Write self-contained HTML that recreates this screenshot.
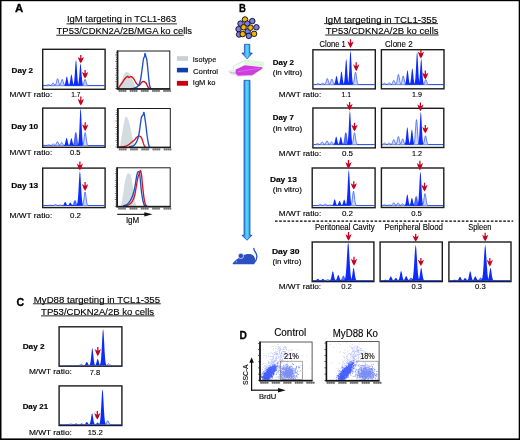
<!DOCTYPE html>
<html><head><meta charset="utf-8"><style>html,body{margin:0;padding:0;background:#fff;}svg{display:block;will-change:transform;}</style></head>
<body>
<svg width="520" height="440" viewBox="0 0 520 440" font-family='"Liberation Sans", sans-serif'>
<rect x="0" y="0" width="520" height="440" fill="#fff"/>
<text x="15.00" y="12.30" font-size="11.6" font-weight="bold" textLength="8.20" lengthAdjust="spacingAndGlyphs" fill="#000" stroke="#000" stroke-width="0.3">A</text>
<text x="67.00" y="22.30" font-size="8.5" font-weight="normal" textLength="109.20" lengthAdjust="spacingAndGlyphs" fill="#000" stroke="#000" stroke-width="0.12">IgM targeting in TCL1-863</text>
<rect x="66.50" y="23.47" width="110.40" height="0.85" fill="#000"/>
<text x="56.60" y="33.90" font-size="8.8" font-weight="normal" textLength="135.50" lengthAdjust="spacingAndGlyphs" fill="#000" stroke="#000" stroke-width="0.12">TP53/CDKN2A/2B/MGA ko cells</text>
<rect x="56.30" y="34.78" width="127.50" height="0.85" fill="#000"/>
<text x="11.60" y="73.30" font-size="7.6" font-weight="bold" textLength="21.50" lengthAdjust="spacingAndGlyphs" fill="#000" stroke="#000" stroke-width="0.15">Day 2</text>
<rect x="42.00" y="48.60" width="63.80" height="41.40" fill="#fff"/>
<clipPath id="c1"><rect x="43.40" y="50.00" width="61.00" height="38.60"/></clipPath><g clip-path="url(#c1)">
<rect x="42.00" y="86" width="63.80" height="1" fill="#e8eedc"/>
<rect x="42.00" y="85" width="63.80" height="1" fill="#3355ff"/>
<path d="M40.48,85.50 L40.91,85.50 L41.34,85.49 L41.76,85.48 L42.19,85.46 L42.62,85.42 L43.05,85.37 L43.47,85.32 L43.90,85.30 L44.33,85.32 L44.75,85.37 L45.18,85.42 L45.61,85.46 L46.04,85.48 L46.46,85.49 L46.89,85.50 L47.32,85.50 Z" fill="#cdd5ff"/>
<path d="M40.48,85.50 L40.91,85.50 L41.34,85.49 L41.76,85.48 L42.19,85.46 L42.62,85.42 L43.05,85.37 L43.47,85.32 L43.90,85.30 L44.33,85.32 L44.75,85.37 L45.18,85.42 L45.61,85.46 L46.04,85.48 L46.46,85.49 L46.89,85.50 L47.32,85.50" fill="none" stroke="#3a5cff" stroke-width="0.75"/>
<path d="M45.08,85.50 L45.51,85.49 L45.94,85.47 L46.36,85.42 L46.79,85.30 L47.22,85.10 L47.65,84.83 L48.07,84.60 L48.50,84.50 L48.93,84.60 L49.36,84.83 L49.78,85.10 L50.21,85.30 L50.64,85.42 L51.06,85.47 L51.49,85.49 L51.92,85.50 Z" fill="#cdd5ff"/>
<path d="M45.08,85.50 L45.51,85.49 L45.94,85.47 L46.36,85.42 L46.79,85.30 L47.22,85.10 L47.65,84.83 L48.07,84.60 L48.50,84.50 L48.93,84.60 L49.36,84.83 L49.78,85.10 L50.21,85.30 L50.64,85.42 L51.06,85.47 L51.49,85.49 L51.92,85.50" fill="none" stroke="#3a5cff" stroke-width="0.75"/>
<path d="M49.68,85.50 L50.11,85.48 L50.54,85.43 L50.96,85.30 L51.39,85.01 L51.82,84.49 L52.25,83.83 L52.67,83.24 L53.10,83.00 L53.53,83.24 L53.95,83.83 L54.38,84.49 L54.81,85.01 L55.24,85.30 L55.66,85.43 L56.09,85.48 L56.52,85.50 Z" fill="#cdd5ff"/>
<path d="M49.68,85.50 L50.11,85.48 L50.54,85.43 L50.96,85.30 L51.39,85.01 L51.82,84.49 L52.25,83.83 L52.67,83.24 L53.10,83.00 L53.53,83.24 L53.95,83.83 L54.38,84.49 L54.81,85.01 L55.24,85.30 L55.66,85.43 L56.09,85.48 L56.52,85.50" fill="none" stroke="#3a5cff" stroke-width="0.75"/>
<path d="M54.18,85.49 L54.61,85.45 L55.04,85.32 L55.46,84.95 L55.89,84.13 L56.32,82.73 L56.75,80.90 L57.17,79.26 L57.60,78.60 L58.03,79.26 L58.45,80.90 L58.88,82.73 L59.31,84.13 L59.74,84.95 L60.16,85.32 L60.59,85.45 L61.02,85.49 Z" fill="#cdd5ff"/>
<path d="M54.18,85.49 L54.61,85.45 L55.04,85.32 L55.46,84.95 L55.89,84.13 L56.32,82.73 L56.75,80.90 L57.17,79.26 L57.60,78.60 L58.03,79.26 L58.45,80.90 L58.88,82.73 L59.31,84.13 L59.74,84.95 L60.16,85.32 L60.59,85.45 L61.02,85.49" fill="none" stroke="#3a5cff" stroke-width="0.75"/>
<path d="M58.78,85.49 L59.21,85.46 L59.64,85.34 L60.06,85.01 L60.49,84.27 L60.92,83.01 L61.35,81.36 L61.77,79.90 L62.20,79.30 L62.63,79.90 L63.06,81.36 L63.48,83.01 L63.91,84.27 L64.34,85.01 L64.77,85.34 L65.19,85.46 L65.62,85.49 Z" fill="#cdd5ff"/>
<path d="M58.78,85.49 L59.21,85.46 L59.64,85.34 L60.06,85.01 L60.49,84.27 L60.92,83.01 L61.35,81.36 L61.77,79.90 L62.20,79.30 L62.63,79.90 L63.06,81.36 L63.48,83.01 L63.91,84.27 L64.34,85.01 L64.77,85.34 L65.19,85.46 L65.62,85.49" fill="none" stroke="#3a5cff" stroke-width="0.75"/>
<path d="M63.38,85.49 L63.81,85.44 L64.23,85.26 L64.66,84.78 L65.09,83.70 L65.52,81.84 L65.94,79.43 L66.37,77.28 L66.80,76.40 L67.23,77.28 L67.66,79.43 L68.08,81.84 L68.51,83.70 L68.94,84.78 L69.36,85.26 L69.79,85.44 L70.22,85.49 Z" fill="#0c2cff"/>
<path d="M67.98,85.48 L68.41,85.42 L68.84,85.21 L69.26,84.61 L69.69,83.28 L70.12,81.00 L70.55,78.03 L70.97,75.38 L71.40,74.30 L71.83,75.38 L72.26,78.03 L72.68,81.00 L73.11,83.28 L73.54,84.61 L73.97,85.21 L74.39,85.42 L74.82,85.48 Z" fill="#0c2cff"/>
<path d="M72.58,85.46 L73.01,85.32 L73.44,84.83 L73.86,83.45 L74.29,80.39 L74.72,75.13 L75.14,68.29 L75.57,62.18 L76.00,59.70 L76.43,62.18 L76.86,68.29 L77.28,75.13 L77.71,80.39 L78.14,83.45 L78.56,84.83 L78.99,85.32 L79.42,85.46 Z" fill="#0c2cff"/>
<path d="M77.08,85.47 L77.51,85.34 L77.94,84.92 L78.36,83.73 L78.79,81.11 L79.22,76.58 L79.64,70.69 L80.07,65.44 L80.50,63.30 L80.93,65.44 L81.36,70.69 L81.78,76.58 L82.21,81.11 L82.64,83.73 L83.06,84.92 L83.49,85.34 L83.92,85.47 Z" fill="#0c2cff"/>
<path d="M81.68,85.49 L82.11,85.46 L82.53,85.34 L82.96,85.01 L83.39,84.27 L83.82,83.01 L84.24,81.36 L84.67,79.90 L85.10,79.30 L85.53,79.90 L85.95,81.36 L86.38,83.01 L86.81,84.27 L87.24,85.01 L87.66,85.34 L88.09,85.46 L88.52,85.49 Z" fill="#cdd5ff"/>
<path d="M81.68,85.49 L82.11,85.46 L82.53,85.34 L82.96,85.01 L83.39,84.27 L83.82,83.01 L84.24,81.36 L84.67,79.90 L85.10,79.30 L85.53,79.90 L85.95,81.36 L86.38,83.01 L86.81,84.27 L87.24,85.01 L87.66,85.34 L88.09,85.46 L88.52,85.49" fill="none" stroke="#3a5cff" stroke-width="0.75"/>
</g>
<rect x="42.70" y="49.30" width="62.40" height="40.00" fill="none" stroke="#1c1c1c" stroke-width="1.4"/>
<path d="M80.17,55.10 L81.42,55.10 L81.42,58.54 L83.90,56.99 Q82.50,61.25 80.80,63.30 Q79.09,61.25 77.70,56.99 L80.17,58.54 Z" fill="#c8001e"/>
<path d="M84.47,69.90 L85.72,69.90 L85.72,73.55 L88.20,71.90 Q86.80,76.42 85.10,78.60 Q83.39,76.42 82.00,71.90 L84.47,73.55 Z" fill="#c8001e"/>
<text x="9.60" y="97.30" font-size="7.0" font-weight="normal" textLength="42.60" lengthAdjust="spacingAndGlyphs" fill="#000" stroke="#000" stroke-width="0.12">M/WT ratio:</text>
<text x="71.30" y="97.30" font-size="7.0" font-weight="normal" textLength="9.20" lengthAdjust="spacingAndGlyphs" fill="#000" stroke="#000" stroke-width="0.12">1.7</text>
<text x="11.25" y="129.30" font-size="7.6" font-weight="bold" textLength="27.00" lengthAdjust="spacingAndGlyphs" fill="#000" stroke="#000" stroke-width="0.15">Day 10</text>
<rect x="42.00" y="107.40" width="63.80" height="40.60" fill="#fff"/>
<clipPath id="c2"><rect x="43.40" y="108.80" width="61.00" height="37.80"/></clipPath><g clip-path="url(#c2)">
<rect x="42.00" y="146" width="63.80" height="1" fill="#e8eedc"/>
<rect x="42.00" y="145" width="63.80" height="1" fill="#3355ff"/>
<path d="M40.58,145.50 L41.01,145.50 L41.44,145.49 L41.86,145.48 L42.29,145.44 L42.72,145.38 L43.15,145.30 L43.57,145.23 L44.00,145.20 L44.43,145.23 L44.86,145.30 L45.28,145.38 L45.71,145.44 L46.14,145.48 L46.56,145.49 L46.99,145.50 L47.42,145.50 Z" fill="#cdd5ff"/>
<path d="M40.58,145.50 L41.01,145.50 L41.44,145.49 L41.86,145.48 L42.29,145.44 L42.72,145.38 L43.15,145.30 L43.57,145.23 L44.00,145.20 L44.43,145.23 L44.86,145.30 L45.28,145.38 L45.71,145.44 L46.14,145.48 L46.56,145.49 L46.99,145.50 L47.42,145.50" fill="none" stroke="#3a5cff" stroke-width="0.75"/>
<path d="M45.18,145.50 L45.61,145.50 L46.04,145.48 L46.46,145.44 L46.89,145.36 L47.32,145.22 L47.75,145.03 L48.17,144.87 L48.60,144.80 L49.03,144.87 L49.45,145.03 L49.88,145.22 L50.31,145.36 L50.74,145.44 L51.16,145.48 L51.59,145.50 L52.02,145.50 Z" fill="#cdd5ff"/>
<path d="M45.18,145.50 L45.61,145.50 L46.04,145.48 L46.46,145.44 L46.89,145.36 L47.32,145.22 L47.75,145.03 L48.17,144.87 L48.60,144.80 L49.03,144.87 L49.45,145.03 L49.88,145.22 L50.31,145.36 L50.74,145.44 L51.16,145.48 L51.59,145.50 L52.02,145.50" fill="none" stroke="#3a5cff" stroke-width="0.75"/>
<path d="M49.78,145.50 L50.21,145.49 L50.64,145.46 L51.06,145.38 L51.49,145.20 L51.92,144.90 L52.35,144.50 L52.77,144.14 L53.20,144.00 L53.63,144.14 L54.06,144.50 L54.48,144.90 L54.91,145.20 L55.34,145.38 L55.77,145.46 L56.19,145.49 L56.62,145.50 Z" fill="#cdd5ff"/>
<path d="M49.78,145.50 L50.21,145.49 L50.64,145.46 L51.06,145.38 L51.49,145.20 L51.92,144.90 L52.35,144.50 L52.77,144.14 L53.20,144.00 L53.63,144.14 L54.06,144.50 L54.48,144.90 L54.91,145.20 L55.34,145.38 L55.77,145.46 L56.19,145.49 L56.62,145.50" fill="none" stroke="#3a5cff" stroke-width="0.75"/>
<path d="M53.98,145.49 L54.41,145.47 L54.84,145.40 L55.26,145.20 L55.69,144.75 L56.12,143.97 L56.55,142.97 L56.97,142.07 L57.40,141.70 L57.83,142.07 L58.25,142.97 L58.68,143.97 L59.11,144.75 L59.54,145.20 L59.96,145.40 L60.39,145.47 L60.82,145.49 Z" fill="#cdd5ff"/>
<path d="M53.98,145.49 L54.41,145.47 L54.84,145.40 L55.26,145.20 L55.69,144.75 L56.12,143.97 L56.55,142.97 L56.97,142.07 L57.40,141.70 L57.83,142.07 L58.25,142.97 L58.68,143.97 L59.11,144.75 L59.54,145.20 L59.96,145.40 L60.39,145.47 L60.82,145.49" fill="none" stroke="#3a5cff" stroke-width="0.75"/>
<path d="M58.28,145.50 L58.71,145.48 L59.14,145.42 L59.56,145.26 L59.99,144.91 L60.42,144.29 L60.85,143.50 L61.27,142.79 L61.70,142.50 L62.13,142.79 L62.56,143.50 L62.98,144.29 L63.41,144.91 L63.84,145.26 L64.27,145.42 L64.69,145.48 L65.12,145.50 Z" fill="#cdd5ff"/>
<path d="M58.28,145.50 L58.71,145.48 L59.14,145.42 L59.56,145.26 L59.99,144.91 L60.42,144.29 L60.85,143.50 L61.27,142.79 L61.70,142.50 L62.13,142.79 L62.56,143.50 L62.98,144.29 L63.41,144.91 L63.84,145.26 L64.27,145.42 L64.69,145.48 L65.12,145.50" fill="none" stroke="#3a5cff" stroke-width="0.75"/>
<path d="M63.18,145.49 L63.61,145.45 L64.03,145.30 L64.46,144.88 L64.89,143.96 L65.32,142.36 L65.74,140.30 L66.17,138.45 L66.60,137.70 L67.03,138.45 L67.45,140.30 L67.88,142.36 L68.31,143.96 L68.74,144.88 L69.16,145.30 L69.59,145.45 L70.02,145.49 Z" fill="#0c2cff"/>
<path d="M67.98,145.49 L68.41,145.45 L68.84,145.31 L69.26,144.91 L69.69,144.04 L70.12,142.53 L70.55,140.56 L70.97,138.81 L71.40,138.10 L71.83,138.81 L72.26,140.56 L72.68,142.53 L73.11,144.04 L73.54,144.91 L73.97,145.31 L74.39,145.45 L74.82,145.49 Z" fill="#0c2cff"/>
<path d="M72.38,145.48 L72.81,145.41 L73.23,145.16 L73.66,144.47 L74.09,142.93 L74.52,140.27 L74.94,136.83 L75.37,133.75 L75.80,132.50 L76.23,133.75 L76.66,136.83 L77.08,140.27 L77.51,142.93 L77.94,144.47 L78.36,145.16 L78.79,145.41 L79.22,145.48 Z" fill="#5a70ff" stroke="#0c2cff" stroke-width="0.6"/>
<path d="M77.18,145.44 L77.61,145.24 L78.03,144.52 L78.46,142.50 L78.89,138.04 L79.32,130.34 L79.74,120.35 L80.17,111.43 L80.60,107.80 L81.03,111.43 L81.45,120.35 L81.88,130.34 L82.31,138.04 L82.74,142.50 L83.16,144.52 L83.59,145.24 L84.02,145.44 Z" fill="#0c2cff"/>
<path d="M81.78,145.48 L82.21,145.41 L82.64,145.16 L83.06,144.47 L83.49,142.93 L83.92,140.27 L84.34,136.83 L84.77,133.75 L85.20,132.50 L85.63,133.75 L86.06,136.83 L86.48,140.27 L86.91,142.93 L87.34,144.47 L87.77,145.16 L88.19,145.41 L88.62,145.48 Z" fill="#cdd5ff"/>
<path d="M81.78,145.48 L82.21,145.41 L82.64,145.16 L83.06,144.47 L83.49,142.93 L83.92,140.27 L84.34,136.83 L84.77,133.75 L85.20,132.50 L85.63,133.75 L86.06,136.83 L86.48,140.27 L86.91,142.93 L87.34,144.47 L87.77,145.16 L88.19,145.41 L88.62,145.48" fill="none" stroke="#3a5cff" stroke-width="0.75"/>
</g>
<rect x="42.70" y="108.10" width="62.40" height="39.20" fill="none" stroke="#1c1c1c" stroke-width="1.4"/>
<path d="M80.17,96.60 L81.42,96.60 L81.42,100.38 L83.90,98.67 Q82.50,103.35 80.80,105.60 Q79.09,103.35 77.70,98.67 L80.17,100.38 Z" fill="#c8001e"/>
<path d="M84.58,122.30 L85.83,122.30 L85.83,126.04 L88.30,124.35 Q86.91,128.97 85.20,131.20 Q83.50,128.97 82.10,124.35 L84.58,126.04 Z" fill="#c8001e"/>
<text x="9.60" y="155.00" font-size="7.0" font-weight="normal" textLength="42.60" lengthAdjust="spacingAndGlyphs" fill="#000" stroke="#000" stroke-width="0.12">M/WT ratio:</text>
<text x="70.00" y="155.00" font-size="7.0" font-weight="normal" textLength="10.50" lengthAdjust="spacingAndGlyphs" fill="#000" stroke="#000" stroke-width="0.12">0.5</text>
<text x="11.25" y="187.50" font-size="7.6" font-weight="bold" textLength="27.00" lengthAdjust="spacingAndGlyphs" fill="#000" stroke="#000" stroke-width="0.15">Day 13</text>
<rect x="42.00" y="167.40" width="63.80" height="40.90" fill="#fff"/>
<clipPath id="c3"><rect x="43.40" y="168.80" width="61.00" height="38.10"/></clipPath><g clip-path="url(#c3)">
<rect x="42.00" y="206" width="63.80" height="1" fill="#e8eedc"/>
<rect x="42.00" y="205" width="63.80" height="1" fill="#3355ff"/>
<path d="M47.08,205.50 L47.51,205.50 L47.94,205.49 L48.36,205.48 L48.79,205.44 L49.22,205.38 L49.65,205.30 L50.07,205.23 L50.50,205.20 L50.93,205.23 L51.36,205.30 L51.78,205.38 L52.21,205.44 L52.64,205.48 L53.06,205.49 L53.49,205.50 L53.92,205.50 Z" fill="#cdd5ff"/>
<path d="M47.08,205.50 L47.51,205.50 L47.94,205.49 L48.36,205.48 L48.79,205.44 L49.22,205.38 L49.65,205.30 L50.07,205.23 L50.50,205.20 L50.93,205.23 L51.36,205.30 L51.78,205.38 L52.21,205.44 L52.64,205.48 L53.06,205.49 L53.49,205.50 L53.92,205.50" fill="none" stroke="#3a5cff" stroke-width="0.75"/>
<path d="M51.98,205.50 L52.41,205.49 L52.84,205.47 L53.26,205.41 L53.69,205.28 L54.12,205.06 L54.55,204.77 L54.97,204.51 L55.40,204.40 L55.83,204.51 L56.25,204.77 L56.68,205.06 L57.11,205.28 L57.54,205.41 L57.96,205.47 L58.39,205.49 L58.82,205.50 Z" fill="#cdd5ff"/>
<path d="M51.98,205.50 L52.41,205.49 L52.84,205.47 L53.26,205.41 L53.69,205.28 L54.12,205.06 L54.55,204.77 L54.97,204.51 L55.40,204.40 L55.83,204.51 L56.25,204.77 L56.68,205.06 L57.11,205.28 L57.54,205.41 L57.96,205.47 L58.39,205.49 L58.82,205.50" fill="none" stroke="#3a5cff" stroke-width="0.75"/>
<path d="M56.88,205.50 L57.31,205.50 L57.73,205.49 L58.16,205.46 L58.59,205.40 L59.02,205.30 L59.45,205.17 L59.87,205.05 L60.30,205.00 L60.73,205.05 L61.16,205.17 L61.58,205.30 L62.01,205.40 L62.44,205.46 L62.86,205.49 L63.29,205.50 L63.72,205.50 Z" fill="#cdd5ff"/>
<path d="M56.88,205.50 L57.31,205.50 L57.73,205.49 L58.16,205.46 L58.59,205.40 L59.02,205.30 L59.45,205.17 L59.87,205.05 L60.30,205.00 L60.73,205.05 L61.16,205.17 L61.58,205.30 L62.01,205.40 L62.44,205.46 L62.86,205.49 L63.29,205.50 L63.72,205.50" fill="none" stroke="#3a5cff" stroke-width="0.75"/>
<path d="M61.78,205.49 L62.21,205.47 L62.64,205.40 L63.06,205.21 L63.49,204.77 L63.92,204.01 L64.34,203.03 L64.77,202.16 L65.20,201.80 L65.63,202.16 L66.06,203.03 L66.48,204.01 L66.91,204.77 L67.34,205.21 L67.77,205.40 L68.19,205.47 L68.62,205.49 Z" fill="#0c2cff"/>
<path d="M66.88,205.50 L67.31,205.48 L67.73,205.42 L68.16,205.25 L68.59,204.89 L69.02,204.25 L69.44,203.43 L69.87,202.70 L70.30,202.40 L70.73,202.70 L71.16,203.43 L71.58,204.25 L72.01,204.89 L72.44,205.25 L72.86,205.42 L73.29,205.48 L73.72,205.50 Z" fill="#0c2cff"/>
<path d="M71.58,205.49 L72.01,205.46 L72.44,205.37 L72.86,205.09 L73.29,204.49 L73.72,203.45 L74.14,202.10 L74.57,200.89 L75.00,200.40 L75.43,200.89 L75.86,202.10 L76.28,203.45 L76.71,204.49 L77.14,205.09 L77.56,205.37 L77.99,205.46 L78.42,205.49 Z" fill="#5a70ff" stroke="#0c2cff" stroke-width="0.6"/>
<path d="M75.94,205.45 L76.44,205.26 L76.93,204.60 L77.43,202.76 L77.92,198.67 L78.42,191.63 L78.91,182.49 L79.41,174.32 L79.90,171.00 L80.40,174.32 L80.89,182.49 L81.39,191.63 L81.88,198.67 L82.38,202.76 L82.87,204.60 L83.37,205.26 L83.86,205.45 Z" fill="#0c2cff"/>
<path d="M81.68,205.48 L82.11,205.41 L82.53,205.15 L82.96,204.43 L83.39,202.83 L83.82,200.07 L84.24,196.50 L84.67,193.30 L85.10,192.00 L85.53,193.30 L85.95,196.50 L86.38,200.07 L86.81,202.83 L87.24,204.43 L87.66,205.15 L88.09,205.41 L88.52,205.48 Z" fill="#cdd5ff"/>
<path d="M81.68,205.48 L82.11,205.41 L82.53,205.15 L82.96,204.43 L83.39,202.83 L83.82,200.07 L84.24,196.50 L84.67,193.30 L85.10,192.00 L85.53,193.30 L85.95,196.50 L86.38,200.07 L86.81,202.83 L87.24,204.43 L87.66,205.15 L88.09,205.41 L88.52,205.48" fill="none" stroke="#3a5cff" stroke-width="0.75"/>
</g>
<rect x="42.70" y="168.10" width="62.40" height="39.50" fill="none" stroke="#1c1c1c" stroke-width="1.4"/>
<path d="M79.28,161.50 L80.53,161.50 L80.53,165.24 L83.00,163.55 Q81.61,168.18 79.90,170.40 Q78.20,168.18 76.80,163.55 L79.28,165.24 Z" fill="#c8001e"/>
<path d="M84.47,181.90 L85.72,181.90 L85.72,185.72 L88.20,183.99 Q86.80,188.72 85.10,191.00 Q83.39,188.72 82.00,183.99 L84.47,185.72 Z" fill="#c8001e"/>
<text x="9.60" y="217.50" font-size="7.0" font-weight="normal" textLength="42.60" lengthAdjust="spacingAndGlyphs" fill="#000" stroke="#000" stroke-width="0.12">M/WT ratio:</text>
<text x="70.00" y="217.50" font-size="7.0" font-weight="normal" textLength="11.00" lengthAdjust="spacingAndGlyphs" fill="#000" stroke="#000" stroke-width="0.12">0.2</text>
<rect x="117.00" y="50.50" width="53.30" height="39.00" fill="#fff"/>
<path d="M118.00,88.60 C118.50,87.50 119.92,84.52 121.00,82.00 C122.08,79.48 123.47,75.17 124.50,73.50 C125.53,71.83 126.28,71.83 127.20,72.00 C128.12,72.17 129.03,73.08 130.00,74.50 C130.97,75.92 132.08,78.42 133.00,80.50 C133.92,82.58 134.92,85.65 135.50,87.00 C136.08,88.35 136.33,88.33 136.50,88.60 Z" fill="#d3dde0"/>
<path d="M118.00,88.80 C118.67,87.83 120.83,84.72 122.00,83.00 C123.17,81.28 124.08,79.58 125.00,78.50 C125.92,77.42 126.83,76.67 127.50,76.50 C128.17,76.33 128.42,77.50 129.00,77.50 C129.58,77.50 130.25,76.33 131.00,76.50 C131.75,76.67 132.58,77.33 133.50,78.50 C134.42,79.67 135.58,82.33 136.50,83.50 C137.42,84.67 138.17,85.67 139.00,85.50 C139.83,85.33 140.75,83.17 141.50,82.50 C142.25,81.83 142.75,81.42 143.50,81.50 C144.25,81.58 145.25,82.08 146.00,83.00 C146.75,83.92 147.33,86.03 148.00,87.00 C148.67,87.97 149.67,88.50 150.00,88.80" fill="none" stroke="#d8141e" stroke-width="1.35" stroke-linejoin="round"/>
<path d="M130.00,88.90 C130.83,88.75 133.58,88.57 135.00,88.00 C136.42,87.43 137.58,86.83 138.50,85.50 C139.42,84.17 139.92,82.58 140.50,80.00 C141.08,77.42 141.50,73.50 142.00,70.00 C142.50,66.50 143.08,61.25 143.50,59.00 C143.92,56.75 144.25,57.42 144.50,56.50 C144.75,55.58 144.75,53.42 145.00,53.50 C145.25,53.58 145.67,55.75 146.00,57.00 C146.33,58.25 146.58,57.83 147.00,61.00 C147.42,64.17 148.08,72.00 148.50,76.00 C148.92,80.00 149.08,82.85 149.50,85.00 C149.92,87.15 150.75,88.25 151.00,88.90" fill="none" stroke="#1f4fc8" stroke-width="1.35" stroke-linejoin="round"/>
<rect x="117.50" y="51.00" width="52.30" height="38.00" fill="none" stroke="#1c1c1c" stroke-width="1"/>
<rect x="116.70" y="50.50" width="1.7" height="39.00" fill="#1c1c1c"/>
<rect x="116.70" y="88.10" width="53.60" height="1.6" fill="#1c1c1c"/>
<rect x="115.20" y="88.20" width="1.80" height="0.6" fill="#1c1c1c"/>
<rect x="115.90" y="85.96" width="1.10" height="0.6" fill="#1c1c1c"/>
<rect x="115.90" y="83.73" width="1.10" height="0.6" fill="#1c1c1c"/>
<rect x="115.20" y="81.49" width="1.80" height="0.6" fill="#1c1c1c"/>
<rect x="115.90" y="79.26" width="1.10" height="0.6" fill="#1c1c1c"/>
<rect x="115.90" y="77.02" width="1.10" height="0.6" fill="#1c1c1c"/>
<rect x="115.20" y="74.79" width="1.80" height="0.6" fill="#1c1c1c"/>
<rect x="115.90" y="72.55" width="1.10" height="0.6" fill="#1c1c1c"/>
<rect x="115.90" y="70.32" width="1.10" height="0.6" fill="#1c1c1c"/>
<rect x="115.20" y="68.08" width="1.80" height="0.6" fill="#1c1c1c"/>
<rect x="115.90" y="65.85" width="1.10" height="0.6" fill="#1c1c1c"/>
<rect x="115.90" y="63.61" width="1.10" height="0.6" fill="#1c1c1c"/>
<rect x="115.20" y="61.38" width="1.80" height="0.6" fill="#1c1c1c"/>
<rect x="115.90" y="59.14" width="1.10" height="0.6" fill="#1c1c1c"/>
<rect x="115.90" y="56.91" width="1.10" height="0.6" fill="#1c1c1c"/>
<rect x="115.20" y="54.67" width="1.80" height="0.6" fill="#1c1c1c"/>
<rect x="115.90" y="52.44" width="1.10" height="0.6" fill="#1c1c1c"/>
<rect x="118.50" y="90.00" width="8" height="1.8" fill="#333" opacity="0.55"/>
<rect x="119.00" y="89.70" width="0.8" height="2.4" fill="#222" opacity="0.35"/>
<rect x="121.00" y="89.70" width="0.8" height="2.4" fill="#222" opacity="0.35"/>
<rect x="123.00" y="89.70" width="0.8" height="2.4" fill="#222" opacity="0.35"/>
<rect x="125.00" y="89.70" width="0.8" height="2.4" fill="#222" opacity="0.35"/>
<rect x="129.65" y="90.00" width="8" height="1.8" fill="#333" opacity="0.55"/>
<rect x="130.15" y="89.70" width="0.8" height="2.4" fill="#222" opacity="0.35"/>
<rect x="132.15" y="89.70" width="0.8" height="2.4" fill="#222" opacity="0.35"/>
<rect x="134.15" y="89.70" width="0.8" height="2.4" fill="#222" opacity="0.35"/>
<rect x="136.15" y="89.70" width="0.8" height="2.4" fill="#222" opacity="0.35"/>
<rect x="140.80" y="90.00" width="8" height="1.8" fill="#333" opacity="0.55"/>
<rect x="141.30" y="89.70" width="0.8" height="2.4" fill="#222" opacity="0.35"/>
<rect x="143.30" y="89.70" width="0.8" height="2.4" fill="#222" opacity="0.35"/>
<rect x="145.30" y="89.70" width="0.8" height="2.4" fill="#222" opacity="0.35"/>
<rect x="147.30" y="89.70" width="0.8" height="2.4" fill="#222" opacity="0.35"/>
<rect x="151.96" y="90.00" width="8" height="1.8" fill="#333" opacity="0.55"/>
<rect x="152.46" y="89.70" width="0.8" height="2.4" fill="#222" opacity="0.35"/>
<rect x="154.46" y="89.70" width="0.8" height="2.4" fill="#222" opacity="0.35"/>
<rect x="156.46" y="89.70" width="0.8" height="2.4" fill="#222" opacity="0.35"/>
<rect x="158.46" y="89.70" width="0.8" height="2.4" fill="#222" opacity="0.35"/>
<rect x="163.11" y="90.00" width="8" height="1.8" fill="#333" opacity="0.55"/>
<rect x="163.61" y="89.70" width="0.8" height="2.4" fill="#222" opacity="0.35"/>
<rect x="165.61" y="89.70" width="0.8" height="2.4" fill="#222" opacity="0.35"/>
<rect x="167.61" y="89.70" width="0.8" height="2.4" fill="#222" opacity="0.35"/>
<rect x="169.61" y="89.70" width="0.8" height="2.4" fill="#222" opacity="0.35"/>
<rect x="117.30" y="108.00" width="53.50" height="40.00" fill="#fff"/>
<path d="M120.00,146.60 C120.42,144.00 121.67,135.77 122.50,131.00 C123.33,126.23 124.42,120.33 125.00,118.00 C125.58,115.67 125.50,116.92 126.00,117.00 C126.50,117.08 127.33,117.00 128.00,118.50 C128.67,120.00 129.33,123.08 130.00,126.00 C130.67,128.92 131.42,133.33 132.00,136.00 C132.58,138.67 133.00,140.23 133.50,142.00 C134.00,143.77 134.75,145.83 135.00,146.60 Z" fill="#d3dde0"/>
<path d="M119.00,147.00 C120.00,146.92 123.33,146.92 125.00,146.50 C126.67,146.08 127.83,145.25 129.00,144.50 C130.17,143.75 131.08,142.75 132.00,142.00 C132.92,141.25 133.75,140.75 134.50,140.00 C135.25,139.25 135.75,138.13 136.50,137.50 C137.25,136.87 138.33,136.37 139.00,136.20 C139.67,136.03 140.00,136.03 140.50,136.50 C141.00,136.97 141.42,137.58 142.00,139.00 C142.58,140.42 143.42,143.67 144.00,145.00 C144.58,146.33 145.25,146.67 145.50,147.00" fill="none" stroke="#d8141e" stroke-width="1.35" stroke-linejoin="round"/>
<path d="M129.00,147.00 C129.83,146.75 132.67,146.50 134.00,145.50 C135.33,144.50 136.17,142.92 137.00,141.00 C137.83,139.08 138.42,136.92 139.00,134.00 C139.58,131.08 140.08,126.33 140.50,123.50 C140.92,120.67 141.08,118.42 141.50,117.00 C141.92,115.58 142.58,115.75 143.00,115.00 C143.42,114.25 143.67,111.83 144.00,112.50 C144.33,113.17 144.67,116.75 145.00,119.00 C145.33,121.25 145.67,123.33 146.00,126.00 C146.33,128.67 146.58,132.00 147.00,135.00 C147.42,138.00 148.08,142.00 148.50,144.00 C148.92,146.00 149.33,146.50 149.50,147.00" fill="none" stroke="#1f4fc8" stroke-width="1.35" stroke-linejoin="round"/>
<rect x="117.80" y="108.50" width="52.50" height="39.00" fill="none" stroke="#1c1c1c" stroke-width="1"/>
<rect x="117.00" y="108.00" width="1.7" height="40.00" fill="#1c1c1c"/>
<rect x="117.00" y="146.60" width="53.80" height="1.6" fill="#1c1c1c"/>
<rect x="115.50" y="146.70" width="1.80" height="0.6" fill="#1c1c1c"/>
<rect x="116.20" y="144.53" width="1.10" height="0.6" fill="#1c1c1c"/>
<rect x="116.20" y="142.37" width="1.10" height="0.6" fill="#1c1c1c"/>
<rect x="115.50" y="140.20" width="1.80" height="0.6" fill="#1c1c1c"/>
<rect x="116.20" y="138.03" width="1.10" height="0.6" fill="#1c1c1c"/>
<rect x="116.20" y="135.87" width="1.10" height="0.6" fill="#1c1c1c"/>
<rect x="115.50" y="133.70" width="1.80" height="0.6" fill="#1c1c1c"/>
<rect x="116.20" y="131.53" width="1.10" height="0.6" fill="#1c1c1c"/>
<rect x="116.20" y="129.37" width="1.10" height="0.6" fill="#1c1c1c"/>
<rect x="115.50" y="127.20" width="1.80" height="0.6" fill="#1c1c1c"/>
<rect x="116.20" y="125.03" width="1.10" height="0.6" fill="#1c1c1c"/>
<rect x="116.20" y="122.87" width="1.10" height="0.6" fill="#1c1c1c"/>
<rect x="115.50" y="120.70" width="1.80" height="0.6" fill="#1c1c1c"/>
<rect x="116.20" y="118.53" width="1.10" height="0.6" fill="#1c1c1c"/>
<rect x="116.20" y="116.37" width="1.10" height="0.6" fill="#1c1c1c"/>
<rect x="115.50" y="114.20" width="1.80" height="0.6" fill="#1c1c1c"/>
<rect x="116.20" y="112.03" width="1.10" height="0.6" fill="#1c1c1c"/>
<rect x="116.20" y="109.87" width="1.10" height="0.6" fill="#1c1c1c"/>
<rect x="118.80" y="148.50" width="8" height="1.8" fill="#333" opacity="0.55"/>
<rect x="119.30" y="148.20" width="0.8" height="2.4" fill="#222" opacity="0.35"/>
<rect x="121.30" y="148.20" width="0.8" height="2.4" fill="#222" opacity="0.35"/>
<rect x="123.30" y="148.20" width="0.8" height="2.4" fill="#222" opacity="0.35"/>
<rect x="125.30" y="148.20" width="0.8" height="2.4" fill="#222" opacity="0.35"/>
<rect x="130.00" y="148.50" width="8" height="1.8" fill="#333" opacity="0.55"/>
<rect x="130.50" y="148.20" width="0.8" height="2.4" fill="#222" opacity="0.35"/>
<rect x="132.50" y="148.20" width="0.8" height="2.4" fill="#222" opacity="0.35"/>
<rect x="134.50" y="148.20" width="0.8" height="2.4" fill="#222" opacity="0.35"/>
<rect x="136.50" y="148.20" width="0.8" height="2.4" fill="#222" opacity="0.35"/>
<rect x="141.19" y="148.50" width="8" height="1.8" fill="#333" opacity="0.55"/>
<rect x="141.69" y="148.20" width="0.8" height="2.4" fill="#222" opacity="0.35"/>
<rect x="143.69" y="148.20" width="0.8" height="2.4" fill="#222" opacity="0.35"/>
<rect x="145.69" y="148.20" width="0.8" height="2.4" fill="#222" opacity="0.35"/>
<rect x="147.69" y="148.20" width="0.8" height="2.4" fill="#222" opacity="0.35"/>
<rect x="152.39" y="148.50" width="8" height="1.8" fill="#333" opacity="0.55"/>
<rect x="152.89" y="148.20" width="0.8" height="2.4" fill="#222" opacity="0.35"/>
<rect x="154.89" y="148.20" width="0.8" height="2.4" fill="#222" opacity="0.35"/>
<rect x="156.89" y="148.20" width="0.8" height="2.4" fill="#222" opacity="0.35"/>
<rect x="158.89" y="148.20" width="0.8" height="2.4" fill="#222" opacity="0.35"/>
<rect x="163.58" y="148.50" width="8" height="1.8" fill="#333" opacity="0.55"/>
<rect x="164.08" y="148.20" width="0.8" height="2.4" fill="#222" opacity="0.35"/>
<rect x="166.08" y="148.20" width="0.8" height="2.4" fill="#222" opacity="0.35"/>
<rect x="168.08" y="148.20" width="0.8" height="2.4" fill="#222" opacity="0.35"/>
<rect x="170.08" y="148.20" width="0.8" height="2.4" fill="#222" opacity="0.35"/>
<rect x="116.60" y="167.30" width="54.10" height="39.90" fill="#fff"/>
<path d="M121.00,205.80 C121.33,204.00 122.33,199.13 123.00,195.00 C123.67,190.87 124.33,184.42 125.00,181.00 C125.67,177.58 126.33,175.75 127.00,174.50 C127.67,173.25 128.33,173.25 129.00,173.50 C129.67,173.75 130.42,174.08 131.00,176.00 C131.58,177.92 132.00,181.83 132.50,185.00 C133.00,188.17 133.50,192.00 134.00,195.00 C134.50,198.00 135.08,201.20 135.50,203.00 C135.92,204.80 136.33,205.33 136.50,205.80 Z" fill="#d3dde0"/>
<path d="M126.00,206.00 C126.67,205.67 128.83,205.00 130.00,204.00 C131.17,203.00 132.17,201.67 133.00,200.00 C133.83,198.33 134.42,196.50 135.00,194.00 C135.58,191.50 136.00,187.83 136.50,185.00 C137.00,182.17 137.50,179.00 138.00,177.00 C138.50,175.00 139.08,174.08 139.50,173.00 C139.92,171.92 140.17,170.25 140.50,170.50 C140.83,170.75 141.17,172.08 141.50,174.50 C141.83,176.92 142.08,181.08 142.50,185.00 C142.92,188.92 143.50,194.75 144.00,198.00 C144.50,201.25 145.00,203.17 145.50,204.50 C146.00,205.83 146.75,205.75 147.00,206.00" fill="none" stroke="#d8141e" stroke-width="1.35" stroke-linejoin="round"/>
<path d="M123.00,206.00 C123.67,205.75 125.83,205.33 127.00,204.50 C128.17,203.67 129.08,202.42 130.00,201.00 C130.92,199.58 131.75,198.00 132.50,196.00 C133.25,194.00 133.92,191.67 134.50,189.00 C135.08,186.33 135.58,182.42 136.00,180.00 C136.42,177.58 136.67,175.87 137.00,174.50 C137.33,173.13 137.58,172.05 138.00,171.80 C138.42,171.55 139.08,171.30 139.50,173.00 C139.92,174.70 140.17,178.83 140.50,182.00 C140.83,185.17 141.08,188.83 141.50,192.00 C141.92,195.17 142.50,198.73 143.00,201.00 C143.50,203.27 144.08,204.77 144.50,205.60 C144.92,206.43 145.33,205.93 145.50,206.00" fill="none" stroke="#1f4fc8" stroke-width="1.35" stroke-linejoin="round"/>
<rect x="117.10" y="167.80" width="53.10" height="38.90" fill="none" stroke="#1c1c1c" stroke-width="1"/>
<rect x="116.30" y="167.30" width="1.7" height="39.90" fill="#1c1c1c"/>
<rect x="116.30" y="205.80" width="54.40" height="1.6" fill="#1c1c1c"/>
<rect x="114.80" y="205.90" width="1.80" height="0.6" fill="#1c1c1c"/>
<rect x="115.50" y="203.74" width="1.10" height="0.6" fill="#1c1c1c"/>
<rect x="115.50" y="201.58" width="1.10" height="0.6" fill="#1c1c1c"/>
<rect x="114.80" y="199.42" width="1.80" height="0.6" fill="#1c1c1c"/>
<rect x="115.50" y="197.26" width="1.10" height="0.6" fill="#1c1c1c"/>
<rect x="115.50" y="195.09" width="1.10" height="0.6" fill="#1c1c1c"/>
<rect x="114.80" y="192.93" width="1.80" height="0.6" fill="#1c1c1c"/>
<rect x="115.50" y="190.77" width="1.10" height="0.6" fill="#1c1c1c"/>
<rect x="115.50" y="188.61" width="1.10" height="0.6" fill="#1c1c1c"/>
<rect x="114.80" y="186.45" width="1.80" height="0.6" fill="#1c1c1c"/>
<rect x="115.50" y="184.29" width="1.10" height="0.6" fill="#1c1c1c"/>
<rect x="115.50" y="182.13" width="1.10" height="0.6" fill="#1c1c1c"/>
<rect x="114.80" y="179.97" width="1.80" height="0.6" fill="#1c1c1c"/>
<rect x="115.50" y="177.81" width="1.10" height="0.6" fill="#1c1c1c"/>
<rect x="115.50" y="175.64" width="1.10" height="0.6" fill="#1c1c1c"/>
<rect x="114.80" y="173.48" width="1.80" height="0.6" fill="#1c1c1c"/>
<rect x="115.50" y="171.32" width="1.10" height="0.6" fill="#1c1c1c"/>
<rect x="115.50" y="169.16" width="1.10" height="0.6" fill="#1c1c1c"/>
<rect x="118.10" y="207.70" width="8" height="1.8" fill="#333" opacity="0.55"/>
<rect x="118.60" y="207.40" width="0.8" height="2.4" fill="#222" opacity="0.35"/>
<rect x="120.60" y="207.40" width="0.8" height="2.4" fill="#222" opacity="0.35"/>
<rect x="122.60" y="207.40" width="0.8" height="2.4" fill="#222" opacity="0.35"/>
<rect x="124.60" y="207.40" width="0.8" height="2.4" fill="#222" opacity="0.35"/>
<rect x="129.43" y="207.70" width="8" height="1.8" fill="#333" opacity="0.55"/>
<rect x="129.93" y="207.40" width="0.8" height="2.4" fill="#222" opacity="0.35"/>
<rect x="131.93" y="207.40" width="0.8" height="2.4" fill="#222" opacity="0.35"/>
<rect x="133.93" y="207.40" width="0.8" height="2.4" fill="#222" opacity="0.35"/>
<rect x="135.93" y="207.40" width="0.8" height="2.4" fill="#222" opacity="0.35"/>
<rect x="140.75" y="207.70" width="8" height="1.8" fill="#333" opacity="0.55"/>
<rect x="141.25" y="207.40" width="0.8" height="2.4" fill="#222" opacity="0.35"/>
<rect x="143.25" y="207.40" width="0.8" height="2.4" fill="#222" opacity="0.35"/>
<rect x="145.25" y="207.40" width="0.8" height="2.4" fill="#222" opacity="0.35"/>
<rect x="147.25" y="207.40" width="0.8" height="2.4" fill="#222" opacity="0.35"/>
<rect x="152.08" y="207.70" width="8" height="1.8" fill="#333" opacity="0.55"/>
<rect x="152.58" y="207.40" width="0.8" height="2.4" fill="#222" opacity="0.35"/>
<rect x="154.58" y="207.40" width="0.8" height="2.4" fill="#222" opacity="0.35"/>
<rect x="156.58" y="207.40" width="0.8" height="2.4" fill="#222" opacity="0.35"/>
<rect x="158.58" y="207.40" width="0.8" height="2.4" fill="#222" opacity="0.35"/>
<rect x="163.40" y="207.70" width="8" height="1.8" fill="#333" opacity="0.55"/>
<rect x="163.90" y="207.40" width="0.8" height="2.4" fill="#222" opacity="0.35"/>
<rect x="165.90" y="207.40" width="0.8" height="2.4" fill="#222" opacity="0.35"/>
<rect x="167.90" y="207.40" width="0.8" height="2.4" fill="#222" opacity="0.35"/>
<rect x="169.90" y="207.40" width="0.8" height="2.4" fill="#222" opacity="0.35"/>
<rect x="117.2" y="213.8" width="28" height="1.1" fill="#111"/>
<path d="M144.3,212.2 L152.6,214.35 L144.3,216.5 Z" fill="#111"/>
<text x="125.90" y="222.90" font-size="8.2" font-weight="normal" textLength="13.40" lengthAdjust="spacingAndGlyphs" fill="#000" stroke="#000" stroke-width="0.12">IgM</text>
<rect x="176.9" y="56.2" width="11.1" height="4.6" fill="#c8d0d6"/>
<rect x="176.9" y="67.8" width="11.1" height="4.6" fill="#0e3fb0"/>
<rect x="176.9" y="80.9" width="11.1" height="4.8" fill="#c8000f"/>
<text x="192.80" y="61.60" font-size="7.4" font-weight="normal" textLength="23.40" lengthAdjust="spacingAndGlyphs" fill="#000" stroke="#000" stroke-width="0.12">Isotype</text>
<text x="193.00" y="73.50" font-size="7.4" font-weight="normal" textLength="25.00" lengthAdjust="spacingAndGlyphs" fill="#000" stroke="#000" stroke-width="0.12">Control</text>
<text x="192.80" y="85.30" font-size="7.4" font-weight="normal" textLength="22.60" lengthAdjust="spacingAndGlyphs" fill="#000" stroke="#000" stroke-width="0.12">IgM ko</text>
<text x="239.00" y="12.30" font-size="11.6" font-weight="bold" textLength="6.90" lengthAdjust="spacingAndGlyphs" fill="#000" stroke="#000" stroke-width="0.3">B</text>
<text x="325.20" y="22.60" font-size="8.5" font-weight="normal" textLength="111.90" lengthAdjust="spacingAndGlyphs" fill="#000" stroke="#000" stroke-width="0.12">IgM targeting in TCL1-355</text>
<rect x="324.00" y="23.27" width="114.00" height="0.85" fill="#000"/>
<text x="325.80" y="33.85" font-size="8.8" font-weight="normal" textLength="112.80" lengthAdjust="spacingAndGlyphs" fill="#000" stroke="#000" stroke-width="0.12">TP53/CDKN2A/2B ko cells</text>
<rect x="325.20" y="34.58" width="113.40" height="0.85" fill="#000"/>
<text x="319.60" y="46.50" font-size="8.4" font-weight="normal" textLength="26.10" lengthAdjust="spacingAndGlyphs" fill="#000" stroke="#000" stroke-width="0.12">Clone 1</text>
<text x="385.10" y="46.60" font-size="8.4" font-weight="normal" textLength="27.50" lengthAdjust="spacingAndGlyphs" fill="#000" stroke="#000" stroke-width="0.12">Clone 2</text>
<text x="272.80" y="65.00" font-size="7.6" font-weight="bold" textLength="21.20" lengthAdjust="spacingAndGlyphs" fill="#000" stroke="#000" stroke-width="0.15">Day 2</text>
<text x="272.80" y="75.30" font-size="7.0" font-weight="normal" textLength="29.40" lengthAdjust="spacingAndGlyphs" fill="#000" stroke="#000" stroke-width="0.12">(in vitro)</text>
<text x="278.80" y="97.30" font-size="7.0" font-weight="normal" textLength="42.40" lengthAdjust="spacingAndGlyphs" fill="#000" stroke="#000" stroke-width="0.12">M/WT ratio:</text>
<rect x="312.20" y="49.10" width="63.80" height="40.50" fill="#fff"/>
<clipPath id="c4"><rect x="313.60" y="50.50" width="61.00" height="37.70"/></clipPath><g clip-path="url(#c4)">
<rect x="312.20" y="85" width="63.80" height="1" fill="#e8eedc"/>
<rect x="312.20" y="84" width="63.80" height="1" fill="#3355ff"/>
<path d="M314.68,84.50 L315.11,84.49 L315.54,84.48 L315.96,84.43 L316.39,84.32 L316.82,84.14 L317.25,83.90 L317.67,83.69 L318.10,83.60 L318.53,83.69 L318.96,83.90 L319.38,84.14 L319.81,84.32 L320.24,84.43 L320.67,84.48 L321.09,84.49 L321.52,84.50 Z" fill="#cdd5ff"/>
<path d="M314.68,84.50 L315.11,84.49 L315.54,84.48 L315.96,84.43 L316.39,84.32 L316.82,84.14 L317.25,83.90 L317.67,83.69 L318.10,83.60 L318.53,83.69 L318.96,83.90 L319.38,84.14 L319.81,84.32 L320.24,84.43 L320.67,84.48 L321.09,84.49 L321.52,84.50" fill="none" stroke="#3a5cff" stroke-width="0.75"/>
<path d="M319.28,84.50 L319.71,84.49 L320.13,84.47 L320.56,84.40 L320.99,84.24 L321.42,83.98 L321.84,83.63 L322.27,83.33 L322.70,83.20 L323.13,83.33 L323.56,83.63 L323.98,83.98 L324.41,84.24 L324.84,84.40 L325.26,84.47 L325.69,84.49 L326.12,84.50 Z" fill="#cdd5ff"/>
<path d="M319.28,84.50 L319.71,84.49 L320.13,84.47 L320.56,84.40 L320.99,84.24 L321.42,83.98 L321.84,83.63 L322.27,83.33 L322.70,83.20 L323.13,83.33 L323.56,83.63 L323.98,83.98 L324.41,84.24 L324.84,84.40 L325.26,84.47 L325.69,84.49 L326.12,84.50" fill="none" stroke="#3a5cff" stroke-width="0.75"/>
<path d="M323.88,84.49 L324.31,84.46 L324.74,84.34 L325.16,84.02 L325.59,83.31 L326.02,82.09 L326.44,80.50 L326.87,79.08 L327.30,78.50 L327.73,79.08 L328.16,80.50 L328.58,82.09 L329.01,83.31 L329.44,84.02 L329.87,84.34 L330.29,84.46 L330.72,84.49 Z" fill="#cdd5ff"/>
<path d="M323.88,84.49 L324.31,84.46 L324.74,84.34 L325.16,84.02 L325.59,83.31 L326.02,82.09 L326.44,80.50 L326.87,79.08 L327.30,78.50 L327.73,79.08 L328.16,80.50 L328.58,82.09 L329.01,83.31 L329.44,84.02 L329.87,84.34 L330.29,84.46 L330.72,84.49" fill="none" stroke="#3a5cff" stroke-width="0.75"/>
<path d="M328.48,84.49 L328.91,84.46 L329.33,84.36 L329.76,84.06 L330.19,83.41 L330.62,82.29 L331.04,80.83 L331.47,79.53 L331.90,79.00 L332.33,79.53 L332.75,80.83 L333.18,82.29 L333.61,83.41 L334.04,84.06 L334.46,84.36 L334.89,84.46 L335.32,84.49 Z" fill="#cdd5ff"/>
<path d="M328.48,84.49 L328.91,84.46 L329.33,84.36 L329.76,84.06 L330.19,83.41 L330.62,82.29 L331.04,80.83 L331.47,79.53 L331.90,79.00 L332.33,79.53 L332.75,80.83 L333.18,82.29 L333.61,83.41 L334.04,84.06 L334.46,84.36 L334.89,84.46 L335.32,84.49" fill="none" stroke="#3a5cff" stroke-width="0.75"/>
<path d="M333.08,84.49 L333.51,84.44 L333.94,84.27 L334.36,83.81 L334.79,82.78 L335.22,81.00 L335.64,78.70 L336.07,76.64 L336.50,75.80 L336.93,76.64 L337.36,78.70 L337.78,81.00 L338.21,82.78 L338.64,83.81 L339.06,84.27 L339.49,84.44 L339.92,84.49 Z" fill="#0c2cff"/>
<path d="M338.08,84.48 L338.51,84.41 L338.94,84.15 L339.36,83.44 L339.79,81.87 L340.22,79.15 L340.64,75.63 L341.07,72.48 L341.50,71.20 L341.93,72.48 L342.36,75.63 L342.78,79.15 L343.21,81.87 L343.64,83.44 L344.06,84.15 L344.49,84.41 L344.92,84.48 Z" fill="#0c2cff"/>
<path d="M342.78,84.46 L343.21,84.32 L343.63,83.83 L344.06,82.46 L344.49,79.41 L344.92,74.17 L345.34,67.36 L345.77,61.27 L346.20,58.80 L346.63,61.27 L347.06,67.36 L347.48,74.17 L347.91,79.41 L348.34,82.46 L348.76,83.83 L349.19,84.32 L349.62,84.46 Z" fill="#0c2cff"/>
<path d="M347.08,84.45 L347.51,84.26 L347.94,83.61 L348.36,81.79 L348.79,77.75 L349.22,70.79 L349.64,61.76 L350.07,53.68 L350.50,50.40 L350.93,53.68 L351.36,61.76 L351.78,70.79 L352.21,77.75 L352.64,81.79 L353.06,83.61 L353.49,84.26 L353.92,84.45 Z" fill="#0c2cff"/>
<path d="M352.08,84.48 L352.51,84.41 L352.94,84.17 L353.36,83.51 L353.79,82.03 L354.22,79.47 L354.64,76.16 L355.07,73.20 L355.50,72.00 L355.93,73.20 L356.36,76.16 L356.78,79.47 L357.21,82.03 L357.64,83.51 L358.06,84.17 L358.49,84.41 L358.92,84.48 Z" fill="#cdd5ff"/>
<path d="M352.08,84.48 L352.51,84.41 L352.94,84.17 L353.36,83.51 L353.79,82.03 L354.22,79.47 L354.64,76.16 L355.07,73.20 L355.50,72.00 L355.93,73.20 L356.36,76.16 L356.78,79.47 L357.21,82.03 L357.64,83.51 L358.06,84.17 L358.49,84.41 L358.92,84.48" fill="none" stroke="#3a5cff" stroke-width="0.75"/>
</g>
<rect x="312.90" y="49.80" width="62.40" height="39.10" fill="none" stroke="#1c1c1c" stroke-width="1.4"/>
<path d="M349.88,39.30 L351.12,39.30 L351.12,43.00 L353.60,41.32 Q352.20,45.90 350.50,48.10 Q348.80,45.90 347.40,41.32 L349.88,43.00 Z" fill="#c8001e"/>
<path d="M355.57,62.30 L356.82,62.30 L356.82,66.04 L359.30,64.35 Q357.90,68.97 356.20,71.20 Q354.50,68.97 353.10,64.35 L355.57,66.04 Z" fill="#c8001e"/>
<text x="341.50" y="97.30" font-size="7.0" font-weight="normal" textLength="9.50" lengthAdjust="spacingAndGlyphs" fill="#000" stroke="#000" stroke-width="0.12">1.1</text>
<rect x="380.70" y="49.00" width="64.00" height="40.50" fill="#fff"/>
<clipPath id="c5"><rect x="382.10" y="50.40" width="61.20" height="37.70"/></clipPath><g clip-path="url(#c5)">
<rect x="380.70" y="85" width="64.00" height="1" fill="#e8eedc"/>
<rect x="380.70" y="84" width="64.00" height="1" fill="#3355ff"/>
<path d="M381.08,84.50 L381.51,84.49 L381.94,84.47 L382.36,84.40 L382.79,84.24 L383.22,83.98 L383.64,83.63 L384.07,83.33 L384.50,83.20 L384.93,83.33 L385.36,83.63 L385.78,83.98 L386.21,84.24 L386.64,84.40 L387.06,84.47 L387.49,84.49 L387.92,84.50 Z" fill="#cdd5ff"/>
<path d="M381.08,84.50 L381.51,84.49 L381.94,84.47 L382.36,84.40 L382.79,84.24 L383.22,83.98 L383.64,83.63 L384.07,83.33 L384.50,83.20 L384.93,83.33 L385.36,83.63 L385.78,83.98 L386.21,84.24 L386.64,84.40 L387.06,84.47 L387.49,84.49 L387.92,84.50" fill="none" stroke="#3a5cff" stroke-width="0.75"/>
<path d="M385.78,84.50 L386.21,84.49 L386.63,84.46 L387.06,84.36 L387.49,84.16 L387.92,83.82 L388.34,83.37 L388.77,82.96 L389.20,82.80 L389.63,82.96 L390.06,83.37 L390.48,83.82 L390.91,84.16 L391.34,84.36 L391.76,84.46 L392.19,84.49 L392.62,84.50 Z" fill="#cdd5ff"/>
<path d="M385.78,84.50 L386.21,84.49 L386.63,84.46 L387.06,84.36 L387.49,84.16 L387.92,83.82 L388.34,83.37 L388.77,82.96 L389.20,82.80 L389.63,82.96 L390.06,83.37 L390.48,83.82 L390.91,84.16 L391.34,84.36 L391.76,84.46 L392.19,84.49 L392.62,84.50" fill="none" stroke="#3a5cff" stroke-width="0.75"/>
<path d="M390.38,84.49 L390.81,84.47 L391.24,84.39 L391.66,84.17 L392.09,83.67 L392.52,82.81 L392.94,81.70 L393.37,80.70 L393.80,80.30 L394.23,80.70 L394.66,81.70 L395.08,82.81 L395.51,83.67 L395.94,84.17 L396.37,84.39 L396.79,84.47 L397.22,84.49 Z" fill="#cdd5ff"/>
<path d="M390.38,84.49 L390.81,84.47 L391.24,84.39 L391.66,84.17 L392.09,83.67 L392.52,82.81 L392.94,81.70 L393.37,80.70 L393.80,80.30 L394.23,80.70 L394.66,81.70 L395.08,82.81 L395.51,83.67 L395.94,84.17 L396.37,84.39 L396.79,84.47 L397.22,84.49" fill="none" stroke="#3a5cff" stroke-width="0.75"/>
<path d="M394.98,84.48 L395.41,84.43 L395.83,84.24 L396.26,83.70 L396.69,82.50 L397.12,80.44 L397.54,77.76 L397.97,75.37 L398.40,74.40 L398.83,75.37 L399.25,77.76 L399.68,80.44 L400.11,82.50 L400.54,83.70 L400.96,84.24 L401.39,84.43 L401.82,84.48 Z" fill="#cdd5ff"/>
<path d="M394.98,84.48 L395.41,84.43 L395.83,84.24 L396.26,83.70 L396.69,82.50 L397.12,80.44 L397.54,77.76 L397.97,75.37 L398.40,74.40 L398.83,75.37 L399.25,77.76 L399.68,80.44 L400.11,82.50 L400.54,83.70 L400.96,84.24 L401.39,84.43 L401.82,84.48" fill="none" stroke="#3a5cff" stroke-width="0.75"/>
<path d="M399.78,84.49 L400.21,84.44 L400.63,84.28 L401.06,83.82 L401.49,82.80 L401.92,81.04 L402.34,78.76 L402.77,76.73 L403.20,75.90 L403.63,76.73 L404.06,78.76 L404.48,81.04 L404.91,82.80 L405.34,83.82 L405.76,84.28 L406.19,84.44 L406.62,84.49 Z" fill="#cdd5ff"/>
<path d="M399.78,84.49 L400.21,84.44 L400.63,84.28 L401.06,83.82 L401.49,82.80 L401.92,81.04 L402.34,78.76 L402.77,76.73 L403.20,75.90 L403.63,76.73 L404.06,78.76 L404.48,81.04 L404.91,82.80 L405.34,83.82 L405.76,84.28 L406.19,84.44 L406.62,84.49" fill="none" stroke="#3a5cff" stroke-width="0.75"/>
<path d="M404.08,84.48 L404.51,84.40 L404.94,84.12 L405.36,83.35 L405.79,81.65 L406.22,78.71 L406.64,74.90 L407.07,71.49 L407.50,70.10 L407.93,71.49 L408.36,74.90 L408.78,78.71 L409.21,81.65 L409.64,83.35 L410.06,84.12 L410.49,84.40 L410.92,84.48 Z" fill="#0c2cff"/>
<path d="M408.88,84.47 L409.31,84.39 L409.74,84.07 L410.16,83.20 L410.59,81.27 L411.02,77.95 L411.44,73.63 L411.87,69.77 L412.30,68.20 L412.73,69.77 L413.16,73.63 L413.58,77.95 L414.01,81.27 L414.44,83.20 L414.87,84.07 L415.29,84.39 L415.72,84.47 Z" fill="#0c2cff"/>
<path d="M413.68,84.45 L414.11,84.27 L414.54,83.65 L414.96,81.90 L415.39,78.03 L415.82,71.35 L416.25,62.69 L416.67,54.95 L417.10,51.80 L417.53,54.95 L417.96,62.69 L418.38,71.35 L418.81,78.03 L419.24,81.90 L419.67,83.65 L420.09,84.27 L420.52,84.45 Z" fill="#0c2cff"/>
<path d="M417.78,84.46 L418.21,84.32 L418.63,83.82 L419.06,82.44 L419.49,79.37 L419.92,74.09 L420.34,67.23 L420.77,61.09 L421.20,58.60 L421.63,61.09 L422.06,67.23 L422.48,74.09 L422.91,79.37 L423.34,82.44 L423.76,83.82 L424.19,84.32 L424.62,84.46 Z" fill="#0c2cff"/>
<path d="M422.38,84.49 L422.81,84.47 L423.24,84.37 L423.66,84.12 L424.09,83.55 L424.52,82.57 L424.94,81.30 L425.37,80.16 L425.80,79.70 L426.23,80.16 L426.66,81.30 L427.08,82.57 L427.51,83.55 L427.94,84.12 L428.37,84.37 L428.79,84.47 L429.22,84.49 Z" fill="#cdd5ff"/>
<path d="M422.38,84.49 L422.81,84.47 L423.24,84.37 L423.66,84.12 L424.09,83.55 L424.52,82.57 L424.94,81.30 L425.37,80.16 L425.80,79.70 L426.23,80.16 L426.66,81.30 L427.08,82.57 L427.51,83.55 L427.94,84.12 L428.37,84.37 L428.79,84.47 L429.22,84.49" fill="none" stroke="#3a5cff" stroke-width="0.75"/>
</g>
<rect x="381.40" y="49.70" width="62.60" height="39.10" fill="none" stroke="#1c1c1c" stroke-width="1.4"/>
<path d="M420.27,49.60 L421.52,49.60 L421.52,53.34 L424.00,51.65 Q422.60,56.27 420.90,58.50 Q419.19,56.27 417.80,51.65 L420.27,53.34 Z" fill="#c8001e"/>
<path d="M424.68,70.60 L425.93,70.60 L425.93,74.34 L428.40,72.65 Q427.00,77.28 425.30,79.50 Q423.60,77.28 422.20,72.65 L424.68,74.34 Z" fill="#c8001e"/>
<text x="412.10" y="97.30" font-size="7.0" font-weight="normal" textLength="10.00" lengthAdjust="spacingAndGlyphs" fill="#000" stroke="#000" stroke-width="0.12">1.9</text>
<text x="272.80" y="120.30" font-size="7.6" font-weight="bold" textLength="21.00" lengthAdjust="spacingAndGlyphs" fill="#000" stroke="#000" stroke-width="0.15">Day 7</text>
<text x="272.80" y="130.50" font-size="7.0" font-weight="normal" textLength="29.30" lengthAdjust="spacingAndGlyphs" fill="#000" stroke="#000" stroke-width="0.12">(in vitro)</text>
<text x="278.80" y="156.20" font-size="7.0" font-weight="normal" textLength="42.40" lengthAdjust="spacingAndGlyphs" fill="#000" stroke="#000" stroke-width="0.12">M/WT ratio:</text>
<rect x="312.20" y="107.30" width="63.80" height="41.30" fill="#fff"/>
<clipPath id="c6"><rect x="313.60" y="108.70" width="61.00" height="38.50"/></clipPath><g clip-path="url(#c6)">
<rect x="312.20" y="145" width="63.80" height="1" fill="#e8eedc"/>
<rect x="312.20" y="144" width="63.80" height="1" fill="#3355ff"/>
<path d="M314.08,144.50 L314.51,144.49 L314.94,144.48 L315.36,144.43 L315.79,144.32 L316.22,144.14 L316.64,143.90 L317.07,143.69 L317.50,143.60 L317.93,143.69 L318.36,143.90 L318.78,144.14 L319.21,144.32 L319.64,144.43 L320.06,144.48 L320.49,144.49 L320.92,144.50 Z" fill="#cdd5ff"/>
<path d="M314.08,144.50 L314.51,144.49 L314.94,144.48 L315.36,144.43 L315.79,144.32 L316.22,144.14 L316.64,143.90 L317.07,143.69 L317.50,143.60 L317.93,143.69 L318.36,143.90 L318.78,144.14 L319.21,144.32 L319.64,144.43 L320.06,144.48 L320.49,144.49 L320.92,144.50" fill="none" stroke="#3a5cff" stroke-width="0.75"/>
<path d="M318.78,144.50 L319.21,144.48 L319.63,144.43 L320.06,144.29 L320.49,143.99 L320.92,143.45 L321.34,142.77 L321.77,142.15 L322.20,141.90 L322.63,142.15 L323.06,142.77 L323.48,143.45 L323.91,143.99 L324.34,144.29 L324.76,144.43 L325.19,144.48 L325.62,144.50 Z" fill="#cdd5ff"/>
<path d="M318.78,144.50 L319.21,144.48 L319.63,144.43 L320.06,144.29 L320.49,143.99 L320.92,143.45 L321.34,142.77 L321.77,142.15 L322.20,141.90 L322.63,142.15 L323.06,142.77 L323.48,143.45 L323.91,143.99 L324.34,144.29 L324.76,144.43 L325.19,144.48 L325.62,144.50" fill="none" stroke="#3a5cff" stroke-width="0.75"/>
<path d="M323.58,144.49 L324.01,144.47 L324.44,144.40 L324.86,144.21 L325.29,143.77 L325.72,143.01 L326.14,142.03 L326.57,141.16 L327.00,140.80 L327.43,141.16 L327.86,142.03 L328.28,143.01 L328.71,143.77 L329.14,144.21 L329.56,144.40 L329.99,144.47 L330.42,144.49 Z" fill="#cdd5ff"/>
<path d="M323.58,144.49 L324.01,144.47 L324.44,144.40 L324.86,144.21 L325.29,143.77 L325.72,143.01 L326.14,142.03 L326.57,141.16 L327.00,140.80 L327.43,141.16 L327.86,142.03 L328.28,143.01 L328.71,143.77 L329.14,144.21 L329.56,144.40 L329.99,144.47 L330.42,144.49" fill="none" stroke="#3a5cff" stroke-width="0.75"/>
<path d="M328.08,144.50 L328.51,144.48 L328.94,144.43 L329.36,144.29 L329.79,143.99 L330.22,143.45 L330.64,142.77 L331.07,142.15 L331.50,141.90 L331.93,142.15 L332.36,142.77 L332.78,143.45 L333.21,143.99 L333.64,144.29 L334.06,144.43 L334.49,144.48 L334.92,144.50 Z" fill="#cdd5ff"/>
<path d="M328.08,144.50 L328.51,144.48 L328.94,144.43 L329.36,144.29 L329.79,143.99 L330.22,143.45 L330.64,142.77 L331.07,142.15 L331.50,141.90 L331.93,142.15 L332.36,142.77 L332.78,143.45 L333.21,143.99 L333.64,144.29 L334.06,144.43 L334.49,144.48 L334.92,144.50" fill="none" stroke="#3a5cff" stroke-width="0.75"/>
<path d="M332.78,144.49 L333.21,144.44 L333.63,144.29 L334.06,143.86 L334.49,142.92 L334.92,141.28 L335.34,139.16 L335.77,137.27 L336.20,136.50 L336.63,137.27 L337.06,139.16 L337.48,141.28 L337.91,142.92 L338.34,143.86 L338.76,144.29 L339.19,144.44 L339.62,144.49 Z" fill="#0c2cff"/>
<path d="M337.38,144.49 L337.81,144.45 L338.24,144.30 L338.66,143.89 L339.09,142.98 L339.52,141.40 L339.94,139.36 L340.37,137.54 L340.80,136.80 L341.23,137.54 L341.66,139.36 L342.08,141.40 L342.51,142.98 L342.94,143.89 L343.37,144.30 L343.79,144.45 L344.22,144.49 Z" fill="#0c2cff"/>
<path d="M342.38,144.48 L342.81,144.42 L343.24,144.19 L343.66,143.56 L344.09,142.16 L344.52,139.76 L344.94,136.63 L345.37,133.84 L345.80,132.70 L346.23,133.84 L346.66,136.63 L347.08,139.76 L347.51,142.16 L347.94,143.56 L348.37,144.19 L348.79,144.42 L349.22,144.48 Z" fill="#5a70ff" stroke="#0c2cff" stroke-width="0.6"/>
<path d="M346.48,144.45 L346.91,144.26 L347.33,143.61 L347.76,141.79 L348.19,137.75 L348.62,130.79 L349.04,121.76 L349.47,113.68 L349.90,110.40 L350.33,113.68 L350.75,121.76 L351.18,130.79 L351.61,137.75 L352.04,141.79 L352.46,143.61 L352.89,144.26 L353.32,144.45 Z" fill="#0c2cff"/>
<path d="M351.08,144.48 L351.51,144.42 L351.94,144.19 L352.36,143.56 L352.79,142.16 L353.22,139.76 L353.64,136.63 L354.07,133.84 L354.50,132.70 L354.93,133.84 L355.36,136.63 L355.78,139.76 L356.21,142.16 L356.64,143.56 L357.06,144.19 L357.49,144.42 L357.92,144.48 Z" fill="#cdd5ff"/>
<path d="M351.08,144.48 L351.51,144.42 L351.94,144.19 L352.36,143.56 L352.79,142.16 L353.22,139.76 L353.64,136.63 L354.07,133.84 L354.50,132.70 L354.93,133.84 L355.36,136.63 L355.78,139.76 L356.21,142.16 L356.64,143.56 L357.06,144.19 L357.49,144.42 L357.92,144.48" fill="none" stroke="#3a5cff" stroke-width="0.75"/>
</g>
<rect x="312.90" y="108.00" width="62.40" height="39.90" fill="none" stroke="#1c1c1c" stroke-width="1.4"/>
<path d="M348.98,101.90 L350.23,101.90 L350.23,105.47 L352.70,103.86 Q351.31,108.28 349.60,110.40 Q347.90,108.28 346.50,103.86 L348.98,105.47 Z" fill="#c8001e"/>
<path d="M353.88,122.70 L355.12,122.70 L355.12,126.27 L357.60,124.66 Q356.20,129.07 354.50,131.20 Q352.80,129.07 351.40,124.66 L353.88,126.27 Z" fill="#c8001e"/>
<text x="341.90" y="156.20" font-size="7.0" font-weight="normal" textLength="11.10" lengthAdjust="spacingAndGlyphs" fill="#000" stroke="#000" stroke-width="0.12">0.5</text>
<rect x="380.80" y="107.60" width="63.70" height="40.60" fill="#fff"/>
<clipPath id="c7"><rect x="382.20" y="109.00" width="60.90" height="37.80"/></clipPath><g clip-path="url(#c7)">
<rect x="380.80" y="145" width="63.70" height="1" fill="#e8eedc"/>
<rect x="380.80" y="144" width="63.70" height="1" fill="#3355ff"/>
<path d="M381.08,144.50 L381.51,144.49 L381.94,144.46 L382.36,144.38 L382.79,144.20 L383.22,143.90 L383.64,143.50 L384.07,143.14 L384.50,143.00 L384.93,143.14 L385.36,143.50 L385.78,143.90 L386.21,144.20 L386.64,144.38 L387.06,144.46 L387.49,144.49 L387.92,144.50 Z" fill="#cdd5ff"/>
<path d="M381.08,144.50 L381.51,144.49 L381.94,144.46 L382.36,144.38 L382.79,144.20 L383.22,143.90 L383.64,143.50 L384.07,143.14 L384.50,143.00 L384.93,143.14 L385.36,143.50 L385.78,143.90 L386.21,144.20 L386.64,144.38 L387.06,144.46 L387.49,144.49 L387.92,144.50" fill="none" stroke="#3a5cff" stroke-width="0.75"/>
<path d="M385.78,144.50 L386.21,144.49 L386.63,144.46 L387.06,144.38 L387.49,144.20 L387.92,143.90 L388.34,143.50 L388.77,143.14 L389.20,143.00 L389.63,143.14 L390.06,143.50 L390.48,143.90 L390.91,144.20 L391.34,144.38 L391.76,144.46 L392.19,144.49 L392.62,144.50 Z" fill="#cdd5ff"/>
<path d="M385.78,144.50 L386.21,144.49 L386.63,144.46 L387.06,144.38 L387.49,144.20 L387.92,143.90 L388.34,143.50 L388.77,143.14 L389.20,143.00 L389.63,143.14 L390.06,143.50 L390.48,143.90 L390.91,144.20 L391.34,144.38 L391.76,144.46 L392.19,144.49 L392.62,144.50" fill="none" stroke="#3a5cff" stroke-width="0.75"/>
<path d="M390.38,144.49 L390.81,144.47 L391.24,144.37 L391.66,144.11 L392.09,143.53 L392.52,142.53 L392.94,141.23 L393.37,140.07 L393.80,139.60 L394.23,140.07 L394.66,141.23 L395.08,142.53 L395.51,143.53 L395.94,144.11 L396.37,144.37 L396.79,144.47 L397.22,144.49 Z" fill="#cdd5ff"/>
<path d="M390.38,144.49 L390.81,144.47 L391.24,144.37 L391.66,144.11 L392.09,143.53 L392.52,142.53 L392.94,141.23 L393.37,140.07 L393.80,139.60 L394.23,140.07 L394.66,141.23 L395.08,142.53 L395.51,143.53 L395.94,144.11 L396.37,144.37 L396.79,144.47 L397.22,144.49" fill="none" stroke="#3a5cff" stroke-width="0.75"/>
<path d="M394.98,144.49 L395.41,144.44 L395.83,144.29 L396.26,143.86 L396.69,142.92 L397.12,141.28 L397.54,139.16 L397.97,137.27 L398.40,136.50 L398.83,137.27 L399.25,139.16 L399.68,141.28 L400.11,142.92 L400.54,143.86 L400.96,144.29 L401.39,144.44 L401.82,144.49 Z" fill="#cdd5ff"/>
<path d="M394.98,144.49 L395.41,144.44 L395.83,144.29 L396.26,143.86 L396.69,142.92 L397.12,141.28 L397.54,139.16 L397.97,137.27 L398.40,136.50 L398.83,137.27 L399.25,139.16 L399.68,141.28 L400.11,142.92 L400.54,143.86 L400.96,144.29 L401.39,144.44 L401.82,144.49" fill="none" stroke="#3a5cff" stroke-width="0.75"/>
<path d="M399.28,144.49 L399.71,144.46 L400.13,144.35 L400.56,144.05 L400.99,143.37 L401.42,142.21 L401.84,140.70 L402.27,139.35 L402.70,138.80 L403.13,139.35 L403.56,140.70 L403.98,142.21 L404.41,143.37 L404.84,144.05 L405.26,144.35 L405.69,144.46 L406.12,144.49 Z" fill="#cdd5ff"/>
<path d="M399.28,144.49 L399.71,144.46 L400.13,144.35 L400.56,144.05 L400.99,143.37 L401.42,142.21 L401.84,140.70 L402.27,139.35 L402.70,138.80 L403.13,139.35 L403.56,140.70 L403.98,142.21 L404.41,143.37 L404.84,144.05 L405.26,144.35 L405.69,144.46 L406.12,144.49" fill="none" stroke="#3a5cff" stroke-width="0.75"/>
<path d="M403.88,144.47 L404.31,144.38 L404.74,144.04 L405.16,143.11 L405.59,141.04 L406.02,137.46 L406.44,132.83 L406.87,128.69 L407.30,127.00 L407.73,128.69 L408.16,132.83 L408.58,137.46 L409.01,141.04 L409.44,143.11 L409.87,144.04 L410.29,144.38 L410.72,144.47 Z" fill="#0c2cff"/>
<path d="M408.48,144.48 L408.91,144.39 L409.33,144.10 L409.76,143.28 L410.19,141.47 L410.62,138.35 L411.04,134.30 L411.47,130.67 L411.90,129.20 L412.33,130.67 L412.75,134.30 L413.18,138.35 L413.61,141.47 L414.04,143.28 L414.46,144.10 L414.89,144.39 L415.32,144.48 Z" fill="#0c2cff"/>
<path d="M413.08,144.46 L413.51,144.33 L413.94,143.85 L414.36,142.52 L414.79,139.57 L415.22,134.49 L415.64,127.89 L416.07,122.00 L416.50,119.60 L416.93,122.00 L417.36,127.89 L417.78,134.49 L418.21,139.57 L418.64,142.52 L419.06,143.85 L419.49,144.33 L419.92,144.46 Z" fill="#cdd5ff"/>
<path d="M413.08,144.46 L413.51,144.33 L413.94,143.85 L414.36,142.52 L414.79,139.57 L415.22,134.49 L415.64,127.89 L416.07,122.00 L416.50,119.60 L416.93,122.00 L417.36,127.89 L417.78,134.49 L418.21,139.57 L418.64,142.52 L419.06,143.85 L419.49,144.33 L419.92,144.46" fill="none" stroke="#3a5cff" stroke-width="0.75"/>
<path d="M417.38,144.45 L417.81,144.27 L418.24,143.64 L418.66,141.88 L419.09,137.99 L419.52,131.27 L419.94,122.56 L420.37,114.77 L420.80,111.60 L421.23,114.77 L421.66,122.56 L422.08,131.27 L422.51,137.99 L422.94,141.88 L423.37,143.64 L423.79,144.27 L424.22,144.45 Z" fill="#0c2cff"/>
<path d="M422.08,144.49 L422.51,144.44 L422.94,144.27 L423.36,143.81 L423.79,142.78 L424.22,141.00 L424.64,138.70 L425.07,136.64 L425.50,135.80 L425.93,136.64 L426.36,138.70 L426.78,141.00 L427.21,142.78 L427.64,143.81 L428.06,144.27 L428.49,144.44 L428.92,144.49 Z" fill="#cdd5ff"/>
<path d="M422.08,144.49 L422.51,144.44 L422.94,144.27 L423.36,143.81 L423.79,142.78 L424.22,141.00 L424.64,138.70 L425.07,136.64 L425.50,135.80 L425.93,136.64 L426.36,138.70 L426.78,141.00 L427.21,142.78 L427.64,143.81 L428.06,144.27 L428.49,144.44 L428.92,144.49" fill="none" stroke="#3a5cff" stroke-width="0.75"/>
</g>
<rect x="381.50" y="108.30" width="62.30" height="39.20" fill="none" stroke="#1c1c1c" stroke-width="1.4"/>
<path d="M419.77,102.40 L421.02,102.40 L421.02,106.10 L423.50,104.42 Q422.10,109.00 420.40,111.20 Q418.69,109.00 417.30,104.42 L419.77,106.10 Z" fill="#c8001e"/>
<path d="M424.68,125.00 L425.93,125.00 L425.93,128.44 L428.40,126.89 Q427.00,131.15 425.30,133.20 Q423.60,131.15 422.20,126.89 L424.68,128.44 Z" fill="#c8001e"/>
<text x="411.90" y="156.20" font-size="7.0" font-weight="normal" textLength="10.00" lengthAdjust="spacingAndGlyphs" fill="#000" stroke="#000" stroke-width="0.12">1.2</text>
<text x="269.90" y="181.80" font-size="7.6" font-weight="bold" textLength="27.00" lengthAdjust="spacingAndGlyphs" fill="#000" stroke="#000" stroke-width="0.15">Day 13</text>
<text x="272.70" y="192.40" font-size="7.0" font-weight="normal" textLength="29.40" lengthAdjust="spacingAndGlyphs" fill="#000" stroke="#000" stroke-width="0.12">(in vitro)</text>
<text x="278.80" y="216.20" font-size="7.0" font-weight="normal" textLength="42.40" lengthAdjust="spacingAndGlyphs" fill="#000" stroke="#000" stroke-width="0.12">M/WT ratio:</text>
<rect x="311.50" y="167.30" width="64.30" height="41.10" fill="#fff"/>
<clipPath id="c8"><rect x="312.90" y="168.70" width="61.50" height="38.30"/></clipPath><g clip-path="url(#c8)">
<rect x="311.50" y="206" width="64.30" height="1" fill="#e8eedc"/>
<rect x="311.50" y="205" width="64.30" height="1" fill="#3355ff"/>
<path d="M316.98,205.50 L317.41,205.49 L317.83,205.47 L318.26,205.42 L318.69,205.30 L319.12,205.10 L319.54,204.83 L319.97,204.60 L320.40,204.50 L320.83,204.60 L321.25,204.83 L321.68,205.10 L322.11,205.30 L322.54,205.42 L322.96,205.47 L323.39,205.49 L323.82,205.50 Z" fill="#cdd5ff"/>
<path d="M316.98,205.50 L317.41,205.49 L317.83,205.47 L318.26,205.42 L318.69,205.30 L319.12,205.10 L319.54,204.83 L319.97,204.60 L320.40,204.50 L320.83,204.60 L321.25,204.83 L321.68,205.10 L322.11,205.30 L322.54,205.42 L322.96,205.47 L323.39,205.49 L323.82,205.50" fill="none" stroke="#3a5cff" stroke-width="0.75"/>
<path d="M321.88,205.50 L322.31,205.49 L322.74,205.46 L323.16,205.38 L323.59,205.20 L324.02,204.90 L324.44,204.50 L324.87,204.14 L325.30,204.00 L325.73,204.14 L326.16,204.50 L326.58,204.90 L327.01,205.20 L327.44,205.38 L327.87,205.46 L328.29,205.49 L328.72,205.50 Z" fill="#cdd5ff"/>
<path d="M321.88,205.50 L322.31,205.49 L322.74,205.46 L323.16,205.38 L323.59,205.20 L324.02,204.90 L324.44,204.50 L324.87,204.14 L325.30,204.00 L325.73,204.14 L326.16,204.50 L326.58,204.90 L327.01,205.20 L327.44,205.38 L327.87,205.46 L328.29,205.49 L328.72,205.50" fill="none" stroke="#3a5cff" stroke-width="0.75"/>
<path d="M326.48,205.50 L326.91,205.50 L327.33,205.49 L327.76,205.46 L328.19,205.40 L328.62,205.30 L329.04,205.17 L329.47,205.05 L329.90,205.00 L330.33,205.05 L330.75,205.17 L331.18,205.30 L331.61,205.40 L332.04,205.46 L332.46,205.49 L332.89,205.50 L333.32,205.50 Z" fill="#cdd5ff"/>
<path d="M326.48,205.50 L326.91,205.50 L327.33,205.49 L327.76,205.46 L328.19,205.40 L328.62,205.30 L329.04,205.17 L329.47,205.05 L329.90,205.00 L330.33,205.05 L330.75,205.17 L331.18,205.30 L331.61,205.40 L332.04,205.46 L332.46,205.49 L332.89,205.50 L333.32,205.50" fill="none" stroke="#3a5cff" stroke-width="0.75"/>
<path d="M331.28,205.49 L331.71,205.46 L332.13,205.34 L332.56,205.00 L332.99,204.25 L333.42,202.97 L333.84,201.30 L334.27,199.81 L334.70,199.20 L335.13,199.81 L335.56,201.30 L335.98,202.97 L336.41,204.25 L336.84,205.00 L337.26,205.34 L337.69,205.46 L338.12,205.49 Z" fill="#0c2cff"/>
<path d="M336.18,205.49 L336.61,205.47 L337.04,205.37 L337.46,205.12 L337.89,204.55 L338.32,203.57 L338.75,202.30 L339.17,201.16 L339.60,200.70 L340.03,201.16 L340.46,202.30 L340.88,203.57 L341.31,204.55 L341.74,205.12 L342.17,205.37 L342.59,205.47 L343.02,205.49 Z" fill="#0c2cff"/>
<path d="M340.78,205.49 L341.21,205.46 L341.63,205.35 L342.06,205.03 L342.49,204.33 L342.92,203.13 L343.34,201.56 L343.77,200.17 L344.20,199.60 L344.63,200.17 L345.06,201.56 L345.48,203.13 L345.91,204.33 L346.34,205.03 L346.76,205.35 L347.19,205.46 L347.62,205.49 Z" fill="#0c2cff"/>
<path d="M345.20,205.44 L345.65,205.25 L346.10,204.56 L346.55,202.64 L347.00,198.40 L347.45,191.07 L347.90,181.56 L348.35,173.06 L348.80,169.60 L349.25,173.06 L349.70,181.56 L350.15,191.07 L350.60,198.40 L351.05,202.64 L351.50,204.56 L351.95,205.25 L352.40,205.44 Z" fill="#0c2cff"/>
<path d="M350.08,205.48 L350.51,205.40 L350.94,205.13 L351.36,204.36 L351.79,202.67 L352.22,199.75 L352.64,195.96 L353.07,192.58 L353.50,191.20 L353.93,192.58 L354.36,195.96 L354.78,199.75 L355.21,202.67 L355.64,204.36 L356.06,205.13 L356.49,205.40 L356.92,205.48 Z" fill="#cdd5ff"/>
<path d="M350.08,205.48 L350.51,205.40 L350.94,205.13 L351.36,204.36 L351.79,202.67 L352.22,199.75 L352.64,195.96 L353.07,192.58 L353.50,191.20 L353.93,192.58 L354.36,195.96 L354.78,199.75 L355.21,202.67 L355.64,204.36 L356.06,205.13 L356.49,205.40 L356.92,205.48" fill="none" stroke="#3a5cff" stroke-width="0.75"/>
</g>
<rect x="312.20" y="168.00" width="62.90" height="39.70" fill="none" stroke="#1c1c1c" stroke-width="1.4"/>
<path d="M347.88,159.90 L349.12,159.90 L349.12,163.64 L351.60,161.95 Q350.20,166.58 348.50,168.80 Q346.80,166.58 345.40,161.95 L347.88,163.64 Z" fill="#c8001e"/>
<path d="M353.18,181.20 L354.43,181.20 L354.43,184.73 L356.90,183.13 Q355.50,187.50 353.80,189.60 Q352.10,187.50 350.70,183.13 L353.18,184.73 Z" fill="#c8001e"/>
<text x="341.90" y="216.20" font-size="7.0" font-weight="normal" textLength="11.10" lengthAdjust="spacingAndGlyphs" fill="#000" stroke="#000" stroke-width="0.12">0.2</text>
<rect x="380.70" y="167.30" width="63.80" height="40.90" fill="#fff"/>
<clipPath id="c9"><rect x="382.10" y="168.70" width="61.00" height="38.10"/></clipPath><g clip-path="url(#c9)">
<rect x="380.70" y="206" width="63.80" height="1" fill="#e8eedc"/>
<rect x="380.70" y="205" width="63.80" height="1" fill="#3355ff"/>
<path d="M381.08,205.50 L381.51,205.50 L381.94,205.48 L382.36,205.44 L382.79,205.36 L383.22,205.22 L383.64,205.03 L384.07,204.87 L384.50,204.80 L384.93,204.87 L385.36,205.03 L385.78,205.22 L386.21,205.36 L386.64,205.44 L387.06,205.48 L387.49,205.50 L387.92,205.50 Z" fill="#cdd5ff"/>
<path d="M381.08,205.50 L381.51,205.50 L381.94,205.48 L382.36,205.44 L382.79,205.36 L383.22,205.22 L383.64,205.03 L384.07,204.87 L384.50,204.80 L384.93,204.87 L385.36,205.03 L385.78,205.22 L386.21,205.36 L386.64,205.44 L387.06,205.48 L387.49,205.50 L387.92,205.50" fill="none" stroke="#3a5cff" stroke-width="0.75"/>
<path d="M385.78,205.50 L386.21,205.50 L386.63,205.49 L387.06,205.46 L387.49,205.40 L387.92,205.30 L388.34,205.17 L388.77,205.05 L389.20,205.00 L389.63,205.05 L390.06,205.17 L390.48,205.30 L390.91,205.40 L391.34,205.46 L391.76,205.49 L392.19,205.50 L392.62,205.50 Z" fill="#cdd5ff"/>
<path d="M385.78,205.50 L386.21,205.50 L386.63,205.49 L387.06,205.46 L387.49,205.40 L387.92,205.30 L388.34,205.17 L388.77,205.05 L389.20,205.00 L389.63,205.05 L390.06,205.17 L390.48,205.30 L390.91,205.40 L391.34,205.46 L391.76,205.49 L392.19,205.50 L392.62,205.50" fill="none" stroke="#3a5cff" stroke-width="0.75"/>
<path d="M390.38,205.50 L390.81,205.48 L391.24,205.43 L391.66,205.28 L392.09,204.95 L392.52,204.37 L392.94,203.63 L393.37,202.97 L393.80,202.70 L394.23,202.97 L394.66,203.63 L395.08,204.37 L395.51,204.95 L395.94,205.28 L396.37,205.43 L396.79,205.48 L397.22,205.50 Z" fill="#cdd5ff"/>
<path d="M390.38,205.50 L390.81,205.48 L391.24,205.43 L391.66,205.28 L392.09,204.95 L392.52,204.37 L392.94,203.63 L393.37,202.97 L393.80,202.70 L394.23,202.97 L394.66,203.63 L395.08,204.37 L395.51,204.95 L395.94,205.28 L396.37,205.43 L396.79,205.48 L397.22,205.50" fill="none" stroke="#3a5cff" stroke-width="0.75"/>
<path d="M394.68,205.50 L395.11,205.48 L395.54,205.43 L395.96,205.30 L396.39,205.01 L396.82,204.49 L397.25,203.83 L397.67,203.24 L398.10,203.00 L398.53,203.24 L398.96,203.83 L399.38,204.49 L399.81,205.01 L400.24,205.30 L400.67,205.43 L401.09,205.48 L401.52,205.50 Z" fill="#cdd5ff"/>
<path d="M394.68,205.50 L395.11,205.48 L395.54,205.43 L395.96,205.30 L396.39,205.01 L396.82,204.49 L397.25,203.83 L397.67,203.24 L398.10,203.00 L398.53,203.24 L398.96,203.83 L399.38,204.49 L399.81,205.01 L400.24,205.30 L400.67,205.43 L401.09,205.48 L401.52,205.50" fill="none" stroke="#3a5cff" stroke-width="0.75"/>
<path d="M399.28,205.50 L399.71,205.49 L400.13,205.46 L400.56,205.36 L400.99,205.16 L401.42,204.82 L401.84,204.37 L402.27,203.96 L402.70,203.80 L403.13,203.96 L403.56,204.37 L403.98,204.82 L404.41,205.16 L404.84,205.36 L405.26,205.46 L405.69,205.49 L406.12,205.50 Z" fill="#cdd5ff"/>
<path d="M399.28,205.50 L399.71,205.49 L400.13,205.46 L400.56,205.36 L400.99,205.16 L401.42,204.82 L401.84,204.37 L402.27,203.96 L402.70,203.80 L403.13,203.96 L403.56,204.37 L403.98,204.82 L404.41,205.16 L404.84,205.36 L405.26,205.46 L405.69,205.49 L406.12,205.50" fill="none" stroke="#3a5cff" stroke-width="0.75"/>
<path d="M403.88,205.48 L404.31,205.42 L404.74,205.20 L405.16,204.60 L405.59,203.26 L406.02,200.96 L406.44,197.96 L406.87,195.29 L407.30,194.20 L407.73,195.29 L408.16,197.96 L408.58,200.96 L409.01,203.26 L409.44,204.60 L409.87,205.20 L410.29,205.42 L410.72,205.48 Z" fill="#0c2cff"/>
<path d="M408.48,205.49 L408.91,205.45 L409.33,205.30 L409.76,204.89 L410.19,203.98 L410.62,202.40 L411.04,200.36 L411.47,198.54 L411.90,197.80 L412.33,198.54 L412.75,200.36 L413.18,202.40 L413.61,203.98 L414.04,204.89 L414.46,205.30 L414.89,205.45 L415.32,205.49 Z" fill="#0c2cff"/>
<path d="M412.78,205.49 L413.21,205.44 L413.63,205.26 L414.06,204.78 L414.49,203.72 L414.92,201.88 L415.34,199.50 L415.77,197.37 L416.20,196.50 L416.63,197.37 L417.06,199.50 L417.48,201.88 L417.91,203.72 L418.34,204.78 L418.76,205.26 L419.19,205.44 L419.62,205.49 Z" fill="#5a70ff" stroke="#0c2cff" stroke-width="0.6"/>
<path d="M416.80,205.45 L417.25,205.26 L417.70,204.60 L418.15,202.77 L418.60,198.71 L419.05,191.71 L419.50,182.62 L419.95,174.50 L420.40,171.20 L420.85,174.50 L421.30,182.62 L421.75,191.71 L422.20,198.71 L422.65,202.77 L423.10,204.60 L423.55,205.26 L424.00,205.45 Z" fill="#0c2cff"/>
<path d="M421.58,205.48 L422.01,205.42 L422.44,205.19 L422.86,204.55 L423.29,203.13 L423.72,200.68 L424.14,197.50 L424.57,194.66 L425.00,193.50 L425.43,194.66 L425.86,197.50 L426.28,200.68 L426.71,203.13 L427.14,204.55 L427.56,205.19 L427.99,205.42 L428.42,205.48 Z" fill="#cdd5ff"/>
<path d="M421.58,205.48 L422.01,205.42 L422.44,205.19 L422.86,204.55 L423.29,203.13 L423.72,200.68 L424.14,197.50 L424.57,194.66 L425.00,193.50 L425.43,194.66 L425.86,197.50 L426.28,200.68 L426.71,203.13 L427.14,204.55 L427.56,205.19 L427.99,205.42 L428.42,205.48" fill="none" stroke="#3a5cff" stroke-width="0.75"/>
</g>
<rect x="381.40" y="168.00" width="62.40" height="39.50" fill="none" stroke="#1c1c1c" stroke-width="1.4"/>
<path d="M419.27,160.80 L420.52,160.80 L420.52,164.83 L423.00,163.01 Q421.60,168.00 419.90,170.40 Q418.19,168.00 416.80,163.01 L419.27,164.83 Z" fill="#c8001e"/>
<path d="M423.88,182.70 L425.12,182.70 L425.12,186.44 L427.60,184.75 Q426.20,189.38 424.50,191.60 Q422.80,189.38 421.40,184.75 L423.88,186.44 Z" fill="#c8001e"/>
<text x="411.20" y="216.20" font-size="7.0" font-weight="normal" textLength="10.70" lengthAdjust="spacingAndGlyphs" fill="#000" stroke="#000" stroke-width="0.12">0.5</text>
<line x1="275.0" y1="221.1" x2="513.2" y2="221.1" stroke="#000" stroke-width="1.15" stroke-dasharray="2.6,1.55"/>
<text x="314.90" y="230.00" font-size="8.4" font-weight="normal" textLength="59.70" lengthAdjust="spacingAndGlyphs" fill="#000" stroke="#000" stroke-width="0.12">Peritoneal Cavity</text>
<text x="384.50" y="230.00" font-size="8.4" font-weight="normal" textLength="58.50" lengthAdjust="spacingAndGlyphs" fill="#000" stroke="#000" stroke-width="0.12">Peripheral Blood</text>
<text x="468.20" y="230.00" font-size="8.4" font-weight="normal" textLength="23.30" lengthAdjust="spacingAndGlyphs" fill="#000" stroke="#000" stroke-width="0.12">Spleen</text>
<text x="271.90" y="254.40" font-size="7.6" font-weight="bold" textLength="27.50" lengthAdjust="spacingAndGlyphs" fill="#000" stroke="#000" stroke-width="0.15">Day 30</text>
<text x="272.50" y="264.40" font-size="7.0" font-weight="normal" textLength="28.80" lengthAdjust="spacingAndGlyphs" fill="#000" stroke="#000" stroke-width="0.12">(in vitro)</text>
<text x="278.70" y="289.40" font-size="7.0" font-weight="normal" textLength="42.40" lengthAdjust="spacingAndGlyphs" fill="#000" stroke="#000" stroke-width="0.12">M/WT ratio:</text>
<rect x="311.50" y="241.30" width="63.10" height="41.00" fill="#fff"/>
<clipPath id="c10"><rect x="312.90" y="242.70" width="60.30" height="38.20"/></clipPath><g clip-path="url(#c10)">
<rect x="311.50" y="280" width="63.10" height="1" fill="#3355ff"/>
<path d="M314.20,280.50 L314.65,280.49 L315.10,280.46 L315.55,280.37 L316.00,280.18 L316.45,279.86 L316.90,279.43 L317.35,279.05 L317.80,278.90 L318.25,279.05 L318.70,279.43 L319.15,279.86 L319.60,280.18 L320.05,280.37 L320.50,280.46 L320.95,280.49 L321.40,280.50 Z" fill="#0c2cff"/>
<path d="M319.30,280.50 L319.75,280.49 L320.20,280.46 L320.65,280.37 L321.10,280.18 L321.55,279.86 L322.00,279.43 L322.45,279.05 L322.90,278.90 L323.35,279.05 L323.80,279.43 L324.25,279.86 L324.70,280.18 L325.15,280.37 L325.60,280.46 L326.05,280.49 L326.50,280.50 Z" fill="#0c2cff"/>
<path d="M324.10,280.50 L324.55,280.49 L325.00,280.48 L325.45,280.43 L325.90,280.32 L326.35,280.14 L326.80,279.90 L327.25,279.69 L327.70,279.60 L328.15,279.69 L328.60,279.90 L329.05,280.14 L329.50,280.32 L329.95,280.43 L330.40,280.48 L330.85,280.49 L331.30,280.50 Z" fill="#cdd5ff"/>
<path d="M324.10,280.50 L324.55,280.49 L325.00,280.48 L325.45,280.43 L325.90,280.32 L326.35,280.14 L326.80,279.90 L327.25,279.69 L327.70,279.60 L328.15,279.69 L328.60,279.90 L329.05,280.14 L329.50,280.32 L329.95,280.43 L330.40,280.48 L330.85,280.49 L331.30,280.50" fill="none" stroke="#3a5cff" stroke-width="0.75"/>
<path d="M329.02,280.49 L329.49,280.43 L329.97,280.26 L330.44,279.76 L330.91,278.66 L331.38,276.76 L331.86,274.30 L332.33,272.10 L332.80,271.20 L333.27,272.10 L333.75,274.30 L334.22,276.76 L334.69,278.66 L335.16,279.76 L335.63,280.26 L336.11,280.43 L336.58,280.49 Z" fill="#0c2cff"/>
<path d="M334.52,280.49 L334.99,280.46 L335.47,280.36 L335.94,280.06 L336.41,279.41 L336.88,278.29 L337.36,276.83 L337.83,275.53 L338.30,275.00 L338.77,275.53 L339.25,276.83 L339.72,278.29 L340.19,279.41 L340.66,280.06 L341.13,280.36 L341.61,280.46 L342.08,280.49 Z" fill="#0c2cff"/>
<path d="M339.62,280.49 L340.09,280.47 L340.56,280.38 L341.04,280.14 L341.51,279.61 L341.98,278.69 L342.45,277.50 L342.93,276.43 L343.40,276.00 L343.87,276.43 L344.34,277.50 L344.82,278.69 L345.29,279.61 L345.76,280.14 L346.23,280.38 L346.71,280.47 L347.18,280.49 Z" fill="#5a70ff" stroke="#0c2cff" stroke-width="0.6"/>
<path d="M343.70,280.44 L344.26,280.23 L344.82,279.49 L345.39,277.42 L345.95,272.84 L346.51,264.94 L347.07,254.69 L347.64,245.53 L348.20,241.80 L348.76,245.53 L349.32,254.69 L349.89,264.94 L350.45,272.84 L351.01,277.42 L351.57,279.49 L352.14,280.23 L352.70,280.44 Z" fill="#0c2cff"/>
<path d="M349.82,280.48 L350.29,280.41 L350.77,280.17 L351.24,279.49 L351.71,277.99 L352.18,275.39 L352.66,272.03 L353.13,269.02 L353.60,267.80 L354.07,269.02 L354.55,272.03 L355.02,275.39 L355.49,277.99 L355.96,279.49 L356.44,280.17 L356.91,280.41 L357.38,280.48 Z" fill="#0c2cff"/>
</g>
<rect x="312.20" y="242.00" width="61.70" height="39.60" fill="none" stroke="#1c1c1c" stroke-width="1.4"/>
<path d="M347.88,232.00 L349.12,232.00 L349.12,235.70 L351.60,234.02 Q350.20,238.60 348.50,240.80 Q346.80,238.60 345.40,234.02 L347.88,235.70 Z" fill="#c8001e"/>
<path d="M353.38,256.70 L354.62,256.70 L354.62,260.48 L357.10,258.77 Q355.70,263.45 354.00,265.70 Q352.30,263.45 350.90,258.77 L353.38,260.48 Z" fill="#c8001e"/>
<text x="341.20" y="289.40" font-size="7.0" font-weight="normal" textLength="10.70" lengthAdjust="spacingAndGlyphs" fill="#000" stroke="#000" stroke-width="0.12">0.2</text>
<rect x="379.40" y="241.30" width="63.60" height="41.00" fill="#fff"/>
<clipPath id="c11"><rect x="380.80" y="242.70" width="60.80" height="38.20"/></clipPath><g clip-path="url(#c11)">
<rect x="379.40" y="280" width="63.60" height="1" fill="#3355ff"/>
<path d="M381.80,280.50 L382.25,280.50 L382.70,280.48 L383.15,280.44 L383.60,280.36 L384.05,280.22 L384.50,280.03 L384.95,279.87 L385.40,279.80 L385.85,279.87 L386.30,280.03 L386.75,280.22 L387.20,280.36 L387.65,280.44 L388.10,280.48 L388.55,280.50 L389.00,280.50 Z" fill="#0c2cff"/>
<path d="M387.02,280.49 L387.49,280.47 L387.97,280.39 L388.44,280.17 L388.91,279.67 L389.38,278.81 L389.86,277.70 L390.33,276.70 L390.80,276.30 L391.27,276.70 L391.75,277.70 L392.22,278.81 L392.69,279.67 L393.16,280.17 L393.63,280.39 L394.11,280.47 L394.58,280.49 Z" fill="#0c2cff"/>
<path d="M392.12,280.50 L392.59,280.48 L393.06,280.43 L393.54,280.30 L394.01,280.01 L394.48,279.49 L394.95,278.83 L395.43,278.24 L395.90,278.00 L396.37,278.24 L396.84,278.83 L397.32,279.49 L397.79,280.01 L398.26,280.30 L398.73,280.43 L399.21,280.48 L399.68,280.50 Z" fill="#0c2cff"/>
<path d="M397.32,280.49 L397.79,280.43 L398.27,280.25 L398.74,279.74 L399.21,278.60 L399.68,276.64 L400.16,274.10 L400.63,271.82 L401.10,270.90 L401.57,271.82 L402.05,274.10 L402.52,276.64 L402.99,278.60 L403.46,279.74 L403.94,280.25 L404.41,280.43 L404.88,280.49 Z" fill="#0c2cff"/>
<path d="M402.42,280.49 L402.89,280.47 L403.37,280.38 L403.84,280.14 L404.31,279.61 L404.78,278.69 L405.25,277.50 L405.73,276.43 L406.20,276.00 L406.67,276.43 L407.14,277.50 L407.62,278.69 L408.09,279.61 L408.56,280.14 L409.03,280.38 L409.51,280.47 L409.98,280.49 Z" fill="#0c2cff"/>
<path d="M407.40,280.50 L407.85,280.48 L408.30,280.43 L408.75,280.30 L409.20,280.01 L409.65,279.49 L410.10,278.83 L410.55,278.24 L411.00,278.00 L411.45,278.24 L411.90,278.83 L412.35,279.49 L412.80,280.01 L413.25,280.30 L413.70,280.43 L414.15,280.48 L414.60,280.50 Z" fill="#5a70ff" stroke="#0c2cff" stroke-width="0.6"/>
<path d="M411.20,280.45 L411.76,280.25 L412.32,279.56 L412.89,277.65 L413.45,273.42 L414.01,266.11 L414.57,256.62 L415.14,248.15 L415.70,244.70 L416.26,248.15 L416.82,256.62 L417.39,266.11 L417.95,273.42 L418.51,277.65 L419.07,279.56 L419.64,280.25 L420.20,280.45 Z" fill="#0c2cff"/>
<path d="M417.42,280.48 L417.89,280.41 L418.37,280.17 L418.84,279.49 L419.31,277.99 L419.78,275.39 L420.25,272.03 L420.73,269.02 L421.20,267.80 L421.67,269.02 L422.14,272.03 L422.62,275.39 L423.09,277.99 L423.56,279.49 L424.03,280.17 L424.51,280.41 L424.98,280.48 Z" fill="#0c2cff"/>
</g>
<rect x="380.10" y="242.00" width="62.20" height="39.60" fill="none" stroke="#1c1c1c" stroke-width="1.4"/>
<path d="M415.07,233.70 L416.32,233.70 L416.32,237.10 L418.80,235.56 Q417.40,239.78 415.70,241.80 Q414.00,239.78 412.60,235.56 L415.07,237.10 Z" fill="#c8001e"/>
<path d="M420.27,257.90 L421.52,257.90 L421.52,261.34 L424.00,259.79 Q422.60,264.05 420.90,266.10 Q419.19,264.05 417.80,259.79 L420.27,261.34 Z" fill="#c8001e"/>
<text x="411.50" y="289.40" font-size="7.0" font-weight="normal" textLength="10.50" lengthAdjust="spacingAndGlyphs" fill="#000" stroke="#000" stroke-width="0.12">0.3</text>
<rect x="448.20" y="241.30" width="63.50" height="41.00" fill="#fff"/>
<clipPath id="c12"><rect x="449.60" y="242.70" width="60.70" height="38.20"/></clipPath><g clip-path="url(#c12)">
<rect x="448.20" y="280" width="63.50" height="1" fill="#3355ff"/>
<path d="M450.90,280.50 L451.35,280.50 L451.80,280.48 L452.25,280.44 L452.70,280.36 L453.15,280.22 L453.60,280.03 L454.05,279.87 L454.50,279.80 L454.95,279.87 L455.40,280.03 L455.85,280.22 L456.30,280.36 L456.75,280.44 L457.20,280.48 L457.65,280.50 L458.10,280.50 Z" fill="#0c2cff"/>
<path d="M456.22,280.49 L456.69,280.47 L457.17,280.40 L457.64,280.20 L458.11,279.75 L458.58,278.97 L459.06,277.97 L459.53,277.07 L460.00,276.70 L460.47,277.07 L460.94,277.97 L461.42,278.97 L461.89,279.75 L462.36,280.20 L462.83,280.40 L463.31,280.47 L463.78,280.49 Z" fill="#0c2cff"/>
<path d="M461.32,280.50 L461.79,280.48 L462.27,280.43 L462.74,280.30 L463.21,280.01 L463.68,279.49 L464.16,278.83 L464.63,278.24 L465.10,278.00 L465.57,278.24 L466.05,278.83 L466.52,279.49 L466.99,280.01 L467.46,280.30 L467.94,280.43 L468.41,280.48 L468.88,280.50 Z" fill="#0c2cff"/>
<path d="M466.42,280.49 L466.89,280.43 L467.37,280.26 L467.84,279.76 L468.31,278.66 L468.78,276.76 L469.25,274.30 L469.73,272.10 L470.20,271.20 L470.67,272.10 L471.14,274.30 L471.62,276.76 L472.09,278.66 L472.56,279.76 L473.03,280.26 L473.51,280.43 L473.98,280.49 Z" fill="#0c2cff"/>
<path d="M471.52,280.49 L471.99,280.47 L472.47,280.39 L472.94,280.17 L473.41,279.67 L473.88,278.81 L474.36,277.70 L474.83,276.70 L475.30,276.30 L475.77,276.70 L476.25,277.70 L476.72,278.81 L477.19,279.67 L477.66,280.17 L478.13,280.39 L478.61,280.47 L479.08,280.49 Z" fill="#0c2cff"/>
<path d="M477.00,280.50 L477.45,280.48 L477.90,280.43 L478.35,280.30 L478.80,280.01 L479.25,279.49 L479.70,278.83 L480.15,278.24 L480.60,278.00 L481.05,278.24 L481.50,278.83 L481.95,279.49 L482.40,280.01 L482.85,280.30 L483.30,280.43 L483.75,280.48 L484.20,280.50 Z" fill="#5a70ff" stroke="#0c2cff" stroke-width="0.6"/>
<path d="M480.70,280.45 L481.26,280.25 L481.82,279.56 L482.39,277.65 L482.95,273.42 L483.51,266.11 L484.07,256.62 L484.64,248.15 L485.20,244.70 L485.76,248.15 L486.32,256.62 L486.89,266.11 L487.45,273.42 L488.01,277.65 L488.57,279.56 L489.14,280.25 L489.70,280.45 Z" fill="#0c2cff"/>
<path d="M486.72,280.48 L487.19,280.41 L487.67,280.17 L488.14,279.49 L488.61,277.99 L489.08,275.39 L489.56,272.03 L490.03,269.02 L490.50,267.80 L490.97,269.02 L491.44,272.03 L491.92,275.39 L492.39,277.99 L492.86,279.49 L493.33,280.17 L493.81,280.41 L494.28,280.48 Z" fill="#0c2cff"/>
</g>
<rect x="448.90" y="242.00" width="62.10" height="39.60" fill="none" stroke="#1c1c1c" stroke-width="1.4"/>
<path d="M484.57,232.80 L485.82,232.80 L485.82,236.37 L488.30,234.76 Q486.90,239.18 485.20,241.30 Q483.50,239.18 482.10,234.76 L484.57,236.37 Z" fill="#c8001e"/>
<path d="M489.18,257.90 L490.43,257.90 L490.43,261.47 L492.90,259.85 Q491.50,264.27 489.80,266.40 Q488.10,264.27 486.70,259.85 L489.18,261.47 Z" fill="#c8001e"/>
<text x="475.00" y="289.40" font-size="7.0" font-weight="normal" textLength="10.70" lengthAdjust="spacingAndGlyphs" fill="#000" stroke="#000" stroke-width="0.12">0.3</text>
<text x="16.60" y="306.30" font-size="11.6" font-weight="bold" textLength="7.70" lengthAdjust="spacingAndGlyphs" fill="#000" stroke="#000" stroke-width="0.3">C</text>
<text x="33.80" y="302.50" font-size="8.5" font-weight="normal" textLength="126.30" lengthAdjust="spacingAndGlyphs" fill="#000" stroke="#000" stroke-width="0.12">MyD88 targeting in TCL1-355</text>
<rect x="32.90" y="303.38" width="127.90" height="0.85" fill="#000"/>
<text x="41.10" y="314.60" font-size="8.8" font-weight="normal" textLength="113.00" lengthAdjust="spacingAndGlyphs" fill="#000" stroke="#000" stroke-width="0.12">TP53/CDKN2A/2B ko cells</text>
<rect x="41.00" y="315.47" width="113.40" height="0.85" fill="#000"/>
<text x="22.70" y="349.00" font-size="7.6" font-weight="bold" textLength="21.90" lengthAdjust="spacingAndGlyphs" fill="#000" stroke="#000" stroke-width="0.15">Day 2</text>
<rect x="58.40" y="326.10" width="64.20" height="40.80" fill="#fff"/>
<clipPath id="c13"><rect x="59.80" y="327.50" width="61.40" height="38.00"/></clipPath><g clip-path="url(#c13)">
<rect x="58.40" y="365" width="64.20" height="1" fill="#3355ff"/>
<path d="M66.38,365.50 L66.81,365.50 L67.23,365.49 L67.66,365.46 L68.09,365.40 L68.52,365.30 L68.94,365.17 L69.37,365.05 L69.80,365.00 L70.23,365.05 L70.66,365.17 L71.08,365.30 L71.51,365.40 L71.94,365.46 L72.36,365.49 L72.79,365.50 L73.22,365.50 Z" fill="#0c2cff"/>
<path d="M72.48,365.50 L72.91,365.50 L73.34,365.49 L73.76,365.46 L74.19,365.40 L74.62,365.30 L75.05,365.17 L75.47,365.05 L75.90,365.00 L76.33,365.05 L76.76,365.17 L77.18,365.30 L77.61,365.40 L78.04,365.46 L78.47,365.49 L78.89,365.50 L79.32,365.50 Z" fill="#0c2cff"/>
<path d="M77.78,365.50 L78.21,365.49 L78.64,365.47 L79.06,365.40 L79.49,365.24 L79.92,364.98 L80.34,364.63 L80.77,364.33 L81.20,364.20 L81.63,364.33 L82.06,364.63 L82.48,364.98 L82.91,365.24 L83.34,365.40 L83.77,365.47 L84.19,365.49 L84.62,365.50 Z" fill="#cdd5ff"/>
<path d="M77.78,365.50 L78.21,365.49 L78.64,365.47 L79.06,365.40 L79.49,365.24 L79.92,364.98 L80.34,364.63 L80.77,364.33 L81.20,364.20 L81.63,364.33 L82.06,364.63 L82.48,364.98 L82.91,365.24 L83.34,365.40 L83.77,365.47 L84.19,365.49 L84.62,365.50" fill="none" stroke="#3a5cff" stroke-width="0.75"/>
<path d="M83.20,365.49 L83.65,365.47 L84.10,365.41 L84.55,365.21 L85.00,364.79 L85.45,364.05 L85.90,363.10 L86.35,362.25 L86.80,361.90 L87.25,362.25 L87.70,363.10 L88.15,364.05 L88.60,364.79 L89.05,365.21 L89.50,365.41 L89.95,365.47 L90.40,365.49 Z" fill="#0c2cff"/>
<path d="M88.70,365.47 L89.15,365.38 L89.60,365.05 L90.05,364.12 L90.50,362.06 L90.95,358.50 L91.40,353.89 L91.85,349.78 L92.30,348.10 L92.75,349.78 L93.20,353.89 L93.65,358.50 L94.10,362.06 L94.55,364.12 L95.00,365.05 L95.45,365.38 L95.90,365.47 Z" fill="#0c2cff"/>
<path d="M94.10,365.49 L94.55,365.45 L95.00,365.32 L95.45,364.97 L95.90,364.17 L96.35,362.81 L96.80,361.03 L97.25,359.45 L97.70,358.80 L98.15,359.45 L98.60,361.03 L99.05,362.81 L99.50,364.17 L99.95,364.97 L100.40,365.32 L100.85,365.45 L101.30,365.49 Z" fill="#0c2cff"/>
<path d="M99.14,365.44 L99.63,365.24 L100.13,364.54 L100.62,362.57 L101.12,358.22 L101.61,350.71 L102.11,340.96 L102.60,332.24 L103.10,328.70 L103.59,332.24 L104.09,340.96 L104.58,350.71 L105.08,358.22 L105.57,362.57 L106.07,364.54 L106.56,365.24 L107.06,365.44 Z" fill="#0c2cff"/>
<path d="M105.18,365.50 L105.61,365.49 L106.03,365.45 L106.46,365.36 L106.89,365.14 L107.32,364.78 L107.74,364.30 L108.17,363.87 L108.60,363.70 L109.03,363.87 L109.45,364.30 L109.88,364.78 L110.31,365.14 L110.74,365.36 L111.16,365.45 L111.59,365.49 L112.02,365.50 Z" fill="#cdd5ff"/>
<path d="M105.18,365.50 L105.61,365.49 L106.03,365.45 L106.46,365.36 L106.89,365.14 L107.32,364.78 L107.74,364.30 L108.17,363.87 L108.60,363.70 L109.03,363.87 L109.45,364.30 L109.88,364.78 L110.31,365.14 L110.74,365.36 L111.16,365.45 L111.59,365.49 L112.02,365.50" fill="none" stroke="#3a5cff" stroke-width="0.75"/>
</g>
<rect x="59.10" y="326.80" width="62.80" height="39.40" fill="none" stroke="#1c1c1c" stroke-width="1.4"/>
<path d="M97.17,346.90 L98.42,346.90 L98.42,350.81 L100.90,349.04 Q99.50,353.88 97.80,356.20 Q96.09,353.88 94.70,349.04 L97.17,350.81 Z" fill="#c8001e"/>
<text x="28.90" y="373.90" font-size="7.0" font-weight="normal" textLength="43.00" lengthAdjust="spacingAndGlyphs" fill="#000" stroke="#000" stroke-width="0.12">M/WT ratio:</text>
<text x="89.70" y="374.80" font-size="7.0" font-weight="normal" textLength="10.40" lengthAdjust="spacingAndGlyphs" fill="#000" stroke="#000" stroke-width="0.12">7.8</text>
<text x="22.70" y="409.00" font-size="7.6" font-weight="bold" textLength="25.40" lengthAdjust="spacingAndGlyphs" fill="#000" stroke="#000" stroke-width="0.15">Day 21</text>
<rect x="58.40" y="385.20" width="64.20" height="41.00" fill="#fff"/>
<clipPath id="c14"><rect x="59.80" y="386.60" width="61.40" height="38.20"/></clipPath><g clip-path="url(#c14)">
<rect x="58.40" y="424" width="64.20" height="1" fill="#3355ff"/>
<path d="M57.68,424.50 L58.11,424.50 L58.54,424.49 L58.96,424.48 L59.39,424.46 L59.82,424.42 L60.25,424.37 L60.67,424.32 L61.10,424.30 L61.53,424.32 L61.95,424.37 L62.38,424.42 L62.81,424.46 L63.24,424.48 L63.66,424.49 L64.09,424.50 L64.52,424.50 Z" fill="#0c2cff"/>
<path d="M62.48,424.50 L62.91,424.50 L63.34,424.49 L63.76,424.48 L64.19,424.46 L64.62,424.42 L65.05,424.37 L65.47,424.32 L65.90,424.30 L66.33,424.32 L66.76,424.37 L67.18,424.42 L67.61,424.46 L68.04,424.48 L68.47,424.49 L68.89,424.50 L69.32,424.50 Z" fill="#0c2cff"/>
<path d="M67.28,424.50 L67.71,424.50 L68.14,424.49 L68.56,424.46 L68.99,424.40 L69.42,424.30 L69.84,424.17 L70.27,424.05 L70.70,424.00 L71.13,424.05 L71.56,424.17 L71.98,424.30 L72.41,424.40 L72.84,424.46 L73.27,424.49 L73.69,424.50 L74.12,424.50 Z" fill="#cdd5ff"/>
<path d="M67.28,424.50 L67.71,424.50 L68.14,424.49 L68.56,424.46 L68.99,424.40 L69.42,424.30 L69.84,424.17 L70.27,424.05 L70.70,424.00 L71.13,424.05 L71.56,424.17 L71.98,424.30 L72.41,424.40 L72.84,424.46 L73.27,424.49 L73.69,424.50 L74.12,424.50" fill="none" stroke="#3a5cff" stroke-width="0.75"/>
<path d="M72.68,424.50 L73.11,424.49 L73.53,424.47 L73.96,424.41 L74.39,424.28 L74.82,424.06 L75.24,423.77 L75.67,423.51 L76.10,423.40 L76.53,423.51 L76.95,423.77 L77.38,424.06 L77.81,424.28 L78.24,424.41 L78.66,424.47 L79.09,424.49 L79.52,424.50 Z" fill="#0c2cff"/>
<path d="M78.18,424.50 L78.61,424.49 L79.03,424.47 L79.46,424.41 L79.89,424.28 L80.32,424.06 L80.74,423.77 L81.17,423.51 L81.60,423.40 L82.03,423.51 L82.45,423.77 L82.88,424.06 L83.31,424.28 L83.74,424.41 L84.16,424.47 L84.59,424.49 L85.02,424.50 Z" fill="#0c2cff"/>
<path d="M83.38,424.50 L83.81,424.48 L84.23,424.43 L84.66,424.30 L85.09,424.01 L85.52,423.49 L85.94,422.83 L86.37,422.24 L86.80,422.00 L87.23,422.24 L87.66,422.83 L88.08,423.49 L88.51,424.01 L88.94,424.30 L89.36,424.43 L89.79,424.48 L90.22,424.50 Z" fill="#0c2cff"/>
<path d="M88.50,424.48 L88.95,424.42 L89.40,424.20 L89.85,423.60 L90.30,422.26 L90.75,419.96 L91.20,416.96 L91.65,414.29 L92.10,413.20 L92.55,414.29 L93.00,416.96 L93.45,419.96 L93.90,422.26 L94.35,423.60 L94.80,424.20 L95.25,424.42 L95.70,424.48 Z" fill="#0c2cff"/>
<path d="M94.18,424.50 L94.61,424.49 L95.03,424.45 L95.46,424.35 L95.89,424.12 L96.32,423.74 L96.74,423.23 L97.17,422.78 L97.60,422.60 L98.03,422.78 L98.45,423.23 L98.88,423.74 L99.31,424.12 L99.74,424.35 L100.16,424.45 L100.59,424.49 L101.02,424.50 Z" fill="#0c2cff"/>
<path d="M98.54,424.45 L99.03,424.25 L99.53,423.57 L100.03,421.67 L100.52,417.45 L101.02,410.19 L101.51,400.76 L102.00,392.33 L102.50,388.90 L103.00,392.33 L103.49,400.76 L103.98,410.19 L104.48,417.45 L104.97,421.67 L105.47,423.57 L105.97,424.25 L106.46,424.45 Z" fill="#0c2cff"/>
<path d="M104.38,424.49 L104.81,424.47 L105.23,424.40 L105.66,424.20 L106.09,423.75 L106.52,422.97 L106.94,421.97 L107.37,421.07 L107.80,420.70 L108.23,421.07 L108.66,421.97 L109.08,422.97 L109.51,423.75 L109.94,424.20 L110.36,424.40 L110.79,424.47 L111.22,424.49 Z" fill="#cdd5ff"/>
<path d="M104.38,424.49 L104.81,424.47 L105.23,424.40 L105.66,424.20 L106.09,423.75 L106.52,422.97 L106.94,421.97 L107.37,421.07 L107.80,420.70 L108.23,421.07 L108.66,421.97 L109.08,422.97 L109.51,423.75 L109.94,424.20 L110.36,424.40 L110.79,424.47 L111.22,424.49" fill="none" stroke="#3a5cff" stroke-width="0.75"/>
</g>
<rect x="59.10" y="385.90" width="62.80" height="39.60" fill="none" stroke="#1c1c1c" stroke-width="1.4"/>
<path d="M96.67,411.10 L97.92,411.10 L97.92,414.67 L100.40,413.06 Q99.00,417.48 97.30,419.60 Q95.59,417.48 94.20,413.06 L96.67,414.67 Z" fill="#c8001e"/>
<text x="28.90" y="434.60" font-size="7.0" font-weight="normal" textLength="43.00" lengthAdjust="spacingAndGlyphs" fill="#000" stroke="#000" stroke-width="0.12">M/WT ratio:</text>
<text x="87.70" y="434.60" font-size="7.0" font-weight="normal" textLength="15.00" lengthAdjust="spacingAndGlyphs" fill="#000" stroke="#000" stroke-width="0.12">15.2</text>
<text x="239.50" y="339.10" font-size="11.6" font-weight="bold" textLength="7.40" lengthAdjust="spacingAndGlyphs" fill="#000" stroke="#000" stroke-width="0.3">D</text>
<text x="274.20" y="336.40" font-size="10.0" font-weight="normal" textLength="32.00" lengthAdjust="spacingAndGlyphs" fill="#000" stroke="#000" stroke-width="0.12">Control</text>
<text x="332.80" y="337.00" font-size="10.0" font-weight="normal" textLength="45.20" lengthAdjust="spacingAndGlyphs" fill="#000" stroke="#000" stroke-width="0.12">MyD88 Ko</text>
<rect x="260.00" y="342.00" width="52.10" height="38.80" fill="#fff" stroke="#333" stroke-width="0.8"/>
<path d="M263.3 377.2h0.7v0.7h-0.7zM266.1 369.8h0.7v0.7h-0.7zM279.9 363.7h0.7v0.7h-0.7zM264.0 366.1h0.7v0.7h-0.7zM270.8 365.9h0.7v0.7h-0.7zM273.2 365.0h0.7v0.7h-0.7zM279.7 359.0h0.7v0.7h-0.7zM271.8 364.1h0.7v0.7h-0.7zM279.9 355.9h0.7v0.7h-0.7zM272.2 371.0h0.7v0.7h-0.7zM277.6 361.2h0.7v0.7h-0.7zM271.8 361.6h0.7v0.7h-0.7zM291.1 352.5h0.7v0.7h-0.7zM268.1 368.6h0.7v0.7h-0.7zM272.2 356.6h0.7v0.7h-0.7zM269.2 371.5h0.7v0.7h-0.7zM284.8 346.4h0.7v0.7h-0.7zM261.2 376.0h0.7v0.7h-0.7zM268.9 372.8h0.7v0.7h-0.7zM280.2 350.6h0.7v0.7h-0.7zM273.3 370.6h0.7v0.7h-0.7zM281.1 356.8h0.7v0.7h-0.7zM270.4 369.0h0.7v0.7h-0.7zM264.9 371.3h0.7v0.7h-0.7zM263.1 375.6h0.7v0.7h-0.7zM284.7 353.0h0.7v0.7h-0.7zM278.6 347.3h0.7v0.7h-0.7zM282.1 367.6h0.7v0.7h-0.7zM277.3 361.8h0.7v0.7h-0.7zM269.9 379.1h0.7v0.7h-0.7zM269.8 371.1h0.7v0.7h-0.7zM263.7 375.6h0.7v0.7h-0.7zM275.6 351.3h0.7v0.7h-0.7zM271.2 361.3h0.7v0.7h-0.7zM285.9 347.1h0.7v0.7h-0.7zM295.1 355.8h0.7v0.7h-0.7zM282.4 359.7h0.7v0.7h-0.7zM267.7 374.7h0.7v0.7h-0.7zM269.8 359.1h0.7v0.7h-0.7zM278.8 350.5h0.7v0.7h-0.7zM278.8 368.1h0.7v0.7h-0.7zM270.2 371.4h0.7v0.7h-0.7zM273.4 363.5h0.7v0.7h-0.7zM287.3 357.8h0.7v0.7h-0.7zM274.6 367.4h0.7v0.7h-0.7zM270.8 363.6h0.7v0.7h-0.7zM269.6 379.1h0.7v0.7h-0.7zM268.7 365.6h0.7v0.7h-0.7zM268.7 376.8h0.7v0.7h-0.7zM277.0 368.2h0.7v0.7h-0.7zM274.1 363.9h0.7v0.7h-0.7zM264.3 375.7h0.7v0.7h-0.7zM283.8 356.1h0.7v0.7h-0.7zM266.2 369.2h0.7v0.7h-0.7zM293.9 358.1h0.7v0.7h-0.7zM270.9 360.3h0.7v0.7h-0.7zM265.2 377.7h0.7v0.7h-0.7zM276.5 364.4h0.7v0.7h-0.7zM264.1 368.7h0.7v0.7h-0.7zM266.7 378.4h0.7v0.7h-0.7zM264.8 378.3h0.7v0.7h-0.7zM270.6 376.9h0.7v0.7h-0.7zM277.8 346.2h0.7v0.7h-0.7zM271.1 366.0h0.7v0.7h-0.7zM262.4 376.3h0.7v0.7h-0.7zM273.1 356.7h0.7v0.7h-0.7zM270.6 373.5h0.7v0.7h-0.7zM275.8 354.9h0.7v0.7h-0.7zM262.9 373.9h0.7v0.7h-0.7zM280.1 354.4h0.7v0.7h-0.7zM263.8 373.2h0.7v0.7h-0.7zM262.7 371.7h0.7v0.7h-0.7zM278.2 348.8h0.7v0.7h-0.7zM267.6 369.7h0.7v0.7h-0.7zM268.2 377.5h0.7v0.7h-0.7zM262.0 372.4h0.7v0.7h-0.7zM266.1 378.7h0.7v0.7h-0.7zM271.1 372.7h0.7v0.7h-0.7zM283.3 349.1h0.7v0.7h-0.7zM279.4 349.5h0.7v0.7h-0.7zM288.5 350.9h0.7v0.7h-0.7zM274.0 360.9h0.7v0.7h-0.7zM287.8 354.0h0.7v0.7h-0.7zM276.3 378.9h0.7v0.7h-0.7zM268.8 371.7h0.7v0.7h-0.7zM282.8 361.6h0.7v0.7h-0.7zM268.3 375.8h0.7v0.7h-0.7zM291.2 362.5h0.7v0.7h-0.7zM268.8 374.8h0.7v0.7h-0.7zM265.8 366.3h0.7v0.7h-0.7zM282.9 348.6h0.7v0.7h-0.7zM279.1 348.1h0.7v0.7h-0.7zM269.5 371.7h0.7v0.7h-0.7zM266.4 367.6h0.7v0.7h-0.7zM262.9 373.2h0.7v0.7h-0.7zM267.7 372.3h0.7v0.7h-0.7zM263.9 372.8h0.7v0.7h-0.7zM271.8 364.7h0.7v0.7h-0.7zM282.0 359.3h0.7v0.7h-0.7zM272.3 362.1h0.7v0.7h-0.7zM265.7 377.7h0.7v0.7h-0.7zM275.7 367.2h0.7v0.7h-0.7zM261.9 372.3h0.7v0.7h-0.7zM275.9 358.1h0.7v0.7h-0.7zM275.5 349.5h0.7v0.7h-0.7zM271.5 359.5h0.7v0.7h-0.7zM262.5 375.5h0.7v0.7h-0.7zM264.4 371.0h0.7v0.7h-0.7zM274.1 352.2h0.7v0.7h-0.7zM287.0 355.4h0.7v0.7h-0.7zM270.6 369.8h0.7v0.7h-0.7zM264.1 374.3h0.7v0.7h-0.7zM285.7 356.0h0.7v0.7h-0.7zM280.3 359.5h0.7v0.7h-0.7zM271.4 367.1h0.7v0.7h-0.7zM270.2 370.7h0.7v0.7h-0.7zM267.6 368.8h0.7v0.7h-0.7zM267.9 373.6h0.7v0.7h-0.7zM268.1 375.6h0.7v0.7h-0.7zM284.0 353.7h0.7v0.7h-0.7zM275.5 348.3h0.7v0.7h-0.7zM272.9 362.0h0.7v0.7h-0.7zM268.8 360.9h0.7v0.7h-0.7zM270.3 371.7h0.7v0.7h-0.7zM268.3 372.8h0.7v0.7h-0.7zM281.2 359.8h0.7v0.7h-0.7zM265.3 378.5h0.7v0.7h-0.7zM269.8 356.2h0.7v0.7h-0.7zM277.5 362.3h0.7v0.7h-0.7zM267.3 377.6h0.7v0.7h-0.7zM268.7 364.9h0.7v0.7h-0.7zM285.9 347.7h0.7v0.7h-0.7zM271.6 370.7h0.7v0.7h-0.7zM264.5 374.0h0.7v0.7h-0.7zM266.4 368.6h0.7v0.7h-0.7zM266.7 378.5h0.7v0.7h-0.7zM276.5 362.9h0.7v0.7h-0.7zM279.1 354.4h0.7v0.7h-0.7zM273.0 373.1h0.7v0.7h-0.7zM288.6 350.4h0.7v0.7h-0.7zM279.3 359.7h0.7v0.7h-0.7zM272.8 349.8h0.7v0.7h-0.7zM269.6 367.1h0.7v0.7h-0.7zM278.0 357.2h0.7v0.7h-0.7zM291.4 356.4h0.7v0.7h-0.7zM268.6 366.8h0.7v0.7h-0.7zM272.6 353.7h0.7v0.7h-0.7zM269.5 377.8h0.7v0.7h-0.7zM265.3 378.1h0.7v0.7h-0.7zM267.9 377.1h0.7v0.7h-0.7zM271.4 366.8h0.7v0.7h-0.7zM277.5 346.9h0.7v0.7h-0.7zM267.8 377.7h0.7v0.7h-0.7zM276.5 359.7h0.7v0.7h-0.7zM268.1 377.0h0.7v0.7h-0.7zM282.4 351.1h0.7v0.7h-0.7zM268.6 374.0h0.7v0.7h-0.7zM274.1 368.0h0.7v0.7h-0.7zM275.3 353.0h0.7v0.7h-0.7zM265.2 365.1h0.7v0.7h-0.7zM266.6 375.3h0.7v0.7h-0.7zM275.1 363.7h0.7v0.7h-0.7zM266.5 371.0h0.7v0.7h-0.7zM266.5 379.2h0.7v0.7h-0.7zM270.4 370.8h0.7v0.7h-0.7zM283.8 352.1h0.7v0.7h-0.7zM264.9 375.1h0.7v0.7h-0.7zM265.5 369.8h0.7v0.7h-0.7zM265.8 374.6h0.7v0.7h-0.7zM272.9 365.5h0.7v0.7h-0.7zM269.9 376.5h0.7v0.7h-0.7zM269.6 367.2h0.7v0.7h-0.7zM275.9 376.8h0.7v0.7h-0.7zM270.2 366.3h0.7v0.7h-0.7zM273.5 368.6h0.7v0.7h-0.7zM268.0 376.9h0.7v0.7h-0.7zM268.3 361.6h0.7v0.7h-0.7zM280.6 363.6h0.7v0.7h-0.7zM278.3 354.4h0.7v0.7h-0.7zM269.1 365.9h0.7v0.7h-0.7zM267.3 371.1h0.7v0.7h-0.7zM281.3 352.9h0.7v0.7h-0.7zM286.2 349.1h0.7v0.7h-0.7zM264.0 377.5h0.7v0.7h-0.7zM273.6 369.4h0.7v0.7h-0.7zM271.3 359.2h0.7v0.7h-0.7zM272.7 368.6h0.7v0.7h-0.7zM267.6 366.2h0.7v0.7h-0.7zM270.3 370.3h0.7v0.7h-0.7zM264.6 376.9h0.7v0.7h-0.7zM266.8 378.3h0.7v0.7h-0.7zM266.8 367.0h0.7v0.7h-0.7zM271.1 352.7h0.7v0.7h-0.7zM277.2 354.1h0.7v0.7h-0.7zM268.8 378.8h0.7v0.7h-0.7zM266.5 371.7h0.7v0.7h-0.7zM289.7 350.0h0.7v0.7h-0.7zM265.4 378.6h0.7v0.7h-0.7zM280.8 360.8h0.7v0.7h-0.7zM280.3 353.4h0.7v0.7h-0.7zM283.3 349.3h0.7v0.7h-0.7zM263.3 375.9h0.7v0.7h-0.7zM266.3 377.1h0.7v0.7h-0.7zM273.0 357.2h0.7v0.7h-0.7zM268.4 371.7h0.7v0.7h-0.7zM283.0 351.0h0.7v0.7h-0.7zM279.3 352.8h0.7v0.7h-0.7zM266.1 376.3h0.7v0.7h-0.7zM278.2 364.9h0.7v0.7h-0.7zM279.6 369.7h0.7v0.7h-0.7zM284.5 361.0h0.7v0.7h-0.7zM285.7 370.1h0.7v0.7h-0.7zM271.7 362.4h0.7v0.7h-0.7zM267.1 366.9h0.7v0.7h-0.7zM261.2 376.0h0.7v0.7h-0.7zM271.7 356.3h0.7v0.7h-0.7zM265.8 376.9h0.7v0.7h-0.7zM262.4 376.6h0.7v0.7h-0.7zM278.6 354.4h0.7v0.7h-0.7zM264.3 372.3h0.7v0.7h-0.7zM267.2 370.7h0.7v0.7h-0.7zM262.0 364.0h0.7v0.7h-0.7zM269.2 371.0h0.7v0.7h-0.7zM271.4 377.0h0.7v0.7h-0.7zM263.7 377.0h0.7v0.7h-0.7zM265.8 373.1h0.7v0.7h-0.7zM272.2 376.1h0.7v0.7h-0.7zM280.5 348.2h0.7v0.7h-0.7zM273.0 348.3h0.7v0.7h-0.7zM268.3 355.6h0.7v0.7h-0.7zM265.0 374.6h0.7v0.7h-0.7zM270.6 362.6h0.7v0.7h-0.7zM272.5 364.6h0.7v0.7h-0.7zM265.7 374.2h0.7v0.7h-0.7zM275.3 357.5h0.7v0.7h-0.7zM279.3 365.0h0.7v0.7h-0.7zM275.4 358.2h0.7v0.7h-0.7zM274.9 363.6h0.7v0.7h-0.7zM277.9 343.8h0.7v0.7h-0.7zM281.6 351.5h0.7v0.7h-0.7zM263.9 377.0h0.7v0.7h-0.7zM280.6 357.1h0.7v0.7h-0.7zM278.8 352.5h0.7v0.7h-0.7zM262.6 377.1h0.7v0.7h-0.7zM283.5 351.3h0.7v0.7h-0.7zM261.6 374.7h0.7v0.7h-0.7zM278.5 366.1h0.7v0.7h-0.7zM279.0 351.7h0.7v0.7h-0.7zM267.8 372.3h0.7v0.7h-0.7zM263.8 355.0h0.7v0.7h-0.7zM275.2 366.0h0.7v0.7h-0.7zM267.9 367.5h0.7v0.7h-0.7zM266.8 370.6h0.7v0.7h-0.7zM261.9 369.4h0.7v0.7h-0.7zM273.3 373.8h0.7v0.7h-0.7zM276.9 351.1h0.7v0.7h-0.7zM285.0 351.2h0.7v0.7h-0.7zM275.3 359.1h0.7v0.7h-0.7zM284.3 351.3h0.7v0.7h-0.7zM268.7 373.1h0.7v0.7h-0.7zM263.0 367.0h0.7v0.7h-0.7zM273.0 373.9h0.7v0.7h-0.7zM267.4 378.0h0.7v0.7h-0.7zM276.9 362.7h0.7v0.7h-0.7zM277.7 358.3h0.7v0.7h-0.7zM268.5 374.7h0.7v0.7h-0.7zM267.1 374.6h0.7v0.7h-0.7zM285.1 347.2h0.7v0.7h-0.7zM267.7 376.3h0.7v0.7h-0.7zM267.5 369.9h0.7v0.7h-0.7zM274.6 370.6h0.7v0.7h-0.7zM272.8 363.9h0.7v0.7h-0.7zM263.7 375.4h0.7v0.7h-0.7zM263.6 373.3h0.7v0.7h-0.7zM278.1 348.3h0.7v0.7h-0.7zM269.6 364.9h0.7v0.7h-0.7zM280.8 349.0h0.7v0.7h-0.7zM270.7 356.1h0.7v0.7h-0.7zM268.8 362.1h0.7v0.7h-0.7zM283.2 351.2h0.7v0.7h-0.7zM275.2 365.9h0.7v0.7h-0.7zM280.5 357.3h0.7v0.7h-0.7zM267.2 374.8h0.7v0.7h-0.7zM280.0 358.6h0.7v0.7h-0.7zM281.8 359.7h0.7v0.7h-0.7zM276.4 351.8h0.7v0.7h-0.7zM264.6 373.4h0.7v0.7h-0.7zM273.0 357.7h0.7v0.7h-0.7zM288.1 354.2h0.7v0.7h-0.7zM281.8 366.8h0.7v0.7h-0.7zM261.5 374.6h0.7v0.7h-0.7zM285.7 349.4h0.7v0.7h-0.7zM275.1 352.2h0.7v0.7h-0.7zM263.3 371.9h0.7v0.7h-0.7zM284.4 352.4h0.7v0.7h-0.7zM287.0 356.6h0.7v0.7h-0.7zM279.8 361.7h0.7v0.7h-0.7zM270.5 365.1h0.7v0.7h-0.7zM277.2 368.2h0.7v0.7h-0.7zM274.1 361.3h0.7v0.7h-0.7zM273.2 367.9h0.7v0.7h-0.7zM279.3 361.2h0.7v0.7h-0.7zM279.4 365.9h0.7v0.7h-0.7zM284.7 351.1h0.7v0.7h-0.7zM268.9 363.4h0.7v0.7h-0.7zM263.1 363.2h0.7v0.7h-0.7zM261.5 376.3h0.7v0.7h-0.7zM269.6 372.0h0.7v0.7h-0.7zM266.3 376.1h0.7v0.7h-0.7zM271.4 363.0h0.7v0.7h-0.7zM274.6 359.9h0.7v0.7h-0.7zM279.5 346.3h0.7v0.7h-0.7zM281.0 352.8h0.7v0.7h-0.7zM280.4 349.0h0.7v0.7h-0.7zM281.0 352.4h0.7v0.7h-0.7zM275.7 367.4h0.7v0.7h-0.7zM270.9 374.9h0.7v0.7h-0.7zM270.6 362.6h0.7v0.7h-0.7zM268.7 363.1h0.7v0.7h-0.7zM268.5 367.6h0.7v0.7h-0.7zM272.0 353.2h0.7v0.7h-0.7zM274.4 367.0h0.7v0.7h-0.7zM272.8 363.1h0.7v0.7h-0.7zM283.0 355.3h0.7v0.7h-0.7zM280.9 354.6h0.7v0.7h-0.7zM281.0 352.1h0.7v0.7h-0.7zM268.4 353.2h0.7v0.7h-0.7zM280.3 354.7h0.7v0.7h-0.7zM276.1 357.4h0.7v0.7h-0.7zM277.7 344.3h0.7v0.7h-0.7zM271.1 362.6h0.7v0.7h-0.7zM273.5 366.0h0.7v0.7h-0.7zM263.8 377.0h0.7v0.7h-0.7zM273.6 358.5h0.7v0.7h-0.7zM273.9 353.8h0.7v0.7h-0.7zM274.7 374.2h0.7v0.7h-0.7zM267.6 378.1h0.7v0.7h-0.7zM269.2 369.5h0.7v0.7h-0.7zM266.2 366.4h0.7v0.7h-0.7zM264.9 367.3h0.7v0.7h-0.7zM271.9 361.0h0.7v0.7h-0.7zM282.6 360.0h0.7v0.7h-0.7zM290.9 350.1h0.7v0.7h-0.7zM263.8 377.8h0.7v0.7h-0.7zM269.6 368.3h0.7v0.7h-0.7zM269.6 372.3h0.7v0.7h-0.7zM276.2 353.1h0.7v0.7h-0.7zM281.9 362.9h0.7v0.7h-0.7zM273.2 361.5h0.7v0.7h-0.7zM267.2 375.5h0.7v0.7h-0.7zM281.9 358.5h0.7v0.7h-0.7zM276.3 358.8h0.7v0.7h-0.7zM277.7 361.8h0.7v0.7h-0.7zM277.1 355.9h0.7v0.7h-0.7zM273.6 362.0h0.7v0.7h-0.7zM270.9 362.8h0.7v0.7h-0.7zM271.0 366.4h0.7v0.7h-0.7zM269.1 367.6h0.7v0.7h-0.7zM283.5 347.0h0.7v0.7h-0.7zM267.5 371.9h0.7v0.7h-0.7zM263.9 373.1h0.7v0.7h-0.7zM263.7 376.5h0.7v0.7h-0.7zM278.7 357.0h0.7v0.7h-0.7zM284.7 346.4h0.7v0.7h-0.7zM271.1 375.0h0.7v0.7h-0.7zM261.3 376.2h0.7v0.7h-0.7zM266.5 368.8h0.7v0.7h-0.7zM266.9 367.0h0.7v0.7h-0.7zM271.1 367.6h0.7v0.7h-0.7zM266.6 373.8h0.7v0.7h-0.7zM267.7 360.4h0.7v0.7h-0.7zM266.5 378.8h0.7v0.7h-0.7zM266.9 378.0h0.7v0.7h-0.7zM267.9 374.2h0.7v0.7h-0.7zM267.5 371.1h0.7v0.7h-0.7zM266.2 368.3h0.7v0.7h-0.7zM270.1 352.6h0.7v0.7h-0.7zM272.8 360.1h0.7v0.7h-0.7zM264.9 372.5h0.7v0.7h-0.7zM275.3 360.0h0.7v0.7h-0.7zM276.2 360.5h0.7v0.7h-0.7zM275.4 367.4h0.7v0.7h-0.7zM266.2 377.8h0.7v0.7h-0.7zM286.1 361.4h0.7v0.7h-0.7zM266.8 365.5h0.7v0.7h-0.7zM269.1 369.6h0.7v0.7h-0.7zM267.7 373.6h0.7v0.7h-0.7zM274.6 353.7h0.7v0.7h-0.7zM278.8 356.4h0.7v0.7h-0.7zM266.8 376.4h0.7v0.7h-0.7zM269.9 374.9h0.7v0.7h-0.7zM287.8 352.4h0.7v0.7h-0.7zM268.7 369.0h0.7v0.7h-0.7zM267.6 377.8h0.7v0.7h-0.7zM274.8 361.1h0.7v0.7h-0.7zM277.5 366.3h0.7v0.7h-0.7zM268.3 373.5h0.7v0.7h-0.7zM276.0 370.3h0.7v0.7h-0.7zM276.2 354.6h0.7v0.7h-0.7zM273.6 354.5h0.7v0.7h-0.7zM274.7 369.1h0.7v0.7h-0.7zM280.3 355.0h0.7v0.7h-0.7zM264.8 371.2h0.7v0.7h-0.7zM279.4 350.2h0.7v0.7h-0.7zM268.9 375.6h0.7v0.7h-0.7zM284.2 349.3h0.7v0.7h-0.7zM264.6 375.6h0.7v0.7h-0.7zM264.4 363.4h0.7v0.7h-0.7zM267.2 369.2h0.7v0.7h-0.7zM271.6 365.5h0.7v0.7h-0.7zM275.6 366.9h0.7v0.7h-0.7zM267.7 369.5h0.7v0.7h-0.7zM291.8 353.1h0.7v0.7h-0.7zM273.6 364.5h0.7v0.7h-0.7zM270.7 363.1h0.7v0.7h-0.7zM287.8 355.6h0.7v0.7h-0.7zM279.3 350.8h0.7v0.7h-0.7zM268.7 367.9h0.7v0.7h-0.7zM262.0 373.3h0.7v0.7h-0.7zM265.8 371.8h0.7v0.7h-0.7zM275.2 346.6h0.7v0.7h-0.7zM273.1 366.5h0.7v0.7h-0.7zM285.1 353.8h0.7v0.7h-0.7zM263.8 372.5h0.7v0.7h-0.7zM266.1 378.5h0.7v0.7h-0.7zM272.9 359.6h0.7v0.7h-0.7zM275.3 363.6h0.7v0.7h-0.7zM270.1 379.0h0.7v0.7h-0.7zM283.1 356.3h0.7v0.7h-0.7zM282.3 353.1h0.7v0.7h-0.7zM274.0 362.3h0.7v0.7h-0.7zM271.3 369.1h0.7v0.7h-0.7zM284.4 346.8h0.7v0.7h-0.7zM271.0 363.4h0.7v0.7h-0.7zM277.5 353.6h0.7v0.7h-0.7zM273.2 356.0h0.7v0.7h-0.7zM270.1 374.2h0.7v0.7h-0.7zM276.2 368.3h0.7v0.7h-0.7zM279.8 359.8h0.7v0.7h-0.7zM265.6 366.2h0.7v0.7h-0.7zM269.3 376.0h0.7v0.7h-0.7zM282.5 348.7h0.7v0.7h-0.7zM268.0 371.1h0.7v0.7h-0.7zM272.6 358.2h0.7v0.7h-0.7zM275.1 360.6h0.7v0.7h-0.7zM272.3 363.8h0.7v0.7h-0.7zM278.7 347.2h0.7v0.7h-0.7zM264.6 377.1h0.7v0.7h-0.7zM265.1 377.1h0.7v0.7h-0.7zM266.1 369.0h0.7v0.7h-0.7zM270.1 368.7h0.7v0.7h-0.7zM271.4 361.3h0.7v0.7h-0.7zM270.9 367.4h0.7v0.7h-0.7zM261.4 372.8h0.7v0.7h-0.7zM266.2 355.6h0.7v0.7h-0.7zM266.1 378.4h0.7v0.7h-0.7zM265.9 374.4h0.7v0.7h-0.7zM271.1 375.6h0.7v0.7h-0.7zM279.1 366.4h0.7v0.7h-0.7zM264.5 378.3h0.7v0.7h-0.7zM279.9 348.6h0.7v0.7h-0.7zM269.8 371.2h0.7v0.7h-0.7zM263.6 375.1h0.7v0.7h-0.7zM268.1 379.0h0.7v0.7h-0.7zM276.9 353.0h0.7v0.7h-0.7zM268.2 368.2h0.7v0.7h-0.7zM279.1 359.8h0.7v0.7h-0.7zM274.0 369.9h0.7v0.7h-0.7zM283.8 353.1h0.7v0.7h-0.7zM275.1 363.9h0.7v0.7h-0.7zM265.4 376.5h0.7v0.7h-0.7zM283.6 354.4h0.7v0.7h-0.7zM265.1 368.8h0.7v0.7h-0.7zM265.6 375.1h0.7v0.7h-0.7zM283.1 354.0h0.7v0.7h-0.7zM276.7 352.9h0.7v0.7h-0.7zM264.5 377.7h0.7v0.7h-0.7zM266.8 376.6h0.7v0.7h-0.7zM265.9 366.3h0.7v0.7h-0.7zM271.9 365.1h0.7v0.7h-0.7zM288.5 355.0h0.7v0.7h-0.7zM275.8 353.8h0.7v0.7h-0.7zM266.2 374.1h0.7v0.7h-0.7zM270.7 364.0h0.7v0.7h-0.7zM281.5 360.3h0.7v0.7h-0.7zM265.9 367.2h0.7v0.7h-0.7zM280.7 349.3h0.7v0.7h-0.7zM277.6 355.6h0.7v0.7h-0.7zM271.0 367.5h0.7v0.7h-0.7zM268.6 376.7h0.7v0.7h-0.7zM276.8 363.4h0.7v0.7h-0.7zM277.8 346.0h0.7v0.7h-0.7zM278.1 357.1h0.7v0.7h-0.7zM269.6 368.0h0.7v0.7h-0.7zM275.7 355.7h0.7v0.7h-0.7zM272.1 359.3h0.7v0.7h-0.7zM277.3 349.2h0.7v0.7h-0.7zM265.7 379.1h0.7v0.7h-0.7zM265.3 367.9h0.7v0.7h-0.7zM276.3 353.0h0.7v0.7h-0.7zM273.0 364.4h0.7v0.7h-0.7zM274.5 354.1h0.7v0.7h-0.7zM268.0 369.9h0.7v0.7h-0.7zM270.4 370.8h0.7v0.7h-0.7zM269.0 371.6h0.7v0.7h-0.7zM273.2 355.7h0.7v0.7h-0.7zM265.2 378.4h0.7v0.7h-0.7zM285.5 348.1h0.7v0.7h-0.7zM285.6 352.2h0.7v0.7h-0.7zM271.9 375.6h0.7v0.7h-0.7zM265.2 373.1h0.7v0.7h-0.7zM280.5 361.9h0.7v0.7h-0.7zM279.4 367.4h0.7v0.7h-0.7zM278.4 361.5h0.7v0.7h-0.7zM263.2 375.9h0.7v0.7h-0.7zM272.9 357.7h0.7v0.7h-0.7zM281.4 355.6h0.7v0.7h-0.7zM268.1 375.8h0.7v0.7h-0.7zM278.5 365.0h0.7v0.7h-0.7zM273.4 369.5h0.7v0.7h-0.7zM283.4 353.7h0.7v0.7h-0.7zM279.8 358.4h0.7v0.7h-0.7zM277.9 367.2h0.7v0.7h-0.7zM279.8 346.6h0.7v0.7h-0.7zM275.8 367.6h0.7v0.7h-0.7zM277.1 353.1h0.7v0.7h-0.7zM268.1 369.8h0.7v0.7h-0.7zM274.0 362.6h0.7v0.7h-0.7zM286.2 349.5h0.7v0.7h-0.7zM279.5 356.4h0.7v0.7h-0.7zM268.3 377.3h0.7v0.7h-0.7zM284.4 345.8h0.7v0.7h-0.7zM281.9 354.8h0.7v0.7h-0.7zM277.9 363.2h0.7v0.7h-0.7zM265.7 376.5h0.7v0.7h-0.7zM270.2 361.9h0.7v0.7h-0.7zM263.1 375.5h0.7v0.7h-0.7zM276.7 362.0h0.7v0.7h-0.7zM283.9 358.6h0.7v0.7h-0.7zM275.1 357.5h0.7v0.7h-0.7zM274.1 360.2h0.7v0.7h-0.7zM271.4 379.0h0.7v0.7h-0.7zM263.6 376.0h0.7v0.7h-0.7zM275.7 365.3h0.7v0.7h-0.7zM263.3 377.5h0.7v0.7h-0.7zM273.4 360.9h0.7v0.7h-0.7zM262.1 369.2h0.7v0.7h-0.7zM270.2 364.0h0.7v0.7h-0.7zM266.6 377.4h0.7v0.7h-0.7zM279.6 350.4h0.7v0.7h-0.7zM269.7 367.4h0.7v0.7h-0.7zM271.8 372.2h0.7v0.7h-0.7zM266.7 377.8h0.7v0.7h-0.7zM270.9 378.8h0.7v0.7h-0.7zM276.8 352.9h0.7v0.7h-0.7zM276.5 356.9h0.7v0.7h-0.7zM279.6 361.4h0.7v0.7h-0.7zM278.8 362.6h0.7v0.7h-0.7zM268.0 362.6h0.7v0.7h-0.7zM276.6 362.6h0.7v0.7h-0.7zM264.5 372.2h0.7v0.7h-0.7zM276.1 368.0h0.7v0.7h-0.7zM264.6 373.2h0.7v0.7h-0.7zM277.1 361.8h0.7v0.7h-0.7zM273.6 352.4h0.7v0.7h-0.7zM264.9 378.0h0.7v0.7h-0.7zM271.6 346.5h0.7v0.7h-0.7zM281.4 362.3h0.7v0.7h-0.7zM265.9 378.6h0.7v0.7h-0.7zM288.5 348.9h0.7v0.7h-0.7zM281.4 353.4h0.7v0.7h-0.7zM266.5 376.4h0.7v0.7h-0.7zM281.6 356.0h0.7v0.7h-0.7zM279.5 364.4h0.7v0.7h-0.7zM275.5 363.5h0.7v0.7h-0.7zM278.2 364.5h0.7v0.7h-0.7zM268.2 364.9h0.7v0.7h-0.7zM272.2 360.7h0.7v0.7h-0.7zM283.3 346.9h0.7v0.7h-0.7zM268.6 375.6h0.7v0.7h-0.7zM267.3 376.8h0.7v0.7h-0.7zM305.9 361.4h0.7v0.7h-0.7zM280.5 355.8h0.7v0.7h-0.7zM306.4 355.4h0.7v0.7h-0.7zM283.0 360.0h0.7v0.7h-0.7zM297.0 349.3h0.7v0.7h-0.7zM264.6 367.9h0.7v0.7h-0.7zM277.7 363.3h0.7v0.7h-0.7zM263.1 348.9h0.7v0.7h-0.7zM271.2 372.2h0.7v0.7h-0.7zM291.4 359.8h0.7v0.7h-0.7zM272.7 345.7h0.7v0.7h-0.7zM291.7 349.3h0.7v0.7h-0.7zM283.8 363.7h0.7v0.7h-0.7zM305.2 343.6h0.7v0.7h-0.7zM263.9 365.1h0.7v0.7h-0.7zM265.2 368.0h0.7v0.7h-0.7zM281.3 374.4h0.7v0.7h-0.7zM300.4 367.4h0.7v0.7h-0.7zM301.7 355.3h0.7v0.7h-0.7zM266.6 357.1h0.7v0.7h-0.7zM277.1 364.3h0.7v0.7h-0.7zM271.5 377.4h0.7v0.7h-0.7zM310.2 367.7h0.7v0.7h-0.7zM293.2 364.1h0.7v0.7h-0.7zM276.6 353.7h0.7v0.7h-0.7z" fill="#6f80f4" opacity="0.55"/>
<path d="M283.6 366.7h0.75v0.75h-0.75zM283.7 366.9h0.75v0.75h-0.75zM289.3 374.9h0.75v0.75h-0.75zM289.4 369.8h0.75v0.75h-0.75zM287.4 367.8h0.75v0.75h-0.75zM289.3 374.6h0.75v0.75h-0.75zM295.5 368.9h0.75v0.75h-0.75zM286.9 372.1h0.75v0.75h-0.75zM297.3 373.4h0.75v0.75h-0.75zM289.5 367.2h0.75v0.75h-0.75zM293.2 374.9h0.75v0.75h-0.75zM286.0 369.3h0.75v0.75h-0.75zM288.5 370.3h0.75v0.75h-0.75zM297.0 370.5h0.75v0.75h-0.75zM285.5 375.2h0.75v0.75h-0.75zM288.6 369.3h0.75v0.75h-0.75zM282.0 369.6h0.75v0.75h-0.75zM294.1 370.5h0.75v0.75h-0.75zM286.9 375.8h0.75v0.75h-0.75zM294.3 375.5h0.75v0.75h-0.75zM289.2 370.4h0.75v0.75h-0.75zM283.7 373.1h0.75v0.75h-0.75zM287.3 373.4h0.75v0.75h-0.75zM279.0 367.6h0.75v0.75h-0.75zM290.8 377.8h0.75v0.75h-0.75zM288.2 368.1h0.75v0.75h-0.75zM290.0 369.4h0.75v0.75h-0.75zM286.4 371.6h0.75v0.75h-0.75zM290.7 376.4h0.75v0.75h-0.75zM290.1 369.1h0.75v0.75h-0.75zM292.0 370.8h0.75v0.75h-0.75zM281.3 375.9h0.75v0.75h-0.75zM295.4 368.8h0.75v0.75h-0.75zM285.9 370.4h0.75v0.75h-0.75zM285.6 376.8h0.75v0.75h-0.75zM290.9 373.2h0.75v0.75h-0.75zM288.3 369.8h0.75v0.75h-0.75zM285.4 370.0h0.75v0.75h-0.75zM290.0 374.9h0.75v0.75h-0.75zM286.0 375.1h0.75v0.75h-0.75zM283.1 370.6h0.75v0.75h-0.75zM287.2 375.5h0.75v0.75h-0.75zM288.7 369.4h0.75v0.75h-0.75zM290.0 375.4h0.75v0.75h-0.75zM282.9 364.9h0.75v0.75h-0.75zM289.9 368.9h0.75v0.75h-0.75zM291.8 379.0h0.75v0.75h-0.75zM292.9 373.7h0.75v0.75h-0.75zM291.1 371.9h0.75v0.75h-0.75zM284.0 372.1h0.75v0.75h-0.75zM285.8 373.4h0.75v0.75h-0.75zM282.7 368.7h0.75v0.75h-0.75zM287.9 372.9h0.75v0.75h-0.75zM287.7 375.9h0.75v0.75h-0.75zM281.4 374.8h0.75v0.75h-0.75zM286.4 372.4h0.75v0.75h-0.75zM292.0 373.0h0.75v0.75h-0.75zM291.2 378.2h0.75v0.75h-0.75zM287.3 366.0h0.75v0.75h-0.75zM285.4 370.8h0.75v0.75h-0.75zM288.4 369.6h0.75v0.75h-0.75zM288.1 373.4h0.75v0.75h-0.75zM279.4 378.2h0.75v0.75h-0.75zM285.0 367.7h0.75v0.75h-0.75zM284.2 375.1h0.75v0.75h-0.75zM300.6 365.3h0.75v0.75h-0.75zM284.7 376.6h0.75v0.75h-0.75zM284.7 372.7h0.75v0.75h-0.75zM285.7 372.4h0.75v0.75h-0.75zM288.7 369.0h0.75v0.75h-0.75zM283.4 367.3h0.75v0.75h-0.75zM292.3 372.2h0.75v0.75h-0.75zM292.9 374.8h0.75v0.75h-0.75zM286.2 370.2h0.75v0.75h-0.75zM288.1 369.6h0.75v0.75h-0.75zM287.4 374.0h0.75v0.75h-0.75zM282.3 368.4h0.75v0.75h-0.75zM286.3 369.6h0.75v0.75h-0.75zM287.1 373.6h0.75v0.75h-0.75zM289.0 375.0h0.75v0.75h-0.75zM287.8 373.5h0.75v0.75h-0.75zM287.0 372.8h0.75v0.75h-0.75zM287.2 372.5h0.75v0.75h-0.75zM286.1 373.6h0.75v0.75h-0.75zM290.9 377.2h0.75v0.75h-0.75zM294.1 375.3h0.75v0.75h-0.75zM285.0 367.8h0.75v0.75h-0.75zM280.9 371.4h0.75v0.75h-0.75zM288.3 376.1h0.75v0.75h-0.75zM287.9 372.5h0.75v0.75h-0.75zM282.5 375.0h0.75v0.75h-0.75zM295.3 371.0h0.75v0.75h-0.75zM296.4 375.1h0.75v0.75h-0.75zM284.1 374.8h0.75v0.75h-0.75zM288.5 373.8h0.75v0.75h-0.75zM282.5 373.8h0.75v0.75h-0.75zM291.2 368.2h0.75v0.75h-0.75zM289.5 377.0h0.75v0.75h-0.75zM288.9 370.0h0.75v0.75h-0.75zM286.6 375.2h0.75v0.75h-0.75zM289.8 372.1h0.75v0.75h-0.75zM284.8 370.0h0.75v0.75h-0.75zM286.7 368.3h0.75v0.75h-0.75zM286.6 372.3h0.75v0.75h-0.75zM288.0 374.6h0.75v0.75h-0.75zM286.4 374.4h0.75v0.75h-0.75zM284.0 368.6h0.75v0.75h-0.75zM285.0 374.3h0.75v0.75h-0.75zM284.8 369.9h0.75v0.75h-0.75zM288.4 365.4h0.75v0.75h-0.75zM285.6 364.1h0.75v0.75h-0.75zM284.9 379.2h0.75v0.75h-0.75zM280.6 376.5h0.75v0.75h-0.75zM284.9 370.5h0.75v0.75h-0.75zM285.1 372.7h0.75v0.75h-0.75zM285.5 371.5h0.75v0.75h-0.75zM290.5 373.5h0.75v0.75h-0.75zM287.9 370.1h0.75v0.75h-0.75zM288.3 371.7h0.75v0.75h-0.75zM287.3 372.8h0.75v0.75h-0.75zM285.3 367.9h0.75v0.75h-0.75zM289.2 366.0h0.75v0.75h-0.75zM291.2 370.4h0.75v0.75h-0.75zM283.7 376.2h0.75v0.75h-0.75zM284.8 372.7h0.75v0.75h-0.75zM283.7 374.0h0.75v0.75h-0.75zM288.8 371.5h0.75v0.75h-0.75zM286.5 366.9h0.75v0.75h-0.75zM292.2 370.1h0.75v0.75h-0.75zM286.9 370.7h0.75v0.75h-0.75zM288.5 371.7h0.75v0.75h-0.75zM285.9 371.4h0.75v0.75h-0.75zM288.3 377.9h0.75v0.75h-0.75zM282.7 376.2h0.75v0.75h-0.75zM287.9 374.1h0.75v0.75h-0.75zM284.6 376.0h0.75v0.75h-0.75zM290.6 365.8h0.75v0.75h-0.75zM280.2 378.5h0.75v0.75h-0.75zM285.0 371.6h0.75v0.75h-0.75zM281.2 372.4h0.75v0.75h-0.75zM287.7 370.7h0.75v0.75h-0.75zM292.8 371.7h0.75v0.75h-0.75zM290.9 372.6h0.75v0.75h-0.75zM288.2 371.5h0.75v0.75h-0.75zM285.1 377.5h0.75v0.75h-0.75zM292.2 376.6h0.75v0.75h-0.75zM284.7 371.0h0.75v0.75h-0.75zM288.1 371.2h0.75v0.75h-0.75zM290.0 378.2h0.75v0.75h-0.75zM285.1 371.0h0.75v0.75h-0.75zM281.1 376.9h0.75v0.75h-0.75zM288.2 373.7h0.75v0.75h-0.75zM284.7 372.5h0.75v0.75h-0.75zM286.2 370.0h0.75v0.75h-0.75zM289.7 377.1h0.75v0.75h-0.75zM292.6 371.4h0.75v0.75h-0.75zM300.2 370.2h0.75v0.75h-0.75zM287.6 367.8h0.75v0.75h-0.75zM286.3 373.6h0.75v0.75h-0.75zM284.9 372.1h0.75v0.75h-0.75zM283.4 370.9h0.75v0.75h-0.75zM282.3 370.9h0.75v0.75h-0.75zM278.6 369.5h0.75v0.75h-0.75zM285.5 371.9h0.75v0.75h-0.75zM292.7 368.6h0.75v0.75h-0.75zM284.4 375.4h0.75v0.75h-0.75zM283.6 371.1h0.75v0.75h-0.75zM280.3 361.3h0.75v0.75h-0.75zM296.4 375.1h0.75v0.75h-0.75zM295.9 372.1h0.75v0.75h-0.75zM281.5 373.7h0.75v0.75h-0.75zM283.5 373.2h0.75v0.75h-0.75zM289.1 374.5h0.75v0.75h-0.75zM284.1 372.9h0.75v0.75h-0.75zM289.0 377.3h0.75v0.75h-0.75zM285.9 379.2h0.75v0.75h-0.75zM290.1 373.9h0.75v0.75h-0.75zM284.9 373.6h0.75v0.75h-0.75zM290.0 368.9h0.75v0.75h-0.75zM290.1 373.4h0.75v0.75h-0.75zM286.4 369.6h0.75v0.75h-0.75zM286.6 374.9h0.75v0.75h-0.75zM294.6 373.0h0.75v0.75h-0.75zM286.1 374.9h0.75v0.75h-0.75zM291.4 375.1h0.75v0.75h-0.75zM286.8 363.8h0.75v0.75h-0.75zM288.2 372.2h0.75v0.75h-0.75zM282.7 372.6h0.75v0.75h-0.75zM283.3 371.3h0.75v0.75h-0.75zM292.6 370.4h0.75v0.75h-0.75zM277.6 376.1h0.75v0.75h-0.75zM287.0 372.4h0.75v0.75h-0.75zM279.9 365.8h0.75v0.75h-0.75zM285.9 370.5h0.75v0.75h-0.75zM288.1 371.7h0.75v0.75h-0.75zM288.8 370.9h0.75v0.75h-0.75zM288.9 370.6h0.75v0.75h-0.75zM289.4 374.7h0.75v0.75h-0.75zM281.1 372.4h0.75v0.75h-0.75zM285.9 372.4h0.75v0.75h-0.75zM295.1 370.3h0.75v0.75h-0.75zM286.7 373.2h0.75v0.75h-0.75zM278.4 377.5h0.75v0.75h-0.75zM289.9 371.9h0.75v0.75h-0.75zM284.1 377.2h0.75v0.75h-0.75zM294.6 369.6h0.75v0.75h-0.75zM289.4 367.8h0.75v0.75h-0.75zM288.6 370.0h0.75v0.75h-0.75zM289.9 371.1h0.75v0.75h-0.75zM292.6 376.8h0.75v0.75h-0.75zM294.6 372.2h0.75v0.75h-0.75zM286.2 371.4h0.75v0.75h-0.75zM284.9 372.1h0.75v0.75h-0.75zM283.3 371.6h0.75v0.75h-0.75zM290.8 376.0h0.75v0.75h-0.75zM289.2 367.0h0.75v0.75h-0.75zM293.8 379.0h0.75v0.75h-0.75zM291.1 371.1h0.75v0.75h-0.75zM290.2 372.2h0.75v0.75h-0.75zM281.0 376.5h0.75v0.75h-0.75zM291.1 374.4h0.75v0.75h-0.75zM290.4 372.7h0.75v0.75h-0.75zM282.6 377.9h0.75v0.75h-0.75zM286.2 371.4h0.75v0.75h-0.75zM289.5 366.7h0.75v0.75h-0.75zM286.6 374.6h0.75v0.75h-0.75zM286.6 364.1h0.75v0.75h-0.75zM288.2 375.7h0.75v0.75h-0.75zM288.3 372.7h0.75v0.75h-0.75zM289.4 376.1h0.75v0.75h-0.75zM288.6 372.3h0.75v0.75h-0.75zM289.0 368.3h0.75v0.75h-0.75zM295.9 366.6h0.75v0.75h-0.75zM286.9 369.8h0.75v0.75h-0.75zM288.0 372.2h0.75v0.75h-0.75zM291.8 372.2h0.75v0.75h-0.75zM283.4 372.5h0.75v0.75h-0.75zM286.0 376.0h0.75v0.75h-0.75zM287.6 376.8h0.75v0.75h-0.75zM284.5 373.6h0.75v0.75h-0.75zM289.9 372.6h0.75v0.75h-0.75zM288.8 367.0h0.75v0.75h-0.75zM289.6 371.6h0.75v0.75h-0.75zM295.4 369.1h0.75v0.75h-0.75zM295.6 371.8h0.75v0.75h-0.75zM279.5 369.9h0.75v0.75h-0.75zM288.8 374.1h0.75v0.75h-0.75zM291.7 376.7h0.75v0.75h-0.75zM290.2 371.9h0.75v0.75h-0.75zM293.2 378.2h0.75v0.75h-0.75zM289.1 371.2h0.75v0.75h-0.75zM290.8 373.1h0.75v0.75h-0.75zM287.4 372.9h0.75v0.75h-0.75zM292.4 377.9h0.75v0.75h-0.75zM291.8 374.0h0.75v0.75h-0.75zM286.1 366.9h0.75v0.75h-0.75zM286.7 374.3h0.75v0.75h-0.75zM284.0 374.0h0.75v0.75h-0.75zM284.2 373.5h0.75v0.75h-0.75zM276.3 374.0h0.75v0.75h-0.75zM290.5 372.6h0.75v0.75h-0.75zM290.4 369.1h0.75v0.75h-0.75zM287.9 371.1h0.75v0.75h-0.75zM287.8 372.5h0.75v0.75h-0.75zM288.2 369.9h0.75v0.75h-0.75zM285.7 366.2h0.75v0.75h-0.75zM286.5 363.6h0.75v0.75h-0.75zM285.5 371.0h0.75v0.75h-0.75zM287.9 374.0h0.75v0.75h-0.75zM290.6 370.6h0.75v0.75h-0.75zM286.3 374.0h0.75v0.75h-0.75zM289.3 368.2h0.75v0.75h-0.75zM289.6 378.7h0.75v0.75h-0.75zM280.2 371.1h0.75v0.75h-0.75zM286.3 368.8h0.75v0.75h-0.75zM282.0 378.5h0.75v0.75h-0.75zM288.3 374.0h0.75v0.75h-0.75zM291.5 368.2h0.75v0.75h-0.75zM292.7 370.3h0.75v0.75h-0.75zM292.0 372.5h0.75v0.75h-0.75zM293.2 374.6h0.75v0.75h-0.75zM287.5 376.1h0.75v0.75h-0.75zM285.0 374.9h0.75v0.75h-0.75zM281.9 372.0h0.75v0.75h-0.75zM295.5 375.8h0.75v0.75h-0.75zM283.5 377.3h0.75v0.75h-0.75zM286.3 374.0h0.75v0.75h-0.75zM286.1 374.8h0.75v0.75h-0.75zM285.4 377.5h0.75v0.75h-0.75zM286.3 370.4h0.75v0.75h-0.75zM285.9 367.7h0.75v0.75h-0.75zM290.4 376.5h0.75v0.75h-0.75zM293.3 374.4h0.75v0.75h-0.75zM286.9 377.3h0.75v0.75h-0.75zM293.6 370.4h0.75v0.75h-0.75zM282.4 370.8h0.75v0.75h-0.75zM287.6 376.5h0.75v0.75h-0.75zM292.1 373.9h0.75v0.75h-0.75zM292.4 371.7h0.75v0.75h-0.75zM287.2 364.7h0.75v0.75h-0.75zM285.5 371.7h0.75v0.75h-0.75zM292.5 372.2h0.75v0.75h-0.75zM286.1 373.1h0.75v0.75h-0.75zM286.1 365.6h0.75v0.75h-0.75zM284.9 372.0h0.75v0.75h-0.75zM286.8 370.3h0.75v0.75h-0.75zM285.7 374.7h0.75v0.75h-0.75zM281.5 371.6h0.75v0.75h-0.75zM285.1 371.7h0.75v0.75h-0.75zM287.8 375.0h0.75v0.75h-0.75zM276.7 371.9h0.75v0.75h-0.75zM282.9 366.6h0.75v0.75h-0.75zM288.3 372.9h0.75v0.75h-0.75zM284.6 371.8h0.75v0.75h-0.75zM284.1 377.6h0.75v0.75h-0.75zM294.7 376.6h0.75v0.75h-0.75zM282.7 375.0h0.75v0.75h-0.75zM289.0 372.8h0.75v0.75h-0.75zM287.0 371.6h0.75v0.75h-0.75zM285.1 370.1h0.75v0.75h-0.75zM289.8 370.2h0.75v0.75h-0.75zM284.9 374.5h0.75v0.75h-0.75zM295.1 378.6h0.75v0.75h-0.75zM283.6 367.9h0.75v0.75h-0.75zM284.9 373.6h0.75v0.75h-0.75zM285.4 370.5h0.75v0.75h-0.75zM296.2 368.0h0.75v0.75h-0.75zM290.4 372.0h0.75v0.75h-0.75zM282.3 373.5h0.75v0.75h-0.75zM286.9 370.1h0.75v0.75h-0.75zM285.8 372.8h0.75v0.75h-0.75zM298.3 374.3h0.75v0.75h-0.75zM286.5 367.6h0.75v0.75h-0.75zM288.5 375.4h0.75v0.75h-0.75zM299.2 366.9h0.75v0.75h-0.75zM281.5 366.1h0.75v0.75h-0.75zM281.1 376.8h0.75v0.75h-0.75zM287.1 370.0h0.75v0.75h-0.75zM288.1 372.2h0.75v0.75h-0.75zM286.9 376.7h0.75v0.75h-0.75zM291.1 371.2h0.75v0.75h-0.75zM292.7 376.2h0.75v0.75h-0.75zM286.5 370.9h0.75v0.75h-0.75zM285.9 369.2h0.75v0.75h-0.75zM278.7 376.6h0.75v0.75h-0.75zM293.2 363.9h0.75v0.75h-0.75zM286.3 369.1h0.75v0.75h-0.75zM285.9 373.9h0.75v0.75h-0.75zM292.1 374.3h0.75v0.75h-0.75zM290.5 376.5h0.75v0.75h-0.75zM288.7 376.6h0.75v0.75h-0.75zM291.3 370.1h0.75v0.75h-0.75zM290.7 371.1h0.75v0.75h-0.75zM291.9 376.7h0.75v0.75h-0.75zM281.8 374.7h0.75v0.75h-0.75zM283.5 370.7h0.75v0.75h-0.75zM285.6 374.4h0.75v0.75h-0.75zM290.3 372.4h0.75v0.75h-0.75zM278.9 374.3h0.75v0.75h-0.75zM292.3 363.1h0.75v0.75h-0.75zM285.0 370.4h0.75v0.75h-0.75zM288.5 371.5h0.75v0.75h-0.75zM291.8 371.1h0.75v0.75h-0.75zM283.8 365.6h0.75v0.75h-0.75zM279.8 371.7h0.75v0.75h-0.75zM290.1 368.9h0.75v0.75h-0.75zM290.2 371.1h0.75v0.75h-0.75zM291.1 377.2h0.75v0.75h-0.75zM289.4 369.2h0.75v0.75h-0.75zM291.9 373.2h0.75v0.75h-0.75zM287.8 373.9h0.75v0.75h-0.75zM290.4 376.7h0.75v0.75h-0.75zM282.1 376.9h0.75v0.75h-0.75zM288.6 377.3h0.75v0.75h-0.75zM287.1 375.4h0.75v0.75h-0.75zM291.6 377.3h0.75v0.75h-0.75zM286.3 377.8h0.75v0.75h-0.75zM285.5 368.3h0.75v0.75h-0.75zM284.2 367.9h0.75v0.75h-0.75zM293.4 376.1h0.75v0.75h-0.75zM279.8 371.7h0.75v0.75h-0.75zM288.6 373.3h0.75v0.75h-0.75zM285.3 370.0h0.75v0.75h-0.75zM291.1 372.2h0.75v0.75h-0.75zM283.8 373.5h0.75v0.75h-0.75zM284.8 371.6h0.75v0.75h-0.75zM290.8 371.8h0.75v0.75h-0.75zM298.1 367.5h0.75v0.75h-0.75zM283.4 378.1h0.75v0.75h-0.75zM288.4 371.9h0.75v0.75h-0.75zM291.6 371.9h0.75v0.75h-0.75zM283.5 378.0h0.75v0.75h-0.75zM288.0 373.2h0.75v0.75h-0.75zM288.3 372.4h0.75v0.75h-0.75zM284.0 368.9h0.75v0.75h-0.75zM280.6 375.7h0.75v0.75h-0.75zM287.9 371.8h0.75v0.75h-0.75zM281.4 367.7h0.75v0.75h-0.75zM285.8 373.7h0.75v0.75h-0.75zM286.8 372.2h0.75v0.75h-0.75zM283.8 375.3h0.75v0.75h-0.75zM288.7 377.2h0.75v0.75h-0.75zM289.7 368.9h0.75v0.75h-0.75zM284.9 371.9h0.75v0.75h-0.75zM292.2 372.7h0.75v0.75h-0.75zM287.5 377.6h0.75v0.75h-0.75zM291.2 374.8h0.75v0.75h-0.75zM280.2 371.9h0.75v0.75h-0.75zM295.8 374.9h0.75v0.75h-0.75zM292.8 379.1h0.75v0.75h-0.75zM290.8 365.5h0.75v0.75h-0.75zM289.1 371.8h0.75v0.75h-0.75zM283.9 376.2h0.75v0.75h-0.75zM284.5 377.1h0.75v0.75h-0.75zM289.4 370.7h0.75v0.75h-0.75zM284.0 379.1h0.75v0.75h-0.75zM286.7 373.8h0.75v0.75h-0.75zM287.4 369.5h0.75v0.75h-0.75zM286.2 371.8h0.75v0.75h-0.75zM280.4 369.9h0.75v0.75h-0.75zM283.7 373.7h0.75v0.75h-0.75zM288.1 368.1h0.75v0.75h-0.75zM284.9 372.8h0.75v0.75h-0.75zM284.1 366.4h0.75v0.75h-0.75zM291.1 372.5h0.75v0.75h-0.75zM286.1 370.8h0.75v0.75h-0.75zM288.9 371.0h0.75v0.75h-0.75zM287.7 376.5h0.75v0.75h-0.75zM293.4 378.5h0.75v0.75h-0.75zM283.3 372.4h0.75v0.75h-0.75zM282.2 368.7h0.75v0.75h-0.75zM281.7 371.1h0.75v0.75h-0.75zM285.6 369.0h0.75v0.75h-0.75zM287.1 374.3h0.75v0.75h-0.75zM285.4 369.5h0.75v0.75h-0.75zM290.7 371.7h0.75v0.75h-0.75zM288.4 368.7h0.75v0.75h-0.75zM289.8 375.5h0.75v0.75h-0.75zM283.1 368.6h0.75v0.75h-0.75zM285.8 374.6h0.75v0.75h-0.75zM290.6 376.5h0.75v0.75h-0.75zM283.6 365.5h0.75v0.75h-0.75zM283.7 372.7h0.75v0.75h-0.75zM289.3 367.6h0.75v0.75h-0.75zM287.3 371.2h0.75v0.75h-0.75zM289.4 369.3h0.75v0.75h-0.75zM286.7 371.3h0.75v0.75h-0.75zM288.5 372.5h0.75v0.75h-0.75zM289.1 373.2h0.75v0.75h-0.75zM290.9 369.0h0.75v0.75h-0.75zM301.8 377.5h0.75v0.75h-0.75zM281.7 374.8h0.75v0.75h-0.75zM285.4 369.6h0.75v0.75h-0.75zM292.5 364.1h0.75v0.75h-0.75zM284.2 374.3h0.75v0.75h-0.75zM280.5 375.7h0.75v0.75h-0.75zM285.6 372.5h0.75v0.75h-0.75zM293.7 372.8h0.75v0.75h-0.75zM291.8 377.4h0.75v0.75h-0.75zM285.2 371.0h0.75v0.75h-0.75zM293.2 374.7h0.75v0.75h-0.75zM283.8 372.2h0.75v0.75h-0.75zM289.4 367.8h0.75v0.75h-0.75zM283.5 367.2h0.75v0.75h-0.75zM286.3 372.8h0.75v0.75h-0.75zM286.8 371.9h0.75v0.75h-0.75zM288.7 373.9h0.75v0.75h-0.75zM287.2 377.7h0.75v0.75h-0.75zM292.4 370.4h0.75v0.75h-0.75zM278.0 372.5h0.75v0.75h-0.75zM293.6 378.1h0.75v0.75h-0.75zM285.6 370.4h0.75v0.75h-0.75zM287.8 370.3h0.75v0.75h-0.75zM283.6 370.3h0.75v0.75h-0.75zM295.2 377.8h0.75v0.75h-0.75zM288.8 375.7h0.75v0.75h-0.75zM285.3 370.3h0.75v0.75h-0.75zM290.4 374.2h0.75v0.75h-0.75zM282.1 377.1h0.75v0.75h-0.75zM278.4 370.2h0.75v0.75h-0.75zM292.5 377.7h0.75v0.75h-0.75zM299.5 371.6h0.75v0.75h-0.75zM286.9 374.1h0.75v0.75h-0.75zM287.9 368.6h0.75v0.75h-0.75zM286.3 371.2h0.75v0.75h-0.75zM291.6 371.7h0.75v0.75h-0.75zM288.0 372.4h0.75v0.75h-0.75zM286.2 376.4h0.75v0.75h-0.75zM285.5 374.3h0.75v0.75h-0.75zM292.8 371.9h0.75v0.75h-0.75zM292.2 370.8h0.75v0.75h-0.75zM288.9 367.5h0.75v0.75h-0.75zM291.7 376.7h0.75v0.75h-0.75zM287.4 366.8h0.75v0.75h-0.75zM286.2 372.6h0.75v0.75h-0.75zM292.8 364.2h0.75v0.75h-0.75zM288.6 372.9h0.75v0.75h-0.75zM281.3 374.9h0.75v0.75h-0.75zM280.1 374.6h0.75v0.75h-0.75zM291.6 369.2h0.75v0.75h-0.75zM283.0 369.0h0.75v0.75h-0.75zM285.5 374.3h0.75v0.75h-0.75zM290.3 371.0h0.75v0.75h-0.75zM289.8 368.6h0.75v0.75h-0.75zM287.0 366.2h0.75v0.75h-0.75zM293.5 367.9h0.75v0.75h-0.75zM283.8 378.5h0.75v0.75h-0.75zM291.6 368.7h0.75v0.75h-0.75zM288.8 369.1h0.75v0.75h-0.75zM285.0 378.7h0.75v0.75h-0.75zM285.3 369.6h0.75v0.75h-0.75zM298.1 366.5h0.75v0.75h-0.75zM284.1 366.4h0.75v0.75h-0.75zM284.6 370.7h0.75v0.75h-0.75zM289.5 367.2h0.75v0.75h-0.75zM290.3 370.2h0.75v0.75h-0.75zM293.5 370.4h0.75v0.75h-0.75zM287.5 365.6h0.75v0.75h-0.75zM279.8 374.4h0.75v0.75h-0.75zM296.2 366.4h0.75v0.75h-0.75zM286.3 371.7h0.75v0.75h-0.75zM287.7 374.9h0.75v0.75h-0.75zM290.1 375.2h0.75v0.75h-0.75zM276.7 366.8h0.75v0.75h-0.75zM296.7 377.0h0.75v0.75h-0.75zM280.3 370.6h0.75v0.75h-0.75zM289.3 369.5h0.75v0.75h-0.75zM285.5 366.8h0.75v0.75h-0.75zM288.0 372.1h0.75v0.75h-0.75zM290.0 369.7h0.75v0.75h-0.75zM288.9 372.2h0.75v0.75h-0.75zM290.3 368.9h0.75v0.75h-0.75zM286.7 376.6h0.75v0.75h-0.75zM289.7 369.2h0.75v0.75h-0.75zM279.1 374.6h0.75v0.75h-0.75zM289.1 370.4h0.75v0.75h-0.75zM283.3 372.2h0.75v0.75h-0.75zM288.5 374.8h0.75v0.75h-0.75zM289.4 373.9h0.75v0.75h-0.75zM284.7 373.8h0.75v0.75h-0.75zM287.2 370.9h0.75v0.75h-0.75zM285.1 371.5h0.75v0.75h-0.75zM287.8 371.9h0.75v0.75h-0.75zM286.7 374.3h0.75v0.75h-0.75zM283.5 374.6h0.75v0.75h-0.75zM291.7 370.4h0.75v0.75h-0.75zM296.0 367.1h0.75v0.75h-0.75zM289.4 373.0h0.75v0.75h-0.75zM288.8 369.7h0.75v0.75h-0.75zM281.5 373.7h0.75v0.75h-0.75zM279.9 375.7h0.75v0.75h-0.75zM290.7 373.0h0.75v0.75h-0.75zM290.5 373.6h0.75v0.75h-0.75zM288.5 372.4h0.75v0.75h-0.75zM284.7 371.8h0.75v0.75h-0.75zM287.4 370.3h0.75v0.75h-0.75zM287.3 368.1h0.75v0.75h-0.75zM289.2 372.2h0.75v0.75h-0.75zM278.4 371.3h0.75v0.75h-0.75zM283.1 372.0h0.75v0.75h-0.75zM294.5 369.4h0.75v0.75h-0.75zM288.3 368.9h0.75v0.75h-0.75zM285.9 375.1h0.75v0.75h-0.75zM289.2 372.3h0.75v0.75h-0.75zM291.4 376.3h0.75v0.75h-0.75zM296.2 365.8h0.75v0.75h-0.75zM281.0 368.0h0.75v0.75h-0.75zM284.2 375.8h0.75v0.75h-0.75zM287.8 370.3h0.75v0.75h-0.75zM286.2 368.9h0.75v0.75h-0.75zM291.3 373.5h0.75v0.75h-0.75zM287.1 366.1h0.75v0.75h-0.75zM284.8 367.2h0.75v0.75h-0.75zM285.0 374.8h0.75v0.75h-0.75zM283.9 374.8h0.75v0.75h-0.75zM283.5 379.2h0.75v0.75h-0.75zM286.8 370.5h0.75v0.75h-0.75zM290.7 375.5h0.75v0.75h-0.75zM283.3 368.3h0.75v0.75h-0.75zM282.6 374.6h0.75v0.75h-0.75zM284.7 370.7h0.75v0.75h-0.75zM288.8 369.4h0.75v0.75h-0.75zM289.1 374.0h0.75v0.75h-0.75zM284.7 369.2h0.75v0.75h-0.75zM292.3 366.4h0.75v0.75h-0.75zM288.3 378.7h0.75v0.75h-0.75zM285.3 368.3h0.75v0.75h-0.75zM290.1 372.4h0.75v0.75h-0.75zM283.7 374.3h0.75v0.75h-0.75zM286.8 377.4h0.75v0.75h-0.75zM290.5 369.3h0.75v0.75h-0.75zM290.4 373.9h0.75v0.75h-0.75zM286.6 368.6h0.75v0.75h-0.75zM290.6 373.3h0.75v0.75h-0.75zM283.9 371.9h0.75v0.75h-0.75zM288.6 375.9h0.75v0.75h-0.75zM294.2 377.3h0.75v0.75h-0.75zM285.5 376.2h0.75v0.75h-0.75zM283.0 372.0h0.75v0.75h-0.75zM289.6 371.5h0.75v0.75h-0.75zM285.1 372.6h0.75v0.75h-0.75zM293.6 374.6h0.75v0.75h-0.75zM284.0 377.6h0.75v0.75h-0.75zM286.4 372.6h0.75v0.75h-0.75zM288.4 372.9h0.75v0.75h-0.75zM283.7 370.8h0.75v0.75h-0.75zM286.6 375.4h0.75v0.75h-0.75zM279.9 375.5h0.75v0.75h-0.75zM293.6 368.3h0.75v0.75h-0.75zM287.4 370.7h0.75v0.75h-0.75zM282.1 377.3h0.75v0.75h-0.75zM289.5 378.0h0.75v0.75h-0.75zM293.5 376.7h0.75v0.75h-0.75zM287.3 375.3h0.75v0.75h-0.75zM289.5 372.1h0.75v0.75h-0.75zM290.3 370.7h0.75v0.75h-0.75zM287.1 374.5h0.75v0.75h-0.75zM291.3 373.7h0.75v0.75h-0.75zM284.1 373.6h0.75v0.75h-0.75zM296.3 372.8h0.75v0.75h-0.75zM290.7 368.3h0.75v0.75h-0.75zM289.1 374.1h0.75v0.75h-0.75zM284.9 372.7h0.75v0.75h-0.75zM286.9 375.0h0.75v0.75h-0.75zM288.3 367.2h0.75v0.75h-0.75zM281.6 368.6h0.75v0.75h-0.75zM285.3 369.0h0.75v0.75h-0.75zM283.1 373.2h0.75v0.75h-0.75zM296.6 376.1h0.75v0.75h-0.75zM286.7 373.5h0.75v0.75h-0.75zM290.8 374.7h0.75v0.75h-0.75zM286.4 368.4h0.75v0.75h-0.75zM290.5 373.7h0.75v0.75h-0.75zM291.0 369.8h0.75v0.75h-0.75zM285.8 372.8h0.75v0.75h-0.75zM281.9 369.2h0.75v0.75h-0.75zM288.6 371.0h0.75v0.75h-0.75zM280.5 369.6h0.75v0.75h-0.75zM288.9 371.5h0.75v0.75h-0.75zM293.1 378.7h0.75v0.75h-0.75zM284.2 375.0h0.75v0.75h-0.75zM287.2 370.0h0.75v0.75h-0.75zM290.8 376.2h0.75v0.75h-0.75zM280.2 366.8h0.75v0.75h-0.75zM292.4 375.6h0.75v0.75h-0.75zM291.4 375.9h0.75v0.75h-0.75zM284.8 369.6h0.75v0.75h-0.75zM284.1 374.8h0.75v0.75h-0.75zM291.1 366.2h0.75v0.75h-0.75zM280.9 374.3h0.75v0.75h-0.75zM283.3 374.0h0.75v0.75h-0.75zM283.4 369.1h0.75v0.75h-0.75zM282.9 373.6h0.75v0.75h-0.75zM289.9 370.0h0.75v0.75h-0.75zM285.9 371.1h0.75v0.75h-0.75zM288.7 372.4h0.75v0.75h-0.75zM288.0 370.4h0.75v0.75h-0.75zM287.3 372.2h0.75v0.75h-0.75zM286.9 373.4h0.75v0.75h-0.75zM282.4 374.9h0.75v0.75h-0.75zM292.8 373.0h0.75v0.75h-0.75zM280.5 376.7h0.75v0.75h-0.75zM286.7 373.0h0.75v0.75h-0.75zM283.3 372.8h0.75v0.75h-0.75zM286.1 375.2h0.75v0.75h-0.75zM291.0 376.1h0.75v0.75h-0.75zM289.0 374.0h0.75v0.75h-0.75zM289.4 374.6h0.75v0.75h-0.75zM289.7 371.0h0.75v0.75h-0.75zM297.6 374.2h0.75v0.75h-0.75zM276.4 373.1h0.75v0.75h-0.75zM288.6 368.6h0.75v0.75h-0.75zM287.4 372.5h0.75v0.75h-0.75zM284.8 373.8h0.75v0.75h-0.75zM281.5 377.4h0.75v0.75h-0.75zM280.1 366.7h0.75v0.75h-0.75zM288.5 365.5h0.75v0.75h-0.75zM291.4 375.2h0.75v0.75h-0.75zM290.7 366.9h0.75v0.75h-0.75zM289.4 369.0h0.75v0.75h-0.75zM291.0 375.7h0.75v0.75h-0.75zM281.0 370.0h0.75v0.75h-0.75zM281.5 378.2h0.75v0.75h-0.75zM292.5 368.3h0.75v0.75h-0.75zM287.1 361.6h0.75v0.75h-0.75zM290.8 374.3h0.75v0.75h-0.75zM283.4 373.8h0.75v0.75h-0.75zM285.5 369.0h0.75v0.75h-0.75zM286.8 373.1h0.75v0.75h-0.75zM292.1 373.7h0.75v0.75h-0.75zM286.2 374.8h0.75v0.75h-0.75zM289.2 372.7h0.75v0.75h-0.75zM289.5 376.2h0.75v0.75h-0.75zM288.1 376.5h0.75v0.75h-0.75zM287.4 371.1h0.75v0.75h-0.75zM282.6 368.1h0.75v0.75h-0.75zM298.6 366.0h0.75v0.75h-0.75zM288.0 373.5h0.75v0.75h-0.75zM284.4 368.9h0.75v0.75h-0.75zM292.2 369.8h0.75v0.75h-0.75zM287.8 372.0h0.75v0.75h-0.75zM284.8 372.9h0.75v0.75h-0.75zM288.2 373.8h0.75v0.75h-0.75zM291.4 371.3h0.75v0.75h-0.75zM289.6 366.6h0.75v0.75h-0.75zM288.8 369.6h0.75v0.75h-0.75zM288.0 368.6h0.75v0.75h-0.75zM293.3 370.3h0.75v0.75h-0.75zM295.8 367.2h0.75v0.75h-0.75zM285.0 375.1h0.75v0.75h-0.75zM295.4 372.6h0.75v0.75h-0.75zM285.6 371.0h0.75v0.75h-0.75zM280.3 366.5h0.75v0.75h-0.75zM299.0 367.5h0.75v0.75h-0.75zM285.8 374.8h0.75v0.75h-0.75zM289.8 372.5h0.75v0.75h-0.75zM287.2 377.5h0.75v0.75h-0.75zM297.2 372.8h0.75v0.75h-0.75zM282.6 366.8h0.75v0.75h-0.75zM286.4 376.8h0.75v0.75h-0.75zM289.2 371.6h0.75v0.75h-0.75zM289.6 373.5h0.75v0.75h-0.75zM288.3 374.7h0.75v0.75h-0.75zM289.9 372.9h0.75v0.75h-0.75zM284.1 373.7h0.75v0.75h-0.75zM282.8 373.9h0.75v0.75h-0.75zM286.0 367.9h0.75v0.75h-0.75zM297.4 370.9h0.75v0.75h-0.75zM291.6 369.9h0.75v0.75h-0.75zM287.7 376.4h0.75v0.75h-0.75zM282.5 372.7h0.75v0.75h-0.75zM293.3 370.5h0.75v0.75h-0.75zM289.7 371.7h0.75v0.75h-0.75zM285.4 370.3h0.75v0.75h-0.75zM287.9 372.5h0.75v0.75h-0.75zM285.7 374.2h0.75v0.75h-0.75zM286.9 373.4h0.75v0.75h-0.75zM290.6 373.0h0.75v0.75h-0.75zM286.8 368.4h0.75v0.75h-0.75zM285.9 364.6h0.75v0.75h-0.75zM281.9 372.5h0.75v0.75h-0.75zM288.7 375.7h0.75v0.75h-0.75zM287.4 366.2h0.75v0.75h-0.75zM289.2 374.4h0.75v0.75h-0.75zM283.1 373.4h0.75v0.75h-0.75zM281.2 367.7h0.75v0.75h-0.75zM287.5 374.1h0.75v0.75h-0.75zM290.6 374.1h0.75v0.75h-0.75zM286.0 373.8h0.75v0.75h-0.75zM289.5 369.5h0.75v0.75h-0.75zM287.5 375.4h0.75v0.75h-0.75zM291.9 369.1h0.75v0.75h-0.75zM288.3 370.8h0.75v0.75h-0.75zM289.6 375.7h0.75v0.75h-0.75zM285.3 372.9h0.75v0.75h-0.75zM288.1 373.9h0.75v0.75h-0.75zM289.7 373.4h0.75v0.75h-0.75zM287.6 375.5h0.75v0.75h-0.75zM275.1 364.6h0.75v0.75h-0.75zM283.2 370.7h0.75v0.75h-0.75zM286.0 373.6h0.75v0.75h-0.75zM285.0 369.2h0.75v0.75h-0.75zM285.2 369.5h0.75v0.75h-0.75zM288.4 375.7h0.75v0.75h-0.75zM289.4 374.8h0.75v0.75h-0.75zM290.2 371.8h0.75v0.75h-0.75zM279.7 367.8h0.75v0.75h-0.75zM284.5 374.3h0.75v0.75h-0.75zM289.2 373.7h0.75v0.75h-0.75zM291.8 370.7h0.75v0.75h-0.75zM286.9 373.5h0.75v0.75h-0.75zM286.9 370.6h0.75v0.75h-0.75zM280.5 372.5h0.75v0.75h-0.75zM290.2 365.8h0.75v0.75h-0.75zM287.4 374.6h0.75v0.75h-0.75zM290.2 374.6h0.75v0.75h-0.75zM286.0 374.5h0.75v0.75h-0.75zM290.6 375.1h0.75v0.75h-0.75zM285.5 373.4h0.75v0.75h-0.75zM288.3 371.1h0.75v0.75h-0.75zM284.3 374.8h0.75v0.75h-0.75zM282.9 375.6h0.75v0.75h-0.75zM281.8 372.0h0.75v0.75h-0.75zM287.3 370.9h0.75v0.75h-0.75zM292.5 371.6h0.75v0.75h-0.75zM287.6 370.1h0.75v0.75h-0.75zM280.4 373.5h0.75v0.75h-0.75zM285.3 376.7h0.75v0.75h-0.75zM291.1 369.3h0.75v0.75h-0.75zM281.1 371.7h0.75v0.75h-0.75zM290.4 371.2h0.75v0.75h-0.75zM294.3 371.6h0.75v0.75h-0.75zM285.5 373.9h0.75v0.75h-0.75zM287.2 376.2h0.75v0.75h-0.75zM286.3 369.0h0.75v0.75h-0.75zM289.1 373.0h0.75v0.75h-0.75zM289.1 372.0h0.75v0.75h-0.75zM295.1 367.9h0.75v0.75h-0.75zM282.8 369.1h0.75v0.75h-0.75zM292.3 367.1h0.75v0.75h-0.75zM285.9 366.6h0.75v0.75h-0.75zM290.3 371.2h0.75v0.75h-0.75zM281.6 375.7h0.75v0.75h-0.75zM285.8 369.2h0.75v0.75h-0.75zM288.8 372.5h0.75v0.75h-0.75zM288.4 374.4h0.75v0.75h-0.75zM294.7 372.2h0.75v0.75h-0.75zM279.0 376.5h0.75v0.75h-0.75zM284.9 376.4h0.75v0.75h-0.75zM286.7 369.2h0.75v0.75h-0.75zM285.0 364.8h0.75v0.75h-0.75zM283.2 377.5h0.75v0.75h-0.75zM295.8 375.9h0.75v0.75h-0.75zM283.6 373.2h0.75v0.75h-0.75zM289.3 372.1h0.75v0.75h-0.75zM277.1 371.6h0.75v0.75h-0.75zM285.1 374.5h0.75v0.75h-0.75zM281.5 373.9h0.75v0.75h-0.75zM293.8 369.3h0.75v0.75h-0.75zM283.2 371.8h0.75v0.75h-0.75zM287.8 375.8h0.75v0.75h-0.75zM283.8 373.2h0.75v0.75h-0.75zM286.9 372.4h0.75v0.75h-0.75zM290.0 366.8h0.75v0.75h-0.75zM287.9 370.9h0.75v0.75h-0.75zM287.1 375.0h0.75v0.75h-0.75zM277.6 368.8h0.75v0.75h-0.75zM282.5 377.8h0.75v0.75h-0.75z" fill="#2a48f2" opacity="0.62"/>
<path d="M274.1 370.4h0.8v0.8h-0.8zM268.2 371.8h0.8v0.8h-0.8zM266.1 376.2h0.8v0.8h-0.8zM264.3 374.3h0.8v0.8h-0.8zM269.7 372.4h0.8v0.8h-0.8zM269.4 370.2h0.8v0.8h-0.8zM268.9 372.8h0.8v0.8h-0.8zM265.7 378.1h0.8v0.8h-0.8zM272.8 374.4h0.8v0.8h-0.8zM269.4 372.1h0.8v0.8h-0.8zM272.5 369.3h0.8v0.8h-0.8zM271.0 369.7h0.8v0.8h-0.8zM270.8 373.3h0.8v0.8h-0.8zM271.0 370.9h0.8v0.8h-0.8zM266.7 376.7h0.8v0.8h-0.8zM270.1 373.4h0.8v0.8h-0.8zM270.9 373.4h0.8v0.8h-0.8zM269.1 373.2h0.8v0.8h-0.8zM269.5 369.7h0.8v0.8h-0.8zM267.3 373.5h0.8v0.8h-0.8zM274.2 366.7h0.8v0.8h-0.8zM271.5 371.5h0.8v0.8h-0.8zM266.3 372.0h0.8v0.8h-0.8zM271.1 369.5h0.8v0.8h-0.8zM269.4 369.3h0.8v0.8h-0.8zM269.4 375.6h0.8v0.8h-0.8zM271.4 367.2h0.8v0.8h-0.8zM265.4 376.9h0.8v0.8h-0.8zM271.1 370.8h0.8v0.8h-0.8zM268.6 370.9h0.8v0.8h-0.8zM271.9 372.2h0.8v0.8h-0.8zM266.0 372.6h0.8v0.8h-0.8zM268.0 376.1h0.8v0.8h-0.8zM264.2 378.0h0.8v0.8h-0.8zM266.2 375.7h0.8v0.8h-0.8zM268.4 373.6h0.8v0.8h-0.8zM273.5 368.7h0.8v0.8h-0.8zM272.4 368.7h0.8v0.8h-0.8zM268.2 374.8h0.8v0.8h-0.8zM267.9 371.0h0.8v0.8h-0.8zM269.6 370.9h0.8v0.8h-0.8zM265.7 375.2h0.8v0.8h-0.8zM270.2 374.7h0.8v0.8h-0.8zM269.2 372.5h0.8v0.8h-0.8zM267.9 369.8h0.8v0.8h-0.8zM271.1 368.0h0.8v0.8h-0.8zM268.8 370.3h0.8v0.8h-0.8zM265.8 375.4h0.8v0.8h-0.8zM274.8 367.7h0.8v0.8h-0.8zM267.0 374.4h0.8v0.8h-0.8zM265.9 376.3h0.8v0.8h-0.8zM268.4 375.4h0.8v0.8h-0.8zM264.9 376.6h0.8v0.8h-0.8zM265.8 374.6h0.8v0.8h-0.8zM271.1 370.8h0.8v0.8h-0.8zM272.0 372.3h0.8v0.8h-0.8zM270.5 368.0h0.8v0.8h-0.8zM268.4 369.4h0.8v0.8h-0.8zM271.2 375.2h0.8v0.8h-0.8zM268.0 373.0h0.8v0.8h-0.8zM269.5 372.4h0.8v0.8h-0.8zM268.1 372.0h0.8v0.8h-0.8zM272.9 370.5h0.8v0.8h-0.8zM268.8 373.9h0.8v0.8h-0.8zM272.0 371.9h0.8v0.8h-0.8zM270.9 372.4h0.8v0.8h-0.8zM266.9 372.5h0.8v0.8h-0.8zM269.0 375.5h0.8v0.8h-0.8zM271.8 370.0h0.8v0.8h-0.8zM267.9 374.9h0.8v0.8h-0.8zM274.9 369.1h0.8v0.8h-0.8zM267.1 374.9h0.8v0.8h-0.8zM263.5 375.9h0.8v0.8h-0.8zM269.5 372.3h0.8v0.8h-0.8zM273.1 371.2h0.8v0.8h-0.8zM272.8 371.7h0.8v0.8h-0.8zM266.1 373.2h0.8v0.8h-0.8zM273.5 374.2h0.8v0.8h-0.8zM268.6 370.6h0.8v0.8h-0.8zM271.4 373.7h0.8v0.8h-0.8zM267.3 377.0h0.8v0.8h-0.8zM269.0 376.2h0.8v0.8h-0.8zM271.5 370.8h0.8v0.8h-0.8zM274.0 366.4h0.8v0.8h-0.8zM269.6 377.1h0.8v0.8h-0.8zM269.6 378.1h0.8v0.8h-0.8zM267.6 371.8h0.8v0.8h-0.8zM269.2 373.0h0.8v0.8h-0.8zM269.3 372.0h0.8v0.8h-0.8zM269.3 367.2h0.8v0.8h-0.8zM267.2 374.3h0.8v0.8h-0.8zM271.8 365.5h0.8v0.8h-0.8zM266.6 372.6h0.8v0.8h-0.8zM268.1 375.6h0.8v0.8h-0.8zM271.8 373.1h0.8v0.8h-0.8zM267.7 375.0h0.8v0.8h-0.8zM273.2 370.2h0.8v0.8h-0.8zM269.5 375.2h0.8v0.8h-0.8zM268.9 377.8h0.8v0.8h-0.8zM269.3 372.3h0.8v0.8h-0.8zM270.8 373.0h0.8v0.8h-0.8zM273.5 367.4h0.8v0.8h-0.8zM268.8 374.7h0.8v0.8h-0.8zM264.4 373.5h0.8v0.8h-0.8zM270.8 369.9h0.8v0.8h-0.8zM270.9 368.4h0.8v0.8h-0.8zM271.4 374.1h0.8v0.8h-0.8zM270.8 371.6h0.8v0.8h-0.8zM270.1 370.7h0.8v0.8h-0.8zM267.5 371.2h0.8v0.8h-0.8zM269.4 370.4h0.8v0.8h-0.8zM268.7 375.0h0.8v0.8h-0.8zM270.3 369.1h0.8v0.8h-0.8zM273.8 366.2h0.8v0.8h-0.8zM272.4 371.3h0.8v0.8h-0.8zM269.8 372.4h0.8v0.8h-0.8zM274.8 368.2h0.8v0.8h-0.8zM268.0 369.6h0.8v0.8h-0.8zM268.5 376.5h0.8v0.8h-0.8zM268.4 371.2h0.8v0.8h-0.8zM266.9 374.5h0.8v0.8h-0.8zM271.3 371.2h0.8v0.8h-0.8zM270.8 369.0h0.8v0.8h-0.8zM271.1 369.4h0.8v0.8h-0.8zM270.4 375.7h0.8v0.8h-0.8zM269.0 372.5h0.8v0.8h-0.8zM268.0 373.1h0.8v0.8h-0.8zM274.7 369.4h0.8v0.8h-0.8zM271.1 370.9h0.8v0.8h-0.8zM271.7 369.6h0.8v0.8h-0.8zM270.7 371.9h0.8v0.8h-0.8zM271.3 374.4h0.8v0.8h-0.8zM275.1 368.8h0.8v0.8h-0.8zM270.4 370.3h0.8v0.8h-0.8zM270.4 374.2h0.8v0.8h-0.8zM273.1 370.1h0.8v0.8h-0.8zM269.4 372.5h0.8v0.8h-0.8zM271.1 370.2h0.8v0.8h-0.8zM265.8 374.9h0.8v0.8h-0.8zM269.0 373.7h0.8v0.8h-0.8zM273.7 364.7h0.8v0.8h-0.8zM270.2 371.3h0.8v0.8h-0.8zM271.5 373.4h0.8v0.8h-0.8zM272.2 368.9h0.8v0.8h-0.8zM265.7 373.0h0.8v0.8h-0.8zM270.4 374.5h0.8v0.8h-0.8zM269.2 374.5h0.8v0.8h-0.8zM271.4 371.1h0.8v0.8h-0.8zM271.8 369.4h0.8v0.8h-0.8zM265.2 374.0h0.8v0.8h-0.8zM271.1 369.7h0.8v0.8h-0.8zM269.2 374.8h0.8v0.8h-0.8zM269.2 377.3h0.8v0.8h-0.8zM270.2 370.3h0.8v0.8h-0.8zM268.7 376.0h0.8v0.8h-0.8zM264.9 375.7h0.8v0.8h-0.8zM269.3 373.1h0.8v0.8h-0.8zM269.5 373.2h0.8v0.8h-0.8zM267.9 373.8h0.8v0.8h-0.8zM273.1 369.6h0.8v0.8h-0.8zM270.0 376.2h0.8v0.8h-0.8zM263.8 379.0h0.8v0.8h-0.8zM271.9 371.8h0.8v0.8h-0.8zM268.8 372.1h0.8v0.8h-0.8zM270.3 370.9h0.8v0.8h-0.8zM266.9 368.4h0.8v0.8h-0.8zM269.1 370.9h0.8v0.8h-0.8zM272.4 370.8h0.8v0.8h-0.8zM270.5 370.2h0.8v0.8h-0.8zM269.8 371.2h0.8v0.8h-0.8zM269.4 372.1h0.8v0.8h-0.8zM269.3 377.8h0.8v0.8h-0.8zM268.5 368.5h0.8v0.8h-0.8zM269.8 368.7h0.8v0.8h-0.8zM267.6 372.9h0.8v0.8h-0.8zM267.9 374.8h0.8v0.8h-0.8zM266.3 372.2h0.8v0.8h-0.8zM269.4 373.3h0.8v0.8h-0.8zM273.3 367.1h0.8v0.8h-0.8zM265.3 376.0h0.8v0.8h-0.8zM269.7 370.0h0.8v0.8h-0.8zM267.8 375.7h0.8v0.8h-0.8zM269.3 373.1h0.8v0.8h-0.8zM266.2 373.8h0.8v0.8h-0.8zM267.9 373.7h0.8v0.8h-0.8zM268.7 374.4h0.8v0.8h-0.8zM271.1 371.8h0.8v0.8h-0.8zM269.2 370.5h0.8v0.8h-0.8zM267.1 377.2h0.8v0.8h-0.8zM269.2 373.0h0.8v0.8h-0.8zM265.6 376.1h0.8v0.8h-0.8zM266.2 373.8h0.8v0.8h-0.8zM265.4 373.1h0.8v0.8h-0.8zM270.7 373.9h0.8v0.8h-0.8zM267.2 375.1h0.8v0.8h-0.8zM267.0 377.0h0.8v0.8h-0.8zM272.7 366.0h0.8v0.8h-0.8zM270.2 375.2h0.8v0.8h-0.8zM270.1 371.9h0.8v0.8h-0.8zM263.3 378.9h0.8v0.8h-0.8zM273.1 371.5h0.8v0.8h-0.8zM270.0 370.3h0.8v0.8h-0.8zM264.8 372.8h0.8v0.8h-0.8zM267.6 377.5h0.8v0.8h-0.8zM267.0 371.7h0.8v0.8h-0.8zM270.7 367.2h0.8v0.8h-0.8zM272.0 368.7h0.8v0.8h-0.8zM270.7 372.6h0.8v0.8h-0.8zM271.3 373.4h0.8v0.8h-0.8zM268.6 372.5h0.8v0.8h-0.8zM265.3 373.2h0.8v0.8h-0.8zM268.4 376.1h0.8v0.8h-0.8zM272.8 371.8h0.8v0.8h-0.8zM277.0 365.2h0.8v0.8h-0.8zM268.8 370.0h0.8v0.8h-0.8zM271.1 376.1h0.8v0.8h-0.8zM270.3 371.1h0.8v0.8h-0.8zM267.5 369.9h0.8v0.8h-0.8zM265.0 373.9h0.8v0.8h-0.8zM271.4 369.7h0.8v0.8h-0.8zM268.7 370.7h0.8v0.8h-0.8zM271.1 372.3h0.8v0.8h-0.8zM274.8 369.7h0.8v0.8h-0.8zM270.2 371.2h0.8v0.8h-0.8zM266.0 374.7h0.8v0.8h-0.8zM271.3 371.6h0.8v0.8h-0.8zM271.1 374.6h0.8v0.8h-0.8zM270.8 370.9h0.8v0.8h-0.8zM268.6 373.5h0.8v0.8h-0.8zM265.1 374.6h0.8v0.8h-0.8zM269.2 371.2h0.8v0.8h-0.8zM269.8 375.1h0.8v0.8h-0.8zM270.1 374.9h0.8v0.8h-0.8zM270.9 374.6h0.8v0.8h-0.8zM268.1 369.6h0.8v0.8h-0.8zM272.1 368.9h0.8v0.8h-0.8zM263.9 379.0h0.8v0.8h-0.8zM267.8 371.0h0.8v0.8h-0.8zM268.1 375.3h0.8v0.8h-0.8zM274.1 369.7h0.8v0.8h-0.8zM273.5 370.2h0.8v0.8h-0.8zM266.2 369.4h0.8v0.8h-0.8zM272.1 371.4h0.8v0.8h-0.8zM266.4 374.8h0.8v0.8h-0.8zM266.5 375.7h0.8v0.8h-0.8zM268.9 373.0h0.8v0.8h-0.8zM266.8 376.4h0.8v0.8h-0.8zM269.3 375.0h0.8v0.8h-0.8zM268.0 370.3h0.8v0.8h-0.8zM265.2 377.3h0.8v0.8h-0.8zM268.3 374.9h0.8v0.8h-0.8zM271.2 370.4h0.8v0.8h-0.8zM262.8 376.5h0.8v0.8h-0.8zM269.3 370.0h0.8v0.8h-0.8zM271.9 369.4h0.8v0.8h-0.8zM269.3 370.4h0.8v0.8h-0.8zM265.0 369.9h0.8v0.8h-0.8zM269.2 374.1h0.8v0.8h-0.8zM265.5 374.6h0.8v0.8h-0.8zM268.9 373.1h0.8v0.8h-0.8zM267.7 376.1h0.8v0.8h-0.8zM264.1 376.1h0.8v0.8h-0.8zM271.5 367.8h0.8v0.8h-0.8zM264.7 378.0h0.8v0.8h-0.8zM265.0 374.3h0.8v0.8h-0.8zM266.1 374.1h0.8v0.8h-0.8zM265.0 374.6h0.8v0.8h-0.8zM272.6 367.3h0.8v0.8h-0.8zM270.0 368.5h0.8v0.8h-0.8zM269.0 369.9h0.8v0.8h-0.8zM268.6 375.0h0.8v0.8h-0.8zM265.0 372.2h0.8v0.8h-0.8zM267.3 374.4h0.8v0.8h-0.8zM269.4 370.1h0.8v0.8h-0.8zM268.3 373.8h0.8v0.8h-0.8zM264.4 377.8h0.8v0.8h-0.8zM267.4 375.9h0.8v0.8h-0.8zM268.5 373.0h0.8v0.8h-0.8zM266.8 372.9h0.8v0.8h-0.8zM266.0 373.0h0.8v0.8h-0.8zM270.3 373.0h0.8v0.8h-0.8zM270.0 370.5h0.8v0.8h-0.8zM274.4 368.6h0.8v0.8h-0.8zM266.3 375.6h0.8v0.8h-0.8zM264.5 377.7h0.8v0.8h-0.8zM272.4 372.0h0.8v0.8h-0.8zM265.6 372.1h0.8v0.8h-0.8zM270.3 374.9h0.8v0.8h-0.8zM271.0 373.8h0.8v0.8h-0.8zM273.0 371.9h0.8v0.8h-0.8zM269.8 370.3h0.8v0.8h-0.8zM273.2 374.2h0.8v0.8h-0.8zM265.2 372.3h0.8v0.8h-0.8zM275.1 366.8h0.8v0.8h-0.8zM266.5 374.1h0.8v0.8h-0.8zM265.9 378.4h0.8v0.8h-0.8zM268.6 371.7h0.8v0.8h-0.8zM267.3 373.7h0.8v0.8h-0.8zM271.7 369.4h0.8v0.8h-0.8zM271.8 367.8h0.8v0.8h-0.8zM266.7 374.2h0.8v0.8h-0.8zM267.4 374.4h0.8v0.8h-0.8zM273.1 371.0h0.8v0.8h-0.8zM267.9 377.7h0.8v0.8h-0.8zM271.2 374.3h0.8v0.8h-0.8zM267.5 372.4h0.8v0.8h-0.8zM271.9 371.1h0.8v0.8h-0.8zM267.8 374.3h0.8v0.8h-0.8zM269.7 372.8h0.8v0.8h-0.8zM262.7 376.6h0.8v0.8h-0.8zM269.5 373.0h0.8v0.8h-0.8zM265.3 372.4h0.8v0.8h-0.8zM272.3 368.5h0.8v0.8h-0.8zM268.3 378.0h0.8v0.8h-0.8zM273.2 370.4h0.8v0.8h-0.8zM271.9 370.9h0.8v0.8h-0.8zM266.4 375.9h0.8v0.8h-0.8zM270.7 372.5h0.8v0.8h-0.8zM269.1 370.4h0.8v0.8h-0.8zM266.9 374.3h0.8v0.8h-0.8zM267.4 372.5h0.8v0.8h-0.8zM262.4 376.9h0.8v0.8h-0.8zM269.8 371.9h0.8v0.8h-0.8zM268.3 369.1h0.8v0.8h-0.8zM269.0 375.1h0.8v0.8h-0.8zM262.2 377.5h0.8v0.8h-0.8zM268.4 372.1h0.8v0.8h-0.8zM269.3 372.3h0.8v0.8h-0.8zM272.8 371.3h0.8v0.8h-0.8zM271.9 370.4h0.8v0.8h-0.8zM272.0 371.4h0.8v0.8h-0.8zM270.1 367.5h0.8v0.8h-0.8zM270.0 371.9h0.8v0.8h-0.8zM269.1 372.1h0.8v0.8h-0.8zM269.4 373.6h0.8v0.8h-0.8zM269.7 372.4h0.8v0.8h-0.8zM264.4 374.6h0.8v0.8h-0.8zM264.6 373.1h0.8v0.8h-0.8zM266.5 373.5h0.8v0.8h-0.8zM261.4 375.9h0.8v0.8h-0.8zM267.0 373.6h0.8v0.8h-0.8zM275.7 367.0h0.8v0.8h-0.8zM266.2 374.7h0.8v0.8h-0.8zM265.2 375.0h0.8v0.8h-0.8zM268.0 373.9h0.8v0.8h-0.8zM268.4 375.7h0.8v0.8h-0.8zM273.0 372.9h0.8v0.8h-0.8zM266.4 377.7h0.8v0.8h-0.8zM265.9 372.2h0.8v0.8h-0.8zM266.1 371.9h0.8v0.8h-0.8zM272.3 376.0h0.8v0.8h-0.8zM274.5 370.7h0.8v0.8h-0.8zM270.5 367.7h0.8v0.8h-0.8zM270.3 371.8h0.8v0.8h-0.8zM268.9 370.4h0.8v0.8h-0.8zM272.6 369.5h0.8v0.8h-0.8zM267.9 374.6h0.8v0.8h-0.8zM267.0 377.8h0.8v0.8h-0.8zM269.3 372.2h0.8v0.8h-0.8zM267.8 374.1h0.8v0.8h-0.8zM268.9 372.0h0.8v0.8h-0.8zM271.8 370.1h0.8v0.8h-0.8zM267.7 372.2h0.8v0.8h-0.8zM273.7 370.4h0.8v0.8h-0.8zM268.7 368.9h0.8v0.8h-0.8zM269.3 375.0h0.8v0.8h-0.8zM270.7 374.2h0.8v0.8h-0.8zM268.9 375.1h0.8v0.8h-0.8zM267.5 368.7h0.8v0.8h-0.8zM267.6 373.8h0.8v0.8h-0.8zM266.1 373.7h0.8v0.8h-0.8zM273.1 367.9h0.8v0.8h-0.8zM269.6 369.1h0.8v0.8h-0.8zM262.7 378.6h0.8v0.8h-0.8zM269.2 370.9h0.8v0.8h-0.8zM271.4 372.1h0.8v0.8h-0.8zM267.7 374.2h0.8v0.8h-0.8zM268.4 376.4h0.8v0.8h-0.8zM274.3 367.9h0.8v0.8h-0.8zM266.7 373.6h0.8v0.8h-0.8zM269.4 374.7h0.8v0.8h-0.8zM268.9 376.9h0.8v0.8h-0.8zM265.7 376.6h0.8v0.8h-0.8zM274.5 370.6h0.8v0.8h-0.8zM268.9 375.0h0.8v0.8h-0.8zM277.0 366.2h0.8v0.8h-0.8zM274.2 364.6h0.8v0.8h-0.8zM269.1 368.0h0.8v0.8h-0.8zM272.4 367.2h0.8v0.8h-0.8zM272.2 371.3h0.8v0.8h-0.8zM268.0 370.2h0.8v0.8h-0.8zM267.8 371.9h0.8v0.8h-0.8zM272.0 368.3h0.8v0.8h-0.8zM267.4 376.4h0.8v0.8h-0.8zM272.1 369.0h0.8v0.8h-0.8zM270.4 372.5h0.8v0.8h-0.8zM266.1 373.0h0.8v0.8h-0.8zM270.0 370.9h0.8v0.8h-0.8zM266.5 378.1h0.8v0.8h-0.8zM270.3 371.7h0.8v0.8h-0.8zM266.7 374.9h0.8v0.8h-0.8zM271.2 371.5h0.8v0.8h-0.8zM265.6 374.3h0.8v0.8h-0.8zM270.1 372.0h0.8v0.8h-0.8zM269.9 369.1h0.8v0.8h-0.8zM273.5 371.8h0.8v0.8h-0.8zM271.7 370.1h0.8v0.8h-0.8zM270.0 368.8h0.8v0.8h-0.8zM270.5 376.6h0.8v0.8h-0.8zM263.0 376.4h0.8v0.8h-0.8zM270.5 369.7h0.8v0.8h-0.8zM266.0 373.3h0.8v0.8h-0.8zM272.9 367.2h0.8v0.8h-0.8zM265.9 371.7h0.8v0.8h-0.8zM271.1 370.5h0.8v0.8h-0.8zM272.2 373.0h0.8v0.8h-0.8zM267.9 371.1h0.8v0.8h-0.8zM266.4 376.1h0.8v0.8h-0.8zM271.2 367.7h0.8v0.8h-0.8zM268.2 373.5h0.8v0.8h-0.8zM269.7 369.9h0.8v0.8h-0.8zM270.8 372.8h0.8v0.8h-0.8zM268.8 372.9h0.8v0.8h-0.8zM271.4 371.6h0.8v0.8h-0.8zM271.2 368.0h0.8v0.8h-0.8zM272.1 368.9h0.8v0.8h-0.8zM265.2 375.7h0.8v0.8h-0.8zM265.4 376.4h0.8v0.8h-0.8zM269.2 367.5h0.8v0.8h-0.8zM266.9 377.4h0.8v0.8h-0.8zM269.2 374.7h0.8v0.8h-0.8zM265.4 376.8h0.8v0.8h-0.8zM272.4 371.9h0.8v0.8h-0.8zM273.3 367.8h0.8v0.8h-0.8zM266.1 375.1h0.8v0.8h-0.8zM271.1 368.4h0.8v0.8h-0.8zM272.5 366.0h0.8v0.8h-0.8zM269.5 370.3h0.8v0.8h-0.8zM264.9 378.7h0.8v0.8h-0.8zM267.5 377.8h0.8v0.8h-0.8zM266.7 375.7h0.8v0.8h-0.8zM267.9 374.5h0.8v0.8h-0.8zM268.4 375.7h0.8v0.8h-0.8zM270.7 371.1h0.8v0.8h-0.8zM271.1 375.4h0.8v0.8h-0.8zM266.6 374.5h0.8v0.8h-0.8zM271.1 370.5h0.8v0.8h-0.8zM264.4 377.7h0.8v0.8h-0.8zM266.7 372.9h0.8v0.8h-0.8zM268.1 371.0h0.8v0.8h-0.8zM266.9 372.4h0.8v0.8h-0.8zM272.9 367.8h0.8v0.8h-0.8zM270.5 371.8h0.8v0.8h-0.8zM270.7 370.6h0.8v0.8h-0.8zM271.2 370.7h0.8v0.8h-0.8zM266.8 378.0h0.8v0.8h-0.8zM269.1 371.8h0.8v0.8h-0.8zM265.3 376.0h0.8v0.8h-0.8zM270.1 371.4h0.8v0.8h-0.8zM265.9 375.5h0.8v0.8h-0.8zM267.8 373.1h0.8v0.8h-0.8zM269.8 374.0h0.8v0.8h-0.8zM264.6 378.5h0.8v0.8h-0.8zM270.4 368.1h0.8v0.8h-0.8zM268.0 373.0h0.8v0.8h-0.8zM267.2 377.5h0.8v0.8h-0.8zM269.6 375.2h0.8v0.8h-0.8zM269.8 371.3h0.8v0.8h-0.8zM269.3 371.6h0.8v0.8h-0.8zM271.4 373.0h0.8v0.8h-0.8zM271.2 370.3h0.8v0.8h-0.8zM267.0 374.7h0.8v0.8h-0.8zM268.0 371.7h0.8v0.8h-0.8zM268.7 373.3h0.8v0.8h-0.8zM272.8 368.3h0.8v0.8h-0.8zM274.1 364.7h0.8v0.8h-0.8zM270.2 374.7h0.8v0.8h-0.8zM265.7 378.4h0.8v0.8h-0.8zM269.3 371.0h0.8v0.8h-0.8zM270.3 375.3h0.8v0.8h-0.8zM268.2 374.6h0.8v0.8h-0.8zM271.6 372.8h0.8v0.8h-0.8zM261.3 377.3h0.8v0.8h-0.8zM265.0 376.6h0.8v0.8h-0.8zM271.6 371.9h0.8v0.8h-0.8zM270.2 375.4h0.8v0.8h-0.8zM269.7 373.9h0.8v0.8h-0.8zM268.1 376.2h0.8v0.8h-0.8zM268.6 376.4h0.8v0.8h-0.8zM273.5 372.1h0.8v0.8h-0.8zM266.4 372.8h0.8v0.8h-0.8zM271.6 370.7h0.8v0.8h-0.8zM265.8 372.9h0.8v0.8h-0.8zM268.9 368.4h0.8v0.8h-0.8zM269.1 375.5h0.8v0.8h-0.8zM268.9 374.1h0.8v0.8h-0.8zM271.0 372.0h0.8v0.8h-0.8zM272.6 370.3h0.8v0.8h-0.8zM266.4 372.6h0.8v0.8h-0.8zM267.4 373.0h0.8v0.8h-0.8zM271.6 372.9h0.8v0.8h-0.8zM270.3 369.8h0.8v0.8h-0.8zM269.6 372.3h0.8v0.8h-0.8zM269.4 375.8h0.8v0.8h-0.8zM271.1 371.4h0.8v0.8h-0.8zM262.1 373.4h0.8v0.8h-0.8zM268.5 376.4h0.8v0.8h-0.8zM268.4 373.5h0.8v0.8h-0.8zM268.9 374.2h0.8v0.8h-0.8zM271.1 374.8h0.8v0.8h-0.8zM268.3 372.9h0.8v0.8h-0.8zM273.6 369.3h0.8v0.8h-0.8zM271.5 371.3h0.8v0.8h-0.8zM269.3 373.3h0.8v0.8h-0.8zM270.6 371.3h0.8v0.8h-0.8zM267.0 373.7h0.8v0.8h-0.8zM267.2 373.1h0.8v0.8h-0.8zM266.5 375.4h0.8v0.8h-0.8zM271.0 369.9h0.8v0.8h-0.8zM268.7 370.0h0.8v0.8h-0.8zM269.7 369.4h0.8v0.8h-0.8zM270.0 370.0h0.8v0.8h-0.8zM265.7 373.2h0.8v0.8h-0.8zM265.3 376.5h0.8v0.8h-0.8zM266.1 375.6h0.8v0.8h-0.8zM271.1 368.6h0.8v0.8h-0.8zM268.0 373.7h0.8v0.8h-0.8zM267.3 374.7h0.8v0.8h-0.8zM270.9 373.3h0.8v0.8h-0.8zM266.8 374.8h0.8v0.8h-0.8zM270.1 374.7h0.8v0.8h-0.8zM266.5 376.1h0.8v0.8h-0.8zM271.8 371.1h0.8v0.8h-0.8zM265.7 373.8h0.8v0.8h-0.8zM263.3 377.8h0.8v0.8h-0.8zM266.4 372.0h0.8v0.8h-0.8zM271.5 370.5h0.8v0.8h-0.8zM267.7 373.0h0.8v0.8h-0.8zM269.9 371.1h0.8v0.8h-0.8zM269.8 370.8h0.8v0.8h-0.8zM270.0 368.0h0.8v0.8h-0.8zM268.6 378.3h0.8v0.8h-0.8zM273.7 371.3h0.8v0.8h-0.8zM267.8 376.1h0.8v0.8h-0.8zM272.7 370.7h0.8v0.8h-0.8zM270.4 375.1h0.8v0.8h-0.8zM268.6 370.2h0.8v0.8h-0.8zM275.8 365.5h0.8v0.8h-0.8zM271.6 368.4h0.8v0.8h-0.8zM267.7 376.8h0.8v0.8h-0.8zM270.3 369.6h0.8v0.8h-0.8zM268.0 370.7h0.8v0.8h-0.8zM266.9 377.2h0.8v0.8h-0.8zM272.3 370.0h0.8v0.8h-0.8zM273.5 368.6h0.8v0.8h-0.8zM269.8 372.0h0.8v0.8h-0.8zM270.6 372.0h0.8v0.8h-0.8zM266.4 375.7h0.8v0.8h-0.8zM271.6 377.2h0.8v0.8h-0.8zM271.4 368.3h0.8v0.8h-0.8zM268.5 369.2h0.8v0.8h-0.8zM271.4 374.7h0.8v0.8h-0.8zM270.8 374.0h0.8v0.8h-0.8zM268.6 374.5h0.8v0.8h-0.8zM267.4 369.4h0.8v0.8h-0.8zM269.4 377.5h0.8v0.8h-0.8zM268.4 376.8h0.8v0.8h-0.8zM273.6 367.6h0.8v0.8h-0.8zM272.1 370.2h0.8v0.8h-0.8zM268.2 375.4h0.8v0.8h-0.8zM269.0 370.5h0.8v0.8h-0.8zM266.1 372.7h0.8v0.8h-0.8zM268.0 373.8h0.8v0.8h-0.8zM263.9 373.6h0.8v0.8h-0.8zM272.3 372.1h0.8v0.8h-0.8zM266.7 375.7h0.8v0.8h-0.8zM263.7 371.9h0.8v0.8h-0.8zM275.0 366.7h0.8v0.8h-0.8zM267.0 378.7h0.8v0.8h-0.8zM272.6 372.1h0.8v0.8h-0.8zM271.6 371.2h0.8v0.8h-0.8zM272.6 368.2h0.8v0.8h-0.8zM268.3 371.0h0.8v0.8h-0.8zM266.2 376.6h0.8v0.8h-0.8zM267.7 370.4h0.8v0.8h-0.8zM271.2 372.8h0.8v0.8h-0.8zM265.2 376.3h0.8v0.8h-0.8zM272.7 366.8h0.8v0.8h-0.8zM271.5 371.9h0.8v0.8h-0.8zM269.7 372.5h0.8v0.8h-0.8zM270.9 371.4h0.8v0.8h-0.8zM267.6 370.8h0.8v0.8h-0.8zM268.7 371.3h0.8v0.8h-0.8zM275.4 370.4h0.8v0.8h-0.8zM269.6 367.3h0.8v0.8h-0.8zM271.8 369.9h0.8v0.8h-0.8zM264.4 374.7h0.8v0.8h-0.8zM271.1 369.0h0.8v0.8h-0.8zM268.9 373.2h0.8v0.8h-0.8zM268.5 367.3h0.8v0.8h-0.8zM271.4 368.3h0.8v0.8h-0.8zM268.7 374.8h0.8v0.8h-0.8zM267.2 369.3h0.8v0.8h-0.8zM270.4 370.9h0.8v0.8h-0.8zM265.4 375.3h0.8v0.8h-0.8zM265.8 378.7h0.8v0.8h-0.8zM272.3 367.8h0.8v0.8h-0.8zM265.9 372.6h0.8v0.8h-0.8zM265.8 373.8h0.8v0.8h-0.8zM271.2 374.7h0.8v0.8h-0.8zM272.9 370.6h0.8v0.8h-0.8zM267.5 376.8h0.8v0.8h-0.8zM265.9 374.0h0.8v0.8h-0.8zM270.9 370.5h0.8v0.8h-0.8zM275.9 365.5h0.8v0.8h-0.8zM269.1 374.6h0.8v0.8h-0.8zM266.8 377.2h0.8v0.8h-0.8zM273.1 368.0h0.8v0.8h-0.8zM269.1 375.7h0.8v0.8h-0.8zM266.5 376.7h0.8v0.8h-0.8zM268.0 374.8h0.8v0.8h-0.8zM267.7 376.0h0.8v0.8h-0.8zM272.6 373.0h0.8v0.8h-0.8zM268.6 374.5h0.8v0.8h-0.8zM263.1 377.2h0.8v0.8h-0.8zM268.1 370.6h0.8v0.8h-0.8zM267.6 372.2h0.8v0.8h-0.8zM271.0 372.0h0.8v0.8h-0.8zM268.6 375.1h0.8v0.8h-0.8zM267.7 374.7h0.8v0.8h-0.8zM271.1 371.9h0.8v0.8h-0.8zM272.6 372.8h0.8v0.8h-0.8zM267.1 374.7h0.8v0.8h-0.8zM265.2 375.6h0.8v0.8h-0.8zM268.2 374.9h0.8v0.8h-0.8zM267.9 373.4h0.8v0.8h-0.8zM268.8 372.3h0.8v0.8h-0.8zM267.7 371.9h0.8v0.8h-0.8zM265.9 373.1h0.8v0.8h-0.8zM272.3 371.2h0.8v0.8h-0.8zM271.2 371.2h0.8v0.8h-0.8zM268.1 375.3h0.8v0.8h-0.8zM261.3 374.5h0.8v0.8h-0.8zM267.9 378.3h0.8v0.8h-0.8zM271.6 373.8h0.8v0.8h-0.8zM268.4 376.2h0.8v0.8h-0.8zM274.4 369.0h0.8v0.8h-0.8zM271.1 373.2h0.8v0.8h-0.8zM270.1 376.3h0.8v0.8h-0.8zM264.9 375.5h0.8v0.8h-0.8zM268.1 372.0h0.8v0.8h-0.8zM274.4 368.2h0.8v0.8h-0.8zM269.2 377.1h0.8v0.8h-0.8zM272.2 368.4h0.8v0.8h-0.8zM274.5 369.2h0.8v0.8h-0.8zM266.9 373.8h0.8v0.8h-0.8zM271.2 373.1h0.8v0.8h-0.8zM274.9 369.5h0.8v0.8h-0.8zM265.4 372.3h0.8v0.8h-0.8zM273.2 370.8h0.8v0.8h-0.8zM269.1 373.0h0.8v0.8h-0.8zM270.9 371.9h0.8v0.8h-0.8zM268.0 371.6h0.8v0.8h-0.8zM265.5 377.2h0.8v0.8h-0.8zM270.4 374.9h0.8v0.8h-0.8zM263.4 373.7h0.8v0.8h-0.8zM263.7 378.8h0.8v0.8h-0.8zM273.1 367.4h0.8v0.8h-0.8zM267.6 375.4h0.8v0.8h-0.8zM274.3 369.2h0.8v0.8h-0.8zM272.4 371.1h0.8v0.8h-0.8zM268.3 373.8h0.8v0.8h-0.8zM272.3 373.5h0.8v0.8h-0.8zM262.3 378.9h0.8v0.8h-0.8zM269.7 371.5h0.8v0.8h-0.8zM268.3 373.0h0.8v0.8h-0.8zM267.1 376.4h0.8v0.8h-0.8zM272.1 368.6h0.8v0.8h-0.8zM271.5 372.7h0.8v0.8h-0.8zM267.1 374.8h0.8v0.8h-0.8zM267.7 378.8h0.8v0.8h-0.8zM273.4 367.4h0.8v0.8h-0.8zM275.3 367.6h0.8v0.8h-0.8zM264.8 379.1h0.8v0.8h-0.8zM270.3 372.6h0.8v0.8h-0.8zM270.3 370.3h0.8v0.8h-0.8zM272.4 369.7h0.8v0.8h-0.8zM274.0 367.0h0.8v0.8h-0.8zM268.3 369.2h0.8v0.8h-0.8zM266.3 373.8h0.8v0.8h-0.8zM270.8 369.4h0.8v0.8h-0.8zM271.6 368.8h0.8v0.8h-0.8zM270.9 369.3h0.8v0.8h-0.8zM266.6 377.2h0.8v0.8h-0.8zM269.0 374.2h0.8v0.8h-0.8zM263.1 376.6h0.8v0.8h-0.8zM270.6 376.2h0.8v0.8h-0.8zM268.1 369.9h0.8v0.8h-0.8zM268.4 370.5h0.8v0.8h-0.8zM272.6 370.7h0.8v0.8h-0.8zM275.0 366.5h0.8v0.8h-0.8zM268.7 375.3h0.8v0.8h-0.8zM264.7 376.4h0.8v0.8h-0.8zM265.5 375.2h0.8v0.8h-0.8zM263.5 375.0h0.8v0.8h-0.8zM266.5 376.7h0.8v0.8h-0.8zM269.0 372.7h0.8v0.8h-0.8zM271.2 372.2h0.8v0.8h-0.8zM272.8 373.6h0.8v0.8h-0.8zM270.2 372.4h0.8v0.8h-0.8zM269.1 375.6h0.8v0.8h-0.8zM269.6 365.6h0.8v0.8h-0.8zM269.9 369.2h0.8v0.8h-0.8zM270.1 371.9h0.8v0.8h-0.8zM263.8 375.1h0.8v0.8h-0.8zM271.7 376.6h0.8v0.8h-0.8zM265.1 376.2h0.8v0.8h-0.8zM267.9 373.4h0.8v0.8h-0.8zM274.4 371.5h0.8v0.8h-0.8zM269.4 373.5h0.8v0.8h-0.8zM270.1 375.6h0.8v0.8h-0.8zM269.7 373.8h0.8v0.8h-0.8zM269.9 374.7h0.8v0.8h-0.8zM267.8 372.1h0.8v0.8h-0.8zM272.1 365.2h0.8v0.8h-0.8zM269.0 372.0h0.8v0.8h-0.8zM269.4 378.1h0.8v0.8h-0.8zM269.4 371.4h0.8v0.8h-0.8zM267.1 376.0h0.8v0.8h-0.8zM268.7 372.6h0.8v0.8h-0.8zM269.2 376.7h0.8v0.8h-0.8zM269.4 372.0h0.8v0.8h-0.8zM264.6 375.7h0.8v0.8h-0.8zM270.1 369.9h0.8v0.8h-0.8zM270.6 370.8h0.8v0.8h-0.8zM270.5 372.0h0.8v0.8h-0.8zM267.5 373.9h0.8v0.8h-0.8zM269.6 373.8h0.8v0.8h-0.8zM276.3 366.3h0.8v0.8h-0.8zM267.8 372.5h0.8v0.8h-0.8zM269.3 372.4h0.8v0.8h-0.8zM269.7 372.1h0.8v0.8h-0.8zM270.5 374.3h0.8v0.8h-0.8zM273.7 367.8h0.8v0.8h-0.8zM274.3 368.9h0.8v0.8h-0.8zM272.5 369.5h0.8v0.8h-0.8zM270.5 373.1h0.8v0.8h-0.8zM266.5 375.9h0.8v0.8h-0.8zM267.2 377.4h0.8v0.8h-0.8zM270.3 372.9h0.8v0.8h-0.8zM267.1 373.0h0.8v0.8h-0.8zM271.1 369.5h0.8v0.8h-0.8zM268.5 373.6h0.8v0.8h-0.8zM270.3 371.5h0.8v0.8h-0.8zM264.8 374.8h0.8v0.8h-0.8zM271.4 369.5h0.8v0.8h-0.8zM267.2 372.6h0.8v0.8h-0.8zM272.1 370.5h0.8v0.8h-0.8zM265.3 372.5h0.8v0.8h-0.8zM273.3 366.8h0.8v0.8h-0.8zM265.2 375.8h0.8v0.8h-0.8zM265.9 376.3h0.8v0.8h-0.8zM266.0 373.2h0.8v0.8h-0.8zM269.8 369.9h0.8v0.8h-0.8zM264.5 379.0h0.8v0.8h-0.8zM266.1 373.3h0.8v0.8h-0.8zM263.5 377.1h0.8v0.8h-0.8zM266.7 374.2h0.8v0.8h-0.8zM269.3 375.8h0.8v0.8h-0.8zM272.2 369.9h0.8v0.8h-0.8zM270.0 370.7h0.8v0.8h-0.8zM265.8 378.0h0.8v0.8h-0.8zM271.9 368.0h0.8v0.8h-0.8zM266.2 374.2h0.8v0.8h-0.8zM266.2 377.6h0.8v0.8h-0.8zM268.0 377.8h0.8v0.8h-0.8zM273.6 367.9h0.8v0.8h-0.8zM267.8 372.1h0.8v0.8h-0.8zM271.5 370.2h0.8v0.8h-0.8zM263.7 376.3h0.8v0.8h-0.8zM269.7 370.9h0.8v0.8h-0.8zM270.5 371.8h0.8v0.8h-0.8zM272.8 368.4h0.8v0.8h-0.8zM273.1 370.7h0.8v0.8h-0.8zM272.2 368.5h0.8v0.8h-0.8zM272.9 374.7h0.8v0.8h-0.8zM267.7 372.8h0.8v0.8h-0.8zM267.9 371.2h0.8v0.8h-0.8zM266.1 375.0h0.8v0.8h-0.8zM269.5 374.9h0.8v0.8h-0.8zM265.8 376.0h0.8v0.8h-0.8zM269.4 371.8h0.8v0.8h-0.8zM273.6 372.9h0.8v0.8h-0.8zM264.9 375.1h0.8v0.8h-0.8zM266.9 373.8h0.8v0.8h-0.8zM268.1 375.0h0.8v0.8h-0.8zM276.3 369.9h0.8v0.8h-0.8zM266.2 370.8h0.8v0.8h-0.8zM273.2 368.1h0.8v0.8h-0.8zM269.3 375.4h0.8v0.8h-0.8zM268.4 373.0h0.8v0.8h-0.8zM267.9 376.6h0.8v0.8h-0.8zM270.3 369.4h0.8v0.8h-0.8zM269.1 376.0h0.8v0.8h-0.8zM266.5 374.6h0.8v0.8h-0.8zM266.6 374.9h0.8v0.8h-0.8zM271.4 370.3h0.8v0.8h-0.8zM272.4 370.4h0.8v0.8h-0.8zM263.6 379.0h0.8v0.8h-0.8zM266.9 371.1h0.8v0.8h-0.8zM271.0 370.4h0.8v0.8h-0.8zM268.3 375.0h0.8v0.8h-0.8zM272.4 370.7h0.8v0.8h-0.8zM267.5 374.4h0.8v0.8h-0.8zM274.3 364.3h0.8v0.8h-0.8zM269.2 372.7h0.8v0.8h-0.8zM273.7 368.9h0.8v0.8h-0.8zM269.2 371.9h0.8v0.8h-0.8zM272.4 369.2h0.8v0.8h-0.8zM269.0 373.3h0.8v0.8h-0.8zM270.9 370.8h0.8v0.8h-0.8zM270.7 372.9h0.8v0.8h-0.8zM266.7 374.8h0.8v0.8h-0.8zM270.0 373.4h0.8v0.8h-0.8zM269.9 370.7h0.8v0.8h-0.8zM265.7 375.6h0.8v0.8h-0.8zM268.8 375.4h0.8v0.8h-0.8zM270.8 371.0h0.8v0.8h-0.8zM264.3 374.6h0.8v0.8h-0.8zM270.1 373.2h0.8v0.8h-0.8zM269.7 371.4h0.8v0.8h-0.8zM268.2 369.1h0.8v0.8h-0.8zM273.8 370.9h0.8v0.8h-0.8zM269.8 372.6h0.8v0.8h-0.8zM269.6 374.5h0.8v0.8h-0.8zM265.8 375.0h0.8v0.8h-0.8zM268.4 370.1h0.8v0.8h-0.8zM270.9 371.8h0.8v0.8h-0.8zM268.4 372.4h0.8v0.8h-0.8zM273.1 367.0h0.8v0.8h-0.8zM270.4 373.3h0.8v0.8h-0.8zM270.3 374.1h0.8v0.8h-0.8zM269.3 373.1h0.8v0.8h-0.8zM269.8 373.6h0.8v0.8h-0.8zM268.4 375.9h0.8v0.8h-0.8zM270.6 368.7h0.8v0.8h-0.8zM263.1 375.8h0.8v0.8h-0.8zM267.8 376.1h0.8v0.8h-0.8zM271.5 374.7h0.8v0.8h-0.8zM271.6 366.6h0.8v0.8h-0.8zM267.6 373.7h0.8v0.8h-0.8zM274.2 368.7h0.8v0.8h-0.8zM270.6 369.2h0.8v0.8h-0.8zM273.3 365.7h0.8v0.8h-0.8zM267.9 371.7h0.8v0.8h-0.8zM266.9 375.9h0.8v0.8h-0.8zM267.5 376.4h0.8v0.8h-0.8zM270.5 371.3h0.8v0.8h-0.8zM272.0 372.1h0.8v0.8h-0.8zM270.6 368.4h0.8v0.8h-0.8zM271.8 371.8h0.8v0.8h-0.8zM267.5 373.6h0.8v0.8h-0.8zM273.0 369.8h0.8v0.8h-0.8zM271.1 374.0h0.8v0.8h-0.8zM273.5 371.8h0.8v0.8h-0.8zM269.2 375.2h0.8v0.8h-0.8zM262.7 378.1h0.8v0.8h-0.8zM272.5 366.9h0.8v0.8h-0.8zM268.2 372.9h0.8v0.8h-0.8zM271.7 372.6h0.8v0.8h-0.8zM273.1 367.8h0.8v0.8h-0.8zM271.0 372.8h0.8v0.8h-0.8zM271.8 369.1h0.8v0.8h-0.8zM271.1 367.3h0.8v0.8h-0.8zM268.1 370.5h0.8v0.8h-0.8zM266.7 373.4h0.8v0.8h-0.8zM275.5 369.0h0.8v0.8h-0.8zM271.3 370.7h0.8v0.8h-0.8zM261.3 376.7h0.8v0.8h-0.8zM270.4 373.1h0.8v0.8h-0.8zM269.5 370.5h0.8v0.8h-0.8zM267.6 375.9h0.8v0.8h-0.8zM275.8 366.6h0.8v0.8h-0.8zM268.8 372.9h0.8v0.8h-0.8zM270.6 371.8h0.8v0.8h-0.8zM267.3 379.1h0.8v0.8h-0.8zM270.9 372.1h0.8v0.8h-0.8zM269.2 375.5h0.8v0.8h-0.8zM270.9 369.1h0.8v0.8h-0.8zM271.0 369.0h0.8v0.8h-0.8zM265.6 375.2h0.8v0.8h-0.8zM266.4 375.6h0.8v0.8h-0.8zM268.2 374.1h0.8v0.8h-0.8zM272.2 373.2h0.8v0.8h-0.8zM270.8 372.0h0.8v0.8h-0.8zM271.3 372.2h0.8v0.8h-0.8zM271.8 370.4h0.8v0.8h-0.8zM264.6 375.3h0.8v0.8h-0.8zM269.4 371.7h0.8v0.8h-0.8zM267.2 373.5h0.8v0.8h-0.8zM268.5 376.3h0.8v0.8h-0.8zM269.6 369.2h0.8v0.8h-0.8zM269.5 372.3h0.8v0.8h-0.8zM269.1 375.5h0.8v0.8h-0.8zM270.0 372.0h0.8v0.8h-0.8zM268.0 376.6h0.8v0.8h-0.8zM270.0 372.4h0.8v0.8h-0.8zM269.1 376.7h0.8v0.8h-0.8zM262.7 376.3h0.8v0.8h-0.8zM265.6 375.4h0.8v0.8h-0.8zM268.4 374.1h0.8v0.8h-0.8zM273.3 369.3h0.8v0.8h-0.8zM269.2 372.3h0.8v0.8h-0.8zM271.0 372.6h0.8v0.8h-0.8zM269.3 377.1h0.8v0.8h-0.8zM270.0 373.8h0.8v0.8h-0.8zM269.7 375.6h0.8v0.8h-0.8zM272.1 370.1h0.8v0.8h-0.8zM270.3 370.6h0.8v0.8h-0.8zM268.1 377.0h0.8v0.8h-0.8zM265.1 375.9h0.8v0.8h-0.8zM264.6 375.3h0.8v0.8h-0.8zM269.0 375.1h0.8v0.8h-0.8zM267.4 376.7h0.8v0.8h-0.8zM262.8 377.5h0.8v0.8h-0.8zM267.6 376.3h0.8v0.8h-0.8zM270.0 366.6h0.8v0.8h-0.8zM271.2 374.4h0.8v0.8h-0.8zM271.1 374.6h0.8v0.8h-0.8zM272.4 369.6h0.8v0.8h-0.8zM264.3 376.3h0.8v0.8h-0.8zM272.2 367.3h0.8v0.8h-0.8zM265.5 375.6h0.8v0.8h-0.8zM272.5 369.1h0.8v0.8h-0.8zM264.0 376.7h0.8v0.8h-0.8zM272.2 372.0h0.8v0.8h-0.8zM273.7 368.7h0.8v0.8h-0.8zM269.1 370.4h0.8v0.8h-0.8zM265.7 373.0h0.8v0.8h-0.8zM269.1 373.7h0.8v0.8h-0.8zM268.0 371.7h0.8v0.8h-0.8zM271.6 372.1h0.8v0.8h-0.8zM269.9 367.0h0.8v0.8h-0.8zM271.7 372.3h0.8v0.8h-0.8zM271.0 370.7h0.8v0.8h-0.8zM269.4 371.8h0.8v0.8h-0.8zM265.9 373.8h0.8v0.8h-0.8zM277.3 363.0h0.8v0.8h-0.8zM271.1 371.7h0.8v0.8h-0.8zM271.4 370.1h0.8v0.8h-0.8zM273.8 372.0h0.8v0.8h-0.8zM266.5 374.1h0.8v0.8h-0.8zM265.9 375.5h0.8v0.8h-0.8zM266.2 377.0h0.8v0.8h-0.8zM272.2 372.1h0.8v0.8h-0.8zM272.0 368.6h0.8v0.8h-0.8zM268.5 371.4h0.8v0.8h-0.8zM269.3 372.8h0.8v0.8h-0.8zM270.3 371.3h0.8v0.8h-0.8zM267.5 377.3h0.8v0.8h-0.8zM266.9 371.7h0.8v0.8h-0.8zM265.4 378.9h0.8v0.8h-0.8zM265.2 379.1h0.8v0.8h-0.8zM273.6 368.8h0.8v0.8h-0.8zM271.8 371.0h0.8v0.8h-0.8zM267.7 374.9h0.8v0.8h-0.8zM270.9 371.1h0.8v0.8h-0.8zM271.7 369.4h0.8v0.8h-0.8zM268.5 371.9h0.8v0.8h-0.8zM267.1 374.0h0.8v0.8h-0.8zM268.0 370.9h0.8v0.8h-0.8zM268.9 372.1h0.8v0.8h-0.8zM270.4 370.6h0.8v0.8h-0.8zM269.7 370.0h0.8v0.8h-0.8zM269.6 371.5h0.8v0.8h-0.8zM272.3 370.0h0.8v0.8h-0.8zM271.2 369.3h0.8v0.8h-0.8zM267.4 374.7h0.8v0.8h-0.8zM265.9 375.7h0.8v0.8h-0.8zM271.2 368.0h0.8v0.8h-0.8zM267.6 374.7h0.8v0.8h-0.8zM275.6 369.9h0.8v0.8h-0.8zM266.9 374.0h0.8v0.8h-0.8zM268.9 371.4h0.8v0.8h-0.8zM270.3 372.0h0.8v0.8h-0.8zM270.7 371.4h0.8v0.8h-0.8zM268.2 375.5h0.8v0.8h-0.8zM269.1 373.1h0.8v0.8h-0.8zM266.2 376.3h0.8v0.8h-0.8zM267.8 372.1h0.8v0.8h-0.8zM266.4 374.7h0.8v0.8h-0.8zM268.3 372.2h0.8v0.8h-0.8zM266.2 376.3h0.8v0.8h-0.8zM266.2 376.9h0.8v0.8h-0.8zM266.5 375.2h0.8v0.8h-0.8zM269.5 367.3h0.8v0.8h-0.8zM264.7 376.3h0.8v0.8h-0.8zM267.5 372.3h0.8v0.8h-0.8zM265.7 375.0h0.8v0.8h-0.8zM266.5 376.0h0.8v0.8h-0.8zM267.0 374.8h0.8v0.8h-0.8zM269.9 373.5h0.8v0.8h-0.8zM266.8 374.3h0.8v0.8h-0.8zM267.6 369.3h0.8v0.8h-0.8zM268.0 371.7h0.8v0.8h-0.8zM270.9 369.9h0.8v0.8h-0.8zM268.0 376.7h0.8v0.8h-0.8zM266.4 373.5h0.8v0.8h-0.8zM267.9 369.5h0.8v0.8h-0.8zM269.4 374.2h0.8v0.8h-0.8zM267.0 377.8h0.8v0.8h-0.8zM267.5 373.2h0.8v0.8h-0.8zM272.2 368.5h0.8v0.8h-0.8zM267.7 369.8h0.8v0.8h-0.8zM269.6 373.1h0.8v0.8h-0.8zM266.1 374.4h0.8v0.8h-0.8zM267.4 372.6h0.8v0.8h-0.8zM265.6 378.9h0.8v0.8h-0.8zM272.0 370.8h0.8v0.8h-0.8zM272.1 371.8h0.8v0.8h-0.8zM264.4 370.5h0.8v0.8h-0.8zM268.3 372.2h0.8v0.8h-0.8zM266.6 377.0h0.8v0.8h-0.8zM264.7 374.5h0.8v0.8h-0.8zM274.9 365.3h0.8v0.8h-0.8zM270.1 373.0h0.8v0.8h-0.8zM270.4 371.0h0.8v0.8h-0.8zM270.2 371.3h0.8v0.8h-0.8zM267.4 373.9h0.8v0.8h-0.8zM271.4 371.7h0.8v0.8h-0.8zM268.3 370.0h0.8v0.8h-0.8zM269.0 374.1h0.8v0.8h-0.8zM268.6 374.6h0.8v0.8h-0.8zM270.7 373.8h0.8v0.8h-0.8zM272.6 370.3h0.8v0.8h-0.8zM267.3 374.2h0.8v0.8h-0.8zM268.6 374.4h0.8v0.8h-0.8zM270.3 370.1h0.8v0.8h-0.8zM272.3 370.1h0.8v0.8h-0.8zM262.9 378.6h0.8v0.8h-0.8zM267.8 372.5h0.8v0.8h-0.8zM269.2 372.5h0.8v0.8h-0.8zM268.4 372.9h0.8v0.8h-0.8zM269.0 371.4h0.8v0.8h-0.8zM268.4 369.4h0.8v0.8h-0.8zM268.6 372.1h0.8v0.8h-0.8zM268.3 374.3h0.8v0.8h-0.8zM263.2 371.2h0.8v0.8h-0.8zM264.9 377.0h0.8v0.8h-0.8zM267.6 373.2h0.8v0.8h-0.8zM268.2 375.6h0.8v0.8h-0.8zM267.7 371.7h0.8v0.8h-0.8zM268.0 376.6h0.8v0.8h-0.8zM269.7 372.9h0.8v0.8h-0.8zM269.3 373.0h0.8v0.8h-0.8zM266.3 373.4h0.8v0.8h-0.8zM265.3 374.8h0.8v0.8h-0.8zM274.3 368.2h0.8v0.8h-0.8zM269.0 372.6h0.8v0.8h-0.8zM265.8 378.6h0.8v0.8h-0.8zM265.9 372.8h0.8v0.8h-0.8zM271.8 367.5h0.8v0.8h-0.8zM268.1 373.5h0.8v0.8h-0.8zM265.7 377.9h0.8v0.8h-0.8zM265.2 376.6h0.8v0.8h-0.8zM268.1 378.2h0.8v0.8h-0.8zM270.9 374.3h0.8v0.8h-0.8zM267.9 374.7h0.8v0.8h-0.8zM270.5 371.3h0.8v0.8h-0.8zM269.7 374.9h0.8v0.8h-0.8zM270.1 371.8h0.8v0.8h-0.8zM268.0 367.7h0.8v0.8h-0.8zM266.9 376.5h0.8v0.8h-0.8zM267.7 373.7h0.8v0.8h-0.8zM264.6 376.9h0.8v0.8h-0.8zM272.1 368.3h0.8v0.8h-0.8zM266.0 375.5h0.8v0.8h-0.8zM271.1 369.1h0.8v0.8h-0.8zM265.0 378.1h0.8v0.8h-0.8zM268.3 374.1h0.8v0.8h-0.8zM262.9 376.6h0.8v0.8h-0.8zM268.6 374.2h0.8v0.8h-0.8zM275.0 368.9h0.8v0.8h-0.8zM273.1 370.4h0.8v0.8h-0.8zM272.5 370.4h0.8v0.8h-0.8zM270.2 370.6h0.8v0.8h-0.8zM269.4 375.8h0.8v0.8h-0.8zM265.1 375.7h0.8v0.8h-0.8zM268.6 373.8h0.8v0.8h-0.8zM266.6 374.4h0.8v0.8h-0.8zM265.9 374.4h0.8v0.8h-0.8zM272.2 377.8h0.8v0.8h-0.8zM266.0 376.8h0.8v0.8h-0.8zM269.6 373.8h0.8v0.8h-0.8zM266.8 372.6h0.8v0.8h-0.8zM267.1 374.2h0.8v0.8h-0.8zM264.9 377.2h0.8v0.8h-0.8zM267.4 371.0h0.8v0.8h-0.8zM266.6 377.8h0.8v0.8h-0.8zM265.6 374.9h0.8v0.8h-0.8zM266.6 373.9h0.8v0.8h-0.8zM270.7 371.5h0.8v0.8h-0.8zM274.2 366.2h0.8v0.8h-0.8zM269.1 371.0h0.8v0.8h-0.8zM269.8 368.5h0.8v0.8h-0.8zM266.5 375.1h0.8v0.8h-0.8zM278.5 366.4h0.8v0.8h-0.8zM274.2 366.9h0.8v0.8h-0.8zM265.7 378.2h0.8v0.8h-0.8zM271.1 369.0h0.8v0.8h-0.8zM276.2 368.8h0.8v0.8h-0.8zM264.0 377.4h0.8v0.8h-0.8zM268.0 373.4h0.8v0.8h-0.8zM268.6 373.4h0.8v0.8h-0.8zM271.5 376.5h0.8v0.8h-0.8zM266.2 372.9h0.8v0.8h-0.8zM273.2 370.3h0.8v0.8h-0.8zM264.8 375.2h0.8v0.8h-0.8zM263.8 373.0h0.8v0.8h-0.8zM266.1 377.4h0.8v0.8h-0.8zM265.1 376.6h0.8v0.8h-0.8zM267.5 373.1h0.8v0.8h-0.8zM270.5 371.6h0.8v0.8h-0.8zM272.7 369.5h0.8v0.8h-0.8zM269.6 376.6h0.8v0.8h-0.8zM270.4 372.5h0.8v0.8h-0.8zM269.4 371.6h0.8v0.8h-0.8zM268.2 377.1h0.8v0.8h-0.8zM266.6 374.7h0.8v0.8h-0.8zM272.5 371.2h0.8v0.8h-0.8zM271.5 375.0h0.8v0.8h-0.8zM271.4 376.1h0.8v0.8h-0.8zM272.9 368.9h0.8v0.8h-0.8zM269.8 374.8h0.8v0.8h-0.8zM265.5 378.9h0.8v0.8h-0.8zM272.7 372.4h0.8v0.8h-0.8zM273.1 368.9h0.8v0.8h-0.8zM269.1 370.4h0.8v0.8h-0.8zM269.6 370.4h0.8v0.8h-0.8zM267.8 379.1h0.8v0.8h-0.8zM273.6 367.4h0.8v0.8h-0.8zM272.7 374.5h0.8v0.8h-0.8zM267.5 378.8h0.8v0.8h-0.8zM269.0 374.5h0.8v0.8h-0.8zM270.7 374.8h0.8v0.8h-0.8zM272.1 369.0h0.8v0.8h-0.8zM273.3 370.2h0.8v0.8h-0.8zM271.6 367.6h0.8v0.8h-0.8zM271.3 370.2h0.8v0.8h-0.8zM267.8 370.4h0.8v0.8h-0.8zM274.7 366.3h0.8v0.8h-0.8zM268.5 369.9h0.8v0.8h-0.8zM268.7 373.7h0.8v0.8h-0.8zM268.0 371.3h0.8v0.8h-0.8zM269.5 371.4h0.8v0.8h-0.8zM270.1 369.0h0.8v0.8h-0.8zM271.0 368.3h0.8v0.8h-0.8zM266.7 376.8h0.8v0.8h-0.8zM271.1 371.5h0.8v0.8h-0.8zM267.1 374.2h0.8v0.8h-0.8zM268.1 376.9h0.8v0.8h-0.8zM262.6 376.7h0.8v0.8h-0.8zM266.6 377.0h0.8v0.8h-0.8zM266.1 378.3h0.8v0.8h-0.8zM262.0 375.9h0.8v0.8h-0.8zM270.4 372.3h0.8v0.8h-0.8zM269.7 375.5h0.8v0.8h-0.8zM267.2 373.6h0.8v0.8h-0.8zM270.2 374.9h0.8v0.8h-0.8zM270.9 375.5h0.8v0.8h-0.8zM273.9 369.7h0.8v0.8h-0.8zM272.9 371.4h0.8v0.8h-0.8zM267.5 368.9h0.8v0.8h-0.8zM269.3 372.2h0.8v0.8h-0.8zM263.3 374.2h0.8v0.8h-0.8zM268.0 371.3h0.8v0.8h-0.8zM268.0 372.0h0.8v0.8h-0.8zM268.7 370.8h0.8v0.8h-0.8zM269.6 372.1h0.8v0.8h-0.8zM267.4 374.0h0.8v0.8h-0.8zM266.5 369.2h0.8v0.8h-0.8zM264.0 378.8h0.8v0.8h-0.8zM269.4 373.0h0.8v0.8h-0.8zM268.7 370.8h0.8v0.8h-0.8zM273.3 369.7h0.8v0.8h-0.8zM269.6 371.6h0.8v0.8h-0.8zM266.3 374.3h0.8v0.8h-0.8zM270.1 371.8h0.8v0.8h-0.8zM271.5 370.6h0.8v0.8h-0.8zM269.3 375.5h0.8v0.8h-0.8zM263.3 375.5h0.8v0.8h-0.8zM269.4 371.2h0.8v0.8h-0.8zM263.1 375.4h0.8v0.8h-0.8zM270.7 374.4h0.8v0.8h-0.8zM272.7 368.5h0.8v0.8h-0.8zM267.3 372.7h0.8v0.8h-0.8zM274.0 367.0h0.8v0.8h-0.8zM269.0 374.9h0.8v0.8h-0.8zM272.1 369.4h0.8v0.8h-0.8zM270.9 367.9h0.8v0.8h-0.8zM270.9 372.1h0.8v0.8h-0.8zM270.9 372.3h0.8v0.8h-0.8zM270.2 372.9h0.8v0.8h-0.8zM262.3 378.3h0.8v0.8h-0.8zM270.0 369.1h0.8v0.8h-0.8zM269.3 377.9h0.8v0.8h-0.8zM269.5 373.0h0.8v0.8h-0.8zM272.1 373.6h0.8v0.8h-0.8zM267.3 372.7h0.8v0.8h-0.8zM271.4 373.5h0.8v0.8h-0.8zM264.1 378.1h0.8v0.8h-0.8zM268.1 374.2h0.8v0.8h-0.8zM271.1 371.2h0.8v0.8h-0.8zM264.5 377.4h0.8v0.8h-0.8zM268.6 373.2h0.8v0.8h-0.8zM271.5 369.3h0.8v0.8h-0.8zM267.1 374.6h0.8v0.8h-0.8zM269.9 373.5h0.8v0.8h-0.8zM262.5 376.4h0.8v0.8h-0.8zM269.9 374.1h0.8v0.8h-0.8zM269.1 373.3h0.8v0.8h-0.8zM273.8 367.7h0.8v0.8h-0.8zM269.7 371.9h0.8v0.8h-0.8zM272.2 370.4h0.8v0.8h-0.8zM269.2 374.4h0.8v0.8h-0.8zM269.6 371.0h0.8v0.8h-0.8zM273.4 372.7h0.8v0.8h-0.8zM264.6 374.9h0.8v0.8h-0.8zM268.5 373.0h0.8v0.8h-0.8zM269.6 372.1h0.8v0.8h-0.8zM270.8 373.6h0.8v0.8h-0.8zM270.1 366.9h0.8v0.8h-0.8zM270.5 371.2h0.8v0.8h-0.8zM270.5 371.3h0.8v0.8h-0.8zM269.7 371.5h0.8v0.8h-0.8zM267.1 374.6h0.8v0.8h-0.8zM271.2 370.4h0.8v0.8h-0.8zM270.4 374.5h0.8v0.8h-0.8zM270.3 369.3h0.8v0.8h-0.8zM266.7 375.1h0.8v0.8h-0.8zM271.5 372.5h0.8v0.8h-0.8zM269.4 372.9h0.8v0.8h-0.8zM271.6 370.6h0.8v0.8h-0.8zM270.7 373.3h0.8v0.8h-0.8zM270.9 368.2h0.8v0.8h-0.8zM263.3 376.4h0.8v0.8h-0.8zM269.4 371.8h0.8v0.8h-0.8zM267.8 372.9h0.8v0.8h-0.8zM267.4 376.1h0.8v0.8h-0.8zM269.3 373.3h0.8v0.8h-0.8zM272.2 372.8h0.8v0.8h-0.8zM274.1 365.9h0.8v0.8h-0.8zM272.7 369.1h0.8v0.8h-0.8zM271.5 372.7h0.8v0.8h-0.8zM267.3 374.5h0.8v0.8h-0.8zM272.3 370.5h0.8v0.8h-0.8zM274.5 367.9h0.8v0.8h-0.8zM269.2 372.3h0.8v0.8h-0.8zM268.5 369.1h0.8v0.8h-0.8zM272.8 369.3h0.8v0.8h-0.8zM267.5 374.8h0.8v0.8h-0.8zM269.1 370.0h0.8v0.8h-0.8zM268.9 367.9h0.8v0.8h-0.8zM272.6 368.2h0.8v0.8h-0.8zM269.4 371.8h0.8v0.8h-0.8zM268.7 375.8h0.8v0.8h-0.8zM266.3 375.7h0.8v0.8h-0.8zM269.0 370.0h0.8v0.8h-0.8zM269.6 370.1h0.8v0.8h-0.8zM271.0 369.9h0.8v0.8h-0.8zM272.4 368.9h0.8v0.8h-0.8zM267.6 377.1h0.8v0.8h-0.8zM273.3 370.2h0.8v0.8h-0.8zM263.6 376.0h0.8v0.8h-0.8zM272.0 370.5h0.8v0.8h-0.8zM268.0 373.6h0.8v0.8h-0.8zM266.8 370.0h0.8v0.8h-0.8zM264.1 375.1h0.8v0.8h-0.8zM271.4 369.3h0.8v0.8h-0.8zM263.2 379.0h0.8v0.8h-0.8zM267.1 373.1h0.8v0.8h-0.8zM263.9 376.2h0.8v0.8h-0.8zM269.3 371.5h0.8v0.8h-0.8zM272.6 371.9h0.8v0.8h-0.8zM266.1 372.1h0.8v0.8h-0.8zM266.5 375.9h0.8v0.8h-0.8zM270.8 370.4h0.8v0.8h-0.8zM269.1 373.3h0.8v0.8h-0.8zM273.0 369.9h0.8v0.8h-0.8zM267.2 373.3h0.8v0.8h-0.8zM268.1 372.3h0.8v0.8h-0.8zM267.7 377.1h0.8v0.8h-0.8zM268.2 371.1h0.8v0.8h-0.8zM268.8 370.5h0.8v0.8h-0.8zM264.2 373.9h0.8v0.8h-0.8zM265.1 375.9h0.8v0.8h-0.8zM269.5 372.0h0.8v0.8h-0.8zM269.8 372.1h0.8v0.8h-0.8zM269.2 375.6h0.8v0.8h-0.8zM264.6 375.0h0.8v0.8h-0.8zM274.7 366.9h0.8v0.8h-0.8zM272.7 375.1h0.8v0.8h-0.8zM268.2 378.1h0.8v0.8h-0.8zM268.6 372.8h0.8v0.8h-0.8zM266.2 375.8h0.8v0.8h-0.8zM270.9 370.6h0.8v0.8h-0.8zM268.2 374.8h0.8v0.8h-0.8zM272.4 369.1h0.8v0.8h-0.8zM267.3 373.7h0.8v0.8h-0.8zM269.3 371.1h0.8v0.8h-0.8zM272.1 368.1h0.8v0.8h-0.8zM271.6 369.5h0.8v0.8h-0.8zM269.6 369.5h0.8v0.8h-0.8zM267.1 372.4h0.8v0.8h-0.8zM266.8 375.2h0.8v0.8h-0.8zM268.5 378.8h0.8v0.8h-0.8zM274.4 368.6h0.8v0.8h-0.8zM268.3 372.2h0.8v0.8h-0.8zM265.5 379.1h0.8v0.8h-0.8zM265.7 376.4h0.8v0.8h-0.8zM267.3 374.7h0.8v0.8h-0.8zM273.4 367.7h0.8v0.8h-0.8zM269.6 374.5h0.8v0.8h-0.8zM265.0 372.3h0.8v0.8h-0.8zM266.6 374.9h0.8v0.8h-0.8zM268.2 376.4h0.8v0.8h-0.8zM271.0 368.3h0.8v0.8h-0.8zM269.3 373.0h0.8v0.8h-0.8zM267.0 373.4h0.8v0.8h-0.8zM269.6 371.1h0.8v0.8h-0.8zM273.8 367.4h0.8v0.8h-0.8zM269.2 373.1h0.8v0.8h-0.8zM269.0 371.8h0.8v0.8h-0.8zM271.5 372.0h0.8v0.8h-0.8zM270.0 372.7h0.8v0.8h-0.8zM264.7 376.6h0.8v0.8h-0.8zM268.8 372.3h0.8v0.8h-0.8zM272.3 370.0h0.8v0.8h-0.8zM268.1 372.2h0.8v0.8h-0.8zM267.6 373.8h0.8v0.8h-0.8zM272.1 366.7h0.8v0.8h-0.8zM271.0 369.7h0.8v0.8h-0.8zM274.3 368.9h0.8v0.8h-0.8zM267.1 375.9h0.8v0.8h-0.8zM266.2 378.0h0.8v0.8h-0.8zM267.3 372.1h0.8v0.8h-0.8zM269.6 373.7h0.8v0.8h-0.8zM276.3 366.2h0.8v0.8h-0.8zM269.9 371.7h0.8v0.8h-0.8zM273.1 371.2h0.8v0.8h-0.8zM269.2 371.6h0.8v0.8h-0.8zM273.6 373.2h0.8v0.8h-0.8zM271.1 373.9h0.8v0.8h-0.8zM271.7 368.0h0.8v0.8h-0.8zM268.3 371.6h0.8v0.8h-0.8zM269.3 371.4h0.8v0.8h-0.8zM267.4 376.5h0.8v0.8h-0.8zM268.5 372.8h0.8v0.8h-0.8zM271.8 370.7h0.8v0.8h-0.8zM274.3 370.9h0.8v0.8h-0.8zM266.3 377.2h0.8v0.8h-0.8zM273.1 366.1h0.8v0.8h-0.8zM273.0 369.9h0.8v0.8h-0.8zM267.4 369.4h0.8v0.8h-0.8zM265.6 375.6h0.8v0.8h-0.8zM269.3 372.8h0.8v0.8h-0.8zM271.3 370.6h0.8v0.8h-0.8zM267.2 372.3h0.8v0.8h-0.8zM266.7 375.0h0.8v0.8h-0.8zM274.6 365.8h0.8v0.8h-0.8zM270.0 374.2h0.8v0.8h-0.8zM271.8 371.1h0.8v0.8h-0.8zM271.2 374.4h0.8v0.8h-0.8zM269.3 376.3h0.8v0.8h-0.8zM273.4 368.4h0.8v0.8h-0.8zM266.7 373.8h0.8v0.8h-0.8zM267.3 369.9h0.8v0.8h-0.8zM271.5 368.1h0.8v0.8h-0.8zM266.4 377.2h0.8v0.8h-0.8zM268.1 371.7h0.8v0.8h-0.8zM271.2 367.7h0.8v0.8h-0.8zM265.4 372.8h0.8v0.8h-0.8zM274.3 368.1h0.8v0.8h-0.8zM265.8 377.9h0.8v0.8h-0.8zM266.2 373.8h0.8v0.8h-0.8zM266.0 371.2h0.8v0.8h-0.8zM269.5 372.3h0.8v0.8h-0.8zM272.0 367.5h0.8v0.8h-0.8zM263.9 376.0h0.8v0.8h-0.8zM268.5 375.6h0.8v0.8h-0.8zM275.6 366.6h0.8v0.8h-0.8zM268.8 370.4h0.8v0.8h-0.8zM263.5 375.7h0.8v0.8h-0.8zM272.1 372.0h0.8v0.8h-0.8zM266.8 372.1h0.8v0.8h-0.8zM270.9 370.4h0.8v0.8h-0.8zM264.9 373.3h0.8v0.8h-0.8zM268.1 374.7h0.8v0.8h-0.8zM271.3 372.3h0.8v0.8h-0.8zM274.8 366.0h0.8v0.8h-0.8zM271.2 368.4h0.8v0.8h-0.8zM265.1 377.2h0.8v0.8h-0.8zM261.5 376.9h0.8v0.8h-0.8zM267.7 376.0h0.8v0.8h-0.8zM266.1 371.6h0.8v0.8h-0.8zM268.2 372.3h0.8v0.8h-0.8zM266.8 373.8h0.8v0.8h-0.8zM269.6 374.1h0.8v0.8h-0.8zM270.4 371.4h0.8v0.8h-0.8zM264.6 373.6h0.8v0.8h-0.8zM275.7 368.5h0.8v0.8h-0.8zM264.9 378.5h0.8v0.8h-0.8zM270.2 371.8h0.8v0.8h-0.8zM269.0 371.9h0.8v0.8h-0.8zM273.2 368.9h0.8v0.8h-0.8zM272.0 370.1h0.8v0.8h-0.8zM269.0 371.8h0.8v0.8h-0.8zM270.2 367.4h0.8v0.8h-0.8zM272.4 368.5h0.8v0.8h-0.8zM269.0 371.5h0.8v0.8h-0.8zM262.8 377.3h0.8v0.8h-0.8zM269.5 371.1h0.8v0.8h-0.8zM269.2 370.5h0.8v0.8h-0.8zM264.0 378.1h0.8v0.8h-0.8zM266.8 373.3h0.8v0.8h-0.8zM270.8 366.8h0.8v0.8h-0.8zM268.9 372.2h0.8v0.8h-0.8zM272.6 369.0h0.8v0.8h-0.8zM270.2 372.1h0.8v0.8h-0.8zM269.3 372.0h0.8v0.8h-0.8zM269.6 374.3h0.8v0.8h-0.8zM273.9 365.2h0.8v0.8h-0.8zM268.3 371.0h0.8v0.8h-0.8zM276.0 368.7h0.8v0.8h-0.8zM271.4 373.7h0.8v0.8h-0.8zM268.1 371.0h0.8v0.8h-0.8zM272.1 366.0h0.8v0.8h-0.8zM267.8 377.5h0.8v0.8h-0.8zM272.1 370.8h0.8v0.8h-0.8zM267.1 373.2h0.8v0.8h-0.8zM267.5 377.9h0.8v0.8h-0.8zM273.1 373.5h0.8v0.8h-0.8zM270.9 372.1h0.8v0.8h-0.8zM266.9 374.0h0.8v0.8h-0.8zM269.4 370.5h0.8v0.8h-0.8zM273.0 370.8h0.8v0.8h-0.8zM266.5 377.4h0.8v0.8h-0.8zM269.9 372.3h0.8v0.8h-0.8zM269.6 375.2h0.8v0.8h-0.8zM270.4 372.9h0.8v0.8h-0.8zM269.3 371.0h0.8v0.8h-0.8zM268.2 378.4h0.8v0.8h-0.8zM273.6 367.6h0.8v0.8h-0.8zM273.4 370.9h0.8v0.8h-0.8zM274.1 369.2h0.8v0.8h-0.8zM269.6 374.0h0.8v0.8h-0.8zM268.0 374.7h0.8v0.8h-0.8z" fill="#1a38ff" opacity="0.75"/>
<rect x="280.30" y="361.20" width="22.40" height="18.40" fill="none" stroke="#707070" stroke-width="0.6"/>
<rect x="259.20" y="341.60" width="1.6" height="39.60" fill="#111"/>
<rect x="259.20" y="379.80" width="53.30" height="1.6" fill="#111"/>
<rect x="258.00" y="379.90" width="1.6" height="0.6" fill="#111"/>
<rect x="258.00" y="373.77" width="1.6" height="0.6" fill="#111"/>
<rect x="258.00" y="367.65" width="1.6" height="0.6" fill="#111"/>
<rect x="258.00" y="361.52" width="1.6" height="0.6" fill="#111"/>
<rect x="258.00" y="355.39" width="1.6" height="0.6" fill="#111"/>
<rect x="258.00" y="349.27" width="1.6" height="0.6" fill="#111"/>
<rect x="258.00" y="343.14" width="1.6" height="0.6" fill="#111"/>
<rect x="260.10" y="381.80" width="8.5" height="1.8" fill="#333" opacity="0.6"/>
<rect x="260.60" y="381.50" width="0.8" height="2.5" fill="#222" opacity="0.35"/>
<rect x="262.70" y="381.50" width="0.8" height="2.5" fill="#222" opacity="0.35"/>
<rect x="264.80" y="381.50" width="0.8" height="2.5" fill="#222" opacity="0.35"/>
<rect x="266.90" y="381.50" width="0.8" height="2.5" fill="#222" opacity="0.35"/>
<rect x="271.63" y="381.80" width="8.5" height="1.8" fill="#333" opacity="0.6"/>
<rect x="272.13" y="381.50" width="0.8" height="2.5" fill="#222" opacity="0.35"/>
<rect x="274.23" y="381.50" width="0.8" height="2.5" fill="#222" opacity="0.35"/>
<rect x="276.33" y="381.50" width="0.8" height="2.5" fill="#222" opacity="0.35"/>
<rect x="278.43" y="381.50" width="0.8" height="2.5" fill="#222" opacity="0.35"/>
<rect x="283.17" y="381.80" width="8.5" height="1.8" fill="#333" opacity="0.6"/>
<rect x="283.67" y="381.50" width="0.8" height="2.5" fill="#222" opacity="0.35"/>
<rect x="285.77" y="381.50" width="0.8" height="2.5" fill="#222" opacity="0.35"/>
<rect x="287.87" y="381.50" width="0.8" height="2.5" fill="#222" opacity="0.35"/>
<rect x="289.97" y="381.50" width="0.8" height="2.5" fill="#222" opacity="0.35"/>
<rect x="294.70" y="381.80" width="8.5" height="1.8" fill="#333" opacity="0.6"/>
<rect x="295.20" y="381.50" width="0.8" height="2.5" fill="#222" opacity="0.35"/>
<rect x="297.30" y="381.50" width="0.8" height="2.5" fill="#222" opacity="0.35"/>
<rect x="299.40" y="381.50" width="0.8" height="2.5" fill="#222" opacity="0.35"/>
<rect x="301.50" y="381.50" width="0.8" height="2.5" fill="#222" opacity="0.35"/>
<rect x="306.23" y="381.80" width="8.5" height="1.8" fill="#333" opacity="0.6"/>
<rect x="306.73" y="381.50" width="0.8" height="2.5" fill="#222" opacity="0.35"/>
<rect x="308.83" y="381.50" width="0.8" height="2.5" fill="#222" opacity="0.35"/>
<rect x="310.93" y="381.50" width="0.8" height="2.5" fill="#222" opacity="0.35"/>
<rect x="313.03" y="381.50" width="0.8" height="2.5" fill="#222" opacity="0.35"/>
<text x="284.10" y="358.90" font-size="8.5" font-weight="normal" textLength="14.90" lengthAdjust="spacingAndGlyphs" fill="#000" stroke="#000" stroke-width="0.12">21%</text>
<rect x="326.40" y="341.60" width="52.70" height="39.30" fill="#fff" stroke="#333" stroke-width="0.8"/>
<path d="M340.3 373.1h0.7v0.7h-0.7zM345.9 366.3h0.7v0.7h-0.7zM359.5 352.4h0.7v0.7h-0.7zM341.4 379.2h0.7v0.7h-0.7zM353.6 365.0h0.7v0.7h-0.7zM351.8 344.1h0.7v0.7h-0.7zM344.4 377.4h0.7v0.7h-0.7zM355.7 360.9h0.7v0.7h-0.7zM354.3 352.1h0.7v0.7h-0.7zM343.5 368.9h0.7v0.7h-0.7zM347.8 365.6h0.7v0.7h-0.7zM349.0 345.6h0.7v0.7h-0.7zM353.5 348.4h0.7v0.7h-0.7zM341.6 367.7h0.7v0.7h-0.7zM346.0 356.7h0.7v0.7h-0.7zM347.4 376.1h0.7v0.7h-0.7zM345.2 365.3h0.7v0.7h-0.7zM354.0 363.5h0.7v0.7h-0.7zM339.0 372.4h0.7v0.7h-0.7zM351.9 361.5h0.7v0.7h-0.7zM348.5 363.8h0.7v0.7h-0.7zM344.1 368.4h0.7v0.7h-0.7zM349.4 369.0h0.7v0.7h-0.7zM338.7 373.6h0.7v0.7h-0.7zM343.7 375.2h0.7v0.7h-0.7zM344.0 375.0h0.7v0.7h-0.7zM344.5 357.3h0.7v0.7h-0.7zM350.4 369.3h0.7v0.7h-0.7zM349.1 353.3h0.7v0.7h-0.7zM338.7 368.4h0.7v0.7h-0.7zM346.1 374.2h0.7v0.7h-0.7zM342.0 367.4h0.7v0.7h-0.7zM354.8 355.1h0.7v0.7h-0.7zM350.6 365.9h0.7v0.7h-0.7zM353.4 355.7h0.7v0.7h-0.7zM348.6 364.5h0.7v0.7h-0.7zM355.5 351.4h0.7v0.7h-0.7zM343.3 372.3h0.7v0.7h-0.7zM357.1 346.1h0.7v0.7h-0.7zM345.1 378.9h0.7v0.7h-0.7zM348.7 361.7h0.7v0.7h-0.7zM358.9 347.2h0.7v0.7h-0.7zM339.7 374.2h0.7v0.7h-0.7zM351.0 360.7h0.7v0.7h-0.7zM346.2 378.0h0.7v0.7h-0.7zM363.6 350.7h0.7v0.7h-0.7zM342.6 376.0h0.7v0.7h-0.7zM356.9 348.4h0.7v0.7h-0.7zM342.8 378.5h0.7v0.7h-0.7zM352.5 368.3h0.7v0.7h-0.7zM347.2 369.6h0.7v0.7h-0.7zM344.1 349.8h0.7v0.7h-0.7zM345.4 377.7h0.7v0.7h-0.7zM344.3 353.0h0.7v0.7h-0.7zM353.0 365.0h0.7v0.7h-0.7zM357.0 350.1h0.7v0.7h-0.7zM353.2 357.0h0.7v0.7h-0.7zM340.3 370.7h0.7v0.7h-0.7zM353.3 354.1h0.7v0.7h-0.7zM343.1 376.0h0.7v0.7h-0.7zM353.3 359.7h0.7v0.7h-0.7zM351.3 360.7h0.7v0.7h-0.7zM347.1 369.7h0.7v0.7h-0.7zM346.5 369.3h0.7v0.7h-0.7zM361.8 359.5h0.7v0.7h-0.7zM356.4 348.2h0.7v0.7h-0.7zM349.8 369.3h0.7v0.7h-0.7zM344.1 370.0h0.7v0.7h-0.7zM350.1 369.5h0.7v0.7h-0.7zM346.5 364.1h0.7v0.7h-0.7zM350.3 364.6h0.7v0.7h-0.7zM349.2 367.6h0.7v0.7h-0.7zM344.8 367.0h0.7v0.7h-0.7zM347.8 364.8h0.7v0.7h-0.7zM357.0 352.0h0.7v0.7h-0.7zM349.4 368.6h0.7v0.7h-0.7zM340.2 374.6h0.7v0.7h-0.7zM352.3 362.8h0.7v0.7h-0.7zM347.8 365.1h0.7v0.7h-0.7zM337.7 376.7h0.7v0.7h-0.7zM342.6 370.6h0.7v0.7h-0.7zM352.3 348.6h0.7v0.7h-0.7zM353.8 356.8h0.7v0.7h-0.7zM358.1 351.1h0.7v0.7h-0.7zM360.4 349.2h0.7v0.7h-0.7zM352.3 360.7h0.7v0.7h-0.7zM346.2 342.5h0.7v0.7h-0.7zM350.3 365.1h0.7v0.7h-0.7zM349.0 373.5h0.7v0.7h-0.7zM346.1 359.9h0.7v0.7h-0.7zM348.7 366.1h0.7v0.7h-0.7zM346.7 355.7h0.7v0.7h-0.7zM339.1 376.9h0.7v0.7h-0.7zM353.5 350.5h0.7v0.7h-0.7zM345.0 369.2h0.7v0.7h-0.7zM348.2 358.8h0.7v0.7h-0.7zM343.9 357.9h0.7v0.7h-0.7zM341.7 375.6h0.7v0.7h-0.7zM346.1 367.6h0.7v0.7h-0.7zM364.9 351.9h0.7v0.7h-0.7zM353.0 355.6h0.7v0.7h-0.7zM341.9 375.3h0.7v0.7h-0.7zM341.8 377.4h0.7v0.7h-0.7zM362.9 361.8h0.7v0.7h-0.7zM349.4 367.3h0.7v0.7h-0.7zM350.6 364.1h0.7v0.7h-0.7zM352.4 356.6h0.7v0.7h-0.7zM351.2 347.6h0.7v0.7h-0.7zM348.9 369.2h0.7v0.7h-0.7zM343.3 375.5h0.7v0.7h-0.7zM358.7 354.1h0.7v0.7h-0.7zM339.3 371.5h0.7v0.7h-0.7zM357.6 356.7h0.7v0.7h-0.7zM349.9 374.7h0.7v0.7h-0.7zM338.2 371.2h0.7v0.7h-0.7zM354.9 361.4h0.7v0.7h-0.7zM366.6 359.4h0.7v0.7h-0.7zM345.9 371.4h0.7v0.7h-0.7zM357.7 348.8h0.7v0.7h-0.7zM342.4 366.2h0.7v0.7h-0.7zM358.5 354.3h0.7v0.7h-0.7zM354.7 347.7h0.7v0.7h-0.7zM357.5 346.5h0.7v0.7h-0.7zM342.7 370.6h0.7v0.7h-0.7zM350.4 370.6h0.7v0.7h-0.7zM343.3 373.3h0.7v0.7h-0.7zM356.1 350.9h0.7v0.7h-0.7zM360.1 348.1h0.7v0.7h-0.7zM351.6 353.1h0.7v0.7h-0.7zM343.3 367.0h0.7v0.7h-0.7zM345.5 365.5h0.7v0.7h-0.7zM355.9 368.7h0.7v0.7h-0.7zM344.0 375.0h0.7v0.7h-0.7zM342.0 375.8h0.7v0.7h-0.7zM342.7 371.0h0.7v0.7h-0.7zM339.8 377.8h0.7v0.7h-0.7zM356.2 355.4h0.7v0.7h-0.7zM338.1 373.2h0.7v0.7h-0.7zM358.1 364.8h0.7v0.7h-0.7zM342.2 377.0h0.7v0.7h-0.7zM351.6 352.4h0.7v0.7h-0.7zM356.6 362.1h0.7v0.7h-0.7zM345.9 371.2h0.7v0.7h-0.7zM352.3 366.5h0.7v0.7h-0.7zM342.1 379.3h0.7v0.7h-0.7zM343.1 376.7h0.7v0.7h-0.7zM352.4 362.1h0.7v0.7h-0.7zM346.5 370.1h0.7v0.7h-0.7zM346.6 361.8h0.7v0.7h-0.7zM351.0 359.9h0.7v0.7h-0.7zM348.7 369.0h0.7v0.7h-0.7zM346.0 368.3h0.7v0.7h-0.7zM354.6 359.5h0.7v0.7h-0.7zM351.5 354.3h0.7v0.7h-0.7zM343.7 375.2h0.7v0.7h-0.7zM364.7 351.2h0.7v0.7h-0.7zM358.4 356.8h0.7v0.7h-0.7zM353.8 358.1h0.7v0.7h-0.7zM353.1 357.2h0.7v0.7h-0.7zM340.2 377.5h0.7v0.7h-0.7zM347.1 366.9h0.7v0.7h-0.7zM355.9 363.4h0.7v0.7h-0.7zM348.5 371.3h0.7v0.7h-0.7zM348.4 365.4h0.7v0.7h-0.7zM349.3 369.0h0.7v0.7h-0.7zM351.4 368.7h0.7v0.7h-0.7zM346.9 361.4h0.7v0.7h-0.7zM354.0 353.2h0.7v0.7h-0.7zM347.9 370.4h0.7v0.7h-0.7zM355.3 355.8h0.7v0.7h-0.7zM345.1 369.6h0.7v0.7h-0.7zM343.9 367.3h0.7v0.7h-0.7zM340.0 367.9h0.7v0.7h-0.7zM354.9 353.8h0.7v0.7h-0.7zM352.5 372.6h0.7v0.7h-0.7zM358.1 351.6h0.7v0.7h-0.7zM342.9 352.0h0.7v0.7h-0.7zM362.1 356.6h0.7v0.7h-0.7zM352.3 347.5h0.7v0.7h-0.7zM343.6 377.3h0.7v0.7h-0.7zM339.6 374.0h0.7v0.7h-0.7zM341.4 377.5h0.7v0.7h-0.7zM340.8 379.0h0.7v0.7h-0.7zM342.8 371.7h0.7v0.7h-0.7zM337.3 375.6h0.7v0.7h-0.7zM345.4 375.8h0.7v0.7h-0.7zM353.3 371.1h0.7v0.7h-0.7zM360.8 349.9h0.7v0.7h-0.7zM348.5 365.4h0.7v0.7h-0.7zM349.1 371.0h0.7v0.7h-0.7zM341.1 378.9h0.7v0.7h-0.7zM352.3 360.2h0.7v0.7h-0.7zM352.3 351.6h0.7v0.7h-0.7zM342.0 378.5h0.7v0.7h-0.7zM345.5 366.8h0.7v0.7h-0.7zM353.4 349.9h0.7v0.7h-0.7zM357.4 348.9h0.7v0.7h-0.7zM357.6 366.1h0.7v0.7h-0.7zM342.6 368.7h0.7v0.7h-0.7zM341.1 379.0h0.7v0.7h-0.7zM346.5 362.3h0.7v0.7h-0.7zM351.7 368.5h0.7v0.7h-0.7zM346.4 367.5h0.7v0.7h-0.7zM340.7 377.0h0.7v0.7h-0.7zM346.9 364.9h0.7v0.7h-0.7zM345.6 365.5h0.7v0.7h-0.7zM346.9 376.1h0.7v0.7h-0.7zM352.9 353.9h0.7v0.7h-0.7zM356.2 357.9h0.7v0.7h-0.7zM335.7 372.7h0.7v0.7h-0.7zM338.2 376.6h0.7v0.7h-0.7zM343.6 373.9h0.7v0.7h-0.7zM342.2 378.0h0.7v0.7h-0.7zM348.0 362.7h0.7v0.7h-0.7zM343.5 372.7h0.7v0.7h-0.7zM352.0 362.8h0.7v0.7h-0.7zM358.0 353.5h0.7v0.7h-0.7zM338.6 374.1h0.7v0.7h-0.7zM347.9 366.8h0.7v0.7h-0.7zM348.4 364.4h0.7v0.7h-0.7zM341.9 376.1h0.7v0.7h-0.7zM357.6 350.2h0.7v0.7h-0.7zM351.3 355.8h0.7v0.7h-0.7zM349.0 358.9h0.7v0.7h-0.7zM346.2 376.0h0.7v0.7h-0.7zM357.3 354.5h0.7v0.7h-0.7zM346.8 367.6h0.7v0.7h-0.7zM342.3 363.6h0.7v0.7h-0.7zM344.5 367.8h0.7v0.7h-0.7zM344.4 374.0h0.7v0.7h-0.7zM344.4 370.2h0.7v0.7h-0.7zM347.0 368.3h0.7v0.7h-0.7zM357.2 347.0h0.7v0.7h-0.7zM348.8 369.7h0.7v0.7h-0.7zM346.9 368.0h0.7v0.7h-0.7zM350.6 353.7h0.7v0.7h-0.7zM345.2 377.3h0.7v0.7h-0.7zM344.9 367.3h0.7v0.7h-0.7zM340.5 377.9h0.7v0.7h-0.7zM361.3 349.9h0.7v0.7h-0.7zM346.0 358.0h0.7v0.7h-0.7zM351.9 354.5h0.7v0.7h-0.7zM363.0 355.2h0.7v0.7h-0.7zM341.5 377.7h0.7v0.7h-0.7zM354.1 356.1h0.7v0.7h-0.7zM358.0 360.7h0.7v0.7h-0.7zM355.8 354.1h0.7v0.7h-0.7zM343.4 356.2h0.7v0.7h-0.7zM350.0 358.7h0.7v0.7h-0.7zM346.9 371.3h0.7v0.7h-0.7zM344.5 377.4h0.7v0.7h-0.7zM344.0 376.7h0.7v0.7h-0.7zM354.2 357.4h0.7v0.7h-0.7zM351.1 362.4h0.7v0.7h-0.7zM363.4 354.6h0.7v0.7h-0.7zM349.4 368.8h0.7v0.7h-0.7zM351.0 362.0h0.7v0.7h-0.7zM339.2 377.6h0.7v0.7h-0.7zM360.9 352.7h0.7v0.7h-0.7zM348.1 372.8h0.7v0.7h-0.7zM343.7 377.6h0.7v0.7h-0.7zM347.2 370.3h0.7v0.7h-0.7zM336.5 374.9h0.7v0.7h-0.7zM339.1 377.9h0.7v0.7h-0.7zM342.6 372.8h0.7v0.7h-0.7zM343.8 356.6h0.7v0.7h-0.7zM342.7 367.1h0.7v0.7h-0.7zM341.5 377.1h0.7v0.7h-0.7zM346.8 375.8h0.7v0.7h-0.7zM355.5 349.7h0.7v0.7h-0.7zM349.7 362.5h0.7v0.7h-0.7zM346.0 376.3h0.7v0.7h-0.7zM335.9 375.8h0.7v0.7h-0.7zM352.0 350.9h0.7v0.7h-0.7zM343.4 379.0h0.7v0.7h-0.7zM347.2 371.0h0.7v0.7h-0.7zM358.7 360.0h0.7v0.7h-0.7zM359.8 353.0h0.7v0.7h-0.7zM350.6 355.5h0.7v0.7h-0.7zM348.8 372.5h0.7v0.7h-0.7zM342.4 376.0h0.7v0.7h-0.7zM345.2 375.2h0.7v0.7h-0.7zM345.3 361.4h0.7v0.7h-0.7zM349.6 360.5h0.7v0.7h-0.7zM339.2 378.0h0.7v0.7h-0.7zM356.8 347.4h0.7v0.7h-0.7zM347.0 362.7h0.7v0.7h-0.7zM350.6 360.7h0.7v0.7h-0.7zM355.5 345.6h0.7v0.7h-0.7zM349.3 371.9h0.7v0.7h-0.7zM338.8 376.6h0.7v0.7h-0.7zM360.2 350.0h0.7v0.7h-0.7zM343.5 373.2h0.7v0.7h-0.7zM356.4 359.6h0.7v0.7h-0.7zM346.5 373.3h0.7v0.7h-0.7zM353.6 352.6h0.7v0.7h-0.7zM362.2 349.9h0.7v0.7h-0.7zM350.8 368.3h0.7v0.7h-0.7zM352.3 355.7h0.7v0.7h-0.7zM352.5 357.8h0.7v0.7h-0.7zM349.7 361.6h0.7v0.7h-0.7zM356.5 347.0h0.7v0.7h-0.7zM340.8 375.7h0.7v0.7h-0.7zM350.2 369.5h0.7v0.7h-0.7zM345.3 373.4h0.7v0.7h-0.7zM350.3 354.5h0.7v0.7h-0.7zM354.5 353.5h0.7v0.7h-0.7zM360.9 348.3h0.7v0.7h-0.7zM347.5 360.1h0.7v0.7h-0.7zM353.5 357.1h0.7v0.7h-0.7zM352.0 369.1h0.7v0.7h-0.7zM362.9 357.2h0.7v0.7h-0.7zM337.7 376.1h0.7v0.7h-0.7zM357.8 357.7h0.7v0.7h-0.7zM354.8 351.1h0.7v0.7h-0.7zM354.9 355.7h0.7v0.7h-0.7zM351.4 367.0h0.7v0.7h-0.7zM354.3 357.4h0.7v0.7h-0.7zM344.8 359.5h0.7v0.7h-0.7zM344.9 352.2h0.7v0.7h-0.7zM348.7 350.4h0.7v0.7h-0.7zM351.6 362.2h0.7v0.7h-0.7zM363.5 352.6h0.7v0.7h-0.7zM338.5 373.1h0.7v0.7h-0.7zM338.6 371.6h0.7v0.7h-0.7zM353.5 360.3h0.7v0.7h-0.7zM352.6 371.3h0.7v0.7h-0.7zM356.4 365.4h0.7v0.7h-0.7zM354.2 346.5h0.7v0.7h-0.7zM346.9 375.2h0.7v0.7h-0.7zM356.9 354.9h0.7v0.7h-0.7zM340.8 379.0h0.7v0.7h-0.7zM359.7 356.4h0.7v0.7h-0.7zM357.1 345.9h0.7v0.7h-0.7zM352.1 348.9h0.7v0.7h-0.7zM345.8 374.2h0.7v0.7h-0.7zM355.0 359.1h0.7v0.7h-0.7zM343.8 366.0h0.7v0.7h-0.7zM344.7 362.9h0.7v0.7h-0.7zM346.5 365.7h0.7v0.7h-0.7zM343.0 370.0h0.7v0.7h-0.7zM358.8 350.4h0.7v0.7h-0.7zM343.4 369.5h0.7v0.7h-0.7zM339.5 374.3h0.7v0.7h-0.7zM352.7 347.7h0.7v0.7h-0.7zM342.9 361.9h0.7v0.7h-0.7zM346.5 378.1h0.7v0.7h-0.7zM344.1 378.2h0.7v0.7h-0.7zM350.7 352.8h0.7v0.7h-0.7zM344.9 370.6h0.7v0.7h-0.7zM358.3 355.5h0.7v0.7h-0.7zM348.8 361.0h0.7v0.7h-0.7zM341.9 370.9h0.7v0.7h-0.7zM353.7 350.9h0.7v0.7h-0.7zM337.7 376.7h0.7v0.7h-0.7zM352.7 358.5h0.7v0.7h-0.7zM342.9 378.8h0.7v0.7h-0.7zM353.1 361.4h0.7v0.7h-0.7zM338.2 376.2h0.7v0.7h-0.7zM350.8 357.7h0.7v0.7h-0.7zM364.8 352.5h0.7v0.7h-0.7zM352.3 369.0h0.7v0.7h-0.7zM351.8 359.6h0.7v0.7h-0.7zM358.4 354.5h0.7v0.7h-0.7zM356.2 361.2h0.7v0.7h-0.7zM353.2 351.2h0.7v0.7h-0.7zM354.3 349.5h0.7v0.7h-0.7zM346.2 362.5h0.7v0.7h-0.7zM345.2 365.1h0.7v0.7h-0.7zM344.5 371.0h0.7v0.7h-0.7zM356.2 352.8h0.7v0.7h-0.7zM359.0 364.0h0.7v0.7h-0.7zM338.4 374.8h0.7v0.7h-0.7zM347.5 363.6h0.7v0.7h-0.7zM363.2 354.6h0.7v0.7h-0.7zM368.1 352.8h0.7v0.7h-0.7zM359.3 354.1h0.7v0.7h-0.7zM341.9 374.2h0.7v0.7h-0.7zM338.6 362.9h0.7v0.7h-0.7zM354.7 362.0h0.7v0.7h-0.7zM356.7 365.6h0.7v0.7h-0.7zM340.8 367.1h0.7v0.7h-0.7zM342.0 370.7h0.7v0.7h-0.7zM352.4 360.5h0.7v0.7h-0.7zM355.6 365.0h0.7v0.7h-0.7zM351.6 364.6h0.7v0.7h-0.7zM341.6 374.3h0.7v0.7h-0.7zM343.1 369.6h0.7v0.7h-0.7zM352.1 364.7h0.7v0.7h-0.7zM350.3 372.0h0.7v0.7h-0.7zM349.9 363.8h0.7v0.7h-0.7zM340.6 371.6h0.7v0.7h-0.7zM338.6 377.6h0.7v0.7h-0.7zM344.6 376.4h0.7v0.7h-0.7zM340.1 377.3h0.7v0.7h-0.7zM359.0 349.5h0.7v0.7h-0.7zM338.4 377.3h0.7v0.7h-0.7zM339.2 374.3h0.7v0.7h-0.7zM336.6 368.3h0.7v0.7h-0.7zM341.1 378.7h0.7v0.7h-0.7zM343.9 378.2h0.7v0.7h-0.7zM340.8 376.6h0.7v0.7h-0.7zM351.9 363.0h0.7v0.7h-0.7zM356.8 349.6h0.7v0.7h-0.7zM352.5 357.4h0.7v0.7h-0.7zM344.4 369.7h0.7v0.7h-0.7zM354.0 358.7h0.7v0.7h-0.7zM338.8 376.7h0.7v0.7h-0.7zM354.0 355.4h0.7v0.7h-0.7zM359.9 359.0h0.7v0.7h-0.7zM352.4 363.5h0.7v0.7h-0.7zM342.1 376.2h0.7v0.7h-0.7zM347.1 370.9h0.7v0.7h-0.7zM338.5 377.5h0.7v0.7h-0.7zM356.4 345.9h0.7v0.7h-0.7zM349.9 357.4h0.7v0.7h-0.7zM347.9 373.9h0.7v0.7h-0.7zM346.4 356.5h0.7v0.7h-0.7zM344.6 375.9h0.7v0.7h-0.7zM342.4 364.7h0.7v0.7h-0.7zM347.3 372.8h0.7v0.7h-0.7zM341.7 369.5h0.7v0.7h-0.7zM352.7 361.0h0.7v0.7h-0.7zM351.1 371.6h0.7v0.7h-0.7zM346.4 366.7h0.7v0.7h-0.7zM348.1 353.5h0.7v0.7h-0.7zM349.6 363.3h0.7v0.7h-0.7zM344.5 364.5h0.7v0.7h-0.7zM336.8 376.6h0.7v0.7h-0.7zM347.8 376.2h0.7v0.7h-0.7zM350.6 361.5h0.7v0.7h-0.7zM339.2 362.7h0.7v0.7h-0.7zM351.3 361.7h0.7v0.7h-0.7zM347.2 374.8h0.7v0.7h-0.7zM342.0 365.9h0.7v0.7h-0.7zM341.5 370.0h0.7v0.7h-0.7zM341.7 369.5h0.7v0.7h-0.7zM345.8 372.0h0.7v0.7h-0.7zM352.4 363.6h0.7v0.7h-0.7zM360.6 356.3h0.7v0.7h-0.7zM346.9 356.6h0.7v0.7h-0.7zM340.2 375.3h0.7v0.7h-0.7zM340.9 376.9h0.7v0.7h-0.7zM341.0 374.4h0.7v0.7h-0.7zM339.7 376.1h0.7v0.7h-0.7zM342.6 376.7h0.7v0.7h-0.7zM349.3 360.8h0.7v0.7h-0.7zM358.8 354.3h0.7v0.7h-0.7zM349.3 367.1h0.7v0.7h-0.7zM348.6 362.9h0.7v0.7h-0.7zM345.3 373.3h0.7v0.7h-0.7zM340.1 378.5h0.7v0.7h-0.7zM357.2 369.4h0.7v0.7h-0.7zM343.2 378.7h0.7v0.7h-0.7zM343.3 361.8h0.7v0.7h-0.7zM349.6 368.2h0.7v0.7h-0.7zM344.9 372.6h0.7v0.7h-0.7zM358.2 352.0h0.7v0.7h-0.7zM350.0 346.2h0.7v0.7h-0.7zM351.3 355.7h0.7v0.7h-0.7zM358.4 349.7h0.7v0.7h-0.7zM340.2 378.4h0.7v0.7h-0.7zM341.5 375.1h0.7v0.7h-0.7zM347.9 373.7h0.7v0.7h-0.7zM344.5 373.4h0.7v0.7h-0.7zM347.7 377.3h0.7v0.7h-0.7zM350.0 354.6h0.7v0.7h-0.7zM339.1 370.0h0.7v0.7h-0.7zM356.1 350.6h0.7v0.7h-0.7zM352.7 368.0h0.7v0.7h-0.7zM344.0 378.7h0.7v0.7h-0.7zM340.3 374.8h0.7v0.7h-0.7zM348.5 362.4h0.7v0.7h-0.7zM347.0 372.3h0.7v0.7h-0.7zM340.1 375.9h0.7v0.7h-0.7zM360.2 351.7h0.7v0.7h-0.7zM343.6 368.4h0.7v0.7h-0.7zM342.2 369.6h0.7v0.7h-0.7zM342.5 371.8h0.7v0.7h-0.7zM349.7 363.7h0.7v0.7h-0.7zM337.8 375.5h0.7v0.7h-0.7zM347.3 366.8h0.7v0.7h-0.7zM348.5 360.1h0.7v0.7h-0.7zM358.0 351.4h0.7v0.7h-0.7zM345.4 374.9h0.7v0.7h-0.7zM351.5 368.5h0.7v0.7h-0.7zM348.1 374.7h0.7v0.7h-0.7zM346.9 354.5h0.7v0.7h-0.7zM353.4 346.8h0.7v0.7h-0.7zM337.4 370.6h0.7v0.7h-0.7zM356.2 360.5h0.7v0.7h-0.7zM346.9 361.1h0.7v0.7h-0.7zM350.4 373.0h0.7v0.7h-0.7zM355.4 350.9h0.7v0.7h-0.7zM362.1 363.7h0.7v0.7h-0.7zM356.8 349.3h0.7v0.7h-0.7zM339.1 377.3h0.7v0.7h-0.7zM347.3 373.1h0.7v0.7h-0.7zM358.6 352.3h0.7v0.7h-0.7zM341.1 377.4h0.7v0.7h-0.7zM354.4 357.6h0.7v0.7h-0.7zM348.9 362.8h0.7v0.7h-0.7zM346.9 359.2h0.7v0.7h-0.7zM358.8 350.6h0.7v0.7h-0.7zM341.3 365.7h0.7v0.7h-0.7zM342.4 378.3h0.7v0.7h-0.7zM347.9 365.1h0.7v0.7h-0.7zM355.1 369.8h0.7v0.7h-0.7zM356.6 353.9h0.7v0.7h-0.7zM340.2 378.4h0.7v0.7h-0.7zM365.1 353.3h0.7v0.7h-0.7zM344.2 363.3h0.7v0.7h-0.7zM341.4 378.7h0.7v0.7h-0.7zM345.2 369.6h0.7v0.7h-0.7zM356.9 349.0h0.7v0.7h-0.7zM357.4 351.3h0.7v0.7h-0.7zM340.8 373.0h0.7v0.7h-0.7zM342.0 370.8h0.7v0.7h-0.7zM352.1 355.8h0.7v0.7h-0.7zM351.3 348.1h0.7v0.7h-0.7zM342.5 365.5h0.7v0.7h-0.7zM354.9 356.3h0.7v0.7h-0.7zM342.8 363.8h0.7v0.7h-0.7zM342.2 375.8h0.7v0.7h-0.7zM358.0 350.6h0.7v0.7h-0.7zM353.9 361.2h0.7v0.7h-0.7zM346.5 365.9h0.7v0.7h-0.7zM345.8 364.9h0.7v0.7h-0.7zM357.3 350.5h0.7v0.7h-0.7zM357.4 362.3h0.7v0.7h-0.7zM353.0 362.0h0.7v0.7h-0.7zM347.4 358.8h0.7v0.7h-0.7zM346.7 363.3h0.7v0.7h-0.7zM338.0 369.6h0.7v0.7h-0.7zM347.3 366.8h0.7v0.7h-0.7zM344.5 365.3h0.7v0.7h-0.7zM347.0 351.2h0.7v0.7h-0.7zM346.2 364.9h0.7v0.7h-0.7zM346.2 356.2h0.7v0.7h-0.7zM343.7 360.5h0.7v0.7h-0.7zM343.5 374.3h0.7v0.7h-0.7zM344.4 378.6h0.7v0.7h-0.7zM353.7 352.4h0.7v0.7h-0.7zM354.8 355.1h0.7v0.7h-0.7zM342.1 367.6h0.7v0.7h-0.7zM344.7 371.6h0.7v0.7h-0.7zM342.7 376.3h0.7v0.7h-0.7zM354.6 351.8h0.7v0.7h-0.7zM346.6 368.6h0.7v0.7h-0.7zM356.7 348.7h0.7v0.7h-0.7zM357.5 360.6h0.7v0.7h-0.7zM337.4 376.0h0.7v0.7h-0.7zM343.2 371.2h0.7v0.7h-0.7zM341.8 360.8h0.7v0.7h-0.7zM343.3 379.1h0.7v0.7h-0.7zM353.1 357.7h0.7v0.7h-0.7zM343.4 370.8h0.7v0.7h-0.7zM346.8 354.3h0.7v0.7h-0.7zM338.8 377.1h0.7v0.7h-0.7zM352.5 350.2h0.7v0.7h-0.7zM347.1 373.2h0.7v0.7h-0.7zM342.5 371.0h0.7v0.7h-0.7zM346.7 376.4h0.7v0.7h-0.7zM357.7 358.8h0.7v0.7h-0.7zM347.3 363.2h0.7v0.7h-0.7zM355.9 364.5h0.7v0.7h-0.7zM362.3 350.6h0.7v0.7h-0.7zM351.6 363.0h0.7v0.7h-0.7zM346.7 373.1h0.7v0.7h-0.7zM356.1 355.8h0.7v0.7h-0.7zM354.5 367.3h0.7v0.7h-0.7zM341.4 367.7h0.7v0.7h-0.7zM345.0 370.7h0.7v0.7h-0.7zM341.5 376.3h0.7v0.7h-0.7zM358.5 350.4h0.7v0.7h-0.7zM340.0 377.0h0.7v0.7h-0.7zM341.7 375.2h0.7v0.7h-0.7zM338.8 373.3h0.7v0.7h-0.7zM342.0 376.9h0.7v0.7h-0.7zM354.8 363.7h0.7v0.7h-0.7zM333.8 377.7h0.7v0.7h-0.7zM353.4 365.0h0.7v0.7h-0.7zM338.9 352.2h0.7v0.7h-0.7zM330.2 344.0h0.7v0.7h-0.7zM351.4 346.9h0.7v0.7h-0.7zM354.6 375.3h0.7v0.7h-0.7zM359.6 378.0h0.7v0.7h-0.7zM357.2 360.9h0.7v0.7h-0.7zM333.7 347.1h0.7v0.7h-0.7zM371.2 367.9h0.7v0.7h-0.7zM366.9 361.3h0.7v0.7h-0.7zM354.9 365.9h0.7v0.7h-0.7zM332.6 362.4h0.7v0.7h-0.7zM330.0 362.7h0.7v0.7h-0.7zM358.0 370.5h0.7v0.7h-0.7zM376.2 361.0h0.7v0.7h-0.7zM377.3 375.5h0.7v0.7h-0.7zM343.8 356.5h0.7v0.7h-0.7zM339.9 344.4h0.7v0.7h-0.7zM350.0 361.3h0.7v0.7h-0.7zM362.1 376.0h0.7v0.7h-0.7zM371.7 364.0h0.7v0.7h-0.7zM350.7 375.3h0.7v0.7h-0.7zM347.2 347.4h0.7v0.7h-0.7zM340.0 351.0h0.7v0.7h-0.7z" fill="#6f80f4" opacity="0.55"/>
<path d="M366.1 368.4h0.75v0.75h-0.75zM363.1 378.2h0.75v0.75h-0.75zM365.3 377.6h0.75v0.75h-0.75zM367.7 369.2h0.75v0.75h-0.75zM371.3 368.1h0.75v0.75h-0.75zM360.9 374.1h0.75v0.75h-0.75zM364.6 377.2h0.75v0.75h-0.75zM373.3 376.7h0.75v0.75h-0.75zM365.6 374.6h0.75v0.75h-0.75zM368.4 375.7h0.75v0.75h-0.75zM362.2 377.6h0.75v0.75h-0.75zM363.7 375.4h0.75v0.75h-0.75zM359.9 373.8h0.75v0.75h-0.75zM360.8 372.9h0.75v0.75h-0.75zM352.4 370.2h0.75v0.75h-0.75zM360.8 377.6h0.75v0.75h-0.75zM358.6 375.6h0.75v0.75h-0.75zM358.6 377.1h0.75v0.75h-0.75zM373.0 372.9h0.75v0.75h-0.75zM365.5 372.0h0.75v0.75h-0.75zM362.6 368.1h0.75v0.75h-0.75zM370.0 378.4h0.75v0.75h-0.75zM370.2 365.9h0.75v0.75h-0.75zM362.9 374.4h0.75v0.75h-0.75zM365.7 373.8h0.75v0.75h-0.75zM352.1 373.0h0.75v0.75h-0.75zM361.5 376.4h0.75v0.75h-0.75zM371.1 377.7h0.75v0.75h-0.75zM363.1 375.5h0.75v0.75h-0.75zM368.4 368.1h0.75v0.75h-0.75zM358.7 370.6h0.75v0.75h-0.75zM370.5 377.5h0.75v0.75h-0.75zM359.5 371.0h0.75v0.75h-0.75zM363.1 376.7h0.75v0.75h-0.75zM369.9 375.4h0.75v0.75h-0.75zM359.4 373.9h0.75v0.75h-0.75zM358.9 373.4h0.75v0.75h-0.75zM350.2 369.6h0.75v0.75h-0.75zM369.2 377.6h0.75v0.75h-0.75zM365.2 366.9h0.75v0.75h-0.75zM367.2 375.7h0.75v0.75h-0.75zM363.6 368.3h0.75v0.75h-0.75zM361.6 379.1h0.75v0.75h-0.75zM362.0 374.2h0.75v0.75h-0.75zM362.2 373.7h0.75v0.75h-0.75zM365.2 363.8h0.75v0.75h-0.75zM364.4 368.6h0.75v0.75h-0.75zM375.1 378.2h0.75v0.75h-0.75zM371.8 368.3h0.75v0.75h-0.75zM365.2 371.8h0.75v0.75h-0.75zM363.2 377.0h0.75v0.75h-0.75zM362.8 371.7h0.75v0.75h-0.75zM369.7 370.4h0.75v0.75h-0.75zM363.9 365.8h0.75v0.75h-0.75zM365.4 375.6h0.75v0.75h-0.75zM363.4 372.3h0.75v0.75h-0.75zM366.8 373.4h0.75v0.75h-0.75zM367.3 366.4h0.75v0.75h-0.75zM361.5 375.9h0.75v0.75h-0.75zM361.8 371.9h0.75v0.75h-0.75zM363.0 376.2h0.75v0.75h-0.75zM365.0 378.8h0.75v0.75h-0.75zM363.3 372.6h0.75v0.75h-0.75zM372.0 376.6h0.75v0.75h-0.75zM356.1 374.0h0.75v0.75h-0.75zM364.3 368.5h0.75v0.75h-0.75zM365.3 378.1h0.75v0.75h-0.75zM357.7 374.4h0.75v0.75h-0.75zM363.1 374.8h0.75v0.75h-0.75zM357.8 375.2h0.75v0.75h-0.75zM365.1 372.7h0.75v0.75h-0.75zM363.7 372.9h0.75v0.75h-0.75zM358.0 370.5h0.75v0.75h-0.75zM367.5 372.2h0.75v0.75h-0.75zM364.9 371.5h0.75v0.75h-0.75zM361.7 369.7h0.75v0.75h-0.75zM368.4 373.5h0.75v0.75h-0.75zM358.9 376.0h0.75v0.75h-0.75zM369.4 373.0h0.75v0.75h-0.75zM364.3 378.6h0.75v0.75h-0.75zM359.3 374.6h0.75v0.75h-0.75zM370.3 368.4h0.75v0.75h-0.75zM361.4 374.7h0.75v0.75h-0.75zM363.2 368.6h0.75v0.75h-0.75zM362.7 369.6h0.75v0.75h-0.75zM365.1 370.6h0.75v0.75h-0.75zM367.3 369.8h0.75v0.75h-0.75zM364.2 373.7h0.75v0.75h-0.75zM368.5 369.1h0.75v0.75h-0.75zM362.7 370.8h0.75v0.75h-0.75zM371.0 374.9h0.75v0.75h-0.75zM362.4 373.0h0.75v0.75h-0.75zM366.0 372.3h0.75v0.75h-0.75zM372.1 366.9h0.75v0.75h-0.75zM374.9 378.5h0.75v0.75h-0.75zM369.7 371.9h0.75v0.75h-0.75zM357.4 375.9h0.75v0.75h-0.75zM373.7 375.7h0.75v0.75h-0.75zM372.2 373.6h0.75v0.75h-0.75zM370.6 374.3h0.75v0.75h-0.75zM364.0 368.9h0.75v0.75h-0.75zM363.1 375.3h0.75v0.75h-0.75zM368.8 374.8h0.75v0.75h-0.75zM366.3 375.8h0.75v0.75h-0.75zM367.9 374.8h0.75v0.75h-0.75zM363.7 374.1h0.75v0.75h-0.75zM364.9 370.2h0.75v0.75h-0.75zM366.5 368.6h0.75v0.75h-0.75zM364.0 367.4h0.75v0.75h-0.75zM361.0 377.4h0.75v0.75h-0.75zM374.6 374.9h0.75v0.75h-0.75zM363.5 365.2h0.75v0.75h-0.75zM363.9 374.9h0.75v0.75h-0.75zM365.2 370.9h0.75v0.75h-0.75zM368.6 370.9h0.75v0.75h-0.75zM366.7 372.1h0.75v0.75h-0.75zM372.4 375.9h0.75v0.75h-0.75zM360.7 376.1h0.75v0.75h-0.75zM367.1 375.6h0.75v0.75h-0.75zM371.0 369.2h0.75v0.75h-0.75zM367.0 374.2h0.75v0.75h-0.75zM368.0 374.7h0.75v0.75h-0.75zM364.3 377.5h0.75v0.75h-0.75zM370.5 375.2h0.75v0.75h-0.75zM359.6 368.6h0.75v0.75h-0.75zM358.8 373.9h0.75v0.75h-0.75zM367.8 375.6h0.75v0.75h-0.75zM366.2 372.6h0.75v0.75h-0.75zM355.1 371.1h0.75v0.75h-0.75zM368.3 372.1h0.75v0.75h-0.75zM370.9 373.1h0.75v0.75h-0.75zM371.5 378.0h0.75v0.75h-0.75zM351.9 371.1h0.75v0.75h-0.75zM372.0 378.1h0.75v0.75h-0.75zM365.0 374.1h0.75v0.75h-0.75zM370.0 378.4h0.75v0.75h-0.75zM372.1 370.2h0.75v0.75h-0.75zM362.7 370.0h0.75v0.75h-0.75zM363.9 376.5h0.75v0.75h-0.75zM367.9 374.1h0.75v0.75h-0.75zM368.8 371.6h0.75v0.75h-0.75zM368.1 372.6h0.75v0.75h-0.75zM364.2 371.7h0.75v0.75h-0.75zM353.2 368.5h0.75v0.75h-0.75zM364.9 367.8h0.75v0.75h-0.75zM360.7 367.5h0.75v0.75h-0.75zM355.4 373.5h0.75v0.75h-0.75zM364.2 367.6h0.75v0.75h-0.75zM367.1 372.8h0.75v0.75h-0.75zM358.6 375.1h0.75v0.75h-0.75zM368.6 367.1h0.75v0.75h-0.75zM363.3 376.9h0.75v0.75h-0.75zM365.1 363.6h0.75v0.75h-0.75zM366.1 373.6h0.75v0.75h-0.75zM366.3 372.4h0.75v0.75h-0.75zM369.4 374.9h0.75v0.75h-0.75zM376.3 373.7h0.75v0.75h-0.75zM367.4 373.4h0.75v0.75h-0.75zM360.7 373.2h0.75v0.75h-0.75zM365.5 366.0h0.75v0.75h-0.75zM376.8 374.3h0.75v0.75h-0.75zM369.7 374.6h0.75v0.75h-0.75zM365.6 375.4h0.75v0.75h-0.75zM373.1 376.3h0.75v0.75h-0.75zM363.5 376.2h0.75v0.75h-0.75zM369.2 370.9h0.75v0.75h-0.75zM367.0 374.8h0.75v0.75h-0.75zM364.4 374.2h0.75v0.75h-0.75zM363.1 370.3h0.75v0.75h-0.75zM363.3 369.7h0.75v0.75h-0.75zM365.5 368.4h0.75v0.75h-0.75zM370.0 377.2h0.75v0.75h-0.75zM358.1 372.1h0.75v0.75h-0.75zM372.1 375.2h0.75v0.75h-0.75zM373.8 371.2h0.75v0.75h-0.75zM363.8 371.2h0.75v0.75h-0.75zM360.5 369.2h0.75v0.75h-0.75zM365.1 374.5h0.75v0.75h-0.75zM355.2 374.6h0.75v0.75h-0.75zM364.4 370.5h0.75v0.75h-0.75zM357.4 377.7h0.75v0.75h-0.75zM370.3 371.7h0.75v0.75h-0.75zM361.7 373.4h0.75v0.75h-0.75zM360.9 366.5h0.75v0.75h-0.75zM360.8 378.9h0.75v0.75h-0.75zM358.1 373.2h0.75v0.75h-0.75zM364.6 368.1h0.75v0.75h-0.75zM368.6 373.9h0.75v0.75h-0.75zM371.0 376.7h0.75v0.75h-0.75zM352.7 375.8h0.75v0.75h-0.75zM366.5 374.6h0.75v0.75h-0.75zM369.6 373.4h0.75v0.75h-0.75zM367.2 370.1h0.75v0.75h-0.75zM361.5 372.8h0.75v0.75h-0.75zM363.9 378.9h0.75v0.75h-0.75zM371.6 373.2h0.75v0.75h-0.75zM369.4 372.1h0.75v0.75h-0.75zM358.6 373.5h0.75v0.75h-0.75zM364.7 375.5h0.75v0.75h-0.75zM365.7 373.0h0.75v0.75h-0.75zM366.1 377.3h0.75v0.75h-0.75zM366.8 373.6h0.75v0.75h-0.75zM371.5 368.5h0.75v0.75h-0.75zM353.7 371.7h0.75v0.75h-0.75zM369.0 367.9h0.75v0.75h-0.75zM360.3 377.5h0.75v0.75h-0.75zM363.0 376.0h0.75v0.75h-0.75zM365.6 373.3h0.75v0.75h-0.75zM367.9 367.2h0.75v0.75h-0.75zM368.2 370.1h0.75v0.75h-0.75zM363.5 368.6h0.75v0.75h-0.75zM364.8 377.1h0.75v0.75h-0.75zM372.4 377.5h0.75v0.75h-0.75zM365.1 372.2h0.75v0.75h-0.75zM363.4 367.8h0.75v0.75h-0.75zM371.0 373.0h0.75v0.75h-0.75zM365.2 373.4h0.75v0.75h-0.75zM366.2 367.4h0.75v0.75h-0.75zM365.9 374.5h0.75v0.75h-0.75zM358.5 376.9h0.75v0.75h-0.75zM362.7 377.6h0.75v0.75h-0.75zM364.3 371.1h0.75v0.75h-0.75zM363.1 372.2h0.75v0.75h-0.75zM367.2 369.3h0.75v0.75h-0.75zM369.6 370.9h0.75v0.75h-0.75zM361.3 375.5h0.75v0.75h-0.75zM357.7 375.5h0.75v0.75h-0.75zM365.2 373.8h0.75v0.75h-0.75zM363.9 371.5h0.75v0.75h-0.75zM368.0 375.9h0.75v0.75h-0.75zM362.1 373.6h0.75v0.75h-0.75zM369.0 371.6h0.75v0.75h-0.75zM368.8 371.7h0.75v0.75h-0.75zM374.6 373.8h0.75v0.75h-0.75zM364.5 373.8h0.75v0.75h-0.75zM359.3 368.9h0.75v0.75h-0.75zM359.6 376.4h0.75v0.75h-0.75zM369.3 373.1h0.75v0.75h-0.75zM355.1 365.8h0.75v0.75h-0.75zM371.5 376.2h0.75v0.75h-0.75zM357.7 372.0h0.75v0.75h-0.75zM358.0 372.5h0.75v0.75h-0.75zM373.1 377.6h0.75v0.75h-0.75zM358.3 372.2h0.75v0.75h-0.75zM365.9 369.0h0.75v0.75h-0.75zM370.5 368.9h0.75v0.75h-0.75zM365.4 374.8h0.75v0.75h-0.75zM363.9 365.6h0.75v0.75h-0.75zM363.3 375.9h0.75v0.75h-0.75zM360.2 365.3h0.75v0.75h-0.75zM364.0 372.2h0.75v0.75h-0.75zM360.0 373.2h0.75v0.75h-0.75zM367.6 378.1h0.75v0.75h-0.75zM360.9 371.7h0.75v0.75h-0.75zM363.6 372.1h0.75v0.75h-0.75zM369.3 371.4h0.75v0.75h-0.75zM352.9 367.9h0.75v0.75h-0.75zM367.3 367.4h0.75v0.75h-0.75zM372.7 372.0h0.75v0.75h-0.75zM371.2 375.0h0.75v0.75h-0.75zM359.6 373.7h0.75v0.75h-0.75zM363.8 366.6h0.75v0.75h-0.75zM370.7 373.3h0.75v0.75h-0.75zM362.0 373.8h0.75v0.75h-0.75zM366.5 372.8h0.75v0.75h-0.75zM373.3 363.9h0.75v0.75h-0.75zM364.9 373.9h0.75v0.75h-0.75zM363.5 373.9h0.75v0.75h-0.75zM371.1 371.9h0.75v0.75h-0.75zM368.4 378.5h0.75v0.75h-0.75zM359.4 372.8h0.75v0.75h-0.75zM372.7 367.9h0.75v0.75h-0.75zM370.7 365.6h0.75v0.75h-0.75zM362.9 374.6h0.75v0.75h-0.75zM364.2 369.0h0.75v0.75h-0.75zM365.4 377.6h0.75v0.75h-0.75zM360.3 375.9h0.75v0.75h-0.75zM366.2 367.1h0.75v0.75h-0.75zM364.6 376.5h0.75v0.75h-0.75zM368.9 372.9h0.75v0.75h-0.75zM361.6 376.4h0.75v0.75h-0.75zM370.7 376.6h0.75v0.75h-0.75zM363.6 371.2h0.75v0.75h-0.75zM363.6 378.4h0.75v0.75h-0.75zM367.8 372.6h0.75v0.75h-0.75zM363.8 366.1h0.75v0.75h-0.75zM364.6 362.1h0.75v0.75h-0.75zM365.4 375.5h0.75v0.75h-0.75zM370.7 372.4h0.75v0.75h-0.75zM363.2 369.1h0.75v0.75h-0.75zM364.6 372.8h0.75v0.75h-0.75zM367.4 373.8h0.75v0.75h-0.75zM366.8 372.1h0.75v0.75h-0.75zM363.7 374.6h0.75v0.75h-0.75zM360.8 369.2h0.75v0.75h-0.75zM368.0 367.6h0.75v0.75h-0.75zM365.8 370.9h0.75v0.75h-0.75zM353.6 376.3h0.75v0.75h-0.75zM357.3 375.9h0.75v0.75h-0.75zM361.5 372.3h0.75v0.75h-0.75zM367.0 372.6h0.75v0.75h-0.75zM360.4 368.4h0.75v0.75h-0.75zM366.3 372.1h0.75v0.75h-0.75zM362.4 371.2h0.75v0.75h-0.75zM364.7 372.2h0.75v0.75h-0.75zM360.0 374.0h0.75v0.75h-0.75zM365.0 376.1h0.75v0.75h-0.75zM365.0 368.5h0.75v0.75h-0.75zM361.5 375.8h0.75v0.75h-0.75zM360.9 369.8h0.75v0.75h-0.75zM360.8 365.6h0.75v0.75h-0.75zM368.1 372.9h0.75v0.75h-0.75zM359.3 373.8h0.75v0.75h-0.75zM368.1 375.2h0.75v0.75h-0.75zM367.6 376.5h0.75v0.75h-0.75zM364.5 374.5h0.75v0.75h-0.75zM363.1 367.5h0.75v0.75h-0.75zM365.9 375.3h0.75v0.75h-0.75zM362.1 378.4h0.75v0.75h-0.75zM371.1 377.0h0.75v0.75h-0.75zM369.0 372.3h0.75v0.75h-0.75zM366.3 378.0h0.75v0.75h-0.75zM367.3 371.2h0.75v0.75h-0.75zM370.2 374.6h0.75v0.75h-0.75zM363.5 374.3h0.75v0.75h-0.75zM366.1 372.0h0.75v0.75h-0.75zM363.5 370.8h0.75v0.75h-0.75zM369.1 375.5h0.75v0.75h-0.75zM361.9 375.2h0.75v0.75h-0.75zM361.9 370.2h0.75v0.75h-0.75zM364.3 375.4h0.75v0.75h-0.75zM357.9 369.2h0.75v0.75h-0.75zM367.5 370.9h0.75v0.75h-0.75zM363.5 370.2h0.75v0.75h-0.75zM364.4 372.2h0.75v0.75h-0.75zM366.0 369.5h0.75v0.75h-0.75zM365.4 365.7h0.75v0.75h-0.75zM371.8 378.2h0.75v0.75h-0.75zM368.8 372.5h0.75v0.75h-0.75zM360.1 367.2h0.75v0.75h-0.75zM372.3 374.6h0.75v0.75h-0.75zM363.5 377.0h0.75v0.75h-0.75zM367.7 376.4h0.75v0.75h-0.75zM368.5 371.4h0.75v0.75h-0.75zM363.3 374.2h0.75v0.75h-0.75zM363.3 375.0h0.75v0.75h-0.75zM362.4 376.1h0.75v0.75h-0.75zM358.9 372.3h0.75v0.75h-0.75zM364.8 372.7h0.75v0.75h-0.75zM350.4 374.0h0.75v0.75h-0.75zM370.1 369.3h0.75v0.75h-0.75zM363.9 370.2h0.75v0.75h-0.75zM369.0 373.7h0.75v0.75h-0.75zM369.9 371.8h0.75v0.75h-0.75zM361.5 373.6h0.75v0.75h-0.75zM371.5 373.8h0.75v0.75h-0.75zM373.1 376.4h0.75v0.75h-0.75zM363.4 372.4h0.75v0.75h-0.75zM365.8 374.4h0.75v0.75h-0.75zM367.6 375.7h0.75v0.75h-0.75zM361.9 375.6h0.75v0.75h-0.75zM376.3 376.0h0.75v0.75h-0.75zM368.4 378.1h0.75v0.75h-0.75zM368.6 370.4h0.75v0.75h-0.75zM365.4 370.4h0.75v0.75h-0.75zM364.7 371.1h0.75v0.75h-0.75zM371.8 366.5h0.75v0.75h-0.75zM364.7 375.9h0.75v0.75h-0.75zM364.5 370.1h0.75v0.75h-0.75zM361.6 371.1h0.75v0.75h-0.75zM371.5 371.0h0.75v0.75h-0.75zM369.5 370.0h0.75v0.75h-0.75zM357.8 370.3h0.75v0.75h-0.75zM370.3 368.4h0.75v0.75h-0.75zM359.3 375.2h0.75v0.75h-0.75zM365.2 370.8h0.75v0.75h-0.75zM370.3 376.6h0.75v0.75h-0.75zM365.1 379.0h0.75v0.75h-0.75zM372.8 373.7h0.75v0.75h-0.75zM366.4 373.4h0.75v0.75h-0.75zM367.6 376.1h0.75v0.75h-0.75zM370.0 376.7h0.75v0.75h-0.75zM369.9 369.5h0.75v0.75h-0.75zM370.3 372.6h0.75v0.75h-0.75zM371.9 372.1h0.75v0.75h-0.75zM366.7 373.2h0.75v0.75h-0.75zM364.3 364.9h0.75v0.75h-0.75zM363.3 371.1h0.75v0.75h-0.75zM365.8 372.3h0.75v0.75h-0.75zM363.1 376.0h0.75v0.75h-0.75zM366.4 369.5h0.75v0.75h-0.75zM367.1 374.7h0.75v0.75h-0.75zM367.3 376.6h0.75v0.75h-0.75zM365.3 373.2h0.75v0.75h-0.75zM371.9 372.3h0.75v0.75h-0.75zM365.0 378.1h0.75v0.75h-0.75zM368.2 373.2h0.75v0.75h-0.75zM368.8 374.4h0.75v0.75h-0.75zM356.2 369.4h0.75v0.75h-0.75zM363.3 372.8h0.75v0.75h-0.75zM361.5 365.1h0.75v0.75h-0.75zM363.9 371.1h0.75v0.75h-0.75zM359.8 370.6h0.75v0.75h-0.75zM362.9 370.7h0.75v0.75h-0.75zM360.6 372.0h0.75v0.75h-0.75zM365.3 371.2h0.75v0.75h-0.75zM362.8 365.2h0.75v0.75h-0.75zM362.2 374.5h0.75v0.75h-0.75zM365.4 376.4h0.75v0.75h-0.75zM361.3 370.2h0.75v0.75h-0.75zM367.9 376.8h0.75v0.75h-0.75zM365.9 375.7h0.75v0.75h-0.75zM360.7 377.4h0.75v0.75h-0.75zM362.2 374.1h0.75v0.75h-0.75zM368.6 373.6h0.75v0.75h-0.75zM360.0 370.2h0.75v0.75h-0.75zM366.0 376.3h0.75v0.75h-0.75zM364.5 371.7h0.75v0.75h-0.75zM361.0 370.4h0.75v0.75h-0.75zM364.2 377.7h0.75v0.75h-0.75zM369.2 376.2h0.75v0.75h-0.75zM363.5 374.9h0.75v0.75h-0.75zM356.4 377.1h0.75v0.75h-0.75zM368.5 369.5h0.75v0.75h-0.75zM368.1 367.8h0.75v0.75h-0.75zM362.1 373.5h0.75v0.75h-0.75zM364.3 376.7h0.75v0.75h-0.75zM370.4 376.2h0.75v0.75h-0.75zM358.3 373.3h0.75v0.75h-0.75zM375.8 374.8h0.75v0.75h-0.75zM362.2 369.4h0.75v0.75h-0.75zM363.1 378.6h0.75v0.75h-0.75zM367.6 377.1h0.75v0.75h-0.75zM366.1 378.0h0.75v0.75h-0.75zM374.7 377.0h0.75v0.75h-0.75zM372.2 370.9h0.75v0.75h-0.75zM368.7 374.8h0.75v0.75h-0.75zM368.8 376.0h0.75v0.75h-0.75zM366.7 372.2h0.75v0.75h-0.75zM369.3 375.1h0.75v0.75h-0.75zM362.2 373.3h0.75v0.75h-0.75zM357.2 375.1h0.75v0.75h-0.75zM360.8 374.0h0.75v0.75h-0.75zM364.3 367.7h0.75v0.75h-0.75zM356.6 375.6h0.75v0.75h-0.75zM365.7 367.4h0.75v0.75h-0.75zM362.7 372.3h0.75v0.75h-0.75zM364.8 367.2h0.75v0.75h-0.75zM360.6 370.0h0.75v0.75h-0.75zM358.4 371.6h0.75v0.75h-0.75zM365.3 377.2h0.75v0.75h-0.75zM374.6 369.1h0.75v0.75h-0.75zM365.2 372.8h0.75v0.75h-0.75zM363.9 373.6h0.75v0.75h-0.75zM371.0 370.0h0.75v0.75h-0.75zM365.3 368.3h0.75v0.75h-0.75zM369.7 376.4h0.75v0.75h-0.75zM366.7 371.0h0.75v0.75h-0.75zM365.6 371.3h0.75v0.75h-0.75zM364.8 377.1h0.75v0.75h-0.75zM369.9 374.4h0.75v0.75h-0.75zM359.7 372.7h0.75v0.75h-0.75zM372.3 369.4h0.75v0.75h-0.75zM357.6 370.5h0.75v0.75h-0.75zM369.5 375.4h0.75v0.75h-0.75zM362.3 376.8h0.75v0.75h-0.75zM366.9 372.4h0.75v0.75h-0.75zM364.8 374.9h0.75v0.75h-0.75zM365.7 369.0h0.75v0.75h-0.75zM359.2 372.6h0.75v0.75h-0.75zM367.6 377.6h0.75v0.75h-0.75zM358.6 368.9h0.75v0.75h-0.75zM366.5 377.3h0.75v0.75h-0.75zM363.6 373.4h0.75v0.75h-0.75zM366.3 370.8h0.75v0.75h-0.75zM365.0 370.5h0.75v0.75h-0.75zM366.4 364.4h0.75v0.75h-0.75zM368.8 374.5h0.75v0.75h-0.75zM365.2 370.4h0.75v0.75h-0.75zM365.6 376.8h0.75v0.75h-0.75zM362.5 366.6h0.75v0.75h-0.75zM363.5 371.5h0.75v0.75h-0.75zM364.0 373.4h0.75v0.75h-0.75zM360.9 368.4h0.75v0.75h-0.75zM365.9 374.0h0.75v0.75h-0.75zM361.3 367.7h0.75v0.75h-0.75zM366.4 372.9h0.75v0.75h-0.75zM371.6 369.4h0.75v0.75h-0.75zM365.9 374.3h0.75v0.75h-0.75zM366.3 372.3h0.75v0.75h-0.75zM361.4 374.5h0.75v0.75h-0.75zM363.1 372.4h0.75v0.75h-0.75zM358.1 371.5h0.75v0.75h-0.75zM364.1 374.1h0.75v0.75h-0.75zM362.1 371.3h0.75v0.75h-0.75zM369.2 371.9h0.75v0.75h-0.75zM368.0 377.0h0.75v0.75h-0.75zM364.1 374.1h0.75v0.75h-0.75zM362.3 371.4h0.75v0.75h-0.75zM367.8 372.3h0.75v0.75h-0.75zM369.9 376.0h0.75v0.75h-0.75zM365.3 364.7h0.75v0.75h-0.75zM362.1 365.6h0.75v0.75h-0.75zM357.4 373.4h0.75v0.75h-0.75zM360.7 375.4h0.75v0.75h-0.75zM365.7 372.2h0.75v0.75h-0.75zM364.0 369.2h0.75v0.75h-0.75zM365.7 369.1h0.75v0.75h-0.75zM372.7 374.2h0.75v0.75h-0.75zM372.0 373.8h0.75v0.75h-0.75zM370.0 370.3h0.75v0.75h-0.75zM359.4 376.8h0.75v0.75h-0.75zM375.7 374.5h0.75v0.75h-0.75zM375.3 375.0h0.75v0.75h-0.75zM360.2 375.2h0.75v0.75h-0.75zM362.9 378.7h0.75v0.75h-0.75zM368.2 372.8h0.75v0.75h-0.75zM362.9 372.7h0.75v0.75h-0.75zM365.8 371.9h0.75v0.75h-0.75zM363.9 375.4h0.75v0.75h-0.75zM365.2 370.8h0.75v0.75h-0.75zM372.1 369.0h0.75v0.75h-0.75zM371.1 369.0h0.75v0.75h-0.75zM364.9 370.2h0.75v0.75h-0.75zM365.8 376.3h0.75v0.75h-0.75zM374.1 372.9h0.75v0.75h-0.75zM367.2 375.5h0.75v0.75h-0.75zM362.5 369.7h0.75v0.75h-0.75zM365.4 375.1h0.75v0.75h-0.75zM365.3 376.4h0.75v0.75h-0.75zM365.2 376.3h0.75v0.75h-0.75zM359.3 369.1h0.75v0.75h-0.75zM361.7 371.7h0.75v0.75h-0.75zM366.4 374.4h0.75v0.75h-0.75zM368.8 373.1h0.75v0.75h-0.75zM362.4 370.8h0.75v0.75h-0.75zM371.4 376.2h0.75v0.75h-0.75zM364.3 372.7h0.75v0.75h-0.75zM359.4 366.6h0.75v0.75h-0.75zM362.0 376.1h0.75v0.75h-0.75zM372.9 371.7h0.75v0.75h-0.75zM369.0 370.1h0.75v0.75h-0.75zM366.6 370.1h0.75v0.75h-0.75zM367.4 375.8h0.75v0.75h-0.75zM365.5 376.0h0.75v0.75h-0.75zM367.3 372.7h0.75v0.75h-0.75zM365.6 370.2h0.75v0.75h-0.75zM359.6 370.5h0.75v0.75h-0.75zM366.3 372.0h0.75v0.75h-0.75zM364.3 374.6h0.75v0.75h-0.75zM370.1 369.0h0.75v0.75h-0.75zM369.1 369.4h0.75v0.75h-0.75zM370.5 374.9h0.75v0.75h-0.75zM372.1 366.1h0.75v0.75h-0.75zM366.4 372.4h0.75v0.75h-0.75zM370.2 370.9h0.75v0.75h-0.75zM364.2 372.0h0.75v0.75h-0.75zM373.2 372.6h0.75v0.75h-0.75zM357.1 370.7h0.75v0.75h-0.75zM362.4 375.5h0.75v0.75h-0.75zM364.9 375.1h0.75v0.75h-0.75zM365.5 368.5h0.75v0.75h-0.75zM360.8 367.9h0.75v0.75h-0.75zM360.5 374.8h0.75v0.75h-0.75zM361.8 373.0h0.75v0.75h-0.75zM372.0 369.6h0.75v0.75h-0.75zM364.9 375.8h0.75v0.75h-0.75zM367.8 371.0h0.75v0.75h-0.75zM362.3 374.2h0.75v0.75h-0.75zM362.9 373.4h0.75v0.75h-0.75zM364.7 374.7h0.75v0.75h-0.75zM360.9 369.5h0.75v0.75h-0.75zM376.8 371.3h0.75v0.75h-0.75zM364.5 379.2h0.75v0.75h-0.75zM365.1 371.4h0.75v0.75h-0.75zM357.2 377.6h0.75v0.75h-0.75zM364.3 372.4h0.75v0.75h-0.75zM370.4 375.4h0.75v0.75h-0.75zM372.8 369.8h0.75v0.75h-0.75zM369.4 372.5h0.75v0.75h-0.75zM355.3 375.9h0.75v0.75h-0.75zM363.7 370.4h0.75v0.75h-0.75zM366.8 372.9h0.75v0.75h-0.75zM376.0 371.0h0.75v0.75h-0.75zM363.5 372.0h0.75v0.75h-0.75zM365.9 374.3h0.75v0.75h-0.75zM363.8 373.1h0.75v0.75h-0.75zM368.1 369.4h0.75v0.75h-0.75zM368.7 371.0h0.75v0.75h-0.75zM359.8 374.0h0.75v0.75h-0.75zM367.7 373.4h0.75v0.75h-0.75zM363.2 371.6h0.75v0.75h-0.75zM370.6 368.3h0.75v0.75h-0.75zM365.7 377.7h0.75v0.75h-0.75zM364.8 371.1h0.75v0.75h-0.75zM365.0 372.3h0.75v0.75h-0.75zM372.0 373.4h0.75v0.75h-0.75zM359.6 375.7h0.75v0.75h-0.75zM371.9 379.0h0.75v0.75h-0.75zM358.8 377.2h0.75v0.75h-0.75zM368.3 371.2h0.75v0.75h-0.75zM367.1 376.6h0.75v0.75h-0.75zM352.4 371.4h0.75v0.75h-0.75zM362.8 374.0h0.75v0.75h-0.75zM368.7 366.2h0.75v0.75h-0.75zM374.4 369.8h0.75v0.75h-0.75zM363.9 376.5h0.75v0.75h-0.75zM368.7 370.7h0.75v0.75h-0.75zM364.5 372.6h0.75v0.75h-0.75zM371.7 374.5h0.75v0.75h-0.75zM364.7 376.6h0.75v0.75h-0.75zM368.6 366.5h0.75v0.75h-0.75zM364.2 374.8h0.75v0.75h-0.75zM362.2 373.5h0.75v0.75h-0.75zM374.0 369.3h0.75v0.75h-0.75zM366.5 374.7h0.75v0.75h-0.75zM367.5 378.3h0.75v0.75h-0.75zM361.0 374.2h0.75v0.75h-0.75zM365.7 370.8h0.75v0.75h-0.75zM366.6 367.5h0.75v0.75h-0.75zM365.1 374.0h0.75v0.75h-0.75zM364.4 376.2h0.75v0.75h-0.75zM366.4 373.5h0.75v0.75h-0.75zM365.5 373.1h0.75v0.75h-0.75zM366.4 373.1h0.75v0.75h-0.75zM362.6 377.3h0.75v0.75h-0.75zM367.9 371.6h0.75v0.75h-0.75zM364.5 371.5h0.75v0.75h-0.75zM365.6 371.3h0.75v0.75h-0.75zM358.7 375.3h0.75v0.75h-0.75zM368.0 373.7h0.75v0.75h-0.75zM357.6 364.4h0.75v0.75h-0.75zM361.3 369.1h0.75v0.75h-0.75zM363.1 370.2h0.75v0.75h-0.75zM360.5 377.1h0.75v0.75h-0.75zM377.0 378.6h0.75v0.75h-0.75zM361.2 373.3h0.75v0.75h-0.75zM367.5 378.6h0.75v0.75h-0.75zM366.8 370.1h0.75v0.75h-0.75zM362.0 376.4h0.75v0.75h-0.75zM372.7 374.9h0.75v0.75h-0.75zM369.6 367.9h0.75v0.75h-0.75zM368.5 374.2h0.75v0.75h-0.75zM374.1 373.3h0.75v0.75h-0.75zM358.5 365.5h0.75v0.75h-0.75zM372.4 377.3h0.75v0.75h-0.75zM361.5 377.6h0.75v0.75h-0.75zM369.2 372.6h0.75v0.75h-0.75zM364.9 371.5h0.75v0.75h-0.75zM370.3 373.9h0.75v0.75h-0.75zM370.6 377.8h0.75v0.75h-0.75zM362.2 372.2h0.75v0.75h-0.75zM369.6 375.8h0.75v0.75h-0.75zM369.2 368.6h0.75v0.75h-0.75zM368.8 370.1h0.75v0.75h-0.75zM367.6 370.5h0.75v0.75h-0.75zM370.2 373.1h0.75v0.75h-0.75zM371.7 368.6h0.75v0.75h-0.75zM361.8 371.2h0.75v0.75h-0.75zM365.9 377.0h0.75v0.75h-0.75zM370.2 369.3h0.75v0.75h-0.75zM363.0 370.2h0.75v0.75h-0.75zM362.5 378.5h0.75v0.75h-0.75zM366.9 374.5h0.75v0.75h-0.75zM355.1 370.7h0.75v0.75h-0.75zM368.2 373.2h0.75v0.75h-0.75zM361.5 371.6h0.75v0.75h-0.75zM366.8 368.8h0.75v0.75h-0.75zM364.2 372.8h0.75v0.75h-0.75zM363.8 375.8h0.75v0.75h-0.75zM362.1 373.6h0.75v0.75h-0.75zM374.7 373.8h0.75v0.75h-0.75zM360.8 374.2h0.75v0.75h-0.75zM365.7 374.6h0.75v0.75h-0.75zM371.7 369.0h0.75v0.75h-0.75zM373.7 367.7h0.75v0.75h-0.75zM361.1 372.4h0.75v0.75h-0.75zM371.6 378.3h0.75v0.75h-0.75zM360.1 376.3h0.75v0.75h-0.75zM366.5 376.7h0.75v0.75h-0.75zM370.4 373.8h0.75v0.75h-0.75zM369.7 375.8h0.75v0.75h-0.75zM372.6 372.4h0.75v0.75h-0.75zM364.4 374.6h0.75v0.75h-0.75zM371.3 376.2h0.75v0.75h-0.75zM364.7 378.2h0.75v0.75h-0.75zM367.3 378.8h0.75v0.75h-0.75zM363.8 365.6h0.75v0.75h-0.75zM366.3 368.9h0.75v0.75h-0.75zM367.2 369.9h0.75v0.75h-0.75zM367.0 374.0h0.75v0.75h-0.75zM369.0 375.7h0.75v0.75h-0.75zM355.5 375.4h0.75v0.75h-0.75zM368.4 365.3h0.75v0.75h-0.75zM366.2 374.2h0.75v0.75h-0.75zM360.7 371.9h0.75v0.75h-0.75zM359.0 367.9h0.75v0.75h-0.75zM364.2 368.0h0.75v0.75h-0.75zM373.4 374.5h0.75v0.75h-0.75zM374.7 375.4h0.75v0.75h-0.75zM363.9 376.1h0.75v0.75h-0.75zM356.4 378.8h0.75v0.75h-0.75zM362.8 378.9h0.75v0.75h-0.75zM367.7 373.2h0.75v0.75h-0.75zM363.7 373.0h0.75v0.75h-0.75zM368.2 375.2h0.75v0.75h-0.75zM374.0 372.9h0.75v0.75h-0.75zM376.2 373.3h0.75v0.75h-0.75zM364.9 373.1h0.75v0.75h-0.75zM362.0 371.0h0.75v0.75h-0.75zM353.6 367.4h0.75v0.75h-0.75zM368.3 375.5h0.75v0.75h-0.75zM357.8 372.4h0.75v0.75h-0.75zM364.9 373.6h0.75v0.75h-0.75zM370.0 372.9h0.75v0.75h-0.75zM369.4 377.1h0.75v0.75h-0.75zM365.9 369.9h0.75v0.75h-0.75zM364.1 378.0h0.75v0.75h-0.75zM363.7 368.9h0.75v0.75h-0.75zM361.7 367.7h0.75v0.75h-0.75zM366.3 368.9h0.75v0.75h-0.75zM369.2 374.6h0.75v0.75h-0.75zM360.6 370.1h0.75v0.75h-0.75zM367.6 379.1h0.75v0.75h-0.75zM375.8 375.4h0.75v0.75h-0.75zM363.0 372.1h0.75v0.75h-0.75zM366.6 375.9h0.75v0.75h-0.75zM370.1 374.3h0.75v0.75h-0.75zM363.4 373.1h0.75v0.75h-0.75zM361.5 377.6h0.75v0.75h-0.75zM368.1 367.3h0.75v0.75h-0.75zM369.9 374.4h0.75v0.75h-0.75zM363.6 375.8h0.75v0.75h-0.75zM371.7 372.3h0.75v0.75h-0.75zM363.2 371.0h0.75v0.75h-0.75zM359.5 379.0h0.75v0.75h-0.75zM361.4 367.3h0.75v0.75h-0.75zM364.1 372.7h0.75v0.75h-0.75zM368.1 372.6h0.75v0.75h-0.75zM366.5 376.8h0.75v0.75h-0.75zM360.9 369.8h0.75v0.75h-0.75zM358.0 373.2h0.75v0.75h-0.75zM368.4 374.3h0.75v0.75h-0.75zM362.5 378.8h0.75v0.75h-0.75zM362.1 373.1h0.75v0.75h-0.75zM364.5 370.0h0.75v0.75h-0.75zM366.4 371.2h0.75v0.75h-0.75zM373.8 374.1h0.75v0.75h-0.75zM371.6 378.6h0.75v0.75h-0.75zM361.3 370.9h0.75v0.75h-0.75zM373.3 375.6h0.75v0.75h-0.75zM372.1 373.8h0.75v0.75h-0.75zM361.7 377.4h0.75v0.75h-0.75zM370.5 375.4h0.75v0.75h-0.75zM364.2 373.7h0.75v0.75h-0.75zM368.9 373.4h0.75v0.75h-0.75zM364.3 372.9h0.75v0.75h-0.75zM367.6 374.5h0.75v0.75h-0.75zM355.6 368.8h0.75v0.75h-0.75zM367.6 377.1h0.75v0.75h-0.75zM367.7 375.0h0.75v0.75h-0.75zM368.7 377.8h0.75v0.75h-0.75zM355.1 371.4h0.75v0.75h-0.75zM364.6 372.0h0.75v0.75h-0.75zM370.0 372.2h0.75v0.75h-0.75zM371.4 364.6h0.75v0.75h-0.75zM357.1 374.1h0.75v0.75h-0.75zM365.8 372.0h0.75v0.75h-0.75zM359.6 368.6h0.75v0.75h-0.75zM366.1 372.5h0.75v0.75h-0.75zM360.5 372.4h0.75v0.75h-0.75zM367.3 372.6h0.75v0.75h-0.75zM363.0 376.6h0.75v0.75h-0.75zM362.0 372.5h0.75v0.75h-0.75zM368.1 378.6h0.75v0.75h-0.75zM369.5 371.9h0.75v0.75h-0.75zM361.4 371.3h0.75v0.75h-0.75zM356.4 362.2h0.75v0.75h-0.75zM370.5 371.3h0.75v0.75h-0.75zM363.3 368.5h0.75v0.75h-0.75zM367.0 373.0h0.75v0.75h-0.75zM355.9 372.4h0.75v0.75h-0.75zM364.3 373.8h0.75v0.75h-0.75zM360.5 376.3h0.75v0.75h-0.75zM368.4 372.6h0.75v0.75h-0.75zM366.0 376.1h0.75v0.75h-0.75zM367.5 376.6h0.75v0.75h-0.75zM368.9 369.9h0.75v0.75h-0.75zM362.6 373.7h0.75v0.75h-0.75zM365.9 371.2h0.75v0.75h-0.75zM364.6 372.2h0.75v0.75h-0.75zM358.0 371.1h0.75v0.75h-0.75zM364.9 376.6h0.75v0.75h-0.75zM364.3 367.4h0.75v0.75h-0.75zM366.3 369.4h0.75v0.75h-0.75zM370.9 371.6h0.75v0.75h-0.75zM363.4 374.2h0.75v0.75h-0.75zM365.2 369.3h0.75v0.75h-0.75zM367.1 364.7h0.75v0.75h-0.75zM363.6 376.5h0.75v0.75h-0.75zM363.6 365.8h0.75v0.75h-0.75zM369.6 371.6h0.75v0.75h-0.75zM365.7 378.3h0.75v0.75h-0.75zM369.3 366.6h0.75v0.75h-0.75zM365.3 376.9h0.75v0.75h-0.75zM362.0 372.4h0.75v0.75h-0.75zM370.8 375.1h0.75v0.75h-0.75z" fill="#2a48f2" opacity="0.62"/>
<path d="M352.1 362.5h0.8v0.8h-0.8zM346.9 370.6h0.8v0.8h-0.8zM346.4 367.4h0.8v0.8h-0.8zM343.2 372.6h0.8v0.8h-0.8zM340.9 375.0h0.8v0.8h-0.8zM343.5 373.5h0.8v0.8h-0.8zM343.2 375.8h0.8v0.8h-0.8zM339.5 370.4h0.8v0.8h-0.8zM348.7 367.0h0.8v0.8h-0.8zM343.5 375.0h0.8v0.8h-0.8zM346.2 371.1h0.8v0.8h-0.8zM343.1 375.3h0.8v0.8h-0.8zM341.2 376.4h0.8v0.8h-0.8zM345.8 372.1h0.8v0.8h-0.8zM345.3 373.4h0.8v0.8h-0.8zM343.8 372.4h0.8v0.8h-0.8zM348.6 365.6h0.8v0.8h-0.8zM342.0 370.4h0.8v0.8h-0.8zM343.7 369.5h0.8v0.8h-0.8zM347.1 369.6h0.8v0.8h-0.8zM343.6 370.1h0.8v0.8h-0.8zM342.2 376.7h0.8v0.8h-0.8zM339.6 379.0h0.8v0.8h-0.8zM343.9 378.6h0.8v0.8h-0.8zM347.5 367.9h0.8v0.8h-0.8zM337.7 378.5h0.8v0.8h-0.8zM343.4 371.4h0.8v0.8h-0.8zM347.0 372.2h0.8v0.8h-0.8zM344.1 372.0h0.8v0.8h-0.8zM347.0 369.0h0.8v0.8h-0.8zM347.2 368.7h0.8v0.8h-0.8zM349.7 365.8h0.8v0.8h-0.8zM341.6 376.4h0.8v0.8h-0.8zM341.6 373.6h0.8v0.8h-0.8zM345.5 373.6h0.8v0.8h-0.8zM344.2 372.7h0.8v0.8h-0.8zM345.9 367.9h0.8v0.8h-0.8zM346.7 369.5h0.8v0.8h-0.8zM345.0 371.6h0.8v0.8h-0.8zM343.2 372.9h0.8v0.8h-0.8zM348.9 372.9h0.8v0.8h-0.8zM349.3 369.0h0.8v0.8h-0.8zM346.1 369.6h0.8v0.8h-0.8zM349.5 372.0h0.8v0.8h-0.8zM342.1 378.1h0.8v0.8h-0.8zM348.6 368.6h0.8v0.8h-0.8zM349.2 370.6h0.8v0.8h-0.8zM353.5 364.9h0.8v0.8h-0.8zM350.7 366.1h0.8v0.8h-0.8zM348.0 369.1h0.8v0.8h-0.8zM345.5 370.5h0.8v0.8h-0.8zM349.1 371.0h0.8v0.8h-0.8zM345.0 373.0h0.8v0.8h-0.8zM347.2 369.7h0.8v0.8h-0.8zM348.5 368.7h0.8v0.8h-0.8zM340.1 375.3h0.8v0.8h-0.8zM348.3 369.9h0.8v0.8h-0.8zM349.0 368.1h0.8v0.8h-0.8zM343.9 369.6h0.8v0.8h-0.8zM348.6 365.8h0.8v0.8h-0.8zM347.2 366.9h0.8v0.8h-0.8zM343.4 374.7h0.8v0.8h-0.8zM343.0 372.8h0.8v0.8h-0.8zM349.0 369.3h0.8v0.8h-0.8zM346.2 370.1h0.8v0.8h-0.8zM342.1 374.6h0.8v0.8h-0.8zM343.7 373.9h0.8v0.8h-0.8zM347.6 368.9h0.8v0.8h-0.8zM342.0 374.3h0.8v0.8h-0.8zM349.6 367.3h0.8v0.8h-0.8zM346.5 371.4h0.8v0.8h-0.8zM347.4 369.8h0.8v0.8h-0.8zM350.0 368.3h0.8v0.8h-0.8zM353.4 359.7h0.8v0.8h-0.8zM347.2 372.6h0.8v0.8h-0.8zM347.2 373.3h0.8v0.8h-0.8zM339.7 375.2h0.8v0.8h-0.8zM343.9 371.8h0.8v0.8h-0.8zM342.9 376.6h0.8v0.8h-0.8zM346.3 370.9h0.8v0.8h-0.8zM344.5 373.7h0.8v0.8h-0.8zM344.1 371.6h0.8v0.8h-0.8zM347.5 370.4h0.8v0.8h-0.8zM346.6 372.3h0.8v0.8h-0.8zM341.8 375.9h0.8v0.8h-0.8zM345.6 375.4h0.8v0.8h-0.8zM349.6 372.1h0.8v0.8h-0.8zM350.0 365.6h0.8v0.8h-0.8zM342.7 376.6h0.8v0.8h-0.8zM344.4 372.8h0.8v0.8h-0.8zM343.0 376.6h0.8v0.8h-0.8zM346.5 371.6h0.8v0.8h-0.8zM345.3 369.8h0.8v0.8h-0.8zM342.8 373.7h0.8v0.8h-0.8zM348.3 368.2h0.8v0.8h-0.8zM350.4 366.4h0.8v0.8h-0.8zM348.2 369.8h0.8v0.8h-0.8zM346.5 367.6h0.8v0.8h-0.8zM349.0 367.9h0.8v0.8h-0.8zM343.3 376.3h0.8v0.8h-0.8zM348.1 371.9h0.8v0.8h-0.8zM348.2 369.5h0.8v0.8h-0.8zM351.0 367.0h0.8v0.8h-0.8zM348.4 371.4h0.8v0.8h-0.8zM343.7 376.0h0.8v0.8h-0.8zM344.3 370.8h0.8v0.8h-0.8zM347.0 370.9h0.8v0.8h-0.8zM351.8 366.3h0.8v0.8h-0.8zM337.6 375.6h0.8v0.8h-0.8zM344.9 372.0h0.8v0.8h-0.8zM340.5 373.8h0.8v0.8h-0.8zM343.3 371.4h0.8v0.8h-0.8zM344.5 375.5h0.8v0.8h-0.8zM345.3 370.2h0.8v0.8h-0.8zM341.7 375.9h0.8v0.8h-0.8zM350.3 364.9h0.8v0.8h-0.8zM350.0 364.7h0.8v0.8h-0.8zM345.7 373.4h0.8v0.8h-0.8zM343.1 374.9h0.8v0.8h-0.8zM342.2 377.8h0.8v0.8h-0.8zM348.3 366.9h0.8v0.8h-0.8zM345.5 370.8h0.8v0.8h-0.8zM348.4 370.4h0.8v0.8h-0.8zM346.9 370.6h0.8v0.8h-0.8zM351.0 361.4h0.8v0.8h-0.8zM343.9 372.6h0.8v0.8h-0.8zM345.7 373.4h0.8v0.8h-0.8zM341.4 373.1h0.8v0.8h-0.8zM342.6 376.7h0.8v0.8h-0.8zM349.4 369.1h0.8v0.8h-0.8zM349.9 365.4h0.8v0.8h-0.8zM349.4 368.8h0.8v0.8h-0.8zM344.0 371.7h0.8v0.8h-0.8zM347.4 367.9h0.8v0.8h-0.8zM343.3 372.0h0.8v0.8h-0.8zM350.9 365.3h0.8v0.8h-0.8zM343.6 373.5h0.8v0.8h-0.8zM344.9 372.9h0.8v0.8h-0.8zM338.4 376.9h0.8v0.8h-0.8zM348.4 371.1h0.8v0.8h-0.8zM342.5 375.9h0.8v0.8h-0.8zM340.6 371.6h0.8v0.8h-0.8zM343.1 371.9h0.8v0.8h-0.8zM347.9 368.4h0.8v0.8h-0.8zM343.5 370.5h0.8v0.8h-0.8zM343.4 369.3h0.8v0.8h-0.8zM347.9 372.5h0.8v0.8h-0.8zM342.9 377.5h0.8v0.8h-0.8zM349.6 366.4h0.8v0.8h-0.8zM349.0 367.8h0.8v0.8h-0.8zM341.2 371.6h0.8v0.8h-0.8zM340.0 374.3h0.8v0.8h-0.8zM353.2 363.2h0.8v0.8h-0.8zM343.2 371.1h0.8v0.8h-0.8zM349.6 364.4h0.8v0.8h-0.8zM351.3 367.3h0.8v0.8h-0.8zM344.8 370.9h0.8v0.8h-0.8zM343.6 370.7h0.8v0.8h-0.8zM349.5 371.1h0.8v0.8h-0.8zM349.5 369.6h0.8v0.8h-0.8zM343.7 374.9h0.8v0.8h-0.8zM341.6 375.3h0.8v0.8h-0.8zM350.7 371.7h0.8v0.8h-0.8zM345.7 371.7h0.8v0.8h-0.8zM339.8 379.3h0.8v0.8h-0.8zM340.7 373.7h0.8v0.8h-0.8zM341.0 377.7h0.8v0.8h-0.8zM345.1 374.2h0.8v0.8h-0.8zM344.7 372.8h0.8v0.8h-0.8zM350.9 367.1h0.8v0.8h-0.8zM349.6 370.5h0.8v0.8h-0.8zM344.9 370.0h0.8v0.8h-0.8zM340.8 373.1h0.8v0.8h-0.8zM346.1 370.2h0.8v0.8h-0.8zM348.1 370.8h0.8v0.8h-0.8zM343.2 375.2h0.8v0.8h-0.8zM349.5 367.2h0.8v0.8h-0.8zM348.1 368.2h0.8v0.8h-0.8zM342.2 375.2h0.8v0.8h-0.8zM345.6 375.4h0.8v0.8h-0.8zM341.8 376.7h0.8v0.8h-0.8zM346.3 370.4h0.8v0.8h-0.8zM345.7 369.7h0.8v0.8h-0.8zM340.1 374.3h0.8v0.8h-0.8zM342.6 373.1h0.8v0.8h-0.8zM345.7 370.6h0.8v0.8h-0.8zM342.4 373.6h0.8v0.8h-0.8zM338.9 378.7h0.8v0.8h-0.8zM345.1 369.0h0.8v0.8h-0.8zM345.5 373.6h0.8v0.8h-0.8zM343.5 374.8h0.8v0.8h-0.8zM347.4 376.3h0.8v0.8h-0.8zM351.2 367.7h0.8v0.8h-0.8zM344.2 375.2h0.8v0.8h-0.8zM345.4 372.9h0.8v0.8h-0.8zM343.9 374.3h0.8v0.8h-0.8zM343.4 375.2h0.8v0.8h-0.8zM349.5 363.9h0.8v0.8h-0.8zM342.0 377.5h0.8v0.8h-0.8zM347.5 368.5h0.8v0.8h-0.8zM347.8 370.1h0.8v0.8h-0.8zM348.9 371.2h0.8v0.8h-0.8zM344.3 375.1h0.8v0.8h-0.8zM345.2 370.4h0.8v0.8h-0.8zM345.4 368.6h0.8v0.8h-0.8zM342.3 378.9h0.8v0.8h-0.8zM344.4 378.1h0.8v0.8h-0.8zM348.1 367.4h0.8v0.8h-0.8zM339.5 372.7h0.8v0.8h-0.8zM343.1 370.4h0.8v0.8h-0.8zM348.5 364.3h0.8v0.8h-0.8zM342.1 368.7h0.8v0.8h-0.8zM346.1 374.7h0.8v0.8h-0.8zM342.9 372.7h0.8v0.8h-0.8zM344.4 374.2h0.8v0.8h-0.8zM348.0 368.3h0.8v0.8h-0.8zM351.3 370.5h0.8v0.8h-0.8zM346.2 371.5h0.8v0.8h-0.8zM344.7 374.9h0.8v0.8h-0.8zM350.0 364.2h0.8v0.8h-0.8zM344.3 370.5h0.8v0.8h-0.8zM343.0 374.4h0.8v0.8h-0.8zM346.0 369.2h0.8v0.8h-0.8zM346.3 374.6h0.8v0.8h-0.8zM347.9 370.7h0.8v0.8h-0.8zM346.5 370.2h0.8v0.8h-0.8zM347.4 370.8h0.8v0.8h-0.8zM346.8 373.0h0.8v0.8h-0.8zM346.6 372.9h0.8v0.8h-0.8zM346.5 372.6h0.8v0.8h-0.8zM342.5 373.9h0.8v0.8h-0.8zM343.5 377.8h0.8v0.8h-0.8zM347.3 370.2h0.8v0.8h-0.8zM346.4 368.7h0.8v0.8h-0.8zM345.1 371.0h0.8v0.8h-0.8zM339.1 378.8h0.8v0.8h-0.8zM344.7 376.9h0.8v0.8h-0.8zM342.2 374.1h0.8v0.8h-0.8zM348.6 368.1h0.8v0.8h-0.8zM341.5 377.3h0.8v0.8h-0.8zM345.4 376.8h0.8v0.8h-0.8zM341.0 375.1h0.8v0.8h-0.8zM351.3 364.6h0.8v0.8h-0.8zM342.8 376.0h0.8v0.8h-0.8zM344.4 373.0h0.8v0.8h-0.8zM355.5 364.0h0.8v0.8h-0.8zM352.4 367.3h0.8v0.8h-0.8zM339.7 373.2h0.8v0.8h-0.8zM348.3 369.5h0.8v0.8h-0.8zM345.4 371.6h0.8v0.8h-0.8zM348.4 369.7h0.8v0.8h-0.8zM346.9 371.4h0.8v0.8h-0.8zM344.3 372.3h0.8v0.8h-0.8zM349.6 366.3h0.8v0.8h-0.8zM352.5 364.8h0.8v0.8h-0.8zM347.1 372.9h0.8v0.8h-0.8zM343.6 373.6h0.8v0.8h-0.8zM344.4 373.2h0.8v0.8h-0.8zM350.2 371.4h0.8v0.8h-0.8zM345.8 368.8h0.8v0.8h-0.8zM340.3 373.0h0.8v0.8h-0.8zM348.9 370.0h0.8v0.8h-0.8zM347.0 371.0h0.8v0.8h-0.8zM347.7 370.3h0.8v0.8h-0.8zM347.8 369.7h0.8v0.8h-0.8zM343.6 376.8h0.8v0.8h-0.8zM347.8 365.2h0.8v0.8h-0.8zM343.2 371.6h0.8v0.8h-0.8zM346.7 369.7h0.8v0.8h-0.8zM351.3 367.5h0.8v0.8h-0.8zM343.3 373.2h0.8v0.8h-0.8zM344.4 374.8h0.8v0.8h-0.8zM343.1 376.0h0.8v0.8h-0.8zM342.5 378.6h0.8v0.8h-0.8zM345.5 368.9h0.8v0.8h-0.8zM343.1 375.1h0.8v0.8h-0.8zM342.7 367.8h0.8v0.8h-0.8zM348.0 372.7h0.8v0.8h-0.8zM342.2 372.1h0.8v0.8h-0.8zM349.6 367.5h0.8v0.8h-0.8zM346.9 371.8h0.8v0.8h-0.8zM340.5 375.9h0.8v0.8h-0.8zM340.2 374.9h0.8v0.8h-0.8zM343.0 372.0h0.8v0.8h-0.8zM351.1 366.2h0.8v0.8h-0.8zM346.1 367.1h0.8v0.8h-0.8zM344.5 372.6h0.8v0.8h-0.8zM346.5 371.8h0.8v0.8h-0.8zM341.6 373.9h0.8v0.8h-0.8zM351.2 370.5h0.8v0.8h-0.8zM351.8 363.7h0.8v0.8h-0.8zM343.2 375.2h0.8v0.8h-0.8zM349.2 371.9h0.8v0.8h-0.8zM343.7 372.0h0.8v0.8h-0.8zM347.9 367.2h0.8v0.8h-0.8zM343.4 375.9h0.8v0.8h-0.8zM343.4 371.5h0.8v0.8h-0.8zM344.0 372.5h0.8v0.8h-0.8zM343.7 372.0h0.8v0.8h-0.8zM346.8 369.3h0.8v0.8h-0.8zM345.0 375.4h0.8v0.8h-0.8zM343.5 376.4h0.8v0.8h-0.8zM346.9 369.4h0.8v0.8h-0.8zM344.2 369.5h0.8v0.8h-0.8zM344.9 369.9h0.8v0.8h-0.8zM343.1 375.5h0.8v0.8h-0.8zM343.3 374.9h0.8v0.8h-0.8zM348.1 371.4h0.8v0.8h-0.8zM348.0 371.5h0.8v0.8h-0.8zM342.5 374.4h0.8v0.8h-0.8zM348.9 370.6h0.8v0.8h-0.8zM346.2 369.6h0.8v0.8h-0.8zM340.7 374.9h0.8v0.8h-0.8zM347.8 366.7h0.8v0.8h-0.8zM345.5 373.5h0.8v0.8h-0.8zM345.9 369.5h0.8v0.8h-0.8zM351.9 364.5h0.8v0.8h-0.8zM347.4 371.7h0.8v0.8h-0.8zM345.4 373.9h0.8v0.8h-0.8zM343.8 371.5h0.8v0.8h-0.8zM343.0 376.0h0.8v0.8h-0.8zM345.5 371.4h0.8v0.8h-0.8zM343.7 373.4h0.8v0.8h-0.8zM349.3 370.0h0.8v0.8h-0.8zM345.0 373.2h0.8v0.8h-0.8zM337.9 377.6h0.8v0.8h-0.8zM342.0 373.6h0.8v0.8h-0.8zM345.1 367.2h0.8v0.8h-0.8zM347.8 370.8h0.8v0.8h-0.8zM351.9 363.1h0.8v0.8h-0.8zM348.7 371.7h0.8v0.8h-0.8zM347.3 367.4h0.8v0.8h-0.8zM342.8 372.0h0.8v0.8h-0.8zM346.5 372.4h0.8v0.8h-0.8zM350.4 367.3h0.8v0.8h-0.8zM349.5 369.6h0.8v0.8h-0.8zM343.8 375.8h0.8v0.8h-0.8zM348.3 368.0h0.8v0.8h-0.8zM342.7 375.7h0.8v0.8h-0.8zM346.8 372.0h0.8v0.8h-0.8zM339.3 378.3h0.8v0.8h-0.8zM353.2 365.4h0.8v0.8h-0.8zM344.6 372.2h0.8v0.8h-0.8zM343.3 371.9h0.8v0.8h-0.8zM344.0 373.6h0.8v0.8h-0.8zM341.6 376.4h0.8v0.8h-0.8zM344.7 369.6h0.8v0.8h-0.8zM342.0 371.9h0.8v0.8h-0.8zM345.9 372.0h0.8v0.8h-0.8zM343.9 373.9h0.8v0.8h-0.8zM348.0 370.5h0.8v0.8h-0.8zM340.8 376.6h0.8v0.8h-0.8zM338.2 375.1h0.8v0.8h-0.8zM349.5 368.8h0.8v0.8h-0.8zM350.3 367.8h0.8v0.8h-0.8zM344.2 374.1h0.8v0.8h-0.8zM345.6 375.5h0.8v0.8h-0.8zM344.7 374.8h0.8v0.8h-0.8zM348.5 366.8h0.8v0.8h-0.8zM351.0 367.8h0.8v0.8h-0.8zM339.8 374.8h0.8v0.8h-0.8zM347.6 367.6h0.8v0.8h-0.8zM346.1 371.0h0.8v0.8h-0.8zM344.5 377.6h0.8v0.8h-0.8zM350.2 366.4h0.8v0.8h-0.8zM350.4 365.9h0.8v0.8h-0.8zM345.9 370.6h0.8v0.8h-0.8zM340.8 376.5h0.8v0.8h-0.8zM343.0 376.0h0.8v0.8h-0.8zM345.2 370.7h0.8v0.8h-0.8zM349.9 367.4h0.8v0.8h-0.8zM350.8 364.6h0.8v0.8h-0.8zM343.3 372.6h0.8v0.8h-0.8zM346.0 370.8h0.8v0.8h-0.8zM347.8 373.6h0.8v0.8h-0.8zM347.2 368.3h0.8v0.8h-0.8zM346.4 370.1h0.8v0.8h-0.8zM344.2 372.8h0.8v0.8h-0.8zM346.5 372.3h0.8v0.8h-0.8zM348.7 368.1h0.8v0.8h-0.8zM342.9 375.0h0.8v0.8h-0.8zM344.5 372.3h0.8v0.8h-0.8zM341.5 376.3h0.8v0.8h-0.8zM348.7 369.9h0.8v0.8h-0.8zM342.9 375.7h0.8v0.8h-0.8zM349.2 366.9h0.8v0.8h-0.8zM342.0 375.8h0.8v0.8h-0.8zM345.1 368.8h0.8v0.8h-0.8zM349.0 370.4h0.8v0.8h-0.8zM348.3 370.1h0.8v0.8h-0.8zM350.5 366.3h0.8v0.8h-0.8zM349.6 366.4h0.8v0.8h-0.8zM342.9 374.1h0.8v0.8h-0.8zM342.7 376.3h0.8v0.8h-0.8zM343.8 375.0h0.8v0.8h-0.8zM348.5 372.4h0.8v0.8h-0.8zM350.4 364.7h0.8v0.8h-0.8zM344.7 372.4h0.8v0.8h-0.8zM346.0 376.2h0.8v0.8h-0.8zM349.1 367.0h0.8v0.8h-0.8zM340.2 376.4h0.8v0.8h-0.8zM347.6 373.5h0.8v0.8h-0.8zM343.5 378.4h0.8v0.8h-0.8zM341.5 377.7h0.8v0.8h-0.8zM341.2 375.8h0.8v0.8h-0.8zM344.2 370.7h0.8v0.8h-0.8zM343.5 370.5h0.8v0.8h-0.8zM346.8 370.0h0.8v0.8h-0.8zM340.8 375.3h0.8v0.8h-0.8zM348.3 368.0h0.8v0.8h-0.8zM339.9 375.4h0.8v0.8h-0.8zM343.3 372.1h0.8v0.8h-0.8zM345.2 369.9h0.8v0.8h-0.8zM349.6 369.7h0.8v0.8h-0.8zM342.5 373.3h0.8v0.8h-0.8zM345.4 369.6h0.8v0.8h-0.8zM348.1 367.1h0.8v0.8h-0.8zM342.9 377.3h0.8v0.8h-0.8zM344.3 368.1h0.8v0.8h-0.8zM341.5 373.1h0.8v0.8h-0.8zM345.0 373.0h0.8v0.8h-0.8zM344.2 373.8h0.8v0.8h-0.8zM347.8 368.2h0.8v0.8h-0.8zM340.0 375.6h0.8v0.8h-0.8zM350.1 370.5h0.8v0.8h-0.8zM345.3 373.0h0.8v0.8h-0.8zM342.1 374.3h0.8v0.8h-0.8zM347.8 367.8h0.8v0.8h-0.8zM346.1 371.4h0.8v0.8h-0.8zM349.3 367.8h0.8v0.8h-0.8zM344.8 371.8h0.8v0.8h-0.8zM345.1 375.1h0.8v0.8h-0.8zM350.4 362.5h0.8v0.8h-0.8zM347.4 367.1h0.8v0.8h-0.8zM343.1 373.9h0.8v0.8h-0.8zM343.5 373.2h0.8v0.8h-0.8zM345.9 376.2h0.8v0.8h-0.8zM339.9 376.6h0.8v0.8h-0.8zM343.2 375.1h0.8v0.8h-0.8zM341.3 376.8h0.8v0.8h-0.8zM348.2 373.6h0.8v0.8h-0.8zM347.3 369.5h0.8v0.8h-0.8zM348.1 373.5h0.8v0.8h-0.8zM344.2 371.6h0.8v0.8h-0.8zM343.0 373.9h0.8v0.8h-0.8zM347.0 367.6h0.8v0.8h-0.8zM343.6 374.1h0.8v0.8h-0.8zM343.4 376.2h0.8v0.8h-0.8zM344.8 374.0h0.8v0.8h-0.8zM348.8 371.5h0.8v0.8h-0.8zM349.9 364.6h0.8v0.8h-0.8zM339.7 375.5h0.8v0.8h-0.8zM347.5 370.7h0.8v0.8h-0.8zM345.3 371.9h0.8v0.8h-0.8zM351.1 367.1h0.8v0.8h-0.8zM346.9 371.7h0.8v0.8h-0.8zM342.4 379.0h0.8v0.8h-0.8zM352.0 364.3h0.8v0.8h-0.8zM345.7 374.9h0.8v0.8h-0.8zM344.0 373.9h0.8v0.8h-0.8zM347.1 369.5h0.8v0.8h-0.8zM345.3 367.4h0.8v0.8h-0.8zM347.4 370.2h0.8v0.8h-0.8zM344.3 373.4h0.8v0.8h-0.8zM345.4 369.1h0.8v0.8h-0.8zM345.3 370.2h0.8v0.8h-0.8zM352.3 364.4h0.8v0.8h-0.8zM347.6 371.9h0.8v0.8h-0.8zM349.5 369.3h0.8v0.8h-0.8zM343.6 374.5h0.8v0.8h-0.8zM348.5 368.8h0.8v0.8h-0.8zM345.1 370.9h0.8v0.8h-0.8zM347.8 372.6h0.8v0.8h-0.8zM339.8 374.8h0.8v0.8h-0.8zM339.6 374.6h0.8v0.8h-0.8zM351.6 368.9h0.8v0.8h-0.8zM347.1 370.1h0.8v0.8h-0.8zM350.9 367.7h0.8v0.8h-0.8zM352.7 362.4h0.8v0.8h-0.8zM342.4 373.9h0.8v0.8h-0.8zM349.9 365.6h0.8v0.8h-0.8zM348.3 371.5h0.8v0.8h-0.8zM346.1 371.2h0.8v0.8h-0.8zM340.6 374.4h0.8v0.8h-0.8zM347.3 366.6h0.8v0.8h-0.8zM350.2 369.1h0.8v0.8h-0.8zM349.9 366.1h0.8v0.8h-0.8zM343.0 375.1h0.8v0.8h-0.8zM350.1 367.6h0.8v0.8h-0.8zM346.8 370.0h0.8v0.8h-0.8zM346.1 366.6h0.8v0.8h-0.8zM344.0 378.1h0.8v0.8h-0.8zM347.8 370.8h0.8v0.8h-0.8zM338.4 378.0h0.8v0.8h-0.8zM344.0 373.4h0.8v0.8h-0.8zM348.5 366.9h0.8v0.8h-0.8zM345.0 370.7h0.8v0.8h-0.8zM345.3 373.1h0.8v0.8h-0.8zM348.0 371.4h0.8v0.8h-0.8zM342.7 377.5h0.8v0.8h-0.8zM345.9 369.4h0.8v0.8h-0.8zM348.8 366.4h0.8v0.8h-0.8zM345.0 373.8h0.8v0.8h-0.8zM349.4 366.2h0.8v0.8h-0.8zM350.5 366.8h0.8v0.8h-0.8zM344.1 375.6h0.8v0.8h-0.8zM344.8 370.9h0.8v0.8h-0.8zM346.6 373.8h0.8v0.8h-0.8zM346.3 370.3h0.8v0.8h-0.8zM346.3 367.5h0.8v0.8h-0.8zM349.1 370.8h0.8v0.8h-0.8zM340.4 374.9h0.8v0.8h-0.8zM342.6 374.9h0.8v0.8h-0.8zM343.1 374.7h0.8v0.8h-0.8zM342.8 375.9h0.8v0.8h-0.8zM347.8 370.2h0.8v0.8h-0.8zM344.8 374.9h0.8v0.8h-0.8zM339.8 376.9h0.8v0.8h-0.8zM346.9 373.5h0.8v0.8h-0.8zM345.1 374.0h0.8v0.8h-0.8zM352.7 367.6h0.8v0.8h-0.8zM350.0 364.7h0.8v0.8h-0.8zM346.9 371.4h0.8v0.8h-0.8zM348.2 369.9h0.8v0.8h-0.8zM345.2 372.4h0.8v0.8h-0.8zM342.3 377.8h0.8v0.8h-0.8zM345.8 370.1h0.8v0.8h-0.8zM351.0 365.2h0.8v0.8h-0.8zM344.3 375.0h0.8v0.8h-0.8zM347.7 370.9h0.8v0.8h-0.8zM346.2 373.0h0.8v0.8h-0.8zM347.4 372.7h0.8v0.8h-0.8zM345.5 369.8h0.8v0.8h-0.8zM343.2 376.3h0.8v0.8h-0.8zM346.7 367.0h0.8v0.8h-0.8zM347.3 369.5h0.8v0.8h-0.8zM345.4 370.0h0.8v0.8h-0.8zM341.3 375.3h0.8v0.8h-0.8zM342.5 374.4h0.8v0.8h-0.8zM345.9 371.5h0.8v0.8h-0.8zM350.3 364.0h0.8v0.8h-0.8zM344.3 373.6h0.8v0.8h-0.8zM346.2 368.6h0.8v0.8h-0.8zM341.5 377.5h0.8v0.8h-0.8zM347.4 371.1h0.8v0.8h-0.8zM345.7 368.0h0.8v0.8h-0.8zM348.6 367.8h0.8v0.8h-0.8zM351.5 363.8h0.8v0.8h-0.8zM346.5 371.5h0.8v0.8h-0.8zM345.5 370.6h0.8v0.8h-0.8zM340.2 377.8h0.8v0.8h-0.8zM343.7 372.4h0.8v0.8h-0.8zM345.3 371.3h0.8v0.8h-0.8zM338.1 378.4h0.8v0.8h-0.8zM342.6 374.7h0.8v0.8h-0.8zM350.5 365.8h0.8v0.8h-0.8zM344.7 367.8h0.8v0.8h-0.8zM348.6 366.9h0.8v0.8h-0.8zM345.8 368.8h0.8v0.8h-0.8zM346.4 372.9h0.8v0.8h-0.8zM345.7 372.2h0.8v0.8h-0.8zM342.2 373.9h0.8v0.8h-0.8zM346.1 370.7h0.8v0.8h-0.8zM345.1 370.7h0.8v0.8h-0.8zM345.3 374.1h0.8v0.8h-0.8zM349.4 366.3h0.8v0.8h-0.8zM343.7 374.4h0.8v0.8h-0.8zM348.6 368.7h0.8v0.8h-0.8zM348.6 367.7h0.8v0.8h-0.8zM340.0 373.3h0.8v0.8h-0.8zM348.4 369.0h0.8v0.8h-0.8zM344.0 374.6h0.8v0.8h-0.8zM343.4 377.3h0.8v0.8h-0.8zM350.0 369.2h0.8v0.8h-0.8zM346.0 375.0h0.8v0.8h-0.8zM349.9 370.4h0.8v0.8h-0.8zM341.6 379.2h0.8v0.8h-0.8zM349.2 366.8h0.8v0.8h-0.8zM348.6 368.5h0.8v0.8h-0.8zM349.7 366.3h0.8v0.8h-0.8zM344.2 370.5h0.8v0.8h-0.8zM350.9 363.6h0.8v0.8h-0.8zM341.1 374.7h0.8v0.8h-0.8zM345.9 371.6h0.8v0.8h-0.8zM348.7 371.8h0.8v0.8h-0.8zM346.9 366.8h0.8v0.8h-0.8zM345.8 371.0h0.8v0.8h-0.8zM348.0 369.2h0.8v0.8h-0.8zM349.7 367.1h0.8v0.8h-0.8zM350.5 363.8h0.8v0.8h-0.8zM350.1 368.4h0.8v0.8h-0.8zM341.5 373.1h0.8v0.8h-0.8zM344.0 374.7h0.8v0.8h-0.8zM349.0 364.5h0.8v0.8h-0.8zM343.0 371.6h0.8v0.8h-0.8zM348.1 369.1h0.8v0.8h-0.8zM346.6 372.5h0.8v0.8h-0.8zM348.2 372.2h0.8v0.8h-0.8zM343.9 372.3h0.8v0.8h-0.8zM345.5 371.8h0.8v0.8h-0.8zM349.0 366.8h0.8v0.8h-0.8zM343.1 373.1h0.8v0.8h-0.8zM340.6 372.5h0.8v0.8h-0.8zM346.6 371.9h0.8v0.8h-0.8zM345.1 370.5h0.8v0.8h-0.8zM349.2 369.2h0.8v0.8h-0.8zM347.1 371.6h0.8v0.8h-0.8zM345.7 372.7h0.8v0.8h-0.8zM345.7 368.7h0.8v0.8h-0.8zM343.1 372.9h0.8v0.8h-0.8zM343.6 367.8h0.8v0.8h-0.8zM346.4 370.8h0.8v0.8h-0.8zM345.5 372.9h0.8v0.8h-0.8zM341.3 377.6h0.8v0.8h-0.8zM342.4 374.0h0.8v0.8h-0.8zM349.3 366.5h0.8v0.8h-0.8zM348.7 367.9h0.8v0.8h-0.8zM344.1 372.6h0.8v0.8h-0.8zM340.6 376.8h0.8v0.8h-0.8zM347.7 372.8h0.8v0.8h-0.8zM348.8 369.9h0.8v0.8h-0.8zM341.7 374.5h0.8v0.8h-0.8zM347.3 371.0h0.8v0.8h-0.8zM343.7 377.0h0.8v0.8h-0.8zM343.9 374.5h0.8v0.8h-0.8zM345.0 374.4h0.8v0.8h-0.8zM349.4 369.6h0.8v0.8h-0.8zM343.0 375.4h0.8v0.8h-0.8zM352.4 363.6h0.8v0.8h-0.8zM347.1 370.3h0.8v0.8h-0.8zM346.2 375.6h0.8v0.8h-0.8zM349.6 365.4h0.8v0.8h-0.8zM349.3 371.8h0.8v0.8h-0.8zM347.1 370.2h0.8v0.8h-0.8zM349.5 369.0h0.8v0.8h-0.8zM340.7 375.4h0.8v0.8h-0.8zM349.8 365.5h0.8v0.8h-0.8zM344.6 371.3h0.8v0.8h-0.8zM350.1 363.7h0.8v0.8h-0.8zM345.6 370.8h0.8v0.8h-0.8zM343.1 371.7h0.8v0.8h-0.8zM342.8 374.6h0.8v0.8h-0.8zM344.0 369.1h0.8v0.8h-0.8zM344.7 370.6h0.8v0.8h-0.8zM344.8 371.6h0.8v0.8h-0.8zM344.8 372.1h0.8v0.8h-0.8zM346.9 370.2h0.8v0.8h-0.8zM336.9 375.3h0.8v0.8h-0.8zM341.5 377.6h0.8v0.8h-0.8zM338.9 376.9h0.8v0.8h-0.8zM350.7 364.8h0.8v0.8h-0.8zM345.3 373.0h0.8v0.8h-0.8zM346.8 369.0h0.8v0.8h-0.8zM343.3 369.4h0.8v0.8h-0.8zM347.2 371.3h0.8v0.8h-0.8zM348.6 362.6h0.8v0.8h-0.8zM346.6 374.2h0.8v0.8h-0.8zM346.7 368.7h0.8v0.8h-0.8zM343.1 373.8h0.8v0.8h-0.8zM346.5 368.5h0.8v0.8h-0.8zM341.1 377.5h0.8v0.8h-0.8zM345.3 376.7h0.8v0.8h-0.8zM342.6 376.1h0.8v0.8h-0.8zM342.8 371.2h0.8v0.8h-0.8zM341.2 371.7h0.8v0.8h-0.8zM345.4 369.5h0.8v0.8h-0.8zM339.4 374.7h0.8v0.8h-0.8zM350.3 367.2h0.8v0.8h-0.8zM342.1 375.5h0.8v0.8h-0.8zM348.0 370.2h0.8v0.8h-0.8zM342.8 369.7h0.8v0.8h-0.8zM350.5 365.5h0.8v0.8h-0.8zM348.3 365.6h0.8v0.8h-0.8zM349.5 370.3h0.8v0.8h-0.8zM347.6 366.4h0.8v0.8h-0.8zM346.7 374.5h0.8v0.8h-0.8zM343.8 375.8h0.8v0.8h-0.8zM343.0 371.0h0.8v0.8h-0.8zM349.7 369.4h0.8v0.8h-0.8zM347.7 369.8h0.8v0.8h-0.8zM346.3 366.2h0.8v0.8h-0.8zM347.5 373.9h0.8v0.8h-0.8zM348.3 371.2h0.8v0.8h-0.8zM345.1 373.2h0.8v0.8h-0.8zM342.6 376.9h0.8v0.8h-0.8zM345.9 370.5h0.8v0.8h-0.8zM345.5 372.1h0.8v0.8h-0.8zM347.0 371.9h0.8v0.8h-0.8zM346.1 366.0h0.8v0.8h-0.8zM347.6 372.1h0.8v0.8h-0.8zM341.6 376.0h0.8v0.8h-0.8zM352.2 362.5h0.8v0.8h-0.8zM348.9 368.4h0.8v0.8h-0.8zM340.6 377.0h0.8v0.8h-0.8zM339.3 378.3h0.8v0.8h-0.8zM349.0 369.1h0.8v0.8h-0.8zM345.7 370.2h0.8v0.8h-0.8zM348.9 370.7h0.8v0.8h-0.8zM349.0 370.0h0.8v0.8h-0.8zM347.4 370.6h0.8v0.8h-0.8zM344.8 376.9h0.8v0.8h-0.8zM341.0 374.8h0.8v0.8h-0.8zM342.3 373.7h0.8v0.8h-0.8zM349.4 366.7h0.8v0.8h-0.8zM344.3 372.6h0.8v0.8h-0.8zM347.2 373.3h0.8v0.8h-0.8zM349.7 365.9h0.8v0.8h-0.8zM351.5 366.0h0.8v0.8h-0.8zM348.1 372.1h0.8v0.8h-0.8zM346.3 371.8h0.8v0.8h-0.8zM344.5 370.1h0.8v0.8h-0.8zM340.3 375.4h0.8v0.8h-0.8zM342.0 374.5h0.8v0.8h-0.8zM345.3 375.1h0.8v0.8h-0.8zM346.5 372.7h0.8v0.8h-0.8zM345.5 369.7h0.8v0.8h-0.8zM342.7 371.3h0.8v0.8h-0.8zM340.7 378.8h0.8v0.8h-0.8zM345.4 372.1h0.8v0.8h-0.8zM346.9 366.9h0.8v0.8h-0.8zM342.0 370.1h0.8v0.8h-0.8zM343.5 375.9h0.8v0.8h-0.8zM338.8 376.1h0.8v0.8h-0.8zM346.6 374.9h0.8v0.8h-0.8zM347.5 368.9h0.8v0.8h-0.8zM347.4 369.7h0.8v0.8h-0.8zM343.4 372.9h0.8v0.8h-0.8zM346.6 370.2h0.8v0.8h-0.8zM347.1 368.6h0.8v0.8h-0.8zM347.4 368.5h0.8v0.8h-0.8zM350.2 368.5h0.8v0.8h-0.8zM346.3 377.2h0.8v0.8h-0.8zM345.7 369.9h0.8v0.8h-0.8zM341.6 376.8h0.8v0.8h-0.8zM344.8 370.7h0.8v0.8h-0.8zM341.3 375.5h0.8v0.8h-0.8zM341.1 375.2h0.8v0.8h-0.8zM343.2 375.8h0.8v0.8h-0.8zM343.9 373.6h0.8v0.8h-0.8zM342.8 378.2h0.8v0.8h-0.8zM344.4 372.1h0.8v0.8h-0.8zM343.3 376.1h0.8v0.8h-0.8zM346.0 369.6h0.8v0.8h-0.8zM349.4 365.1h0.8v0.8h-0.8zM349.3 367.7h0.8v0.8h-0.8zM340.7 376.8h0.8v0.8h-0.8zM346.5 369.5h0.8v0.8h-0.8zM345.5 371.5h0.8v0.8h-0.8zM345.8 369.7h0.8v0.8h-0.8zM351.4 365.4h0.8v0.8h-0.8zM349.7 366.2h0.8v0.8h-0.8zM344.8 370.2h0.8v0.8h-0.8zM347.4 373.4h0.8v0.8h-0.8zM345.4 370.1h0.8v0.8h-0.8zM344.5 374.6h0.8v0.8h-0.8zM347.5 374.8h0.8v0.8h-0.8zM346.1 371.1h0.8v0.8h-0.8zM349.6 370.8h0.8v0.8h-0.8zM339.7 376.8h0.8v0.8h-0.8zM340.6 372.3h0.8v0.8h-0.8zM344.8 372.5h0.8v0.8h-0.8zM348.8 369.4h0.8v0.8h-0.8zM348.1 370.1h0.8v0.8h-0.8zM347.8 376.7h0.8v0.8h-0.8zM349.6 366.1h0.8v0.8h-0.8zM343.3 375.9h0.8v0.8h-0.8zM349.1 368.6h0.8v0.8h-0.8zM349.0 370.0h0.8v0.8h-0.8zM345.6 369.4h0.8v0.8h-0.8zM341.6 371.8h0.8v0.8h-0.8zM347.7 368.0h0.8v0.8h-0.8zM348.6 373.4h0.8v0.8h-0.8zM343.0 374.9h0.8v0.8h-0.8zM340.4 372.9h0.8v0.8h-0.8zM348.4 368.2h0.8v0.8h-0.8zM346.2 373.0h0.8v0.8h-0.8zM345.7 373.4h0.8v0.8h-0.8zM348.5 366.6h0.8v0.8h-0.8zM346.9 370.5h0.8v0.8h-0.8zM351.5 370.3h0.8v0.8h-0.8zM344.5 377.4h0.8v0.8h-0.8zM346.6 372.2h0.8v0.8h-0.8zM346.4 370.4h0.8v0.8h-0.8zM341.6 376.5h0.8v0.8h-0.8zM344.7 376.8h0.8v0.8h-0.8zM346.1 369.7h0.8v0.8h-0.8zM345.8 374.5h0.8v0.8h-0.8zM341.3 377.4h0.8v0.8h-0.8zM344.8 370.4h0.8v0.8h-0.8zM348.2 367.6h0.8v0.8h-0.8zM348.9 368.2h0.8v0.8h-0.8zM343.4 374.1h0.8v0.8h-0.8zM347.4 367.3h0.8v0.8h-0.8zM342.8 374.8h0.8v0.8h-0.8zM347.9 370.5h0.8v0.8h-0.8zM340.9 374.2h0.8v0.8h-0.8zM344.8 372.0h0.8v0.8h-0.8zM344.4 369.3h0.8v0.8h-0.8zM342.4 372.6h0.8v0.8h-0.8zM348.0 364.2h0.8v0.8h-0.8zM341.9 374.8h0.8v0.8h-0.8zM339.4 377.9h0.8v0.8h-0.8zM341.0 373.0h0.8v0.8h-0.8zM345.6 375.2h0.8v0.8h-0.8zM347.5 372.8h0.8v0.8h-0.8zM349.4 367.4h0.8v0.8h-0.8zM341.6 370.7h0.8v0.8h-0.8zM345.8 371.9h0.8v0.8h-0.8zM342.3 374.8h0.8v0.8h-0.8zM343.3 376.9h0.8v0.8h-0.8zM343.2 369.5h0.8v0.8h-0.8zM345.2 375.4h0.8v0.8h-0.8zM340.7 374.6h0.8v0.8h-0.8zM341.7 374.9h0.8v0.8h-0.8zM345.5 371.4h0.8v0.8h-0.8zM345.1 370.8h0.8v0.8h-0.8zM349.0 370.9h0.8v0.8h-0.8zM343.1 375.5h0.8v0.8h-0.8zM346.5 371.0h0.8v0.8h-0.8zM345.9 372.6h0.8v0.8h-0.8zM343.9 372.1h0.8v0.8h-0.8zM344.0 375.6h0.8v0.8h-0.8zM341.5 371.9h0.8v0.8h-0.8zM343.3 373.1h0.8v0.8h-0.8zM349.2 369.7h0.8v0.8h-0.8zM343.8 377.3h0.8v0.8h-0.8zM348.3 372.2h0.8v0.8h-0.8zM344.7 374.5h0.8v0.8h-0.8zM349.5 370.8h0.8v0.8h-0.8zM341.5 376.6h0.8v0.8h-0.8zM345.6 371.3h0.8v0.8h-0.8zM342.4 374.9h0.8v0.8h-0.8zM348.1 373.6h0.8v0.8h-0.8zM346.9 372.8h0.8v0.8h-0.8zM344.2 374.0h0.8v0.8h-0.8zM345.5 372.1h0.8v0.8h-0.8zM341.1 377.2h0.8v0.8h-0.8zM353.3 362.4h0.8v0.8h-0.8zM344.7 379.3h0.8v0.8h-0.8zM347.3 370.6h0.8v0.8h-0.8zM340.4 377.2h0.8v0.8h-0.8zM344.6 372.6h0.8v0.8h-0.8zM343.3 376.3h0.8v0.8h-0.8zM343.0 378.0h0.8v0.8h-0.8zM344.9 371.5h0.8v0.8h-0.8zM341.2 378.0h0.8v0.8h-0.8zM344.8 369.1h0.8v0.8h-0.8zM350.3 365.6h0.8v0.8h-0.8zM342.5 378.9h0.8v0.8h-0.8zM341.0 374.8h0.8v0.8h-0.8zM339.8 376.1h0.8v0.8h-0.8zM343.2 371.8h0.8v0.8h-0.8zM344.9 369.9h0.8v0.8h-0.8zM342.2 370.0h0.8v0.8h-0.8zM343.6 373.9h0.8v0.8h-0.8zM346.8 369.4h0.8v0.8h-0.8zM346.1 371.9h0.8v0.8h-0.8zM343.4 375.8h0.8v0.8h-0.8zM345.6 370.4h0.8v0.8h-0.8zM343.3 377.9h0.8v0.8h-0.8zM348.8 368.2h0.8v0.8h-0.8zM350.3 369.4h0.8v0.8h-0.8zM345.6 373.1h0.8v0.8h-0.8zM347.6 370.4h0.8v0.8h-0.8zM344.4 371.9h0.8v0.8h-0.8zM347.9 369.4h0.8v0.8h-0.8zM350.8 366.4h0.8v0.8h-0.8zM344.1 370.4h0.8v0.8h-0.8zM345.3 372.7h0.8v0.8h-0.8zM344.0 371.7h0.8v0.8h-0.8zM347.7 373.1h0.8v0.8h-0.8zM342.6 376.8h0.8v0.8h-0.8zM342.7 377.8h0.8v0.8h-0.8zM344.6 372.8h0.8v0.8h-0.8zM345.6 370.0h0.8v0.8h-0.8zM344.6 375.5h0.8v0.8h-0.8zM339.8 376.1h0.8v0.8h-0.8zM348.5 369.8h0.8v0.8h-0.8zM341.8 374.1h0.8v0.8h-0.8zM348.0 373.5h0.8v0.8h-0.8zM349.5 366.3h0.8v0.8h-0.8zM343.5 373.9h0.8v0.8h-0.8zM340.4 378.7h0.8v0.8h-0.8zM345.4 374.6h0.8v0.8h-0.8zM343.3 375.3h0.8v0.8h-0.8zM342.8 373.6h0.8v0.8h-0.8zM349.7 364.7h0.8v0.8h-0.8zM345.5 372.8h0.8v0.8h-0.8zM351.4 365.3h0.8v0.8h-0.8zM344.4 373.9h0.8v0.8h-0.8zM351.2 366.1h0.8v0.8h-0.8zM350.0 371.8h0.8v0.8h-0.8zM344.2 376.5h0.8v0.8h-0.8zM344.5 376.4h0.8v0.8h-0.8zM347.8 370.6h0.8v0.8h-0.8zM346.6 371.2h0.8v0.8h-0.8zM352.0 364.3h0.8v0.8h-0.8zM345.8 373.0h0.8v0.8h-0.8zM348.5 368.7h0.8v0.8h-0.8zM349.3 368.7h0.8v0.8h-0.8zM343.8 374.3h0.8v0.8h-0.8zM347.5 367.3h0.8v0.8h-0.8zM344.7 371.0h0.8v0.8h-0.8zM342.6 371.3h0.8v0.8h-0.8zM345.0 370.9h0.8v0.8h-0.8zM348.3 367.6h0.8v0.8h-0.8zM352.8 365.4h0.8v0.8h-0.8zM345.9 376.9h0.8v0.8h-0.8zM346.3 371.9h0.8v0.8h-0.8zM341.4 376.5h0.8v0.8h-0.8zM341.7 373.0h0.8v0.8h-0.8zM343.9 377.5h0.8v0.8h-0.8zM343.7 373.9h0.8v0.8h-0.8zM342.3 374.4h0.8v0.8h-0.8zM343.5 373.8h0.8v0.8h-0.8zM346.4 372.8h0.8v0.8h-0.8zM344.9 372.1h0.8v0.8h-0.8zM343.4 375.8h0.8v0.8h-0.8zM346.1 370.2h0.8v0.8h-0.8zM339.5 378.5h0.8v0.8h-0.8zM346.9 373.3h0.8v0.8h-0.8zM345.6 373.8h0.8v0.8h-0.8zM351.2 366.7h0.8v0.8h-0.8zM339.9 374.2h0.8v0.8h-0.8zM343.6 374.4h0.8v0.8h-0.8zM338.8 374.3h0.8v0.8h-0.8zM342.8 374.4h0.8v0.8h-0.8zM339.0 378.9h0.8v0.8h-0.8zM345.8 368.4h0.8v0.8h-0.8zM345.1 371.7h0.8v0.8h-0.8zM345.9 371.7h0.8v0.8h-0.8zM342.5 376.5h0.8v0.8h-0.8zM351.4 365.2h0.8v0.8h-0.8zM339.9 377.2h0.8v0.8h-0.8zM350.2 365.3h0.8v0.8h-0.8zM343.5 370.5h0.8v0.8h-0.8zM339.8 377.9h0.8v0.8h-0.8zM345.0 370.4h0.8v0.8h-0.8zM345.4 370.6h0.8v0.8h-0.8zM349.3 372.4h0.8v0.8h-0.8zM340.7 378.2h0.8v0.8h-0.8zM346.4 371.5h0.8v0.8h-0.8zM347.2 373.4h0.8v0.8h-0.8zM347.7 367.3h0.8v0.8h-0.8zM342.3 375.4h0.8v0.8h-0.8zM340.5 377.9h0.8v0.8h-0.8zM346.6 368.9h0.8v0.8h-0.8zM343.1 372.6h0.8v0.8h-0.8zM345.9 372.3h0.8v0.8h-0.8zM343.0 377.1h0.8v0.8h-0.8zM342.0 375.9h0.8v0.8h-0.8zM344.5 370.3h0.8v0.8h-0.8zM342.4 372.3h0.8v0.8h-0.8zM347.8 368.4h0.8v0.8h-0.8zM341.4 378.7h0.8v0.8h-0.8zM346.2 375.7h0.8v0.8h-0.8zM345.3 373.4h0.8v0.8h-0.8zM341.1 376.1h0.8v0.8h-0.8zM345.6 373.7h0.8v0.8h-0.8zM349.1 367.4h0.8v0.8h-0.8zM343.3 371.8h0.8v0.8h-0.8zM342.7 374.6h0.8v0.8h-0.8zM350.3 370.0h0.8v0.8h-0.8zM343.3 372.4h0.8v0.8h-0.8zM343.1 376.7h0.8v0.8h-0.8zM350.0 367.6h0.8v0.8h-0.8zM350.1 366.1h0.8v0.8h-0.8zM344.1 373.9h0.8v0.8h-0.8zM341.0 376.4h0.8v0.8h-0.8zM340.7 372.2h0.8v0.8h-0.8zM345.9 372.6h0.8v0.8h-0.8zM349.0 367.1h0.8v0.8h-0.8zM347.7 367.1h0.8v0.8h-0.8zM348.0 367.0h0.8v0.8h-0.8zM343.0 371.2h0.8v0.8h-0.8zM349.9 365.4h0.8v0.8h-0.8zM348.5 367.9h0.8v0.8h-0.8zM346.8 371.9h0.8v0.8h-0.8zM342.1 376.9h0.8v0.8h-0.8zM342.8 372.3h0.8v0.8h-0.8zM348.3 367.9h0.8v0.8h-0.8zM349.4 367.4h0.8v0.8h-0.8zM343.4 372.8h0.8v0.8h-0.8zM344.5 371.3h0.8v0.8h-0.8zM347.5 367.9h0.8v0.8h-0.8zM349.1 366.6h0.8v0.8h-0.8zM344.2 371.6h0.8v0.8h-0.8zM350.3 361.7h0.8v0.8h-0.8zM349.2 370.0h0.8v0.8h-0.8zM350.9 369.4h0.8v0.8h-0.8zM348.1 364.9h0.8v0.8h-0.8zM344.6 370.4h0.8v0.8h-0.8zM344.4 372.5h0.8v0.8h-0.8zM349.5 368.9h0.8v0.8h-0.8zM344.2 371.2h0.8v0.8h-0.8zM346.4 370.8h0.8v0.8h-0.8zM345.1 374.6h0.8v0.8h-0.8zM348.5 366.3h0.8v0.8h-0.8zM348.0 366.2h0.8v0.8h-0.8zM341.7 372.1h0.8v0.8h-0.8zM348.5 372.5h0.8v0.8h-0.8zM340.6 375.8h0.8v0.8h-0.8zM342.1 376.0h0.8v0.8h-0.8zM346.8 366.7h0.8v0.8h-0.8zM349.9 371.1h0.8v0.8h-0.8zM344.3 373.1h0.8v0.8h-0.8zM344.6 368.0h0.8v0.8h-0.8zM343.0 376.0h0.8v0.8h-0.8zM346.0 372.9h0.8v0.8h-0.8zM341.9 375.6h0.8v0.8h-0.8zM341.2 373.7h0.8v0.8h-0.8zM349.3 371.3h0.8v0.8h-0.8zM342.8 375.9h0.8v0.8h-0.8zM348.7 371.1h0.8v0.8h-0.8zM341.0 372.9h0.8v0.8h-0.8zM345.7 369.5h0.8v0.8h-0.8zM340.8 376.4h0.8v0.8h-0.8zM345.2 372.4h0.8v0.8h-0.8zM341.8 370.7h0.8v0.8h-0.8zM349.9 367.6h0.8v0.8h-0.8zM343.1 377.2h0.8v0.8h-0.8zM344.0 377.1h0.8v0.8h-0.8zM347.2 371.8h0.8v0.8h-0.8zM343.5 375.9h0.8v0.8h-0.8zM341.3 376.6h0.8v0.8h-0.8zM349.2 369.6h0.8v0.8h-0.8zM343.8 369.9h0.8v0.8h-0.8zM349.1 366.7h0.8v0.8h-0.8zM343.2 378.9h0.8v0.8h-0.8zM353.4 361.7h0.8v0.8h-0.8zM350.1 368.6h0.8v0.8h-0.8zM347.6 371.0h0.8v0.8h-0.8zM344.0 368.6h0.8v0.8h-0.8zM342.5 374.1h0.8v0.8h-0.8zM342.9 375.2h0.8v0.8h-0.8zM346.1 372.9h0.8v0.8h-0.8zM351.6 363.0h0.8v0.8h-0.8zM350.0 370.8h0.8v0.8h-0.8zM343.4 370.3h0.8v0.8h-0.8zM346.9 373.4h0.8v0.8h-0.8zM345.7 368.1h0.8v0.8h-0.8zM346.3 370.6h0.8v0.8h-0.8zM345.1 374.6h0.8v0.8h-0.8zM350.8 364.6h0.8v0.8h-0.8zM340.5 373.8h0.8v0.8h-0.8zM346.0 369.8h0.8v0.8h-0.8zM336.1 376.9h0.8v0.8h-0.8zM348.3 370.8h0.8v0.8h-0.8zM343.4 378.6h0.8v0.8h-0.8zM344.0 374.0h0.8v0.8h-0.8zM343.7 376.9h0.8v0.8h-0.8zM344.7 372.7h0.8v0.8h-0.8zM345.5 369.9h0.8v0.8h-0.8zM350.1 367.0h0.8v0.8h-0.8zM341.8 373.0h0.8v0.8h-0.8zM346.1 371.4h0.8v0.8h-0.8zM343.3 371.4h0.8v0.8h-0.8zM349.5 367.2h0.8v0.8h-0.8zM349.2 368.8h0.8v0.8h-0.8zM344.0 371.8h0.8v0.8h-0.8zM342.6 377.9h0.8v0.8h-0.8zM346.6 374.2h0.8v0.8h-0.8zM350.6 366.9h0.8v0.8h-0.8zM347.1 372.7h0.8v0.8h-0.8zM350.8 365.3h0.8v0.8h-0.8zM349.7 370.9h0.8v0.8h-0.8zM343.5 376.2h0.8v0.8h-0.8zM345.9 373.0h0.8v0.8h-0.8zM348.4 368.1h0.8v0.8h-0.8zM349.1 371.8h0.8v0.8h-0.8zM348.8 369.5h0.8v0.8h-0.8zM346.3 371.3h0.8v0.8h-0.8zM348.9 367.5h0.8v0.8h-0.8zM343.8 372.6h0.8v0.8h-0.8zM345.1 373.1h0.8v0.8h-0.8zM345.5 371.5h0.8v0.8h-0.8zM351.9 362.2h0.8v0.8h-0.8zM347.3 371.7h0.8v0.8h-0.8zM346.0 371.7h0.8v0.8h-0.8zM342.0 376.7h0.8v0.8h-0.8zM347.2 367.9h0.8v0.8h-0.8zM348.1 371.0h0.8v0.8h-0.8zM346.2 371.6h0.8v0.8h-0.8zM342.7 378.8h0.8v0.8h-0.8zM354.2 364.2h0.8v0.8h-0.8zM347.9 362.9h0.8v0.8h-0.8zM342.6 374.0h0.8v0.8h-0.8zM345.0 371.0h0.8v0.8h-0.8zM339.2 378.6h0.8v0.8h-0.8zM339.7 377.7h0.8v0.8h-0.8zM350.3 370.5h0.8v0.8h-0.8zM348.0 370.7h0.8v0.8h-0.8zM337.8 377.4h0.8v0.8h-0.8zM348.0 370.2h0.8v0.8h-0.8zM344.8 370.7h0.8v0.8h-0.8zM344.4 374.2h0.8v0.8h-0.8zM350.8 365.2h0.8v0.8h-0.8zM346.8 368.8h0.8v0.8h-0.8zM350.7 367.3h0.8v0.8h-0.8zM343.1 373.2h0.8v0.8h-0.8zM348.1 368.9h0.8v0.8h-0.8zM349.1 366.1h0.8v0.8h-0.8zM341.3 373.2h0.8v0.8h-0.8zM347.3 375.1h0.8v0.8h-0.8zM340.5 375.1h0.8v0.8h-0.8zM349.4 362.7h0.8v0.8h-0.8zM340.7 371.3h0.8v0.8h-0.8zM343.8 375.2h0.8v0.8h-0.8zM346.5 373.2h0.8v0.8h-0.8zM347.0 368.7h0.8v0.8h-0.8zM346.1 372.3h0.8v0.8h-0.8zM341.1 371.1h0.8v0.8h-0.8zM344.2 374.1h0.8v0.8h-0.8zM343.5 369.3h0.8v0.8h-0.8zM343.4 376.2h0.8v0.8h-0.8zM344.0 376.2h0.8v0.8h-0.8zM339.0 374.2h0.8v0.8h-0.8zM341.9 374.3h0.8v0.8h-0.8zM346.0 369.7h0.8v0.8h-0.8zM337.9 379.0h0.8v0.8h-0.8zM346.6 366.5h0.8v0.8h-0.8zM340.7 376.9h0.8v0.8h-0.8zM345.0 370.6h0.8v0.8h-0.8zM350.5 364.9h0.8v0.8h-0.8zM341.4 377.1h0.8v0.8h-0.8zM345.9 371.3h0.8v0.8h-0.8zM347.2 375.3h0.8v0.8h-0.8zM350.6 366.8h0.8v0.8h-0.8zM345.7 373.5h0.8v0.8h-0.8zM348.2 369.2h0.8v0.8h-0.8zM343.9 376.8h0.8v0.8h-0.8zM345.6 368.7h0.8v0.8h-0.8zM348.8 370.3h0.8v0.8h-0.8zM347.1 369.1h0.8v0.8h-0.8zM343.9 372.0h0.8v0.8h-0.8zM345.8 374.7h0.8v0.8h-0.8zM346.1 368.5h0.8v0.8h-0.8zM348.4 371.4h0.8v0.8h-0.8zM350.8 366.6h0.8v0.8h-0.8zM342.4 374.7h0.8v0.8h-0.8zM342.5 373.6h0.8v0.8h-0.8zM341.4 377.0h0.8v0.8h-0.8zM345.3 370.5h0.8v0.8h-0.8zM350.9 364.4h0.8v0.8h-0.8zM350.5 370.8h0.8v0.8h-0.8zM347.3 374.8h0.8v0.8h-0.8zM349.3 372.2h0.8v0.8h-0.8zM346.9 367.8h0.8v0.8h-0.8zM341.2 372.9h0.8v0.8h-0.8zM342.7 373.4h0.8v0.8h-0.8zM343.6 368.7h0.8v0.8h-0.8zM338.8 378.6h0.8v0.8h-0.8zM344.4 375.5h0.8v0.8h-0.8zM343.3 372.4h0.8v0.8h-0.8zM344.7 368.5h0.8v0.8h-0.8zM347.5 371.9h0.8v0.8h-0.8zM347.3 367.8h0.8v0.8h-0.8zM351.4 365.6h0.8v0.8h-0.8zM348.2 371.2h0.8v0.8h-0.8zM348.7 365.7h0.8v0.8h-0.8zM345.2 371.7h0.8v0.8h-0.8zM346.1 372.4h0.8v0.8h-0.8zM347.5 369.2h0.8v0.8h-0.8zM349.7 370.1h0.8v0.8h-0.8zM344.5 369.1h0.8v0.8h-0.8zM338.4 379.1h0.8v0.8h-0.8zM344.6 372.6h0.8v0.8h-0.8zM345.5 371.6h0.8v0.8h-0.8zM349.5 366.9h0.8v0.8h-0.8zM343.2 373.3h0.8v0.8h-0.8zM346.5 368.9h0.8v0.8h-0.8zM344.3 372.9h0.8v0.8h-0.8zM340.4 373.3h0.8v0.8h-0.8zM339.5 375.6h0.8v0.8h-0.8zM341.1 375.6h0.8v0.8h-0.8zM345.8 370.1h0.8v0.8h-0.8zM342.7 378.5h0.8v0.8h-0.8zM342.2 370.1h0.8v0.8h-0.8zM342.9 371.1h0.8v0.8h-0.8zM343.3 373.1h0.8v0.8h-0.8zM344.1 369.0h0.8v0.8h-0.8zM347.0 372.5h0.8v0.8h-0.8zM341.8 378.3h0.8v0.8h-0.8zM347.2 370.4h0.8v0.8h-0.8zM349.3 365.5h0.8v0.8h-0.8zM344.3 374.2h0.8v0.8h-0.8zM347.3 369.8h0.8v0.8h-0.8zM346.1 370.4h0.8v0.8h-0.8zM346.0 370.0h0.8v0.8h-0.8zM345.3 370.3h0.8v0.8h-0.8zM341.8 371.9h0.8v0.8h-0.8zM343.0 374.6h0.8v0.8h-0.8zM343.1 374.7h0.8v0.8h-0.8zM348.6 367.6h0.8v0.8h-0.8zM342.5 374.4h0.8v0.8h-0.8zM348.6 365.4h0.8v0.8h-0.8zM353.5 360.2h0.8v0.8h-0.8zM348.1 368.9h0.8v0.8h-0.8zM351.6 366.8h0.8v0.8h-0.8zM350.5 369.2h0.8v0.8h-0.8zM347.0 371.7h0.8v0.8h-0.8zM345.1 377.7h0.8v0.8h-0.8zM346.3 372.6h0.8v0.8h-0.8zM345.0 370.5h0.8v0.8h-0.8zM341.6 375.0h0.8v0.8h-0.8zM343.0 371.9h0.8v0.8h-0.8zM346.4 372.2h0.8v0.8h-0.8zM345.9 369.8h0.8v0.8h-0.8zM347.0 373.4h0.8v0.8h-0.8zM347.9 368.2h0.8v0.8h-0.8zM345.3 374.3h0.8v0.8h-0.8zM341.2 375.4h0.8v0.8h-0.8zM345.4 374.2h0.8v0.8h-0.8zM340.9 379.1h0.8v0.8h-0.8zM349.0 365.3h0.8v0.8h-0.8zM349.7 372.4h0.8v0.8h-0.8zM345.7 373.9h0.8v0.8h-0.8zM344.1 373.7h0.8v0.8h-0.8zM353.4 366.2h0.8v0.8h-0.8zM344.0 374.8h0.8v0.8h-0.8zM344.0 373.4h0.8v0.8h-0.8zM344.8 376.8h0.8v0.8h-0.8zM346.0 375.5h0.8v0.8h-0.8zM346.6 375.0h0.8v0.8h-0.8zM343.0 371.5h0.8v0.8h-0.8zM343.5 374.7h0.8v0.8h-0.8zM349.3 369.0h0.8v0.8h-0.8zM344.3 377.8h0.8v0.8h-0.8zM346.8 371.0h0.8v0.8h-0.8zM344.9 375.5h0.8v0.8h-0.8zM343.3 370.8h0.8v0.8h-0.8zM345.9 372.4h0.8v0.8h-0.8zM344.1 372.4h0.8v0.8h-0.8zM344.7 369.3h0.8v0.8h-0.8zM347.5 368.0h0.8v0.8h-0.8zM341.7 377.5h0.8v0.8h-0.8zM351.6 367.2h0.8v0.8h-0.8zM340.3 375.7h0.8v0.8h-0.8zM348.2 369.5h0.8v0.8h-0.8zM348.0 370.7h0.8v0.8h-0.8zM341.9 377.0h0.8v0.8h-0.8zM343.3 375.9h0.8v0.8h-0.8zM350.4 367.4h0.8v0.8h-0.8zM343.4 374.5h0.8v0.8h-0.8zM345.2 371.7h0.8v0.8h-0.8zM347.4 367.6h0.8v0.8h-0.8zM346.1 368.6h0.8v0.8h-0.8zM348.9 369.8h0.8v0.8h-0.8zM347.8 372.2h0.8v0.8h-0.8zM350.3 366.3h0.8v0.8h-0.8zM345.0 369.3h0.8v0.8h-0.8zM344.4 376.6h0.8v0.8h-0.8zM347.5 368.0h0.8v0.8h-0.8zM345.4 370.2h0.8v0.8h-0.8zM348.9 366.3h0.8v0.8h-0.8zM349.9 366.5h0.8v0.8h-0.8zM343.6 377.0h0.8v0.8h-0.8zM348.3 369.9h0.8v0.8h-0.8zM348.7 366.9h0.8v0.8h-0.8zM340.7 377.5h0.8v0.8h-0.8zM347.2 370.8h0.8v0.8h-0.8zM343.8 375.4h0.8v0.8h-0.8zM341.9 376.9h0.8v0.8h-0.8zM348.2 369.6h0.8v0.8h-0.8zM345.7 367.9h0.8v0.8h-0.8zM344.5 372.5h0.8v0.8h-0.8zM344.2 372.4h0.8v0.8h-0.8zM347.0 371.9h0.8v0.8h-0.8zM348.3 368.4h0.8v0.8h-0.8zM345.5 373.0h0.8v0.8h-0.8zM341.9 378.7h0.8v0.8h-0.8zM344.8 375.1h0.8v0.8h-0.8zM347.3 370.6h0.8v0.8h-0.8zM351.4 367.5h0.8v0.8h-0.8zM346.4 368.5h0.8v0.8h-0.8zM342.1 374.8h0.8v0.8h-0.8zM343.8 372.2h0.8v0.8h-0.8zM344.3 376.9h0.8v0.8h-0.8zM345.4 371.9h0.8v0.8h-0.8zM348.1 371.1h0.8v0.8h-0.8zM338.4 378.3h0.8v0.8h-0.8zM350.6 366.1h0.8v0.8h-0.8zM350.6 367.5h0.8v0.8h-0.8zM349.0 366.4h0.8v0.8h-0.8zM348.1 369.0h0.8v0.8h-0.8zM343.7 374.8h0.8v0.8h-0.8zM343.3 370.3h0.8v0.8h-0.8zM349.6 366.6h0.8v0.8h-0.8zM343.6 368.9h0.8v0.8h-0.8zM346.1 371.8h0.8v0.8h-0.8zM345.8 368.4h0.8v0.8h-0.8zM348.0 365.6h0.8v0.8h-0.8zM347.9 370.3h0.8v0.8h-0.8zM346.6 368.1h0.8v0.8h-0.8zM344.4 367.9h0.8v0.8h-0.8zM347.9 369.1h0.8v0.8h-0.8zM347.9 369.8h0.8v0.8h-0.8zM347.6 372.2h0.8v0.8h-0.8zM342.8 372.6h0.8v0.8h-0.8zM348.0 369.8h0.8v0.8h-0.8zM354.7 365.4h0.8v0.8h-0.8zM345.7 373.2h0.8v0.8h-0.8zM347.4 369.9h0.8v0.8h-0.8zM341.5 374.8h0.8v0.8h-0.8zM340.0 376.2h0.8v0.8h-0.8zM348.5 371.4h0.8v0.8h-0.8zM335.9 378.9h0.8v0.8h-0.8zM344.1 374.6h0.8v0.8h-0.8zM348.1 372.6h0.8v0.8h-0.8zM345.4 370.0h0.8v0.8h-0.8zM346.3 366.0h0.8v0.8h-0.8zM344.8 373.5h0.8v0.8h-0.8zM347.2 369.0h0.8v0.8h-0.8zM348.5 368.1h0.8v0.8h-0.8zM342.1 376.0h0.8v0.8h-0.8zM348.6 369.2h0.8v0.8h-0.8zM349.2 368.8h0.8v0.8h-0.8zM349.7 368.9h0.8v0.8h-0.8zM345.8 368.4h0.8v0.8h-0.8zM345.1 369.9h0.8v0.8h-0.8zM345.5 368.6h0.8v0.8h-0.8zM346.4 366.5h0.8v0.8h-0.8zM339.6 373.6h0.8v0.8h-0.8zM352.9 363.3h0.8v0.8h-0.8zM341.9 376.5h0.8v0.8h-0.8zM346.9 372.5h0.8v0.8h-0.8zM342.2 374.9h0.8v0.8h-0.8zM348.4 368.5h0.8v0.8h-0.8zM353.6 368.0h0.8v0.8h-0.8zM350.6 367.7h0.8v0.8h-0.8zM341.8 366.9h0.8v0.8h-0.8zM342.9 370.8h0.8v0.8h-0.8zM338.5 376.1h0.8v0.8h-0.8zM346.3 368.4h0.8v0.8h-0.8zM349.1 366.8h0.8v0.8h-0.8zM343.9 375.0h0.8v0.8h-0.8zM341.4 374.3h0.8v0.8h-0.8zM345.5 374.7h0.8v0.8h-0.8zM346.7 371.1h0.8v0.8h-0.8zM341.5 376.6h0.8v0.8h-0.8zM349.0 368.1h0.8v0.8h-0.8zM347.5 370.7h0.8v0.8h-0.8zM345.3 371.6h0.8v0.8h-0.8zM347.8 371.9h0.8v0.8h-0.8zM345.9 367.5h0.8v0.8h-0.8zM341.6 376.3h0.8v0.8h-0.8zM345.5 369.0h0.8v0.8h-0.8zM344.9 370.0h0.8v0.8h-0.8zM352.2 367.3h0.8v0.8h-0.8zM348.0 372.1h0.8v0.8h-0.8zM342.4 372.8h0.8v0.8h-0.8zM345.1 373.1h0.8v0.8h-0.8zM344.5 373.5h0.8v0.8h-0.8zM341.8 375.6h0.8v0.8h-0.8zM348.6 369.1h0.8v0.8h-0.8zM343.5 375.0h0.8v0.8h-0.8zM347.7 368.6h0.8v0.8h-0.8zM346.4 371.1h0.8v0.8h-0.8zM349.0 368.6h0.8v0.8h-0.8zM349.0 368.0h0.8v0.8h-0.8zM347.2 369.0h0.8v0.8h-0.8zM342.8 372.0h0.8v0.8h-0.8zM348.2 371.0h0.8v0.8h-0.8zM348.9 368.0h0.8v0.8h-0.8zM347.1 370.7h0.8v0.8h-0.8zM342.9 375.7h0.8v0.8h-0.8zM346.8 371.6h0.8v0.8h-0.8zM347.2 376.7h0.8v0.8h-0.8zM347.8 368.6h0.8v0.8h-0.8zM349.2 367.8h0.8v0.8h-0.8zM346.6 369.3h0.8v0.8h-0.8zM348.6 367.9h0.8v0.8h-0.8zM345.8 372.5h0.8v0.8h-0.8zM346.2 374.2h0.8v0.8h-0.8zM346.0 373.8h0.8v0.8h-0.8zM343.3 371.4h0.8v0.8h-0.8zM346.9 370.7h0.8v0.8h-0.8zM346.1 369.9h0.8v0.8h-0.8zM343.1 377.5h0.8v0.8h-0.8zM349.0 367.2h0.8v0.8h-0.8zM343.6 370.5h0.8v0.8h-0.8zM345.2 369.5h0.8v0.8h-0.8zM347.8 372.2h0.8v0.8h-0.8zM343.6 373.0h0.8v0.8h-0.8zM341.7 374.7h0.8v0.8h-0.8zM343.9 376.0h0.8v0.8h-0.8zM344.4 375.1h0.8v0.8h-0.8zM348.1 368.5h0.8v0.8h-0.8zM345.2 372.3h0.8v0.8h-0.8zM346.3 375.6h0.8v0.8h-0.8zM340.7 377.6h0.8v0.8h-0.8zM348.7 366.2h0.8v0.8h-0.8zM350.7 364.2h0.8v0.8h-0.8zM348.3 371.9h0.8v0.8h-0.8zM350.1 366.8h0.8v0.8h-0.8zM348.5 366.1h0.8v0.8h-0.8zM347.5 367.4h0.8v0.8h-0.8zM344.9 370.7h0.8v0.8h-0.8zM345.7 372.7h0.8v0.8h-0.8zM350.6 368.7h0.8v0.8h-0.8zM350.9 367.7h0.8v0.8h-0.8zM347.4 374.7h0.8v0.8h-0.8zM346.3 370.8h0.8v0.8h-0.8zM340.4 376.0h0.8v0.8h-0.8zM344.9 372.8h0.8v0.8h-0.8zM340.6 377.8h0.8v0.8h-0.8zM343.5 374.0h0.8v0.8h-0.8zM344.7 372.7h0.8v0.8h-0.8zM347.7 371.2h0.8v0.8h-0.8zM342.6 375.6h0.8v0.8h-0.8zM348.1 374.9h0.8v0.8h-0.8zM347.4 370.5h0.8v0.8h-0.8zM344.3 371.0h0.8v0.8h-0.8zM347.6 365.8h0.8v0.8h-0.8zM341.0 377.2h0.8v0.8h-0.8zM343.3 377.8h0.8v0.8h-0.8zM349.5 366.5h0.8v0.8h-0.8zM350.8 365.6h0.8v0.8h-0.8zM347.3 369.1h0.8v0.8h-0.8zM344.0 372.7h0.8v0.8h-0.8zM347.6 370.2h0.8v0.8h-0.8zM347.1 371.2h0.8v0.8h-0.8zM349.8 372.9h0.8v0.8h-0.8zM341.5 374.5h0.8v0.8h-0.8zM345.3 368.6h0.8v0.8h-0.8zM348.1 368.4h0.8v0.8h-0.8zM345.7 377.4h0.8v0.8h-0.8zM344.0 375.8h0.8v0.8h-0.8zM344.6 373.8h0.8v0.8h-0.8zM344.3 376.9h0.8v0.8h-0.8zM346.5 368.0h0.8v0.8h-0.8zM349.9 367.7h0.8v0.8h-0.8zM341.4 373.7h0.8v0.8h-0.8zM345.9 372.4h0.8v0.8h-0.8zM342.9 374.6h0.8v0.8h-0.8zM346.2 366.8h0.8v0.8h-0.8zM351.1 366.7h0.8v0.8h-0.8zM342.8 376.1h0.8v0.8h-0.8zM353.1 365.6h0.8v0.8h-0.8zM347.7 367.9h0.8v0.8h-0.8zM350.7 365.0h0.8v0.8h-0.8zM342.4 372.5h0.8v0.8h-0.8zM342.9 371.6h0.8v0.8h-0.8zM345.1 370.5h0.8v0.8h-0.8zM343.8 374.9h0.8v0.8h-0.8zM350.4 366.0h0.8v0.8h-0.8zM343.0 373.6h0.8v0.8h-0.8zM345.6 368.1h0.8v0.8h-0.8z" fill="#1a38ff" opacity="0.75"/>
<path d="M356.10,361.30 L378.40,361.30 L378.40,379.70" fill="none" stroke="#707070" stroke-width="0.6"/>
<rect x="325.60" y="341.20" width="1.6" height="40.10" fill="#111"/>
<rect x="325.60" y="379.90" width="53.90" height="1.6" fill="#111"/>
<rect x="324.40" y="380.00" width="1.6" height="0.6" fill="#111"/>
<rect x="324.40" y="373.79" width="1.6" height="0.6" fill="#111"/>
<rect x="324.40" y="367.59" width="1.6" height="0.6" fill="#111"/>
<rect x="324.40" y="361.38" width="1.6" height="0.6" fill="#111"/>
<rect x="324.40" y="355.17" width="1.6" height="0.6" fill="#111"/>
<rect x="324.40" y="348.97" width="1.6" height="0.6" fill="#111"/>
<rect x="324.40" y="342.76" width="1.6" height="0.6" fill="#111"/>
<rect x="326.50" y="381.90" width="8.5" height="1.8" fill="#333" opacity="0.6"/>
<rect x="327.00" y="381.60" width="0.8" height="2.5" fill="#222" opacity="0.35"/>
<rect x="329.10" y="381.60" width="0.8" height="2.5" fill="#222" opacity="0.35"/>
<rect x="331.20" y="381.60" width="0.8" height="2.5" fill="#222" opacity="0.35"/>
<rect x="333.30" y="381.60" width="0.8" height="2.5" fill="#222" opacity="0.35"/>
<rect x="338.17" y="381.90" width="8.5" height="1.8" fill="#333" opacity="0.6"/>
<rect x="338.67" y="381.60" width="0.8" height="2.5" fill="#222" opacity="0.35"/>
<rect x="340.77" y="381.60" width="0.8" height="2.5" fill="#222" opacity="0.35"/>
<rect x="342.87" y="381.60" width="0.8" height="2.5" fill="#222" opacity="0.35"/>
<rect x="344.97" y="381.60" width="0.8" height="2.5" fill="#222" opacity="0.35"/>
<rect x="349.83" y="381.90" width="8.5" height="1.8" fill="#333" opacity="0.6"/>
<rect x="350.33" y="381.60" width="0.8" height="2.5" fill="#222" opacity="0.35"/>
<rect x="352.43" y="381.60" width="0.8" height="2.5" fill="#222" opacity="0.35"/>
<rect x="354.53" y="381.60" width="0.8" height="2.5" fill="#222" opacity="0.35"/>
<rect x="356.63" y="381.60" width="0.8" height="2.5" fill="#222" opacity="0.35"/>
<rect x="361.50" y="381.90" width="8.5" height="1.8" fill="#333" opacity="0.6"/>
<rect x="362.00" y="381.60" width="0.8" height="2.5" fill="#222" opacity="0.35"/>
<rect x="364.10" y="381.60" width="0.8" height="2.5" fill="#222" opacity="0.35"/>
<rect x="366.20" y="381.60" width="0.8" height="2.5" fill="#222" opacity="0.35"/>
<rect x="368.30" y="381.60" width="0.8" height="2.5" fill="#222" opacity="0.35"/>
<rect x="373.17" y="381.90" width="8.5" height="1.8" fill="#333" opacity="0.6"/>
<rect x="373.67" y="381.60" width="0.8" height="2.5" fill="#222" opacity="0.35"/>
<rect x="375.77" y="381.60" width="0.8" height="2.5" fill="#222" opacity="0.35"/>
<rect x="377.87" y="381.60" width="0.8" height="2.5" fill="#222" opacity="0.35"/>
<rect x="379.97" y="381.60" width="0.8" height="2.5" fill="#222" opacity="0.35"/>
<text x="360.20" y="359.10" font-size="8.5" font-weight="normal" textLength="14.50" lengthAdjust="spacingAndGlyphs" fill="#000" stroke="#000" stroke-width="0.12">18%</text>
<rect x="251.0" y="361" width="1.2" height="29.8" fill="#111"/>
<path d="M249.3,362.8 L251.6,357.2 L253.9,362.8 Z" fill="#111"/>
<rect x="251.0" y="389.6" width="27.5" height="1.2" fill="#111"/>
<path d="M278,387.9 L285.8,390.2 L278,392.5 Z" fill="#111"/>
<text x="258.90" y="398.50" font-size="7.6" font-weight="normal" textLength="17.40" lengthAdjust="spacingAndGlyphs" fill="#000" stroke="#000" stroke-width="0.12">BrdU</text>
<g transform="translate(248.4,385) rotate(-90)">
<text x="0.00" y="0.00" font-size="7.6" font-weight="normal" textLength="20.60" lengthAdjust="spacingAndGlyphs" fill="#000" stroke="#000" stroke-width="0.12">SSC-A</text>
</g>
<circle cx="245" cy="19.5" r="2.75" fill="#f5b40c" stroke="#111" stroke-width="0.95"/>
<circle cx="252.3" cy="21.1" r="2.75" fill="#7c7cf0" stroke="#111" stroke-width="0.95"/>
<circle cx="240.5" cy="23.6" r="2.75" fill="#7c7cf0" stroke="#111" stroke-width="0.95"/>
<circle cx="247.3" cy="23.6" r="2.75" fill="#7c7cf0" stroke="#111" stroke-width="0.95"/>
<circle cx="256.4" cy="27.3" r="2.75" fill="#7c7cf0" stroke="#111" stroke-width="0.95"/>
<circle cx="238.6" cy="29.1" r="2.75" fill="#7c7cf0" stroke="#111" stroke-width="0.95"/>
<circle cx="247.7" cy="31.4" r="2.75" fill="#7c7cf0" stroke="#111" stroke-width="0.95"/>
<circle cx="243.6" cy="27.3" r="2.75" fill="#f5b40c" stroke="#111" stroke-width="0.95"/>
<circle cx="250.5" cy="27.7" r="2.75" fill="#f5b40c" stroke="#111" stroke-width="0.95"/>
<circle cx="239.1" cy="34.5" r="2.75" fill="#7c7cf0" stroke="#111" stroke-width="0.95"/>
<circle cx="248.8" cy="35.9" r="2.75" fill="#7c7cf0" stroke="#111" stroke-width="0.95"/>
<circle cx="242.7" cy="34.1" r="2.75" fill="#f5b40c" stroke="#111" stroke-width="0.95"/>
<circle cx="254.1" cy="33.8" r="2.75" fill="#f5b40c" stroke="#111" stroke-width="0.95"/>
<defs><linearGradient id="ag" x1="0" x2="1" y1="0" y2="0"><stop offset="0" stop-color="#2458cc"/><stop offset="0.3" stop-color="#3aa6ee"/><stop offset="0.5" stop-color="#55dcff"/><stop offset="0.7" stop-color="#3ab0f0"/><stop offset="1" stop-color="#1d46b8"/></linearGradient></defs>
<path d="M244.4,44.3 L249.8,44.3 L249.8,53 L252.4,53 L247.1,58.8 L241.8,53 L244.4,53 Z" fill="url(#ag)" stroke="#1a34b0" stroke-width="0.7" stroke-linejoin="miter"/>
<path d="M233.3,66 L244.8,60.2 L262.9,62.2 L263.7,63.7 L262.2,68.5 L251.8,75.8 L237.5,76.4 L234.8,74.8 L230.2,73.6 L228.8,71.6 L233.5,70 Z" fill="#fbfffb" stroke="#b8e8be" stroke-width="0.55"/>
<path d="M244.8,60.4 L262.6,62.4 L262.6,66.9 L244.8,65.1 Z" fill="#e0f7e0"/>
<path d="M233.6,66.2 L244.8,60.6 L244.8,65.1 L236,69.6" fill="none" stroke="#c8eccc" stroke-width="0.4"/>
<path d="M235.8,69.6 L244.8,65.2 L262.3,67.2 L262.2,68.7 L252.2,75.3 L237.8,75.8 L235.2,73.2 Z" fill="#d03ce0"/>
<path d="M237.5,71.8 Q248,69.8 260,68.3" fill="none" stroke="#e890f0" stroke-width="0.5"/>
<path d="M229,71.4 L234,70.2 L235.4,74.6 L230.5,73.4 Z" fill="#f6eef8" stroke="#b8e8be" stroke-width="0.5"/>
<path d="M230,72.3 L235,73.2" stroke="#d870e0" stroke-width="0.6"/>
<path d="M244.0,80.3 L250.0,80.3 L250.0,235.2 L252.0,235.2 L247.0,240.3 L241.9,235.2 L244.0,235.2 Z" fill="url(#ag)" stroke="#1a34b0" stroke-width="0.7"/>
<g fill="#2b50c4">
<path d="M232.6,263.6 C235,260.5 238,258 241,256.8 C244,254.3 248,253.6 251,254.2 C254,255 255.5,258 255,261 C254.8,262.5 254.3,263.7 253.5,264.3 L233,264.3 Z"/>
<circle cx="240.9" cy="255.9" r="2.7" stroke="#fff" stroke-width="0.6"/>
<path d="M253.3,263.5 C257.5,260.5 257.8,255 255,251.5 C254.2,250.5 253.8,249.5 253.9,248.3" fill="none" stroke="#2b50c4" stroke-width="1.3" stroke-linecap="round"/>
</g>
<circle cx="236.3" cy="261.7" r="0.5" fill="#fff"/>
<rect x="0" y="0" width="520" height="1.2" fill="#000"/>
<rect x="0" y="0" width="1.5" height="440" fill="#000"/>
<rect x="518.7" y="0" width="1.3" height="440" fill="#000"/>
<rect x="0" y="438.4" width="520" height="1.6" fill="#000"/>
</svg>
</body></html>
